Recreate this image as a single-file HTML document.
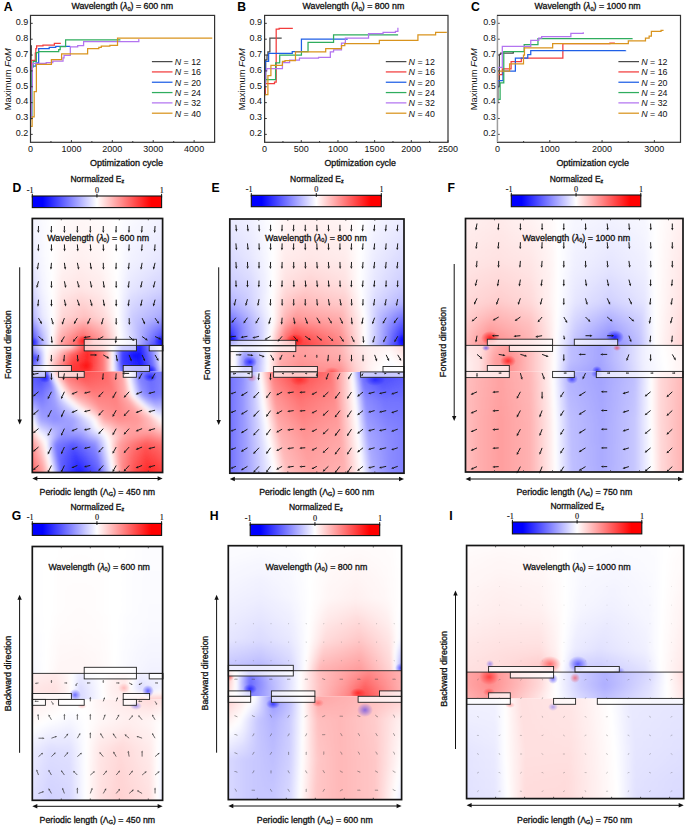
<!DOCTYPE html>
<html><head><meta charset="utf-8"><title>Figure</title>
<style>html,body{margin:0;padding:0;background:#fff;width:685px;height:825px;overflow:hidden}svg{display:block;font-family:"Liberation Sans",sans-serif}</style>
</head><body>
<svg width="685" height="825" viewBox="0 0 685 825">
<defs>
<filter id="fb" x="-5%" y="-5%" width="110%" height="110%"><feGaussianBlur stdDeviation="1.6 2.2"/></filter>
<radialGradient id="hotR"><stop offset="0" stop-color="#f00" stop-opacity="1"/><stop offset="0.45" stop-color="#f00" stop-opacity="0.55"/><stop offset="1" stop-color="#f00" stop-opacity="0"/></radialGradient>
<radialGradient id="hotB"><stop offset="0" stop-color="#00f" stop-opacity="1"/><stop offset="0.45" stop-color="#00f" stop-opacity="0.55"/><stop offset="1" stop-color="#00f" stop-opacity="0"/></radialGradient>
<linearGradient id="cbar" x1="0" x2="1" y1="0" y2="0"><stop offset="0" stop-color="#0000ff"/><stop offset="0.08" stop-color="#0000ff"/><stop offset="0.5" stop-color="#ffffff"/><stop offset="0.92" stop-color="#ff0000"/><stop offset="1" stop-color="#ff0000"/></linearGradient>
<clipPath id="c1"><rect x="32.3" y="218.5" width="130.3" height="126.9"/></clipPath>
<linearGradient id="g2" gradientUnits="userSpaceOnUse" x1="32.3" x2="162.6"><stop offset="0" stop-color="#f5f5ff"/><stop offset=".074" stop-color="#fafaff"/><stop offset=".151" stop-color="#ffffff"/><stop offset=".228" stop-color="#fffafa"/><stop offset=".366" stop-color="#fff7f7"/><stop offset=".52" stop-color="#fffafa"/><stop offset=".65" stop-color="#ffffff"/><stop offset=".75" stop-color="#fafaff"/><stop offset="1" stop-color="#f2f2ff"/></linearGradient>
<linearGradient id="g3" gradientUnits="userSpaceOnUse" x1="32.3" x2="162.6"><stop offset="0" stop-color="#f4f4ff"/><stop offset=".074" stop-color="#fafaff"/><stop offset=".151" stop-color="#ffffff"/><stop offset=".228" stop-color="#fffafa"/><stop offset=".366" stop-color="#fff7f7"/><stop offset=".52" stop-color="#fffafa"/><stop offset=".65" stop-color="#ffffff"/><stop offset=".75" stop-color="#fafaff"/><stop offset="1" stop-color="#f2f2ff"/></linearGradient>
<linearGradient id="g4" gradientUnits="userSpaceOnUse" x1="32.3" x2="162.6"><stop offset="0" stop-color="#f4f4ff"/><stop offset=".074" stop-color="#fafaff"/><stop offset=".151" stop-color="#ffffff"/><stop offset=".228" stop-color="#fff9f9"/><stop offset=".366" stop-color="#fff6f6"/><stop offset=".52" stop-color="#fff9f9"/><stop offset=".65" stop-color="#ffffff"/><stop offset=".75" stop-color="#f9f9ff"/><stop offset="1" stop-color="#f1f1ff"/></linearGradient>
<linearGradient id="g5" gradientUnits="userSpaceOnUse" x1="32.3" x2="162.6"><stop offset="0" stop-color="#f3f3ff"/><stop offset=".074" stop-color="#f9f9ff"/><stop offset=".151" stop-color="#ffffff"/><stop offset=".228" stop-color="#fff9f9"/><stop offset=".366" stop-color="#fff6f6"/><stop offset=".52" stop-color="#fff9f9"/><stop offset=".65" stop-color="#ffffff"/><stop offset=".75" stop-color="#f8f8ff"/><stop offset="1" stop-color="#f0f0ff"/></linearGradient>
<linearGradient id="g6" gradientUnits="userSpaceOnUse" x1="32.3" x2="162.6"><stop offset="0" stop-color="#f2f2ff"/><stop offset=".074" stop-color="#f9f9ff"/><stop offset=".151" stop-color="#ffffff"/><stop offset=".228" stop-color="#fff8f8"/><stop offset=".366" stop-color="#fff5f5"/><stop offset=".52" stop-color="#fff8f8"/><stop offset=".65" stop-color="#ffffff"/><stop offset=".75" stop-color="#f8f8ff"/><stop offset="1" stop-color="#efefff"/></linearGradient>
<linearGradient id="g7" gradientUnits="userSpaceOnUse" x1="32.3" x2="162.6"><stop offset="0" stop-color="#f1f1ff"/><stop offset=".074" stop-color="#f9f9ff"/><stop offset=".151" stop-color="#ffffff"/><stop offset=".228" stop-color="#fff8f8"/><stop offset=".366" stop-color="#fff4f4"/><stop offset=".52" stop-color="#fff8f8"/><stop offset=".65" stop-color="#ffffff"/><stop offset=".75" stop-color="#f7f7ff"/><stop offset="1" stop-color="#ededff"/></linearGradient>
<linearGradient id="g8" gradientUnits="userSpaceOnUse" x1="32.3" x2="162.6"><stop offset="0" stop-color="#f0f0ff"/><stop offset=".074" stop-color="#f9f9ff"/><stop offset=".151" stop-color="#ffffff"/><stop offset=".228" stop-color="#fff8f8"/><stop offset=".366" stop-color="#fff4f4"/><stop offset=".52" stop-color="#fff8f8"/><stop offset=".65" stop-color="#ffffff"/><stop offset=".75" stop-color="#f6f6ff"/><stop offset="1" stop-color="#ececff"/></linearGradient>
<linearGradient id="g9" gradientUnits="userSpaceOnUse" x1="32.3" x2="162.6"><stop offset="0" stop-color="#efefff"/><stop offset=".074" stop-color="#f9f9ff"/><stop offset=".151" stop-color="#ffffff"/><stop offset=".228" stop-color="#fff7f7"/><stop offset=".366" stop-color="#fff3f3"/><stop offset=".52" stop-color="#fff7f7"/><stop offset=".65" stop-color="#ffffff"/><stop offset=".75" stop-color="#f6f6ff"/><stop offset="1" stop-color="#ebebff"/></linearGradient>
<linearGradient id="g10" gradientUnits="userSpaceOnUse" x1="32.3" x2="162.6"><stop offset="0" stop-color="#eeeeff"/><stop offset=".074" stop-color="#f8f8ff"/><stop offset=".151" stop-color="#ffffff"/><stop offset=".228" stop-color="#fff7f7"/><stop offset=".366" stop-color="#fff3f3"/><stop offset=".52" stop-color="#fff7f7"/><stop offset=".65" stop-color="#ffffff"/><stop offset=".75" stop-color="#f5f5ff"/><stop offset="1" stop-color="#eaeaff"/></linearGradient>
<linearGradient id="g11" gradientUnits="userSpaceOnUse" x1="32.3" x2="162.6"><stop offset="0" stop-color="#eeeeff"/><stop offset=".074" stop-color="#f8f8ff"/><stop offset=".151" stop-color="#ffffff"/><stop offset=".228" stop-color="#fff6f6"/><stop offset=".366" stop-color="#fff2f2"/><stop offset=".52" stop-color="#fff6f6"/><stop offset=".65" stop-color="#ffffff"/><stop offset=".75" stop-color="#f4f4ff"/><stop offset="1" stop-color="#e9e9ff"/></linearGradient>
<linearGradient id="g12" gradientUnits="userSpaceOnUse" x1="32.3" x2="162.6"><stop offset="0" stop-color="#ededff"/><stop offset=".074" stop-color="#f8f8ff"/><stop offset=".151" stop-color="#ffffff"/><stop offset=".228" stop-color="#fff6f6"/><stop offset=".366" stop-color="#fff1f1"/><stop offset=".52" stop-color="#fff6f6"/><stop offset=".65" stop-color="#ffffff"/><stop offset=".75" stop-color="#f4f4ff"/><stop offset="1" stop-color="#e8e8ff"/></linearGradient>
<linearGradient id="g13" gradientUnits="userSpaceOnUse" x1="32.3" x2="162.6"><stop offset="0" stop-color="#ececff"/><stop offset=".074" stop-color="#f8f8ff"/><stop offset=".151" stop-color="#ffffff"/><stop offset=".228" stop-color="#fff5f5"/><stop offset=".366" stop-color="#fff1f1"/><stop offset=".52" stop-color="#fff5f5"/><stop offset=".65" stop-color="#ffffff"/><stop offset=".75" stop-color="#f3f3ff"/><stop offset="1" stop-color="#e7e7ff"/></linearGradient>
<linearGradient id="g14" gradientUnits="userSpaceOnUse" x1="32.3" x2="162.6"><stop offset="0" stop-color="#ebebff"/><stop offset=".074" stop-color="#f7f7ff"/><stop offset=".151" stop-color="#ffffff"/><stop offset=".228" stop-color="#fff5f5"/><stop offset=".366" stop-color="#fff0f0"/><stop offset=".52" stop-color="#fff5f5"/><stop offset=".65" stop-color="#ffffff"/><stop offset=".75" stop-color="#f3f3ff"/><stop offset="1" stop-color="#e6e6ff"/></linearGradient>
<linearGradient id="g15" gradientUnits="userSpaceOnUse" x1="32.3" x2="162.6"><stop offset="0" stop-color="#eaeaff"/><stop offset=".074" stop-color="#f7f7ff"/><stop offset=".151" stop-color="#ffffff"/><stop offset=".228" stop-color="#fff4f4"/><stop offset=".366" stop-color="#ffefef"/><stop offset=".52" stop-color="#fff4f4"/><stop offset=".65" stop-color="#ffffff"/><stop offset=".75" stop-color="#f2f2ff"/><stop offset="1" stop-color="#e4e4ff"/></linearGradient>
<linearGradient id="g16" gradientUnits="userSpaceOnUse" x1="32.3" x2="162.6"><stop offset="0" stop-color="#e7e7ff"/><stop offset=".074" stop-color="#f6f6ff"/><stop offset=".151" stop-color="#ffffff"/><stop offset=".228" stop-color="#fff3f3"/><stop offset=".366" stop-color="#ffeded"/><stop offset=".52" stop-color="#fff3f3"/><stop offset=".65" stop-color="#ffffff"/><stop offset=".75" stop-color="#f0f0ff"/><stop offset="1" stop-color="#e2e2ff"/></linearGradient>
<linearGradient id="g17" gradientUnits="userSpaceOnUse" x1="32.3" x2="162.6"><stop offset="0" stop-color="#e5e5ff"/><stop offset=".074" stop-color="#f6f6ff"/><stop offset=".151" stop-color="#ffffff"/><stop offset=".228" stop-color="#fff2f2"/><stop offset=".366" stop-color="#ffecec"/><stop offset=".52" stop-color="#fff2f2"/><stop offset=".65" stop-color="#ffffff"/><stop offset=".75" stop-color="#efefff"/><stop offset="1" stop-color="#e0e0ff"/></linearGradient>
<linearGradient id="g18" gradientUnits="userSpaceOnUse" x1="32.3" x2="162.6"><stop offset="0" stop-color="#e3e3ff"/><stop offset=".074" stop-color="#f5f5ff"/><stop offset=".151" stop-color="#ffffff"/><stop offset=".228" stop-color="#fff1f1"/><stop offset=".366" stop-color="#ffeaea"/><stop offset=".52" stop-color="#fff1f1"/><stop offset=".65" stop-color="#ffffff"/><stop offset=".75" stop-color="#ededff"/><stop offset="1" stop-color="#ddddff"/></linearGradient>
<linearGradient id="g19" gradientUnits="userSpaceOnUse" x1="32.3" x2="162.6"><stop offset="0" stop-color="#e1e1ff"/><stop offset=".074" stop-color="#f5f5ff"/><stop offset=".151" stop-color="#ffffff"/><stop offset=".228" stop-color="#ffefef"/><stop offset=".366" stop-color="#ffe9e9"/><stop offset=".52" stop-color="#ffefef"/><stop offset=".65" stop-color="#ffffff"/><stop offset=".75" stop-color="#ececff"/><stop offset="1" stop-color="#dbdbff"/></linearGradient>
<linearGradient id="g20" gradientUnits="userSpaceOnUse" x1="32.3" x2="162.6"><stop offset="0" stop-color="#dfdfff"/><stop offset=".074" stop-color="#f4f4ff"/><stop offset=".151" stop-color="#ffffff"/><stop offset=".228" stop-color="#ffeeee"/><stop offset=".366" stop-color="#ffe8e8"/><stop offset=".52" stop-color="#ffeeee"/><stop offset=".65" stop-color="#ffffff"/><stop offset=".75" stop-color="#eaeaff"/><stop offset="1" stop-color="#d8d8ff"/></linearGradient>
<linearGradient id="g21" gradientUnits="userSpaceOnUse" x1="32.3" x2="162.6"><stop offset="0" stop-color="#ddddff"/><stop offset=".074" stop-color="#f3f3ff"/><stop offset=".151" stop-color="#ffffff"/><stop offset=".228" stop-color="#ffeded"/><stop offset=".366" stop-color="#ffe6e6"/><stop offset=".52" stop-color="#ffeded"/><stop offset=".65" stop-color="#ffffff"/><stop offset=".75" stop-color="#e9e9ff"/><stop offset="1" stop-color="#d6d6ff"/></linearGradient>
<linearGradient id="g22" gradientUnits="userSpaceOnUse" x1="32.3" x2="162.6"><stop offset="0" stop-color="#dbdbff"/><stop offset=".074" stop-color="#f3f3ff"/><stop offset=".151" stop-color="#ffffff"/><stop offset=".228" stop-color="#ffecec"/><stop offset=".366" stop-color="#ffe5e5"/><stop offset=".52" stop-color="#ffecec"/><stop offset=".65" stop-color="#ffffff"/><stop offset=".75" stop-color="#e7e7ff"/><stop offset="1" stop-color="#d4d4ff"/></linearGradient>
<linearGradient id="g23" gradientUnits="userSpaceOnUse" x1="32.3" x2="162.6"><stop offset="0" stop-color="#d9d9ff"/><stop offset=".074" stop-color="#f2f2ff"/><stop offset=".151" stop-color="#ffffff"/><stop offset=".228" stop-color="#ffebeb"/><stop offset=".366" stop-color="#ffe3e3"/><stop offset=".52" stop-color="#ffebeb"/><stop offset=".65" stop-color="#ffffff"/><stop offset=".75" stop-color="#e6e6ff"/><stop offset="1" stop-color="#d1d1ff"/></linearGradient>
<linearGradient id="g24" gradientUnits="userSpaceOnUse" x1="32.3" x2="162.6"><stop offset="0" stop-color="#d4d4ff"/><stop offset=".074" stop-color="#f1f1ff"/><stop offset=".152" stop-color="#ffffff"/><stop offset=".228" stop-color="#ffe8e8"/><stop offset=".371" stop-color="#ffdfdf"/><stop offset=".524" stop-color="#ffe9e9"/><stop offset=".651" stop-color="#ffffff"/><stop offset=".752" stop-color="#e3e3ff"/><stop offset="1" stop-color="#ccccff"/></linearGradient>
<linearGradient id="g25" gradientUnits="userSpaceOnUse" x1="32.3" x2="162.6"><stop offset="0" stop-color="#d0d0ff"/><stop offset=".074" stop-color="#efefff"/><stop offset=".153" stop-color="#ffffff"/><stop offset=".228" stop-color="#ffe6e6"/><stop offset=".375" stop-color="#ffdada"/><stop offset=".529" stop-color="#ffe7e7"/><stop offset=".652" stop-color="#ffffff"/><stop offset=".754" stop-color="#dfdfff"/><stop offset="1" stop-color="#c7c7ff"/></linearGradient>
<linearGradient id="g26" gradientUnits="userSpaceOnUse" x1="32.3" x2="162.6"><stop offset="0" stop-color="#cbcbff"/><stop offset=".074" stop-color="#eeeeff"/><stop offset=".154" stop-color="#ffffff"/><stop offset=".228" stop-color="#ffe3e3"/><stop offset=".38" stop-color="#ffd6d6"/><stop offset=".534" stop-color="#ffe5e5"/><stop offset=".653" stop-color="#ffffff"/><stop offset=".755" stop-color="#dcdcff"/><stop offset="1" stop-color="#c1c1ff"/></linearGradient>
<linearGradient id="g27" gradientUnits="userSpaceOnUse" x1="32.3" x2="162.6"><stop offset="0" stop-color="#c6c6ff"/><stop offset=".074" stop-color="#ececff"/><stop offset=".155" stop-color="#ffffff"/><stop offset=".228" stop-color="#ffe1e1"/><stop offset=".385" stop-color="#ffd1d1"/><stop offset=".538" stop-color="#ffe3e3"/><stop offset=".654" stop-color="#ffffff"/><stop offset=".757" stop-color="#d9d9ff"/><stop offset="1" stop-color="#bcbcff"/></linearGradient>
<linearGradient id="g28" gradientUnits="userSpaceOnUse" x1="32.3" x2="162.6"><stop offset="0" stop-color="#c1c1ff"/><stop offset=".074" stop-color="#eaeaff"/><stop offset=".156" stop-color="#ffffff"/><stop offset=".228" stop-color="#ffdede"/><stop offset=".39" stop-color="#ffcdcd"/><stop offset=".543" stop-color="#ffe1e1"/><stop offset=".655" stop-color="#ffffff"/><stop offset=".759" stop-color="#d6d6ff"/><stop offset="1" stop-color="#b6b6ff"/></linearGradient>
<linearGradient id="g29" gradientUnits="userSpaceOnUse" x1="32.3" x2="162.6"><stop offset="0" stop-color="#bcbcff"/><stop offset=".074" stop-color="#e9e9ff"/><stop offset=".157" stop-color="#ffffff"/><stop offset=".228" stop-color="#ffdbdb"/><stop offset=".395" stop-color="#ffc8c8"/><stop offset=".548" stop-color="#ffdfdf"/><stop offset=".656" stop-color="#ffffff"/><stop offset=".761" stop-color="#d3d3ff"/><stop offset="1" stop-color="#b1b1ff"/></linearGradient>
<linearGradient id="g30" gradientUnits="userSpaceOnUse" x1="32.3" x2="162.6"><stop offset="0" stop-color="#b8b8ff"/><stop offset=".074" stop-color="#e7e7ff"/><stop offset=".158" stop-color="#ffffff"/><stop offset=".228" stop-color="#ffd9d9"/><stop offset=".399" stop-color="#ffc4c4"/><stop offset=".553" stop-color="#ffdddd"/><stop offset=".657" stop-color="#ffffff"/><stop offset=".763" stop-color="#cfcfff"/><stop offset="1" stop-color="#acacff"/></linearGradient>
<linearGradient id="g31" gradientUnits="userSpaceOnUse" x1="32.3" x2="162.6"><stop offset="0" stop-color="#b3b3ff"/><stop offset=".074" stop-color="#e6e6ff"/><stop offset=".159" stop-color="#ffffff"/><stop offset=".228" stop-color="#ffd6d6"/><stop offset=".404" stop-color="#ffc0c0"/><stop offset=".558" stop-color="#ffdbdb"/><stop offset=".658" stop-color="#ffffff"/><stop offset=".765" stop-color="#ccccff"/><stop offset="1" stop-color="#a6a6ff"/></linearGradient>
<linearGradient id="g32" gradientUnits="userSpaceOnUse" x1="32.3" x2="162.6"><stop offset="0" stop-color="#a2a2ff"/><stop offset=".074" stop-color="#ddddff"/><stop offset=".158" stop-color="#ffffff"/><stop offset=".225" stop-color="#ffd0d0"/><stop offset=".401" stop-color="#ffb1b1"/><stop offset=".552" stop-color="#ffd1d1"/><stop offset=".66" stop-color="#ffffff"/><stop offset=".773" stop-color="#cacaff"/><stop offset="1" stop-color="#9595ff"/></linearGradient>
<linearGradient id="g33" gradientUnits="userSpaceOnUse" x1="32.3" x2="162.6"><stop offset="0" stop-color="#9090ff"/><stop offset=".074" stop-color="#d4d4ff"/><stop offset=".156" stop-color="#ffffff"/><stop offset=".223" stop-color="#ffcaca"/><stop offset=".397" stop-color="#ffa1a1"/><stop offset=".545" stop-color="#ffc5c5"/><stop offset=".663" stop-color="#ffffff"/><stop offset=".781" stop-color="#c8c8ff"/><stop offset="1" stop-color="#8383ff"/></linearGradient>
<linearGradient id="g34" gradientUnits="userSpaceOnUse" x1="32.3" x2="162.6"><stop offset="0" stop-color="#7e7eff"/><stop offset=".074" stop-color="#cbcbff"/><stop offset=".155" stop-color="#ffffff"/><stop offset=".22" stop-color="#ffc4c4"/><stop offset=".393" stop-color="#ff9292"/><stop offset=".538" stop-color="#ffb9b9"/><stop offset=".666" stop-color="#ffffff"/><stop offset=".789" stop-color="#c5c5ff"/><stop offset="1" stop-color="#7171ff"/></linearGradient>
<linearGradient id="g35" gradientUnits="userSpaceOnUse" x1="32.3" x2="162.6"><stop offset="0" stop-color="#6c6cff"/><stop offset=".074" stop-color="#c2c2ff"/><stop offset=".154" stop-color="#ffffff"/><stop offset=".217" stop-color="#ffbebe"/><stop offset=".389" stop-color="#ff8282"/><stop offset=".532" stop-color="#ffaeae"/><stop offset=".668" stop-color="#ffffff"/><stop offset=".797" stop-color="#c3c3ff"/><stop offset="1" stop-color="#6060ff"/></linearGradient>
<linearGradient id="g36" gradientUnits="userSpaceOnUse" x1="32.3" x2="162.6"><stop offset="0" stop-color="#5b5bff"/><stop offset=".074" stop-color="#babaff"/><stop offset=".152" stop-color="#ffffff"/><stop offset=".215" stop-color="#ffb7b7"/><stop offset=".385" stop-color="#ff7272"/><stop offset=".525" stop-color="#ffa2a2"/><stop offset=".671" stop-color="#ffffff"/><stop offset=".805" stop-color="#c1c1ff"/><stop offset="1" stop-color="#4e4eff"/></linearGradient>
<linearGradient id="g37" gradientUnits="userSpaceOnUse" x1="32.3" x2="162.6"><stop offset="0" stop-color="#4a4aff"/><stop offset=".074" stop-color="#b1b1ff"/><stop offset=".151" stop-color="#ffffff"/><stop offset=".213" stop-color="#ffb1b1"/><stop offset=".381" stop-color="#ff6464"/><stop offset=".52" stop-color="#ff9898"/><stop offset=".673" stop-color="#ffffff"/><stop offset=".811" stop-color="#bebeff"/><stop offset="1" stop-color="#3c3cff"/></linearGradient>
<linearGradient id="g38" gradientUnits="userSpaceOnUse" x1="32.3" x2="162.6"><stop offset="0" stop-color="#3f3fff"/><stop offset=".074" stop-color="#acacff"/><stop offset=".151" stop-color="#ffffff"/><stop offset=".213" stop-color="#ffacac"/><stop offset=".381" stop-color="#ff5858"/><stop offset=".52" stop-color="#ff9292"/><stop offset=".673" stop-color="#ffffff"/><stop offset=".811" stop-color="#b8b8ff"/><stop offset="1" stop-color="#2b2bff"/></linearGradient>
<linearGradient id="g39" gradientUnits="userSpaceOnUse" x1="32.3" x2="162.6"><stop offset="0" stop-color="#3434ff"/><stop offset=".074" stop-color="#a6a6ff"/><stop offset=".151" stop-color="#ffffff"/><stop offset=".213" stop-color="#ffa6a6"/><stop offset=".381" stop-color="#ff4d4d"/><stop offset=".52" stop-color="#ff8d8d"/><stop offset=".673" stop-color="#ffffff"/><stop offset=".811" stop-color="#b3b3ff"/><stop offset="1" stop-color="#1b1bff"/></linearGradient>
<linearGradient id="g40" gradientUnits="userSpaceOnUse" x1="32.3" x2="162.6"><stop offset="0" stop-color="#3333ff"/><stop offset=".074" stop-color="#a6a6ff"/><stop offset=".151" stop-color="#ffffff"/><stop offset=".213" stop-color="#ffa6a6"/><stop offset=".381" stop-color="#ff4d4d"/><stop offset=".52" stop-color="#ff8c8c"/><stop offset=".673" stop-color="#ffffff"/><stop offset=".811" stop-color="#b2b2ff"/><stop offset="1" stop-color="#1919ff"/></linearGradient>
<clipPath id="c41"><rect x="32.3" y="345.4" width="130.3" height="26"/></clipPath>
<linearGradient id="g42" gradientUnits="userSpaceOnUse" x1="32.3" x2="162.6"><stop offset="0" stop-color="#b2b2ff"/><stop offset=".059" stop-color="#e6e6ff"/><stop offset=".105" stop-color="#ffffff"/><stop offset=".167" stop-color="#fff7f7"/><stop offset=".289" stop-color="#ffebeb"/><stop offset=".412" stop-color="#ff4040"/><stop offset=".535" stop-color="#ff8c8c"/><stop offset=".619" stop-color="#ffffff"/><stop offset=".688" stop-color="#6666ff"/><stop offset=".827" stop-color="#2626ff"/><stop offset=".926" stop-color="#a6a6ff"/><stop offset=".986" stop-color="#ffffff"/><stop offset="1" stop-color="#ffe6e6"/></linearGradient>
<linearGradient id="g43" gradientUnits="userSpaceOnUse" x1="32.3" x2="162.6"><stop offset="0" stop-color="#ababff"/><stop offset=".059" stop-color="#e1e1ff"/><stop offset=".105" stop-color="#ffffff"/><stop offset=".168" stop-color="#fff5f5"/><stop offset=".291" stop-color="#ffdede"/><stop offset=".414" stop-color="#ff3d3d"/><stop offset=".536" stop-color="#ff8b8b"/><stop offset=".619" stop-color="#ffffff"/><stop offset=".688" stop-color="#6262ff"/><stop offset=".827" stop-color="#2525ff"/><stop offset=".926" stop-color="#a3a3ff"/><stop offset=".987" stop-color="#ffffff"/><stop offset="1" stop-color="#ffe7e7"/></linearGradient>
<linearGradient id="g44" gradientUnits="userSpaceOnUse" x1="32.3" x2="162.6"><stop offset="0" stop-color="#8585ff"/><stop offset=".059" stop-color="#c7c7ff"/><stop offset=".105" stop-color="#ffffff"/><stop offset=".176" stop-color="#ffe5e5"/><stop offset=".298" stop-color="#ff9c9c"/><stop offset=".421" stop-color="#ff3131"/><stop offset=".544" stop-color="#ff8585"/><stop offset=".619" stop-color="#ffffff"/><stop offset=".688" stop-color="#4f4fff"/><stop offset=".827" stop-color="#1f1fff"/><stop offset=".926" stop-color="#9797ff"/><stop offset=".992" stop-color="#ffffff"/><stop offset="1" stop-color="#ffeded"/></linearGradient>
<linearGradient id="g45" gradientUnits="userSpaceOnUse" x1="32.3" x2="162.6"><stop offset="0" stop-color="#6464ff"/><stop offset=".059" stop-color="#b2b2ff"/><stop offset=".105" stop-color="#ffffff"/><stop offset=".182" stop-color="#ffd6d6"/><stop offset=".305" stop-color="#ff6464"/><stop offset=".427" stop-color="#ff2626"/><stop offset=".55" stop-color="#ff8080"/><stop offset=".619" stop-color="#ffffff"/><stop offset=".688" stop-color="#4040ff"/><stop offset=".827" stop-color="#1919ff"/><stop offset=".926" stop-color="#8b8bff"/><stop offset=".996" stop-color="#ffffff"/><stop offset="1" stop-color="#fff3f3"/></linearGradient>
<linearGradient id="g46" gradientUnits="userSpaceOnUse" x1="32.3" x2="162.6"><stop offset="0" stop-color="#5c5cff"/><stop offset=".059" stop-color="#aeaeff"/><stop offset=".105" stop-color="#ffffff"/><stop offset=".182" stop-color="#ffcaca"/><stop offset=".305" stop-color="#ff5858"/><stop offset=".427" stop-color="#ff2626"/><stop offset=".55" stop-color="#ff8080"/><stop offset=".619" stop-color="#ffffff"/><stop offset=".688" stop-color="#4040ff"/><stop offset=".827" stop-color="#1919ff"/><stop offset=".926" stop-color="#8383ff"/><stop offset=".998" stop-color="#ffffff"/><stop offset="1" stop-color="#fff7f7"/></linearGradient>
<linearGradient id="g47" gradientUnits="userSpaceOnUse" x1="32.3" x2="162.6"><stop offset="0" stop-color="#5454ff"/><stop offset=".059" stop-color="#aaaaff"/><stop offset=".105" stop-color="#ffffff"/><stop offset=".182" stop-color="#ffbebe"/><stop offset=".305" stop-color="#ff4b4b"/><stop offset=".427" stop-color="#ff2626"/><stop offset=".55" stop-color="#ff8080"/><stop offset=".619" stop-color="#ffffff"/><stop offset=".688" stop-color="#4040ff"/><stop offset=".827" stop-color="#1919ff"/><stop offset=".926" stop-color="#7b7bff"/><stop offset="1" stop-color="#ffffff"/><stop offset="1" stop-color="#fffbfb"/></linearGradient>
<linearGradient id="g48" gradientUnits="userSpaceOnUse" x1="32.3" x2="162.6"><stop offset="0" stop-color="#4e4eff"/><stop offset=".059" stop-color="#a6a6ff"/><stop offset=".105" stop-color="#ffffff"/><stop offset=".182" stop-color="#ffb2b2"/><stop offset=".305" stop-color="#ff3f3f"/><stop offset=".427" stop-color="#ff2727"/><stop offset=".55" stop-color="#ff8080"/><stop offset=".619" stop-color="#ffffff"/><stop offset=".688" stop-color="#4141ff"/><stop offset=".827" stop-color="#1a1aff"/><stop offset=".926" stop-color="#7272ff"/><stop offset="1" stop-color="#fefeff"/></linearGradient>
<linearGradient id="g49" gradientUnits="userSpaceOnUse" x1="32.3" x2="162.6"><stop offset="0" stop-color="#6e6eff"/><stop offset=".059" stop-color="#acacff"/><stop offset=".105" stop-color="#ffffff"/><stop offset=".182" stop-color="#ffa5a5"/><stop offset=".305" stop-color="#ff3939"/><stop offset=".427" stop-color="#ff2d2d"/><stop offset=".55" stop-color="#ff8080"/><stop offset=".619" stop-color="#ffffff"/><stop offset=".688" stop-color="#5454ff"/><stop offset=".827" stop-color="#2020ff"/><stop offset=".926" stop-color="#5f5fff"/><stop offset="1" stop-color="#f2f2ff"/></linearGradient>
<linearGradient id="g50" gradientUnits="userSpaceOnUse" x1="32.3" x2="162.6"><stop offset="0" stop-color="#8c8cff"/><stop offset=".059" stop-color="#b2b2ff"/><stop offset=".105" stop-color="#ffffff"/><stop offset=".182" stop-color="#ff9999"/><stop offset=".305" stop-color="#ff3333"/><stop offset=".427" stop-color="#ff3333"/><stop offset=".55" stop-color="#ff8080"/><stop offset=".619" stop-color="#ffffff"/><stop offset=".688" stop-color="#6666ff"/><stop offset=".827" stop-color="#2626ff"/><stop offset=".926" stop-color="#4d4dff"/><stop offset="1" stop-color="#e6e6ff"/></linearGradient>
<clipPath id="c51"><rect x="32.3" y="371.4" width="130.3" height="101.1"/></clipPath>
<linearGradient id="g52" gradientUnits="userSpaceOnUse" x1="32.3" x2="162.6"><stop offset="0" stop-color="#5959ff"/><stop offset=".059" stop-color="#4040ff"/><stop offset=".105" stop-color="#4d4dff"/><stop offset=".151" stop-color="#ffffff"/><stop offset=".228" stop-color="#ff8080"/><stop offset=".366" stop-color="#ff4d4d"/><stop offset=".558" stop-color="#ff6666"/><stop offset=".688" stop-color="#ffa6a6"/><stop offset=".734" stop-color="#ffffff"/><stop offset=".811" stop-color="#8080ff"/><stop offset=".903" stop-color="#6666ff"/><stop offset="1" stop-color="#8080ff"/></linearGradient>
<linearGradient id="g53" gradientUnits="userSpaceOnUse" x1="32.3" x2="162.6"><stop offset="0" stop-color="#5d5dff"/><stop offset=".061" stop-color="#4747ff"/><stop offset=".115" stop-color="#5959ff"/><stop offset=".164" stop-color="#ffffff"/><stop offset=".242" stop-color="#ff8585"/><stop offset=".383" stop-color="#ff5454"/><stop offset=".569" stop-color="#ff6a6a"/><stop offset=".693" stop-color="#ffa8a8"/><stop offset=".739" stop-color="#ffffff"/><stop offset=".816" stop-color="#8383ff"/><stop offset=".905" stop-color="#6868ff"/><stop offset="1" stop-color="#8080ff"/></linearGradient>
<linearGradient id="g54" gradientUnits="userSpaceOnUse" x1="32.3" x2="162.6"><stop offset="0" stop-color="#6161ff"/><stop offset=".064" stop-color="#4f4fff"/><stop offset=".126" stop-color="#6767ff"/><stop offset=".178" stop-color="#ffffff"/><stop offset=".258" stop-color="#ff8b8b"/><stop offset=".401" stop-color="#ff5c5c"/><stop offset=".581" stop-color="#ff6e6e"/><stop offset=".698" stop-color="#ffaaaa"/><stop offset=".745" stop-color="#ffffff"/><stop offset=".82" stop-color="#8787ff"/><stop offset=".908" stop-color="#6a6aff"/><stop offset="1" stop-color="#8080ff"/></linearGradient>
<linearGradient id="g55" gradientUnits="userSpaceOnUse" x1="32.3" x2="162.6"><stop offset="0" stop-color="#6565ff"/><stop offset=".066" stop-color="#5757ff"/><stop offset=".137" stop-color="#7676ff"/><stop offset=".192" stop-color="#ffffff"/><stop offset=".274" stop-color="#ff9191"/><stop offset=".419" stop-color="#ff6464"/><stop offset=".593" stop-color="#ff7272"/><stop offset=".703" stop-color="#ffacac"/><stop offset=".75" stop-color="#ffffff"/><stop offset=".825" stop-color="#8b8bff"/><stop offset=".91" stop-color="#6c6cff"/><stop offset="1" stop-color="#8080ff"/></linearGradient>
<linearGradient id="g56" gradientUnits="userSpaceOnUse" x1="32.3" x2="162.6"><stop offset="0" stop-color="#6969ff"/><stop offset=".069" stop-color="#5f5fff"/><stop offset=".148" stop-color="#8484ff"/><stop offset=".206" stop-color="#ffffff"/><stop offset=".29" stop-color="#ff9797"/><stop offset=".438" stop-color="#ff6c6c"/><stop offset=".606" stop-color="#ff7676"/><stop offset=".707" stop-color="#ffaeae"/><stop offset=".756" stop-color="#ffffff"/><stop offset=".83" stop-color="#8f8fff"/><stop offset=".913" stop-color="#6e6eff"/><stop offset="1" stop-color="#8080ff"/></linearGradient>
<linearGradient id="g57" gradientUnits="userSpaceOnUse" x1="32.3" x2="162.6"><stop offset="0" stop-color="#6d6dff"/><stop offset=".071" stop-color="#6868ff"/><stop offset=".159" stop-color="#9292ff"/><stop offset=".22" stop-color="#ffffff"/><stop offset=".306" stop-color="#ff9d9d"/><stop offset=".456" stop-color="#ff7474"/><stop offset=".618" stop-color="#ff7a7a"/><stop offset=".712" stop-color="#ffb0b0"/><stop offset=".761" stop-color="#ffffff"/><stop offset=".835" stop-color="#9393ff"/><stop offset=".915" stop-color="#7070ff"/><stop offset="1" stop-color="#8080ff"/></linearGradient>
<linearGradient id="g58" gradientUnits="userSpaceOnUse" x1="32.3" x2="162.6"><stop offset="0" stop-color="#7171ff"/><stop offset=".074" stop-color="#7070ff"/><stop offset=".17" stop-color="#a0a0ff"/><stop offset=".234" stop-color="#ffffff"/><stop offset=".322" stop-color="#ffa3a3"/><stop offset=".474" stop-color="#ff7c7c"/><stop offset=".63" stop-color="#ff7e7e"/><stop offset=".717" stop-color="#ffb2b2"/><stop offset=".767" stop-color="#ffffff"/><stop offset=".84" stop-color="#9797ff"/><stop offset=".918" stop-color="#7272ff"/><stop offset="1" stop-color="#8080ff"/></linearGradient>
<linearGradient id="g59" gradientUnits="userSpaceOnUse" x1="32.3" x2="162.6"><stop offset="0" stop-color="#7f7fff"/><stop offset=".073" stop-color="#7777ff"/><stop offset=".174" stop-color="#a4a4ff"/><stop offset=".247" stop-color="#f7f7ff"/><stop offset=".255" stop-color="#ffffff"/><stop offset=".341" stop-color="#ffadad"/><stop offset=".488" stop-color="#ff8383"/><stop offset=".638" stop-color="#ff8181"/><stop offset=".728" stop-color="#ffb0b0"/><stop offset=".782" stop-color="#fffafa"/><stop offset=".786" stop-color="#ffffff"/><stop offset=".852" stop-color="#a4a4ff"/><stop offset=".925" stop-color="#7f7fff"/><stop offset="1" stop-color="#8a8aff"/></linearGradient>
<linearGradient id="g60" gradientUnits="userSpaceOnUse" x1="32.3" x2="162.6"><stop offset="0" stop-color="#9292ff"/><stop offset=".071" stop-color="#7e7eff"/><stop offset=".174" stop-color="#a0a0ff"/><stop offset=".259" stop-color="#ebebff"/><stop offset=".283" stop-color="#ffffff"/><stop offset=".362" stop-color="#ffbaba"/><stop offset=".499" stop-color="#ff8888"/><stop offset=".643" stop-color="#ff8282"/><stop offset=".743" stop-color="#ffadad"/><stop offset=".803" stop-color="#fff1f1"/><stop offset=".814" stop-color="#ffffff"/><stop offset=".87" stop-color="#b6b6ff"/><stop offset=".934" stop-color="#9494ff"/><stop offset="1" stop-color="#9c9cff"/></linearGradient>
<linearGradient id="g61" gradientUnits="userSpaceOnUse" x1="32.3" x2="162.6"><stop offset="0" stop-color="#a6a6ff"/><stop offset=".069" stop-color="#8585ff"/><stop offset=".174" stop-color="#9c9cff"/><stop offset=".272" stop-color="#dedeff"/><stop offset=".313" stop-color="#ffffff"/><stop offset=".384" stop-color="#ffc6c6"/><stop offset=".509" stop-color="#ff8d8d"/><stop offset=".649" stop-color="#ff8484"/><stop offset=".758" stop-color="#ffa9a9"/><stop offset=".824" stop-color="#ffe8e8"/><stop offset=".842" stop-color="#ffffff"/><stop offset=".887" stop-color="#c8c8ff"/><stop offset=".944" stop-color="#a8a8ff"/><stop offset="1" stop-color="#aeaeff"/></linearGradient>
<linearGradient id="g62" gradientUnits="userSpaceOnUse" x1="32.3" x2="162.6"><stop offset="0" stop-color="#babaff"/><stop offset=".067" stop-color="#8d8dff"/><stop offset=".174" stop-color="#9999ff"/><stop offset=".284" stop-color="#d2d2ff"/><stop offset=".345" stop-color="#ffffff"/><stop offset=".405" stop-color="#ffd3d3"/><stop offset=".52" stop-color="#ff9393"/><stop offset=".654" stop-color="#ff8686"/><stop offset=".773" stop-color="#ffa6a6"/><stop offset=".845" stop-color="#ffdfdf"/><stop offset=".872" stop-color="#ffffff"/><stop offset=".904" stop-color="#dadaff"/><stop offset=".954" stop-color="#bcbcff"/><stop offset="1" stop-color="#c0c0ff"/></linearGradient>
<linearGradient id="g63" gradientUnits="userSpaceOnUse" x1="32.3" x2="162.6"><stop offset="0" stop-color="#cdcdff"/><stop offset=".065" stop-color="#9494ff"/><stop offset=".174" stop-color="#9595ff"/><stop offset=".296" stop-color="#c5c5ff"/><stop offset=".381" stop-color="#ffffff"/><stop offset=".427" stop-color="#ffdfdf"/><stop offset=".531" stop-color="#ff9898"/><stop offset=".659" stop-color="#ff8888"/><stop offset=".789" stop-color="#ffa2a2"/><stop offset=".866" stop-color="#ffd6d6"/><stop offset=".903" stop-color="#ffffff"/><stop offset=".921" stop-color="#ebebff"/><stop offset=".963" stop-color="#d1d1ff"/><stop offset="1" stop-color="#d2d2ff"/></linearGradient>
<linearGradient id="g64" gradientUnits="userSpaceOnUse" x1="32.3" x2="162.6"><stop offset="0" stop-color="#e1e1ff"/><stop offset=".062" stop-color="#9b9bff"/><stop offset=".174" stop-color="#9292ff"/><stop offset=".309" stop-color="#b9b9ff"/><stop offset=".418" stop-color="#ffffff"/><stop offset=".448" stop-color="#ffecec"/><stop offset=".542" stop-color="#ff9e9e"/><stop offset=".665" stop-color="#ff8a8a"/><stop offset=".804" stop-color="#ff9e9e"/><stop offset=".887" stop-color="#ffcdcd"/><stop offset=".937" stop-color="#ffffff"/><stop offset=".938" stop-color="#fdfdff"/><stop offset=".973" stop-color="#e5e5ff"/><stop offset="1" stop-color="#e4e4ff"/></linearGradient>
<linearGradient id="g65" gradientUnits="userSpaceOnUse" x1="32.3" x2="162.6"><stop offset="0" stop-color="#f5f5ff"/><stop offset=".06" stop-color="#a2a2ff"/><stop offset=".174" stop-color="#8e8eff"/><stop offset=".321" stop-color="#acacff"/><stop offset=".459" stop-color="#ffffff"/><stop offset=".47" stop-color="#fff8f8"/><stop offset=".552" stop-color="#ffa3a3"/><stop offset=".67" stop-color="#ff8b8b"/><stop offset=".819" stop-color="#ff9b9b"/><stop offset=".908" stop-color="#ffc4c4"/><stop offset=".956" stop-color="#ffefef"/><stop offset=".976" stop-color="#ffffff"/><stop offset=".983" stop-color="#f9f9ff"/><stop offset="1" stop-color="#f6f6ff"/></linearGradient>
<linearGradient id="g66" gradientUnits="userSpaceOnUse" x1="32.3" x2="162.6"><stop offset="0" stop-color="#fff8f8"/><stop offset=".003" stop-color="#ffffff"/><stop offset=".059" stop-color="#afafff"/><stop offset=".169" stop-color="#9494ff"/><stop offset=".317" stop-color="#a3a3ff"/><stop offset=".469" stop-color="#f4f4ff"/><stop offset=".48" stop-color="#ffffff"/><stop offset=".553" stop-color="#ffb4b4"/><stop offset=".667" stop-color="#ff9494"/><stop offset=".815" stop-color="#ff9a9a"/><stop offset=".907" stop-color="#ffbbbb"/><stop offset=".958" stop-color="#ffdcdc"/><stop offset=".985" stop-color="#fff0f0"/><stop offset="1" stop-color="#fff5f5"/></linearGradient>
<linearGradient id="g67" gradientUnits="userSpaceOnUse" x1="32.3" x2="162.6"><stop offset="0" stop-color="#ffe9e9"/><stop offset=".014" stop-color="#ffffff"/><stop offset=".059" stop-color="#c4c4ff"/><stop offset=".159" stop-color="#a5a5ff"/><stop offset=".295" stop-color="#9e9eff"/><stop offset=".443" stop-color="#dbdbff"/><stop offset=".486" stop-color="#ffffff"/><stop offset=".541" stop-color="#ffd2d2"/><stop offset=".655" stop-color="#ffa5a5"/><stop offset=".79" stop-color="#ff9c9c"/><stop offset=".882" stop-color="#ffb2b2"/><stop offset=".943" stop-color="#ffc7c7"/><stop offset=".978" stop-color="#ffdada"/><stop offset="1" stop-color="#ffe1e1"/></linearGradient>
<linearGradient id="g68" gradientUnits="userSpaceOnUse" x1="32.3" x2="162.6"><stop offset="0" stop-color="#ffdada"/><stop offset=".028" stop-color="#ffffff"/><stop offset=".059" stop-color="#d8d8ff"/><stop offset=".149" stop-color="#b6b6ff"/><stop offset=".272" stop-color="#9898ff"/><stop offset=".418" stop-color="#c3c3ff"/><stop offset=".507" stop-color="#ffffff"/><stop offset=".53" stop-color="#ffefef"/><stop offset=".642" stop-color="#ffb6b6"/><stop offset=".766" stop-color="#ff9e9e"/><stop offset=".858" stop-color="#ffa8a8"/><stop offset=".929" stop-color="#ffb3b3"/><stop offset=".971" stop-color="#ffc5c5"/><stop offset="1" stop-color="#ffcccc"/></linearGradient>
<linearGradient id="g69" gradientUnits="userSpaceOnUse" x1="32.3" x2="162.6"><stop offset="0" stop-color="#ffcbcb"/><stop offset=".043" stop-color="#ffffff"/><stop offset=".059" stop-color="#ededff"/><stop offset=".138" stop-color="#c6c6ff"/><stop offset=".25" stop-color="#9292ff"/><stop offset=".392" stop-color="#ababff"/><stop offset=".519" stop-color="#f1f1ff"/><stop offset=".541" stop-color="#ffffff"/><stop offset=".63" stop-color="#ffc6c6"/><stop offset=".741" stop-color="#ff9f9f"/><stop offset=".833" stop-color="#ff9f9f"/><stop offset=".914" stop-color="#ff9e9e"/><stop offset=".964" stop-color="#ffafaf"/><stop offset="1" stop-color="#ffb8b8"/></linearGradient>
<linearGradient id="g70" gradientUnits="userSpaceOnUse" x1="32.3" x2="162.6"><stop offset="0" stop-color="#ffbcbc"/><stop offset=".059" stop-color="#fffdfd"/><stop offset=".063" stop-color="#ffffff"/><stop offset=".128" stop-color="#d7d7ff"/><stop offset=".228" stop-color="#8d8dff"/><stop offset=".366" stop-color="#9393ff"/><stop offset=".508" stop-color="#d3d3ff"/><stop offset=".565" stop-color="#ffffff"/><stop offset=".617" stop-color="#ffd7d7"/><stop offset=".716" stop-color="#ffa1a1"/><stop offset=".809" stop-color="#ff9696"/><stop offset=".9" stop-color="#ff8a8a"/><stop offset=".958" stop-color="#ff9999"/><stop offset="1" stop-color="#ffa4a4"/></linearGradient>
<linearGradient id="g71" gradientUnits="userSpaceOnUse" x1="32.3" x2="162.6"><stop offset="0" stop-color="#ffaeae"/><stop offset=".059" stop-color="#ffe8e8"/><stop offset=".088" stop-color="#ffffff"/><stop offset=".118" stop-color="#e8e8ff"/><stop offset=".205" stop-color="#8787ff"/><stop offset=".34" stop-color="#7b7bff"/><stop offset=".497" stop-color="#b5b5ff"/><stop offset=".579" stop-color="#ffffff"/><stop offset=".604" stop-color="#ffe8e8"/><stop offset=".692" stop-color="#ffa3a3"/><stop offset=".784" stop-color="#ff8c8c"/><stop offset=".885" stop-color="#ff7676"/><stop offset=".951" stop-color="#ff8484"/><stop offset="1" stop-color="#ff8f8f"/></linearGradient>
<linearGradient id="g72" gradientUnits="userSpaceOnUse" x1="32.3" x2="162.6"><stop offset="0" stop-color="#ff9f9f"/><stop offset=".059" stop-color="#ffd4d4"/><stop offset=".101" stop-color="#ffffff"/><stop offset=".108" stop-color="#f9f9ff"/><stop offset=".183" stop-color="#8282ff"/><stop offset=".315" stop-color="#6363ff"/><stop offset=".486" stop-color="#9898ff"/><stop offset=".586" stop-color="#ffffff"/><stop offset=".592" stop-color="#fff9f9"/><stop offset=".667" stop-color="#ffa5a5"/><stop offset=".759" stop-color="#ff8383"/><stop offset=".871" stop-color="#ff6161"/><stop offset=".944" stop-color="#ff6e6e"/><stop offset="1" stop-color="#ff7b7b"/></linearGradient>
<linearGradient id="g73" gradientUnits="userSpaceOnUse" x1="32.3" x2="162.6"><stop offset="0" stop-color="#ff9595"/><stop offset=".061" stop-color="#ffc9c9"/><stop offset=".107" stop-color="#ffffff"/><stop offset=".178" stop-color="#7d7dff"/><stop offset=".309" stop-color="#5454ff"/><stop offset=".484" stop-color="#8989ff"/><stop offset=".589" stop-color="#ffffff"/><stop offset=".66" stop-color="#ffa4a4"/><stop offset=".753" stop-color="#ff7c7c"/><stop offset=".867" stop-color="#ff5555"/><stop offset=".943" stop-color="#ff6262"/><stop offset="1" stop-color="#ff6f6f"/></linearGradient>
<linearGradient id="g74" gradientUnits="userSpaceOnUse" x1="32.3" x2="162.6"><stop offset="0" stop-color="#ff8f8f"/><stop offset=".065" stop-color="#ffc4c4"/><stop offset=".113" stop-color="#ffffff"/><stop offset=".185" stop-color="#7878ff"/><stop offset=".317" stop-color="#4c4cff"/><stop offset=".489" stop-color="#8585ff"/><stop offset=".593" stop-color="#ffffff"/><stop offset=".664" stop-color="#ffa1a1"/><stop offset=".758" stop-color="#ff7575"/><stop offset=".87" stop-color="#ff4f4f"/><stop offset=".945" stop-color="#ff5c5c"/><stop offset="1" stop-color="#ff6868"/></linearGradient>
<linearGradient id="g75" gradientUnits="userSpaceOnUse" x1="32.3" x2="162.6"><stop offset="0" stop-color="#ff8888"/><stop offset=".069" stop-color="#ffc0c0"/><stop offset=".118" stop-color="#ffffff"/><stop offset=".192" stop-color="#7373ff"/><stop offset=".325" stop-color="#4444ff"/><stop offset=".494" stop-color="#8080ff"/><stop offset=".597" stop-color="#ffffff"/><stop offset=".668" stop-color="#ff9d9d"/><stop offset=".762" stop-color="#ff6f6f"/><stop offset=".872" stop-color="#ff4949"/><stop offset=".947" stop-color="#ff5555"/><stop offset="1" stop-color="#ff6262"/></linearGradient>
<linearGradient id="g76" gradientUnits="userSpaceOnUse" x1="32.3" x2="162.6"><stop offset="0" stop-color="#ff8282"/><stop offset=".073" stop-color="#ffbbbb"/><stop offset=".124" stop-color="#ffffff"/><stop offset=".198" stop-color="#6e6eff"/><stop offset=".332" stop-color="#3c3cff"/><stop offset=".499" stop-color="#7b7bff"/><stop offset=".601" stop-color="#ffffff"/><stop offset=".672" stop-color="#ff9a9a"/><stop offset=".767" stop-color="#ff6868"/><stop offset=".875" stop-color="#ff4242"/><stop offset=".949" stop-color="#ff4f4f"/><stop offset="1" stop-color="#ff5c5c"/></linearGradient>
<linearGradient id="g77" gradientUnits="userSpaceOnUse" x1="32.3" x2="162.6"><stop offset="0" stop-color="#ff7c7c"/><stop offset=".077" stop-color="#ffb6b6"/><stop offset=".13" stop-color="#ffffff"/><stop offset=".205" stop-color="#6969ff"/><stop offset=".34" stop-color="#3434ff"/><stop offset=".503" stop-color="#7676ff"/><stop offset=".605" stop-color="#ffffff"/><stop offset=".675" stop-color="#ff9797"/><stop offset=".772" stop-color="#ff6262"/><stop offset=".878" stop-color="#ff3c3c"/><stop offset=".951" stop-color="#ff4949"/><stop offset="1" stop-color="#ff5555"/></linearGradient>
<linearGradient id="g78" gradientUnits="userSpaceOnUse" x1="32.3" x2="162.6"><stop offset="0" stop-color="#ff7575"/><stop offset=".081" stop-color="#ffb1b1"/><stop offset=".135" stop-color="#ffffff"/><stop offset=".212" stop-color="#6565ff"/><stop offset=".348" stop-color="#2d2dff"/><stop offset=".508" stop-color="#7171ff"/><stop offset=".609" stop-color="#ffffff"/><stop offset=".679" stop-color="#ff9494"/><stop offset=".777" stop-color="#ff5c5c"/><stop offset=".881" stop-color="#ff3535"/><stop offset=".952" stop-color="#ff4242"/><stop offset="1" stop-color="#ff4f4f"/></linearGradient>
<linearGradient id="g79" gradientUnits="userSpaceOnUse" x1="32.3" x2="162.6"><stop offset="0" stop-color="#ff6f6f"/><stop offset=".084" stop-color="#ffacac"/><stop offset=".141" stop-color="#ffffff"/><stop offset=".219" stop-color="#6060ff"/><stop offset=".355" stop-color="#2525ff"/><stop offset=".513" stop-color="#6d6dff"/><stop offset=".612" stop-color="#ffffff"/><stop offset=".683" stop-color="#ff9191"/><stop offset=".782" stop-color="#ff5555"/><stop offset=".884" stop-color="#ff2f2f"/><stop offset=".954" stop-color="#ff3c3c"/><stop offset="1" stop-color="#ff4949"/></linearGradient>
<linearGradient id="g80" gradientUnits="userSpaceOnUse" x1="32.3" x2="162.6"><stop offset="0" stop-color="#ff6868"/><stop offset=".088" stop-color="#ffa8a8"/><stop offset=".147" stop-color="#ffffff"/><stop offset=".225" stop-color="#5b5bff"/><stop offset=".363" stop-color="#1d1dff"/><stop offset=".518" stop-color="#6868ff"/><stop offset=".616" stop-color="#ffffff"/><stop offset=".687" stop-color="#ff8d8d"/><stop offset=".786" stop-color="#ff4f4f"/><stop offset=".887" stop-color="#ff2929"/><stop offset=".956" stop-color="#ff3535"/><stop offset="1" stop-color="#ff4242"/></linearGradient>
<linearGradient id="g81" gradientUnits="userSpaceOnUse" x1="32.3" x2="162.6"><stop offset="0" stop-color="#ff6666"/><stop offset=".09" stop-color="#ffa6a6"/><stop offset=".149" stop-color="#ffffff"/><stop offset=".228" stop-color="#5959ff"/><stop offset=".366" stop-color="#1919ff"/><stop offset=".52" stop-color="#6666ff"/><stop offset=".618" stop-color="#ffffff"/><stop offset=".688" stop-color="#ff8c8c"/><stop offset=".788" stop-color="#ff4d4d"/><stop offset=".888" stop-color="#ff2626"/><stop offset=".957" stop-color="#ff3333"/><stop offset="1" stop-color="#ff4040"/></linearGradient>
<clipPath id="c82"><rect x="229.8" y="219" width="174.2" height="126.7"/></clipPath>
<linearGradient id="g83" gradientUnits="userSpaceOnUse" x1="229.8" x2="404"><stop offset="0" stop-color="#ebebff"/><stop offset=".116" stop-color="#f0f0ff"/><stop offset=".202" stop-color="#fafaff"/><stop offset=".248" stop-color="#ffffff"/><stop offset=".317" stop-color="#fff5f5"/><stop offset=".46" stop-color="#fff0f0"/><stop offset=".661" stop-color="#fff5f5"/><stop offset=".747" stop-color="#ffffff"/><stop offset=".834" stop-color="#f5f5ff"/><stop offset="1" stop-color="#ebebff"/></linearGradient>
<linearGradient id="g84" gradientUnits="userSpaceOnUse" x1="229.8" x2="404"><stop offset="0" stop-color="#eaeaff"/><stop offset=".116" stop-color="#efefff"/><stop offset=".202" stop-color="#fafaff"/><stop offset=".248" stop-color="#ffffff"/><stop offset=".317" stop-color="#fff4f4"/><stop offset=".46" stop-color="#ffefef"/><stop offset=".661" stop-color="#fff4f4"/><stop offset=".747" stop-color="#ffffff"/><stop offset=".834" stop-color="#f4f4ff"/><stop offset="1" stop-color="#eaeaff"/></linearGradient>
<linearGradient id="g85" gradientUnits="userSpaceOnUse" x1="229.8" x2="404"><stop offset="0" stop-color="#e9e9ff"/><stop offset=".116" stop-color="#efefff"/><stop offset=".202" stop-color="#f9f9ff"/><stop offset=".248" stop-color="#ffffff"/><stop offset=".317" stop-color="#fff4f4"/><stop offset=".46" stop-color="#ffefef"/><stop offset=".661" stop-color="#fff4f4"/><stop offset=".747" stop-color="#ffffff"/><stop offset=".834" stop-color="#f4f4ff"/><stop offset="1" stop-color="#e9e9ff"/></linearGradient>
<linearGradient id="g86" gradientUnits="userSpaceOnUse" x1="229.8" x2="404"><stop offset="0" stop-color="#e7e7ff"/><stop offset=".116" stop-color="#eeeeff"/><stop offset=".202" stop-color="#f9f9ff"/><stop offset=".248" stop-color="#ffffff"/><stop offset=".317" stop-color="#fff3f3"/><stop offset=".46" stop-color="#ffeeee"/><stop offset=".661" stop-color="#fff3f3"/><stop offset=".747" stop-color="#ffffff"/><stop offset=".834" stop-color="#f3f3ff"/><stop offset="1" stop-color="#e7e7ff"/></linearGradient>
<linearGradient id="g87" gradientUnits="userSpaceOnUse" x1="229.8" x2="404"><stop offset="0" stop-color="#e5e5ff"/><stop offset=".116" stop-color="#ededff"/><stop offset=".202" stop-color="#f8f8ff"/><stop offset=".248" stop-color="#ffffff"/><stop offset=".317" stop-color="#fff2f2"/><stop offset=".46" stop-color="#ffeded"/><stop offset=".661" stop-color="#fff2f2"/><stop offset=".747" stop-color="#ffffff"/><stop offset=".834" stop-color="#f2f2ff"/><stop offset="1" stop-color="#e5e5ff"/></linearGradient>
<linearGradient id="g88" gradientUnits="userSpaceOnUse" x1="229.8" x2="404"><stop offset="0" stop-color="#e4e4ff"/><stop offset=".116" stop-color="#ececff"/><stop offset=".202" stop-color="#f8f8ff"/><stop offset=".248" stop-color="#ffffff"/><stop offset=".317" stop-color="#fff1f1"/><stop offset=".46" stop-color="#ffecec"/><stop offset=".661" stop-color="#fff1f1"/><stop offset=".747" stop-color="#ffffff"/><stop offset=".834" stop-color="#f1f1ff"/><stop offset="1" stop-color="#e4e4ff"/></linearGradient>
<linearGradient id="g89" gradientUnits="userSpaceOnUse" x1="229.8" x2="404"><stop offset="0" stop-color="#e2e2ff"/><stop offset=".116" stop-color="#ebebff"/><stop offset=".202" stop-color="#f8f8ff"/><stop offset=".248" stop-color="#ffffff"/><stop offset=".317" stop-color="#fff0f0"/><stop offset=".46" stop-color="#ffebeb"/><stop offset=".661" stop-color="#fff0f0"/><stop offset=".747" stop-color="#ffffff"/><stop offset=".834" stop-color="#f0f0ff"/><stop offset="1" stop-color="#e2e2ff"/></linearGradient>
<linearGradient id="g90" gradientUnits="userSpaceOnUse" x1="229.8" x2="404"><stop offset="0" stop-color="#e1e1ff"/><stop offset=".116" stop-color="#eaeaff"/><stop offset=".202" stop-color="#f7f7ff"/><stop offset=".248" stop-color="#ffffff"/><stop offset=".317" stop-color="#ffefef"/><stop offset=".46" stop-color="#ffeaea"/><stop offset=".661" stop-color="#ffefef"/><stop offset=".747" stop-color="#ffffff"/><stop offset=".834" stop-color="#efefff"/><stop offset="1" stop-color="#e1e1ff"/></linearGradient>
<linearGradient id="g91" gradientUnits="userSpaceOnUse" x1="229.8" x2="404"><stop offset="0" stop-color="#dfdfff"/><stop offset=".116" stop-color="#e9e9ff"/><stop offset=".202" stop-color="#f7f7ff"/><stop offset=".248" stop-color="#ffffff"/><stop offset=".317" stop-color="#ffeeee"/><stop offset=".46" stop-color="#ffe9e9"/><stop offset=".661" stop-color="#ffeeee"/><stop offset=".747" stop-color="#ffffff"/><stop offset=".834" stop-color="#eeeeff"/><stop offset="1" stop-color="#dfdfff"/></linearGradient>
<linearGradient id="g92" gradientUnits="userSpaceOnUse" x1="229.8" x2="404"><stop offset="0" stop-color="#dedeff"/><stop offset=".116" stop-color="#e8e8ff"/><stop offset=".202" stop-color="#f6f6ff"/><stop offset=".248" stop-color="#ffffff"/><stop offset=".317" stop-color="#ffeeee"/><stop offset=".46" stop-color="#ffe8e8"/><stop offset=".661" stop-color="#ffeeee"/><stop offset=".747" stop-color="#ffffff"/><stop offset=".834" stop-color="#eeeeff"/><stop offset="1" stop-color="#dedeff"/></linearGradient>
<linearGradient id="g93" gradientUnits="userSpaceOnUse" x1="229.8" x2="404"><stop offset="0" stop-color="#dcdcff"/><stop offset=".116" stop-color="#e8e8ff"/><stop offset=".202" stop-color="#f6f6ff"/><stop offset=".248" stop-color="#ffffff"/><stop offset=".317" stop-color="#ffeded"/><stop offset=".46" stop-color="#ffe8e8"/><stop offset=".661" stop-color="#ffeded"/><stop offset=".747" stop-color="#ffffff"/><stop offset=".834" stop-color="#ededff"/><stop offset="1" stop-color="#dcdcff"/></linearGradient>
<linearGradient id="g94" gradientUnits="userSpaceOnUse" x1="229.8" x2="404"><stop offset="0" stop-color="#dbdbff"/><stop offset=".116" stop-color="#e7e7ff"/><stop offset=".202" stop-color="#f5f5ff"/><stop offset=".248" stop-color="#ffffff"/><stop offset=".317" stop-color="#ffecec"/><stop offset=".46" stop-color="#ffe7e7"/><stop offset=".661" stop-color="#ffecec"/><stop offset=".747" stop-color="#ffffff"/><stop offset=".834" stop-color="#ececff"/><stop offset="1" stop-color="#dbdbff"/></linearGradient>
<linearGradient id="g95" gradientUnits="userSpaceOnUse" x1="229.8" x2="404"><stop offset="0" stop-color="#d9d9ff"/><stop offset=".116" stop-color="#e6e6ff"/><stop offset=".202" stop-color="#f5f5ff"/><stop offset=".248" stop-color="#ffffff"/><stop offset=".317" stop-color="#ffebeb"/><stop offset=".46" stop-color="#ffe6e6"/><stop offset=".661" stop-color="#ffebeb"/><stop offset=".747" stop-color="#ffffff"/><stop offset=".834" stop-color="#ebebff"/><stop offset="1" stop-color="#d9d9ff"/></linearGradient>
<linearGradient id="g96" gradientUnits="userSpaceOnUse" x1="229.8" x2="404"><stop offset="0" stop-color="#d8d8ff"/><stop offset=".116" stop-color="#e4e4ff"/><stop offset=".202" stop-color="#f4f4ff"/><stop offset=".248" stop-color="#ffffff"/><stop offset=".317" stop-color="#ffeaea"/><stop offset=".46" stop-color="#ffe4e4"/><stop offset=".661" stop-color="#ffeaea"/><stop offset=".747" stop-color="#ffffff"/><stop offset=".834" stop-color="#eaeaff"/><stop offset="1" stop-color="#d8d8ff"/></linearGradient>
<linearGradient id="g97" gradientUnits="userSpaceOnUse" x1="229.8" x2="404"><stop offset="0" stop-color="#d6d6ff"/><stop offset=".116" stop-color="#e2e2ff"/><stop offset=".202" stop-color="#f4f4ff"/><stop offset=".248" stop-color="#ffffff"/><stop offset=".317" stop-color="#ffe8e8"/><stop offset=".46" stop-color="#ffe1e1"/><stop offset=".661" stop-color="#ffe8e8"/><stop offset=".747" stop-color="#ffffff"/><stop offset=".834" stop-color="#e9e9ff"/><stop offset="1" stop-color="#d6d6ff"/></linearGradient>
<linearGradient id="g98" gradientUnits="userSpaceOnUse" x1="229.8" x2="404"><stop offset="0" stop-color="#d4d4ff"/><stop offset=".116" stop-color="#e1e1ff"/><stop offset=".202" stop-color="#f3f3ff"/><stop offset=".248" stop-color="#ffffff"/><stop offset=".317" stop-color="#ffe7e7"/><stop offset=".46" stop-color="#ffdede"/><stop offset=".661" stop-color="#ffe7e7"/><stop offset=".747" stop-color="#ffffff"/><stop offset=".834" stop-color="#e9e9ff"/><stop offset="1" stop-color="#d4d4ff"/></linearGradient>
<linearGradient id="g99" gradientUnits="userSpaceOnUse" x1="229.8" x2="404"><stop offset="0" stop-color="#d2d2ff"/><stop offset=".116" stop-color="#dfdfff"/><stop offset=".202" stop-color="#f2f2ff"/><stop offset=".248" stop-color="#ffffff"/><stop offset=".317" stop-color="#ffe5e5"/><stop offset=".46" stop-color="#ffdbdb"/><stop offset=".661" stop-color="#ffe5e5"/><stop offset=".747" stop-color="#ffffff"/><stop offset=".834" stop-color="#e8e8ff"/><stop offset="1" stop-color="#d2d2ff"/></linearGradient>
<linearGradient id="g100" gradientUnits="userSpaceOnUse" x1="229.8" x2="404"><stop offset="0" stop-color="#d0d0ff"/><stop offset=".116" stop-color="#ddddff"/><stop offset=".202" stop-color="#f1f1ff"/><stop offset=".248" stop-color="#ffffff"/><stop offset=".317" stop-color="#ffe4e4"/><stop offset=".46" stop-color="#ffd8d8"/><stop offset=".661" stop-color="#ffe4e4"/><stop offset=".747" stop-color="#ffffff"/><stop offset=".834" stop-color="#e7e7ff"/><stop offset="1" stop-color="#d0d0ff"/></linearGradient>
<linearGradient id="g101" gradientUnits="userSpaceOnUse" x1="229.8" x2="404"><stop offset="0" stop-color="#ceceff"/><stop offset=".116" stop-color="#dbdbff"/><stop offset=".202" stop-color="#f1f1ff"/><stop offset=".248" stop-color="#ffffff"/><stop offset=".317" stop-color="#ffe2e2"/><stop offset=".46" stop-color="#ffd5d5"/><stop offset=".661" stop-color="#ffe2e2"/><stop offset=".747" stop-color="#ffffff"/><stop offset=".834" stop-color="#e6e6ff"/><stop offset="1" stop-color="#ceceff"/></linearGradient>
<linearGradient id="g102" gradientUnits="userSpaceOnUse" x1="229.8" x2="404"><stop offset="0" stop-color="#ccccff"/><stop offset=".116" stop-color="#d9d9ff"/><stop offset=".202" stop-color="#f0f0ff"/><stop offset=".248" stop-color="#ffffff"/><stop offset=".317" stop-color="#ffe1e1"/><stop offset=".46" stop-color="#ffd2d2"/><stop offset=".661" stop-color="#ffe1e1"/><stop offset=".747" stop-color="#ffffff"/><stop offset=".834" stop-color="#e6e6ff"/><stop offset="1" stop-color="#ccccff"/></linearGradient>
<linearGradient id="g103" gradientUnits="userSpaceOnUse" x1="229.8" x2="404"><stop offset="0" stop-color="#c8c8ff"/><stop offset=".112" stop-color="#d6d6ff"/><stop offset=".198" stop-color="#eeeeff"/><stop offset=".247" stop-color="#ffffff"/><stop offset=".317" stop-color="#ffdddd"/><stop offset=".452" stop-color="#ffcdcd"/><stop offset=".661" stop-color="#ffdddd"/><stop offset=".749" stop-color="#ffffff"/><stop offset=".834" stop-color="#e4e4ff"/><stop offset="1" stop-color="#c8c8ff"/></linearGradient>
<linearGradient id="g104" gradientUnits="userSpaceOnUse" x1="229.8" x2="404"><stop offset="0" stop-color="#c4c4ff"/><stop offset=".107" stop-color="#d3d3ff"/><stop offset=".193" stop-color="#ececff"/><stop offset=".246" stop-color="#ffffff"/><stop offset=".317" stop-color="#ffdada"/><stop offset=".442" stop-color="#ffc9c9"/><stop offset=".661" stop-color="#ffdada"/><stop offset=".751" stop-color="#ffffff"/><stop offset=".834" stop-color="#e1e1ff"/><stop offset="1" stop-color="#c4c4ff"/></linearGradient>
<linearGradient id="g105" gradientUnits="userSpaceOnUse" x1="229.8" x2="404"><stop offset="0" stop-color="#bfbfff"/><stop offset=".101" stop-color="#d0d0ff"/><stop offset=".187" stop-color="#eaeaff"/><stop offset=".245" stop-color="#ffffff"/><stop offset=".317" stop-color="#ffd6d6"/><stop offset=".431" stop-color="#ffc4c4"/><stop offset=".661" stop-color="#ffd6d6"/><stop offset=".753" stop-color="#ffffff"/><stop offset=".834" stop-color="#dfdfff"/><stop offset="1" stop-color="#bfbfff"/></linearGradient>
<linearGradient id="g106" gradientUnits="userSpaceOnUse" x1="229.8" x2="404"><stop offset="0" stop-color="#babaff"/><stop offset=".096" stop-color="#ccccff"/><stop offset=".182" stop-color="#e9e9ff"/><stop offset=".244" stop-color="#ffffff"/><stop offset=".317" stop-color="#ffd2d2"/><stop offset=".42" stop-color="#ffbfbf"/><stop offset=".661" stop-color="#ffd2d2"/><stop offset=".755" stop-color="#ffffff"/><stop offset=".834" stop-color="#ddddff"/><stop offset="1" stop-color="#babaff"/></linearGradient>
<linearGradient id="g107" gradientUnits="userSpaceOnUse" x1="229.8" x2="404"><stop offset="0" stop-color="#b6b6ff"/><stop offset=".091" stop-color="#c9c9ff"/><stop offset=".177" stop-color="#e7e7ff"/><stop offset=".243" stop-color="#ffffff"/><stop offset=".317" stop-color="#ffcece"/><stop offset=".41" stop-color="#ffbbbb"/><stop offset=".661" stop-color="#ffcece"/><stop offset=".758" stop-color="#ffffff"/><stop offset=".834" stop-color="#dadaff"/><stop offset="1" stop-color="#b6b6ff"/></linearGradient>
<linearGradient id="g108" gradientUnits="userSpaceOnUse" x1="229.8" x2="404"><stop offset="0" stop-color="#aeaeff"/><stop offset=".089" stop-color="#c5c5ff"/><stop offset=".175" stop-color="#e6e6ff"/><stop offset=".243" stop-color="#ffffff"/><stop offset=".317" stop-color="#ffcaca"/><stop offset=".401" stop-color="#ffb5b5"/><stop offset=".659" stop-color="#ffcaca"/><stop offset=".76" stop-color="#ffffff"/><stop offset=".836" stop-color="#d6d6ff"/><stop offset="1" stop-color="#adadff"/></linearGradient>
<linearGradient id="g109" gradientUnits="userSpaceOnUse" x1="229.8" x2="404"><stop offset="0" stop-color="#a1a1ff"/><stop offset=".095" stop-color="#c1c1ff"/><stop offset=".181" stop-color="#e6e6ff"/><stop offset=".244" stop-color="#ffffff"/><stop offset=".317" stop-color="#ffc5c5"/><stop offset=".395" stop-color="#ffaeae"/><stop offset=".653" stop-color="#ffc3c3"/><stop offset=".764" stop-color="#ffffff"/><stop offset=".842" stop-color="#cfcfff"/><stop offset="1" stop-color="#9d9dff"/></linearGradient>
<linearGradient id="g110" gradientUnits="userSpaceOnUse" x1="229.8" x2="404"><stop offset="0" stop-color="#9494ff"/><stop offset=".101" stop-color="#bdbdff"/><stop offset=".187" stop-color="#e6e6ff"/><stop offset=".245" stop-color="#ffffff"/><stop offset=".317" stop-color="#ffc0c0"/><stop offset=".389" stop-color="#ffa6a6"/><stop offset=".647" stop-color="#ffbcbc"/><stop offset=".767" stop-color="#ffffff"/><stop offset=".847" stop-color="#c9c9ff"/><stop offset="1" stop-color="#8d8dff"/></linearGradient>
<linearGradient id="g111" gradientUnits="userSpaceOnUse" x1="229.8" x2="404"><stop offset="0" stop-color="#8686ff"/><stop offset=".107" stop-color="#b9b9ff"/><stop offset=".193" stop-color="#e6e6ff"/><stop offset=".246" stop-color="#ffffff"/><stop offset=".317" stop-color="#ffbaba"/><stop offset=".383" stop-color="#ff9f9f"/><stop offset=".641" stop-color="#ffb5b5"/><stop offset=".771" stop-color="#ffffff"/><stop offset=".853" stop-color="#c2c2ff"/><stop offset="1" stop-color="#7e7eff"/></linearGradient>
<linearGradient id="g112" gradientUnits="userSpaceOnUse" x1="229.8" x2="404"><stop offset="0" stop-color="#7979ff"/><stop offset=".113" stop-color="#b5b5ff"/><stop offset=".199" stop-color="#e6e6ff"/><stop offset=".247" stop-color="#ffffff"/><stop offset=".317" stop-color="#ffb5b5"/><stop offset=".377" stop-color="#ff9898"/><stop offset=".636" stop-color="#ffaeae"/><stop offset=".774" stop-color="#ffffff"/><stop offset=".859" stop-color="#bbbbff"/><stop offset="1" stop-color="#6e6eff"/></linearGradient>
<linearGradient id="g113" gradientUnits="userSpaceOnUse" x1="229.8" x2="404"><stop offset="0" stop-color="#6a6aff"/><stop offset=".11" stop-color="#aeaeff"/><stop offset=".199" stop-color="#e3e3ff"/><stop offset=".246" stop-color="#ffffff"/><stop offset=".317" stop-color="#ffacac"/><stop offset=".374" stop-color="#ff8c8c"/><stop offset=".633" stop-color="#ffa8a8"/><stop offset=".776" stop-color="#ffffff"/><stop offset=".865" stop-color="#b5b5ff"/><stop offset="1" stop-color="#5f5fff"/></linearGradient>
<linearGradient id="g114" gradientUnits="userSpaceOnUse" x1="229.8" x2="404"><stop offset="0" stop-color="#5959ff"/><stop offset=".099" stop-color="#a4a4ff"/><stop offset=".194" stop-color="#dedeff"/><stop offset=".243" stop-color="#ffffff"/><stop offset=".317" stop-color="#ffa0a0"/><stop offset=".374" stop-color="#ff7b7b"/><stop offset=".633" stop-color="#ffa2a2"/><stop offset=".776" stop-color="#ffffff"/><stop offset=".871" stop-color="#afafff"/><stop offset="1" stop-color="#5050ff"/></linearGradient>
<linearGradient id="g115" gradientUnits="userSpaceOnUse" x1="229.8" x2="404"><stop offset="0" stop-color="#4747ff"/><stop offset=".088" stop-color="#9a9aff"/><stop offset=".188" stop-color="#d9d9ff"/><stop offset=".24" stop-color="#ffffff"/><stop offset=".317" stop-color="#ff9494"/><stop offset=".374" stop-color="#ff6b6b"/><stop offset=".633" stop-color="#ff9c9c"/><stop offset=".776" stop-color="#ffffff"/><stop offset=".876" stop-color="#a9a9ff"/><stop offset="1" stop-color="#4141ff"/></linearGradient>
<linearGradient id="g116" gradientUnits="userSpaceOnUse" x1="229.8" x2="404"><stop offset="0" stop-color="#3636ff"/><stop offset=".077" stop-color="#9090ff"/><stop offset=".183" stop-color="#d4d4ff"/><stop offset=".236" stop-color="#ffffff"/><stop offset=".317" stop-color="#ff8787"/><stop offset=".374" stop-color="#ff5b5b"/><stop offset=".633" stop-color="#ff9696"/><stop offset=".776" stop-color="#ffffff"/><stop offset=".882" stop-color="#a3a3ff"/><stop offset="1" stop-color="#3232ff"/></linearGradient>
<linearGradient id="g117" gradientUnits="userSpaceOnUse" x1="229.8" x2="404"><stop offset="0" stop-color="#2525ff"/><stop offset=".066" stop-color="#8686ff"/><stop offset=".177" stop-color="#cfcfff"/><stop offset=".233" stop-color="#ffffff"/><stop offset=".317" stop-color="#ff7b7b"/><stop offset=".374" stop-color="#ff4a4a"/><stop offset=".633" stop-color="#ff9090"/><stop offset=".776" stop-color="#ffffff"/><stop offset=".887" stop-color="#9d9dff"/><stop offset="1" stop-color="#2323ff"/></linearGradient>
<linearGradient id="g118" gradientUnits="userSpaceOnUse" x1="229.8" x2="404"><stop offset="0" stop-color="#1818ff"/><stop offset=".059" stop-color="#7e7eff"/><stop offset=".173" stop-color="#ccccff"/><stop offset=".231" stop-color="#ffffff"/><stop offset=".317" stop-color="#ff7171"/><stop offset=".374" stop-color="#ff3e3e"/><stop offset=".633" stop-color="#ff8a8a"/><stop offset=".776" stop-color="#ffffff"/><stop offset=".891" stop-color="#9797ff"/><stop offset="1" stop-color="#1818ff"/></linearGradient>
<linearGradient id="g119" gradientUnits="userSpaceOnUse" x1="229.8" x2="404"><stop offset="0" stop-color="#1212ff"/><stop offset=".059" stop-color="#7878ff"/><stop offset=".173" stop-color="#ccccff"/><stop offset=".231" stop-color="#ffffff"/><stop offset=".317" stop-color="#ff6b6b"/><stop offset=".374" stop-color="#ff3838"/><stop offset=".633" stop-color="#ff8585"/><stop offset=".776" stop-color="#ffffff"/><stop offset=".891" stop-color="#9191ff"/><stop offset="1" stop-color="#1212ff"/></linearGradient>
<linearGradient id="g120" gradientUnits="userSpaceOnUse" x1="229.8" x2="404"><stop offset="0" stop-color="#0d0dff"/><stop offset=".059" stop-color="#7373ff"/><stop offset=".173" stop-color="#ccccff"/><stop offset=".231" stop-color="#ffffff"/><stop offset=".317" stop-color="#ff6666"/><stop offset=".374" stop-color="#ff3333"/><stop offset=".633" stop-color="#ff8080"/><stop offset=".776" stop-color="#ffffff"/><stop offset=".891" stop-color="#8c8cff"/><stop offset="1" stop-color="#0d0dff"/></linearGradient>
<clipPath id="c121"><rect x="229.8" y="345.7" width="174.2" height="26.2"/></clipPath>
<linearGradient id="g122" gradientUnits="userSpaceOnUse" x1="229.8" x2="404"><stop offset="0" stop-color="#ffe0e0"/><stop offset=".03" stop-color="#ffffff"/><stop offset=".087" stop-color="#d9d9ff"/><stop offset=".15" stop-color="#e6e6ff"/><stop offset=".219" stop-color="#ffffff"/><stop offset=".288" stop-color="#ffb2b2"/><stop offset=".403" stop-color="#ff9e9e"/><stop offset=".633" stop-color="#ffb2b2"/><stop offset=".719" stop-color="#ffe0e0"/><stop offset=".805" stop-color="#fff0f0"/><stop offset=".92" stop-color="#fff2f2"/><stop offset="1" stop-color="#ffd9d9"/></linearGradient>
<linearGradient id="g123" gradientUnits="userSpaceOnUse" x1="229.8" x2="404"><stop offset="0" stop-color="#ffe2e2"/><stop offset=".03" stop-color="#ffffff"/><stop offset=".087" stop-color="#d2d2ff"/><stop offset=".15" stop-color="#e0e0ff"/><stop offset=".219" stop-color="#ffffff"/><stop offset=".288" stop-color="#ffb2b2"/><stop offset=".403" stop-color="#ff9e9e"/><stop offset=".633" stop-color="#ffb2b2"/><stop offset=".719" stop-color="#ffe0e0"/><stop offset=".805" stop-color="#fff0f0"/><stop offset=".92" stop-color="#fff3f3"/><stop offset="1" stop-color="#ffdada"/></linearGradient>
<linearGradient id="g124" gradientUnits="userSpaceOnUse" x1="229.8" x2="404"><stop offset="0" stop-color="#ffe7e7"/><stop offset=".03" stop-color="#ffffff"/><stop offset=".087" stop-color="#b8b8ff"/><stop offset=".15" stop-color="#ceceff"/><stop offset=".219" stop-color="#ffffff"/><stop offset=".288" stop-color="#ffb1b1"/><stop offset=".403" stop-color="#ff9c9c"/><stop offset=".633" stop-color="#ffb0b0"/><stop offset=".719" stop-color="#ffdede"/><stop offset=".805" stop-color="#fff0f0"/><stop offset=".92" stop-color="#fff7f7"/><stop offset="1" stop-color="#ffdfdf"/></linearGradient>
<linearGradient id="g125" gradientUnits="userSpaceOnUse" x1="229.8" x2="404"><stop offset="0" stop-color="#ffecec"/><stop offset=".03" stop-color="#ffffff"/><stop offset=".087" stop-color="#9e9eff"/><stop offset=".15" stop-color="#bbbbff"/><stop offset=".219" stop-color="#ffffff"/><stop offset=".288" stop-color="#ffafaf"/><stop offset=".403" stop-color="#ff9b9b"/><stop offset=".633" stop-color="#ffadad"/><stop offset=".719" stop-color="#ffdbdb"/><stop offset=".805" stop-color="#fff0f0"/><stop offset=".92" stop-color="#fffbfb"/><stop offset="1" stop-color="#ffe5e5"/></linearGradient>
<linearGradient id="g126" gradientUnits="userSpaceOnUse" x1="229.8" x2="404"><stop offset="0" stop-color="#fff1f1"/><stop offset=".03" stop-color="#ffffff"/><stop offset=".087" stop-color="#8484ff"/><stop offset=".15" stop-color="#a9a9ff"/><stop offset=".219" stop-color="#ffffff"/><stop offset=".288" stop-color="#ffaeae"/><stop offset=".403" stop-color="#ff9999"/><stop offset=".633" stop-color="#ffabab"/><stop offset=".719" stop-color="#ffd9d9"/><stop offset=".805" stop-color="#fff0f0"/><stop offset=".92" stop-color="#fffefe"/><stop offset="1" stop-color="#ffeaea"/></linearGradient>
<linearGradient id="g127" gradientUnits="userSpaceOnUse" x1="229.8" x2="404"><stop offset="0" stop-color="#fff3f3"/><stop offset=".03" stop-color="#ffffff"/><stop offset=".087" stop-color="#8080ff"/><stop offset=".15" stop-color="#a8a8ff"/><stop offset=".219" stop-color="#ffffff"/><stop offset=".288" stop-color="#ffacac"/><stop offset=".403" stop-color="#ff9696"/><stop offset=".633" stop-color="#ffa4a4"/><stop offset=".719" stop-color="#ffd6d6"/><stop offset=".805" stop-color="#fff0f0"/><stop offset=".902" stop-color="#ffffff"/><stop offset=".92" stop-color="#fcfcff"/><stop offset=".932" stop-color="#ffffff"/><stop offset="1" stop-color="#ffefef"/></linearGradient>
<linearGradient id="g128" gradientUnits="userSpaceOnUse" x1="229.8" x2="404"><stop offset="0" stop-color="#fff5f5"/><stop offset=".03" stop-color="#ffffff"/><stop offset=".087" stop-color="#8080ff"/><stop offset=".15" stop-color="#acacff"/><stop offset=".219" stop-color="#ffffff"/><stop offset=".288" stop-color="#ffaaaa"/><stop offset=".403" stop-color="#ff9393"/><stop offset=".633" stop-color="#ff9d9d"/><stop offset=".719" stop-color="#ffd3d3"/><stop offset=".805" stop-color="#fff1f1"/><stop offset=".886" stop-color="#ffffff"/><stop offset=".92" stop-color="#f9f9ff"/><stop offset=".95" stop-color="#ffffff"/><stop offset="1" stop-color="#fff4f4"/></linearGradient>
<linearGradient id="g129" gradientUnits="userSpaceOnUse" x1="229.8" x2="404"><stop offset="0" stop-color="#fff6f6"/><stop offset=".03" stop-color="#ffffff"/><stop offset=".087" stop-color="#8080ff"/><stop offset=".15" stop-color="#afafff"/><stop offset=".219" stop-color="#ffffff"/><stop offset=".288" stop-color="#ffa8a8"/><stop offset=".403" stop-color="#ff9090"/><stop offset=".633" stop-color="#ff9595"/><stop offset=".719" stop-color="#ffd0d0"/><stop offset=".805" stop-color="#fff2f2"/><stop offset=".873" stop-color="#ffffff"/><stop offset=".92" stop-color="#f6f6ff"/><stop offset=".972" stop-color="#ffffff"/><stop offset="1" stop-color="#fff9f9"/></linearGradient>
<linearGradient id="g130" gradientUnits="userSpaceOnUse" x1="229.8" x2="404"><stop offset="0" stop-color="#fff7f7"/><stop offset=".03" stop-color="#ffffff"/><stop offset=".087" stop-color="#8080ff"/><stop offset=".15" stop-color="#b2b2ff"/><stop offset=".219" stop-color="#ffffff"/><stop offset=".288" stop-color="#ffa6a6"/><stop offset=".403" stop-color="#ff8d8d"/><stop offset=".633" stop-color="#ff8d8d"/><stop offset=".719" stop-color="#ffcdcd"/><stop offset=".805" stop-color="#fff2f2"/><stop offset=".864" stop-color="#ffffff"/><stop offset=".92" stop-color="#f3f3ff"/><stop offset="1" stop-color="#ffffff"/><stop offset="1" stop-color="#fffefe"/></linearGradient>
<linearGradient id="g131" gradientUnits="userSpaceOnUse" x1="229.8" x2="404"><stop offset="0" stop-color="#fff7f7"/><stop offset=".03" stop-color="#ffffff"/><stop offset=".087" stop-color="#8080ff"/><stop offset=".15" stop-color="#b2b2ff"/><stop offset=".219" stop-color="#ffffff"/><stop offset=".288" stop-color="#ffa6a6"/><stop offset=".403" stop-color="#ff8c8c"/><stop offset=".633" stop-color="#ff8c8c"/><stop offset=".719" stop-color="#ffcccc"/><stop offset=".805" stop-color="#fff2f2"/><stop offset=".862" stop-color="#ffffff"/><stop offset=".92" stop-color="#f2f2ff"/><stop offset="1" stop-color="#ffffff"/></linearGradient>
<clipPath id="c132"><rect x="229.8" y="371.9" width="174.2" height="101.3"/></clipPath>
<linearGradient id="g133" gradientUnits="userSpaceOnUse" x1="229.8" x2="404"><stop offset="0" stop-color="#7373ff"/><stop offset=".07" stop-color="#8c8cff"/><stop offset=".133" stop-color="#bfbfff"/><stop offset=".173" stop-color="#ffffff"/><stop offset=".242" stop-color="#ff8080"/><stop offset=".374" stop-color="#ff4040"/><stop offset=".575" stop-color="#ff7373"/><stop offset=".667" stop-color="#ffcccc"/><stop offset=".701" stop-color="#ffffff"/><stop offset=".759" stop-color="#6666ff"/><stop offset=".862" stop-color="#4040ff"/><stop offset="1" stop-color="#5959ff"/></linearGradient>
<linearGradient id="g134" gradientUnits="userSpaceOnUse" x1="229.8" x2="404"><stop offset="0" stop-color="#7373ff"/><stop offset=".07" stop-color="#8d8dff"/><stop offset=".134" stop-color="#c0c0ff"/><stop offset=".174" stop-color="#ffffff"/><stop offset=".243" stop-color="#ff8181"/><stop offset=".375" stop-color="#ff4242"/><stop offset=".576" stop-color="#ff7474"/><stop offset=".668" stop-color="#ffcdcd"/><stop offset=".702" stop-color="#ffffff"/><stop offset=".76" stop-color="#6868ff"/><stop offset=".863" stop-color="#4242ff"/><stop offset="1" stop-color="#5a5aff"/></linearGradient>
<linearGradient id="g135" gradientUnits="userSpaceOnUse" x1="229.8" x2="404"><stop offset="0" stop-color="#7373ff"/><stop offset=".07" stop-color="#8e8eff"/><stop offset=".135" stop-color="#c1c1ff"/><stop offset=".176" stop-color="#ffffff"/><stop offset=".245" stop-color="#ff8484"/><stop offset=".379" stop-color="#ff4848"/><stop offset=".58" stop-color="#ff7777"/><stop offset=".669" stop-color="#ffcece"/><stop offset=".704" stop-color="#ffffff"/><stop offset=".762" stop-color="#6c6cff"/><stop offset=".867" stop-color="#4848ff"/><stop offset="1" stop-color="#5d5dff"/></linearGradient>
<linearGradient id="g136" gradientUnits="userSpaceOnUse" x1="229.8" x2="404"><stop offset="0" stop-color="#7373ff"/><stop offset=".07" stop-color="#8e8eff"/><stop offset=".137" stop-color="#c3c3ff"/><stop offset=".178" stop-color="#ffffff"/><stop offset=".247" stop-color="#ff8787"/><stop offset=".383" stop-color="#ff4f4f"/><stop offset=".584" stop-color="#ff7a7a"/><stop offset=".67" stop-color="#ffd0d0"/><stop offset=".707" stop-color="#ffffff"/><stop offset=".764" stop-color="#7171ff"/><stop offset=".871" stop-color="#4f4fff"/><stop offset="1" stop-color="#6161ff"/></linearGradient>
<linearGradient id="g137" gradientUnits="userSpaceOnUse" x1="229.8" x2="404"><stop offset="0" stop-color="#7373ff"/><stop offset=".07" stop-color="#8f8fff"/><stop offset=".138" stop-color="#c5c5ff"/><stop offset=".181" stop-color="#ffffff"/><stop offset=".249" stop-color="#ff8a8a"/><stop offset=".386" stop-color="#ff5555"/><stop offset=".587" stop-color="#ff7d7d"/><stop offset=".672" stop-color="#ffd1d1"/><stop offset=".709" stop-color="#ffffff"/><stop offset=".766" stop-color="#7676ff"/><stop offset=".874" stop-color="#5555ff"/><stop offset="1" stop-color="#6464ff"/></linearGradient>
<linearGradient id="g138" gradientUnits="userSpaceOnUse" x1="229.8" x2="404"><stop offset="0" stop-color="#7373ff"/><stop offset=".07" stop-color="#9090ff"/><stop offset=".139" stop-color="#c6c6ff"/><stop offset=".183" stop-color="#ffffff"/><stop offset=".252" stop-color="#ff8d8d"/><stop offset=".39" stop-color="#ff5b5b"/><stop offset=".591" stop-color="#ff8181"/><stop offset=".673" stop-color="#ffd3d3"/><stop offset=".711" stop-color="#ffffff"/><stop offset=".768" stop-color="#7b7bff"/><stop offset=".878" stop-color="#5b5bff"/><stop offset="1" stop-color="#6767ff"/></linearGradient>
<linearGradient id="g139" gradientUnits="userSpaceOnUse" x1="229.8" x2="404"><stop offset="0" stop-color="#7373ff"/><stop offset=".07" stop-color="#9191ff"/><stop offset=".141" stop-color="#c8c8ff"/><stop offset=".185" stop-color="#ffffff"/><stop offset=".254" stop-color="#ff9090"/><stop offset=".393" stop-color="#ff6262"/><stop offset=".594" stop-color="#ff8484"/><stop offset=".675" stop-color="#ffd4d4"/><stop offset=".713" stop-color="#ffffff"/><stop offset=".77" stop-color="#7f7fff"/><stop offset=".881" stop-color="#6262ff"/><stop offset="1" stop-color="#6a6aff"/></linearGradient>
<linearGradient id="g140" gradientUnits="userSpaceOnUse" x1="229.8" x2="404"><stop offset="0" stop-color="#7373ff"/><stop offset=".07" stop-color="#9292ff"/><stop offset=".142" stop-color="#c9c9ff"/><stop offset=".187" stop-color="#ffffff"/><stop offset=".256" stop-color="#ff9494"/><stop offset=".397" stop-color="#ff6868"/><stop offset=".598" stop-color="#ff8787"/><stop offset=".676" stop-color="#ffd6d6"/><stop offset=".715" stop-color="#ffffff"/><stop offset=".773" stop-color="#8484ff"/><stop offset=".885" stop-color="#6868ff"/><stop offset="1" stop-color="#6d6dff"/></linearGradient>
<linearGradient id="g141" gradientUnits="userSpaceOnUse" x1="229.8" x2="404"><stop offset="0" stop-color="#7373ff"/><stop offset=".07" stop-color="#9393ff"/><stop offset=".144" stop-color="#cbcbff"/><stop offset=".189" stop-color="#ffffff"/><stop offset=".258" stop-color="#ff9797"/><stop offset=".401" stop-color="#ff6e6e"/><stop offset=".601" stop-color="#ff8a8a"/><stop offset=".678" stop-color="#ffd8d8"/><stop offset=".717" stop-color="#ffffff"/><stop offset=".775" stop-color="#8989ff"/><stop offset=".889" stop-color="#6e6eff"/><stop offset="1" stop-color="#7171ff"/></linearGradient>
<linearGradient id="g142" gradientUnits="userSpaceOnUse" x1="229.8" x2="404"><stop offset="0" stop-color="#7373ff"/><stop offset=".071" stop-color="#9494ff"/><stop offset=".146" stop-color="#ccccff"/><stop offset=".192" stop-color="#ffffff"/><stop offset=".26" stop-color="#ff9a9a"/><stop offset=".404" stop-color="#ff7474"/><stop offset=".605" stop-color="#ff8d8d"/><stop offset=".679" stop-color="#ffd9d9"/><stop offset=".719" stop-color="#ffffff"/><stop offset=".777" stop-color="#8d8dff"/><stop offset=".891" stop-color="#7474ff"/><stop offset="1" stop-color="#7373ff"/></linearGradient>
<linearGradient id="g143" gradientUnits="userSpaceOnUse" x1="229.8" x2="404"><stop offset="0" stop-color="#7373ff"/><stop offset=".072" stop-color="#9595ff"/><stop offset=".148" stop-color="#ceceff"/><stop offset=".194" stop-color="#ffffff"/><stop offset=".263" stop-color="#ff9c9c"/><stop offset=".407" stop-color="#ff7777"/><stop offset=".608" stop-color="#ff9090"/><stop offset=".682" stop-color="#ffdada"/><stop offset=".721" stop-color="#ffffff"/><stop offset=".778" stop-color="#9090ff"/><stop offset=".893" stop-color="#7676ff"/><stop offset="1" stop-color="#7474ff"/></linearGradient>
<linearGradient id="g144" gradientUnits="userSpaceOnUse" x1="229.8" x2="404"><stop offset="0" stop-color="#7373ff"/><stop offset=".074" stop-color="#9696ff"/><stop offset=".151" stop-color="#cfcfff"/><stop offset=".197" stop-color="#ffffff"/><stop offset=".266" stop-color="#ff9f9f"/><stop offset=".41" stop-color="#ff7a7a"/><stop offset=".611" stop-color="#ff9292"/><stop offset=".684" stop-color="#ffdbdb"/><stop offset=".723" stop-color="#ffffff"/><stop offset=".78" stop-color="#9292ff"/><stop offset=".895" stop-color="#7979ff"/><stop offset="1" stop-color="#7676ff"/></linearGradient>
<linearGradient id="g145" gradientUnits="userSpaceOnUse" x1="229.8" x2="404"><stop offset="0" stop-color="#7373ff"/><stop offset=".076" stop-color="#9797ff"/><stop offset=".154" stop-color="#d0d0ff"/><stop offset=".2" stop-color="#ffffff"/><stop offset=".269" stop-color="#ffa1a1"/><stop offset=".413" stop-color="#ff7e7e"/><stop offset=".613" stop-color="#ff9595"/><stop offset=".686" stop-color="#ffdbdb"/><stop offset=".724" stop-color="#ffffff"/><stop offset=".782" stop-color="#9595ff"/><stop offset=".897" stop-color="#7b7bff"/><stop offset="1" stop-color="#7777ff"/></linearGradient>
<linearGradient id="g146" gradientUnits="userSpaceOnUse" x1="229.8" x2="404"><stop offset="0" stop-color="#7373ff"/><stop offset=".077" stop-color="#9898ff"/><stop offset=".157" stop-color="#d2d2ff"/><stop offset=".203" stop-color="#ffffff"/><stop offset=".272" stop-color="#ffa4a4"/><stop offset=".415" stop-color="#ff8181"/><stop offset=".616" stop-color="#ff9797"/><stop offset=".688" stop-color="#ffdcdc"/><stop offset=".726" stop-color="#ffffff"/><stop offset=".784" stop-color="#9797ff"/><stop offset=".898" stop-color="#7e7eff"/><stop offset="1" stop-color="#7878ff"/></linearGradient>
<linearGradient id="g147" gradientUnits="userSpaceOnUse" x1="229.8" x2="404"><stop offset="0" stop-color="#7373ff"/><stop offset=".079" stop-color="#9999ff"/><stop offset=".16" stop-color="#d3d3ff"/><stop offset=".206" stop-color="#ffffff"/><stop offset=".275" stop-color="#ffa7a7"/><stop offset=".418" stop-color="#ff8484"/><stop offset=".619" stop-color="#ff9a9a"/><stop offset=".691" stop-color="#ffdddd"/><stop offset=".728" stop-color="#ffffff"/><stop offset=".785" stop-color="#9a9aff"/><stop offset=".9" stop-color="#8080ff"/><stop offset="1" stop-color="#7a7aff"/></linearGradient>
<linearGradient id="g148" gradientUnits="userSpaceOnUse" x1="229.8" x2="404"><stop offset="0" stop-color="#7373ff"/><stop offset=".081" stop-color="#9a9aff"/><stop offset=".163" stop-color="#d4d4ff"/><stop offset=".209" stop-color="#ffffff"/><stop offset=".278" stop-color="#ffa9a9"/><stop offset=".421" stop-color="#ff8888"/><stop offset=".622" stop-color="#ff9c9c"/><stop offset=".693" stop-color="#ffdede"/><stop offset=".73" stop-color="#ffffff"/><stop offset=".787" stop-color="#9c9cff"/><stop offset=".902" stop-color="#8383ff"/><stop offset="1" stop-color="#7b7bff"/></linearGradient>
<linearGradient id="g149" gradientUnits="userSpaceOnUse" x1="229.8" x2="404"><stop offset="0" stop-color="#7373ff"/><stop offset=".083" stop-color="#9b9bff"/><stop offset=".166" stop-color="#d5d5ff"/><stop offset=".212" stop-color="#ffffff"/><stop offset=".281" stop-color="#ffacac"/><stop offset=".424" stop-color="#ff8b8b"/><stop offset=".625" stop-color="#ff9f9f"/><stop offset=".695" stop-color="#ffdede"/><stop offset=".731" stop-color="#ffffff"/><stop offset=".789" stop-color="#9f9fff"/><stop offset=".904" stop-color="#8585ff"/><stop offset="1" stop-color="#7c7cff"/></linearGradient>
<linearGradient id="g150" gradientUnits="userSpaceOnUse" x1="229.8" x2="404"><stop offset="0" stop-color="#7373ff"/><stop offset=".084" stop-color="#9c9cff"/><stop offset=".169" stop-color="#d7d7ff"/><stop offset=".214" stop-color="#ffffff"/><stop offset=".283" stop-color="#ffaeae"/><stop offset=".427" stop-color="#ff8e8e"/><stop offset=".628" stop-color="#ffa1a1"/><stop offset=".698" stop-color="#ffdfdf"/><stop offset=".733" stop-color="#ffffff"/><stop offset=".79" stop-color="#a1a1ff"/><stop offset=".905" stop-color="#8888ff"/><stop offset="1" stop-color="#7d7dff"/></linearGradient>
<linearGradient id="g151" gradientUnits="userSpaceOnUse" x1="229.8" x2="404"><stop offset="0" stop-color="#7373ff"/><stop offset=".086" stop-color="#9d9dff"/><stop offset=".171" stop-color="#d8d8ff"/><stop offset=".217" stop-color="#ffffff"/><stop offset=".286" stop-color="#ffb1b1"/><stop offset=".43" stop-color="#ff9292"/><stop offset=".631" stop-color="#ffa4a4"/><stop offset=".7" stop-color="#ffe0e0"/><stop offset=".735" stop-color="#ffffff"/><stop offset=".792" stop-color="#a4a4ff"/><stop offset=".907" stop-color="#8b8bff"/><stop offset="1" stop-color="#7f7fff"/></linearGradient>
<linearGradient id="g152" gradientUnits="userSpaceOnUse" x1="229.8" x2="404"><stop offset="0" stop-color="#7373ff"/><stop offset=".088" stop-color="#9e9eff"/><stop offset=".174" stop-color="#d9d9ff"/><stop offset=".221" stop-color="#ffffff"/><stop offset=".289" stop-color="#ffb3b3"/><stop offset=".433" stop-color="#ff9494"/><stop offset=".633" stop-color="#ffa6a6"/><stop offset=".702" stop-color="#ffe1e1"/><stop offset=".737" stop-color="#ffffff"/><stop offset=".794" stop-color="#a6a6ff"/><stop offset=".908" stop-color="#8c8cff"/><stop offset="1" stop-color="#8080ff"/></linearGradient>
<linearGradient id="g153" gradientUnits="userSpaceOnUse" x1="229.8" x2="404"><stop offset="0" stop-color="#7373ff"/><stop offset=".091" stop-color="#a0a0ff"/><stop offset=".178" stop-color="#dadaff"/><stop offset=".224" stop-color="#ffffff"/><stop offset=".293" stop-color="#ffb4b4"/><stop offset=".435" stop-color="#ff9696"/><stop offset=".636" stop-color="#ffa7a7"/><stop offset=".704" stop-color="#ffe1e1"/><stop offset=".739" stop-color="#ffffff"/><stop offset=".796" stop-color="#a7a7ff"/><stop offset=".91" stop-color="#8c8cff"/><stop offset="1" stop-color="#8080ff"/></linearGradient>
<linearGradient id="g154" gradientUnits="userSpaceOnUse" x1="229.8" x2="404"><stop offset="0" stop-color="#7373ff"/><stop offset=".093" stop-color="#a1a1ff"/><stop offset=".181" stop-color="#dadaff"/><stop offset=".228" stop-color="#ffffff"/><stop offset=".297" stop-color="#ffb5b5"/><stop offset=".438" stop-color="#ff9898"/><stop offset=".639" stop-color="#ffa8a8"/><stop offset=".706" stop-color="#ffe1e1"/><stop offset=".741" stop-color="#ffffff"/><stop offset=".798" stop-color="#a8a8ff"/><stop offset=".911" stop-color="#8c8cff"/><stop offset="1" stop-color="#8080ff"/></linearGradient>
<linearGradient id="g155" gradientUnits="userSpaceOnUse" x1="229.8" x2="404"><stop offset="0" stop-color="#7373ff"/><stop offset=".096" stop-color="#a2a2ff"/><stop offset=".184" stop-color="#dbdbff"/><stop offset=".232" stop-color="#ffffff"/><stop offset=".3" stop-color="#ffb6b6"/><stop offset=".44" stop-color="#ff9999"/><stop offset=".641" stop-color="#ffaaaa"/><stop offset=".709" stop-color="#ffe2e2"/><stop offset=".743" stop-color="#ffffff"/><stop offset=".8" stop-color="#aaaaff"/><stop offset=".912" stop-color="#8c8cff"/><stop offset="1" stop-color="#8080ff"/></linearGradient>
<linearGradient id="g156" gradientUnits="userSpaceOnUse" x1="229.8" x2="404"><stop offset="0" stop-color="#7373ff"/><stop offset=".099" stop-color="#a3a3ff"/><stop offset=".187" stop-color="#dcdcff"/><stop offset=".235" stop-color="#ffffff"/><stop offset=".304" stop-color="#ffb8b8"/><stop offset=".443" stop-color="#ff9b9b"/><stop offset=".644" stop-color="#ffabab"/><stop offset=".711" stop-color="#ffe2e2"/><stop offset=".745" stop-color="#ffffff"/><stop offset=".802" stop-color="#ababff"/><stop offset=".913" stop-color="#8c8cff"/><stop offset="1" stop-color="#8080ff"/></linearGradient>
<linearGradient id="g157" gradientUnits="userSpaceOnUse" x1="229.8" x2="404"><stop offset="0" stop-color="#7373ff"/><stop offset=".101" stop-color="#a4a4ff"/><stop offset=".19" stop-color="#ddddff"/><stop offset=".239" stop-color="#ffffff"/><stop offset=".308" stop-color="#ffb9b9"/><stop offset=".446" stop-color="#ff9d9d"/><stop offset=".647" stop-color="#ffacac"/><stop offset=".713" stop-color="#ffe3e3"/><stop offset=".747" stop-color="#ffffff"/><stop offset=".805" stop-color="#acacff"/><stop offset=".914" stop-color="#8c8cff"/><stop offset="1" stop-color="#8080ff"/></linearGradient>
<linearGradient id="g158" gradientUnits="userSpaceOnUse" x1="229.8" x2="404"><stop offset="0" stop-color="#7373ff"/><stop offset=".104" stop-color="#a6a6ff"/><stop offset=".193" stop-color="#ddddff"/><stop offset=".243" stop-color="#ffffff"/><stop offset=".312" stop-color="#ffbaba"/><stop offset=".448" stop-color="#ff9e9e"/><stop offset=".649" stop-color="#ffadad"/><stop offset=".715" stop-color="#ffe3e3"/><stop offset=".749" stop-color="#ffffff"/><stop offset=".807" stop-color="#adadff"/><stop offset=".915" stop-color="#8c8cff"/><stop offset="1" stop-color="#8080ff"/></linearGradient>
<linearGradient id="g159" gradientUnits="userSpaceOnUse" x1="229.8" x2="404"><stop offset="0" stop-color="#7373ff"/><stop offset=".107" stop-color="#a7a7ff"/><stop offset=".197" stop-color="#dedeff"/><stop offset=".246" stop-color="#ffffff"/><stop offset=".315" stop-color="#ffbbbb"/><stop offset=".451" stop-color="#ffa0a0"/><stop offset=".652" stop-color="#ffaeae"/><stop offset=".717" stop-color="#ffe4e4"/><stop offset=".751" stop-color="#ffffff"/><stop offset=".809" stop-color="#aeaeff"/><stop offset=".916" stop-color="#8c8cff"/><stop offset="1" stop-color="#8080ff"/></linearGradient>
<linearGradient id="g160" gradientUnits="userSpaceOnUse" x1="229.8" x2="404"><stop offset="0" stop-color="#7373ff"/><stop offset=".109" stop-color="#a8a8ff"/><stop offset=".2" stop-color="#dfdfff"/><stop offset=".25" stop-color="#ffffff"/><stop offset=".319" stop-color="#ffbcbc"/><stop offset=".454" stop-color="#ffa2a2"/><stop offset=".655" stop-color="#ffb0b0"/><stop offset=".719" stop-color="#ffe4e4"/><stop offset=".754" stop-color="#ffffff"/><stop offset=".811" stop-color="#b0b0ff"/><stop offset=".917" stop-color="#8c8cff"/><stop offset="1" stop-color="#8080ff"/></linearGradient>
<linearGradient id="g161" gradientUnits="userSpaceOnUse" x1="229.8" x2="404"><stop offset="0" stop-color="#7373ff"/><stop offset=".112" stop-color="#a9a9ff"/><stop offset=".203" stop-color="#dfdfff"/><stop offset=".254" stop-color="#ffffff"/><stop offset=".323" stop-color="#ffbdbd"/><stop offset=".456" stop-color="#ffa3a3"/><stop offset=".657" stop-color="#ffb1b1"/><stop offset=".721" stop-color="#ffe5e5"/><stop offset=".756" stop-color="#ffffff"/><stop offset=".813" stop-color="#b1b1ff"/><stop offset=".918" stop-color="#8c8cff"/><stop offset="1" stop-color="#8080ff"/></linearGradient>
<linearGradient id="g162" gradientUnits="userSpaceOnUse" x1="229.8" x2="404"><stop offset="0" stop-color="#7373ff"/><stop offset=".115" stop-color="#aaaaff"/><stop offset=".206" stop-color="#e0e0ff"/><stop offset=".258" stop-color="#ffffff"/><stop offset=".326" stop-color="#ffbfbf"/><stop offset=".459" stop-color="#ffa5a5"/><stop offset=".66" stop-color="#ffb2b2"/><stop offset=".723" stop-color="#ffe5e5"/><stop offset=".758" stop-color="#ffffff"/><stop offset=".815" stop-color="#b2b2ff"/><stop offset=".919" stop-color="#8c8cff"/><stop offset="1" stop-color="#8080ff"/></linearGradient>
<linearGradient id="g163" gradientUnits="userSpaceOnUse" x1="229.8" x2="404"><stop offset="0" stop-color="#7373ff"/><stop offset=".116" stop-color="#ababff"/><stop offset=".208" stop-color="#e0e0ff"/><stop offset=".259" stop-color="#ffffff"/><stop offset=".328" stop-color="#ffbfbf"/><stop offset=".46" stop-color="#ffa6a6"/><stop offset=".661" stop-color="#ffb2b2"/><stop offset=".724" stop-color="#ffe6e6"/><stop offset=".759" stop-color="#ffffff"/><stop offset=".816" stop-color="#b2b2ff"/><stop offset=".92" stop-color="#8c8cff"/><stop offset="1" stop-color="#8080ff"/></linearGradient>
<clipPath id="c164"><rect x="465.5" y="218.5" width="217.5" height="126.9"/></clipPath>
<linearGradient id="g165" gradientUnits="userSpaceOnUse" x1="465.5" x2="683"><stop offset="0" stop-color="#fff0f0"/><stop offset=".159" stop-color="#ffebeb"/><stop offset=".297" stop-color="#fff2f2"/><stop offset=".398" stop-color="#fffafa"/><stop offset=".425" stop-color="#ffffff"/><stop offset=".503" stop-color="#f7f7ff"/><stop offset=".664" stop-color="#f2f2ff"/><stop offset=".825" stop-color="#f7f7ff"/><stop offset=".871" stop-color="#ffffff"/><stop offset="1" stop-color="#fff0f0"/></linearGradient>
<linearGradient id="g166" gradientUnits="userSpaceOnUse" x1="465.5" x2="683"><stop offset="0" stop-color="#ffefef"/><stop offset=".159" stop-color="#ffeaea"/><stop offset=".297" stop-color="#fff2f2"/><stop offset=".398" stop-color="#fffafa"/><stop offset=".425" stop-color="#ffffff"/><stop offset=".503" stop-color="#f7f7ff"/><stop offset=".664" stop-color="#f2f2ff"/><stop offset=".825" stop-color="#f7f7ff"/><stop offset=".871" stop-color="#ffffff"/><stop offset="1" stop-color="#ffefef"/></linearGradient>
<linearGradient id="g167" gradientUnits="userSpaceOnUse" x1="465.5" x2="683"><stop offset="0" stop-color="#ffefef"/><stop offset=".159" stop-color="#ffe9e9"/><stop offset=".297" stop-color="#fff1f1"/><stop offset=".398" stop-color="#fff9f9"/><stop offset=".425" stop-color="#ffffff"/><stop offset=".503" stop-color="#f6f6ff"/><stop offset=".664" stop-color="#f1f1ff"/><stop offset=".825" stop-color="#f6f6ff"/><stop offset=".871" stop-color="#ffffff"/><stop offset="1" stop-color="#ffefef"/></linearGradient>
<linearGradient id="g168" gradientUnits="userSpaceOnUse" x1="465.5" x2="683"><stop offset="0" stop-color="#ffeeee"/><stop offset=".159" stop-color="#ffe9e9"/><stop offset=".297" stop-color="#fff0f0"/><stop offset=".398" stop-color="#fff9f9"/><stop offset=".425" stop-color="#ffffff"/><stop offset=".503" stop-color="#f6f6ff"/><stop offset=".664" stop-color="#f0f0ff"/><stop offset=".825" stop-color="#f6f6ff"/><stop offset=".871" stop-color="#ffffff"/><stop offset="1" stop-color="#ffeeee"/></linearGradient>
<linearGradient id="g169" gradientUnits="userSpaceOnUse" x1="465.5" x2="683"><stop offset="0" stop-color="#ffeded"/><stop offset=".159" stop-color="#ffe8e8"/><stop offset=".297" stop-color="#ffefef"/><stop offset=".398" stop-color="#fff9f9"/><stop offset=".425" stop-color="#ffffff"/><stop offset=".503" stop-color="#f5f5ff"/><stop offset=".664" stop-color="#efefff"/><stop offset=".825" stop-color="#f5f5ff"/><stop offset=".871" stop-color="#ffffff"/><stop offset="1" stop-color="#ffeded"/></linearGradient>
<linearGradient id="g170" gradientUnits="userSpaceOnUse" x1="465.5" x2="683"><stop offset="0" stop-color="#ffecec"/><stop offset=".159" stop-color="#ffe7e7"/><stop offset=".297" stop-color="#ffeeee"/><stop offset=".398" stop-color="#fff8f8"/><stop offset=".425" stop-color="#ffffff"/><stop offset=".503" stop-color="#f5f5ff"/><stop offset=".664" stop-color="#eeeeff"/><stop offset=".825" stop-color="#f5f5ff"/><stop offset=".871" stop-color="#ffffff"/><stop offset="1" stop-color="#ffecec"/></linearGradient>
<linearGradient id="g171" gradientUnits="userSpaceOnUse" x1="465.5" x2="683"><stop offset="0" stop-color="#ffecec"/><stop offset=".159" stop-color="#ffe6e6"/><stop offset=".297" stop-color="#ffeded"/><stop offset=".398" stop-color="#fff8f8"/><stop offset=".425" stop-color="#ffffff"/><stop offset=".503" stop-color="#f4f4ff"/><stop offset=".664" stop-color="#ededff"/><stop offset=".825" stop-color="#f4f4ff"/><stop offset=".871" stop-color="#ffffff"/><stop offset="1" stop-color="#ffecec"/></linearGradient>
<linearGradient id="g172" gradientUnits="userSpaceOnUse" x1="465.5" x2="683"><stop offset="0" stop-color="#ffebeb"/><stop offset=".159" stop-color="#ffe6e6"/><stop offset=".297" stop-color="#ffecec"/><stop offset=".398" stop-color="#fff7f7"/><stop offset=".425" stop-color="#ffffff"/><stop offset=".503" stop-color="#f4f4ff"/><stop offset=".664" stop-color="#ececff"/><stop offset=".825" stop-color="#f4f4ff"/><stop offset=".871" stop-color="#ffffff"/><stop offset="1" stop-color="#ffebeb"/></linearGradient>
<linearGradient id="g173" gradientUnits="userSpaceOnUse" x1="465.5" x2="683"><stop offset="0" stop-color="#ffeaea"/><stop offset=".159" stop-color="#ffe5e5"/><stop offset=".297" stop-color="#ffebeb"/><stop offset=".398" stop-color="#fff7f7"/><stop offset=".425" stop-color="#ffffff"/><stop offset=".503" stop-color="#f3f3ff"/><stop offset=".664" stop-color="#ebebff"/><stop offset=".825" stop-color="#f3f3ff"/><stop offset=".871" stop-color="#ffffff"/><stop offset="1" stop-color="#ffeaea"/></linearGradient>
<linearGradient id="g174" gradientUnits="userSpaceOnUse" x1="465.5" x2="683"><stop offset="0" stop-color="#ffe9e9"/><stop offset=".159" stop-color="#ffe4e4"/><stop offset=".297" stop-color="#ffeaea"/><stop offset=".398" stop-color="#fff7f7"/><stop offset=".425" stop-color="#ffffff"/><stop offset=".503" stop-color="#f3f3ff"/><stop offset=".664" stop-color="#eaeaff"/><stop offset=".825" stop-color="#f3f3ff"/><stop offset=".871" stop-color="#ffffff"/><stop offset="1" stop-color="#ffe9e9"/></linearGradient>
<linearGradient id="g175" gradientUnits="userSpaceOnUse" x1="465.5" x2="683"><stop offset="0" stop-color="#ffe8e8"/><stop offset=".159" stop-color="#ffe3e3"/><stop offset=".297" stop-color="#ffe9e9"/><stop offset=".398" stop-color="#fff6f6"/><stop offset=".425" stop-color="#ffffff"/><stop offset=".503" stop-color="#f2f2ff"/><stop offset=".664" stop-color="#e9e9ff"/><stop offset=".825" stop-color="#f2f2ff"/><stop offset=".871" stop-color="#ffffff"/><stop offset="1" stop-color="#ffe8e8"/></linearGradient>
<linearGradient id="g176" gradientUnits="userSpaceOnUse" x1="465.5" x2="683"><stop offset="0" stop-color="#ffe8e8"/><stop offset=".159" stop-color="#ffe3e3"/><stop offset=".297" stop-color="#ffe8e8"/><stop offset=".398" stop-color="#fff6f6"/><stop offset=".425" stop-color="#ffffff"/><stop offset=".503" stop-color="#f1f1ff"/><stop offset=".664" stop-color="#e8e8ff"/><stop offset=".825" stop-color="#f1f1ff"/><stop offset=".871" stop-color="#ffffff"/><stop offset="1" stop-color="#ffe8e8"/></linearGradient>
<linearGradient id="g177" gradientUnits="userSpaceOnUse" x1="465.5" x2="683"><stop offset="0" stop-color="#ffe7e7"/><stop offset=".159" stop-color="#ffe2e2"/><stop offset=".297" stop-color="#ffe7e7"/><stop offset=".398" stop-color="#fff6f6"/><stop offset=".425" stop-color="#ffffff"/><stop offset=".503" stop-color="#f1f1ff"/><stop offset=".664" stop-color="#e7e7ff"/><stop offset=".825" stop-color="#f1f1ff"/><stop offset=".871" stop-color="#ffffff"/><stop offset="1" stop-color="#ffe7e7"/></linearGradient>
<linearGradient id="g178" gradientUnits="userSpaceOnUse" x1="465.5" x2="683"><stop offset="0" stop-color="#ffe6e6"/><stop offset=".159" stop-color="#ffe1e1"/><stop offset=".297" stop-color="#ffe6e6"/><stop offset=".398" stop-color="#fff5f5"/><stop offset=".425" stop-color="#ffffff"/><stop offset=".503" stop-color="#f0f0ff"/><stop offset=".664" stop-color="#e6e6ff"/><stop offset=".825" stop-color="#f0f0ff"/><stop offset=".871" stop-color="#ffffff"/><stop offset="1" stop-color="#ffe6e6"/></linearGradient>
<linearGradient id="g179" gradientUnits="userSpaceOnUse" x1="465.5" x2="683"><stop offset="0" stop-color="#ffe5e5"/><stop offset=".159" stop-color="#ffe0e0"/><stop offset=".297" stop-color="#ffe5e5"/><stop offset=".398" stop-color="#fff5f5"/><stop offset=".425" stop-color="#ffffff"/><stop offset=".503" stop-color="#f0f0ff"/><stop offset=".664" stop-color="#e5e5ff"/><stop offset=".825" stop-color="#f0f0ff"/><stop offset=".871" stop-color="#ffffff"/><stop offset="1" stop-color="#ffe5e5"/></linearGradient>
<linearGradient id="g180" gradientUnits="userSpaceOnUse" x1="465.5" x2="683"><stop offset="0" stop-color="#ffe4e4"/><stop offset=".159" stop-color="#ffdede"/><stop offset=".297" stop-color="#ffe4e4"/><stop offset=".397" stop-color="#fff5f5"/><stop offset=".425" stop-color="#ffffff"/><stop offset=".503" stop-color="#efefff"/><stop offset=".664" stop-color="#e3e3ff"/><stop offset=".825" stop-color="#efefff"/><stop offset=".871" stop-color="#ffffff"/><stop offset="1" stop-color="#ffe5e5"/></linearGradient>
<linearGradient id="g181" gradientUnits="userSpaceOnUse" x1="465.5" x2="683"><stop offset="0" stop-color="#ffe3e3"/><stop offset=".159" stop-color="#ffdcdc"/><stop offset=".297" stop-color="#ffe3e3"/><stop offset=".396" stop-color="#fff4f4"/><stop offset=".425" stop-color="#ffffff"/><stop offset=".503" stop-color="#eeeeff"/><stop offset=".664" stop-color="#e2e2ff"/><stop offset=".825" stop-color="#eeeeff"/><stop offset=".871" stop-color="#ffffff"/><stop offset="1" stop-color="#ffe5e5"/></linearGradient>
<linearGradient id="g182" gradientUnits="userSpaceOnUse" x1="465.5" x2="683"><stop offset="0" stop-color="#ffe2e2"/><stop offset=".159" stop-color="#ffdada"/><stop offset=".297" stop-color="#ffe2e2"/><stop offset=".395" stop-color="#fff4f4"/><stop offset=".425" stop-color="#ffffff"/><stop offset=".503" stop-color="#ededff"/><stop offset=".664" stop-color="#e0e0ff"/><stop offset=".825" stop-color="#ededff"/><stop offset=".871" stop-color="#ffffff"/><stop offset="1" stop-color="#ffe4e4"/></linearGradient>
<linearGradient id="g183" gradientUnits="userSpaceOnUse" x1="465.5" x2="683"><stop offset="0" stop-color="#ffe1e1"/><stop offset=".159" stop-color="#ffd9d9"/><stop offset=".297" stop-color="#ffe1e1"/><stop offset=".394" stop-color="#fff4f4"/><stop offset=".425" stop-color="#ffffff"/><stop offset=".503" stop-color="#ececff"/><stop offset=".664" stop-color="#dedeff"/><stop offset=".825" stop-color="#ececff"/><stop offset=".871" stop-color="#ffffff"/><stop offset="1" stop-color="#ffe4e4"/></linearGradient>
<linearGradient id="g184" gradientUnits="userSpaceOnUse" x1="465.5" x2="683"><stop offset="0" stop-color="#ffdfdf"/><stop offset=".159" stop-color="#ffd7d7"/><stop offset=".297" stop-color="#ffdfdf"/><stop offset=".393" stop-color="#fff4f4"/><stop offset=".425" stop-color="#ffffff"/><stop offset=".503" stop-color="#ebebff"/><stop offset=".664" stop-color="#dcdcff"/><stop offset=".825" stop-color="#ebebff"/><stop offset=".871" stop-color="#ffffff"/><stop offset="1" stop-color="#ffe3e3"/></linearGradient>
<linearGradient id="g185" gradientUnits="userSpaceOnUse" x1="465.5" x2="683"><stop offset="0" stop-color="#ffdede"/><stop offset=".159" stop-color="#ffd5d5"/><stop offset=".297" stop-color="#ffdede"/><stop offset=".392" stop-color="#fff3f3"/><stop offset=".425" stop-color="#ffffff"/><stop offset=".503" stop-color="#eaeaff"/><stop offset=".664" stop-color="#dadaff"/><stop offset=".825" stop-color="#eaeaff"/><stop offset=".871" stop-color="#ffffff"/><stop offset="1" stop-color="#ffe3e3"/></linearGradient>
<linearGradient id="g186" gradientUnits="userSpaceOnUse" x1="465.5" x2="683"><stop offset="0" stop-color="#ffdddd"/><stop offset=".159" stop-color="#ffd3d3"/><stop offset=".297" stop-color="#ffdddd"/><stop offset=".392" stop-color="#fff3f3"/><stop offset=".425" stop-color="#ffffff"/><stop offset=".503" stop-color="#e9e9ff"/><stop offset=".664" stop-color="#d8d8ff"/><stop offset=".825" stop-color="#e9e9ff"/><stop offset=".871" stop-color="#ffffff"/><stop offset="1" stop-color="#ffe2e2"/></linearGradient>
<linearGradient id="g187" gradientUnits="userSpaceOnUse" x1="465.5" x2="683"><stop offset="0" stop-color="#ffdcdc"/><stop offset=".159" stop-color="#ffd1d1"/><stop offset=".297" stop-color="#ffdcdc"/><stop offset=".391" stop-color="#fff3f3"/><stop offset=".425" stop-color="#ffffff"/><stop offset=".503" stop-color="#e8e8ff"/><stop offset=".664" stop-color="#d6d6ff"/><stop offset=".825" stop-color="#e8e8ff"/><stop offset=".871" stop-color="#ffffff"/><stop offset="1" stop-color="#ffe2e2"/></linearGradient>
<linearGradient id="g188" gradientUnits="userSpaceOnUse" x1="465.5" x2="683"><stop offset="0" stop-color="#ffdbdb"/><stop offset=".159" stop-color="#ffcfcf"/><stop offset=".297" stop-color="#ffdbdb"/><stop offset=".39" stop-color="#fff3f3"/><stop offset=".425" stop-color="#ffffff"/><stop offset=".503" stop-color="#e7e7ff"/><stop offset=".664" stop-color="#d4d4ff"/><stop offset=".825" stop-color="#e7e7ff"/><stop offset=".871" stop-color="#ffffff"/><stop offset="1" stop-color="#ffe1e1"/></linearGradient>
<linearGradient id="g189" gradientUnits="userSpaceOnUse" x1="465.5" x2="683"><stop offset="0" stop-color="#ffd9d9"/><stop offset=".159" stop-color="#ffcdcd"/><stop offset=".297" stop-color="#ffd9d9"/><stop offset=".389" stop-color="#fff2f2"/><stop offset=".425" stop-color="#ffffff"/><stop offset=".503" stop-color="#e6e6ff"/><stop offset=".664" stop-color="#d2d2ff"/><stop offset=".825" stop-color="#e6e6ff"/><stop offset=".871" stop-color="#ffffff"/><stop offset="1" stop-color="#ffe1e1"/></linearGradient>
<linearGradient id="g190" gradientUnits="userSpaceOnUse" x1="465.5" x2="683"><stop offset="0" stop-color="#ffd8d8"/><stop offset=".155" stop-color="#ffc9c9"/><stop offset=".297" stop-color="#ffd7d7"/><stop offset=".389" stop-color="#fff2f2"/><stop offset=".425" stop-color="#ffffff"/><stop offset=".503" stop-color="#e4e4ff"/><stop offset=".664" stop-color="#ceceff"/><stop offset=".824" stop-color="#e4e4ff"/><stop offset=".871" stop-color="#ffffff"/><stop offset="1" stop-color="#ffe0e0"/></linearGradient>
<linearGradient id="g191" gradientUnits="userSpaceOnUse" x1="465.5" x2="683"><stop offset="0" stop-color="#ffd6d6"/><stop offset=".148" stop-color="#ffc3c3"/><stop offset=".297" stop-color="#ffd3d3"/><stop offset=".389" stop-color="#fff1f1"/><stop offset=".424" stop-color="#ffffff"/><stop offset=".503" stop-color="#e1e1ff"/><stop offset=".664" stop-color="#c7c7ff"/><stop offset=".82" stop-color="#e0e0ff"/><stop offset=".871" stop-color="#ffffff"/><stop offset="1" stop-color="#ffdfdf"/></linearGradient>
<linearGradient id="g192" gradientUnits="userSpaceOnUse" x1="465.5" x2="683"><stop offset="0" stop-color="#ffd4d4"/><stop offset=".141" stop-color="#ffbdbd"/><stop offset=".297" stop-color="#ffcfcf"/><stop offset=".389" stop-color="#ffefef"/><stop offset=".424" stop-color="#ffffff"/><stop offset=".503" stop-color="#dedeff"/><stop offset=".664" stop-color="#c1c1ff"/><stop offset=".817" stop-color="#dcdcff"/><stop offset=".871" stop-color="#ffffff"/><stop offset="1" stop-color="#ffdddd"/></linearGradient>
<linearGradient id="g193" gradientUnits="userSpaceOnUse" x1="465.5" x2="683"><stop offset="0" stop-color="#ffd2d2"/><stop offset=".134" stop-color="#ffb8b8"/><stop offset=".297" stop-color="#ffcbcb"/><stop offset=".389" stop-color="#ffeeee"/><stop offset=".423" stop-color="#ffffff"/><stop offset=".503" stop-color="#dbdbff"/><stop offset=".664" stop-color="#babaff"/><stop offset=".813" stop-color="#d8d8ff"/><stop offset=".871" stop-color="#ffffff"/><stop offset="1" stop-color="#ffdcdc"/></linearGradient>
<linearGradient id="g194" gradientUnits="userSpaceOnUse" x1="465.5" x2="683"><stop offset="0" stop-color="#ffd0d0"/><stop offset=".127" stop-color="#ffb2b2"/><stop offset=".297" stop-color="#ffc7c7"/><stop offset=".389" stop-color="#ffeded"/><stop offset=".422" stop-color="#ffffff"/><stop offset=".503" stop-color="#d8d8ff"/><stop offset=".664" stop-color="#b3b3ff"/><stop offset=".81" stop-color="#d4d4ff"/><stop offset=".871" stop-color="#ffffff"/><stop offset="1" stop-color="#ffdbdb"/></linearGradient>
<linearGradient id="g195" gradientUnits="userSpaceOnUse" x1="465.5" x2="683"><stop offset="0" stop-color="#ffcece"/><stop offset=".12" stop-color="#ffacac"/><stop offset=".297" stop-color="#ffc3c3"/><stop offset=".389" stop-color="#ffecec"/><stop offset=".421" stop-color="#ffffff"/><stop offset=".503" stop-color="#d4d4ff"/><stop offset=".664" stop-color="#adadff"/><stop offset=".806" stop-color="#d0d0ff"/><stop offset=".871" stop-color="#ffffff"/><stop offset="1" stop-color="#ffdada"/></linearGradient>
<linearGradient id="g196" gradientUnits="userSpaceOnUse" x1="465.5" x2="683"><stop offset="0" stop-color="#ffcccc"/><stop offset=".113" stop-color="#ffa6a6"/><stop offset=".297" stop-color="#ffc0c0"/><stop offset=".389" stop-color="#ffebeb"/><stop offset=".421" stop-color="#ffffff"/><stop offset=".503" stop-color="#d1d1ff"/><stop offset=".664" stop-color="#a6a6ff"/><stop offset=".803" stop-color="#ccccff"/><stop offset=".871" stop-color="#ffffff"/><stop offset="1" stop-color="#ffd9d9"/></linearGradient>
<linearGradient id="g197" gradientUnits="userSpaceOnUse" x1="465.5" x2="683"><stop offset="0" stop-color="#ffcaca"/><stop offset=".113" stop-color="#ffa0a0"/><stop offset=".297" stop-color="#ffbdbd"/><stop offset=".389" stop-color="#ffeaea"/><stop offset=".42" stop-color="#ffffff"/><stop offset=".503" stop-color="#ceceff"/><stop offset=".664" stop-color="#a0a0ff"/><stop offset=".802" stop-color="#cacaff"/><stop offset=".871" stop-color="#ffffff"/><stop offset="1" stop-color="#ffd8d8"/></linearGradient>
<linearGradient id="g198" gradientUnits="userSpaceOnUse" x1="465.5" x2="683"><stop offset="0" stop-color="#ffc8c8"/><stop offset=".113" stop-color="#ff9999"/><stop offset=".297" stop-color="#ffbbbb"/><stop offset=".389" stop-color="#ffe9e9"/><stop offset=".419" stop-color="#ffffff"/><stop offset=".503" stop-color="#cbcbff"/><stop offset=".664" stop-color="#9999ff"/><stop offset=".802" stop-color="#c8c8ff"/><stop offset=".871" stop-color="#ffffff"/><stop offset="1" stop-color="#ffd6d6"/></linearGradient>
<linearGradient id="g199" gradientUnits="userSpaceOnUse" x1="465.5" x2="683"><stop offset="0" stop-color="#ffc6c6"/><stop offset=".113" stop-color="#ff9393"/><stop offset=".297" stop-color="#ffb9b9"/><stop offset=".389" stop-color="#ffe8e8"/><stop offset=".418" stop-color="#ffffff"/><stop offset=".503" stop-color="#c8c8ff"/><stop offset=".664" stop-color="#9393ff"/><stop offset=".802" stop-color="#c6c6ff"/><stop offset=".871" stop-color="#ffffff"/><stop offset="1" stop-color="#ffd5d5"/></linearGradient>
<linearGradient id="g200" gradientUnits="userSpaceOnUse" x1="465.5" x2="683"><stop offset="0" stop-color="#ffc4c4"/><stop offset=".113" stop-color="#ff8d8d"/><stop offset=".297" stop-color="#ffb7b7"/><stop offset=".389" stop-color="#ffe7e7"/><stop offset=".418" stop-color="#ffffff"/><stop offset=".503" stop-color="#c5c5ff"/><stop offset=".664" stop-color="#8d8dff"/><stop offset=".802" stop-color="#c4c4ff"/><stop offset=".871" stop-color="#ffffff"/><stop offset="1" stop-color="#ffd4d4"/></linearGradient>
<linearGradient id="g201" gradientUnits="userSpaceOnUse" x1="465.5" x2="683"><stop offset="0" stop-color="#ffc2c2"/><stop offset=".113" stop-color="#ff8686"/><stop offset=".297" stop-color="#ffb5b5"/><stop offset=".389" stop-color="#ffe6e6"/><stop offset=".417" stop-color="#ffffff"/><stop offset=".503" stop-color="#c2c2ff"/><stop offset=".664" stop-color="#8686ff"/><stop offset=".802" stop-color="#c2c2ff"/><stop offset=".871" stop-color="#ffffff"/><stop offset="1" stop-color="#ffd2d2"/></linearGradient>
<linearGradient id="g202" gradientUnits="userSpaceOnUse" x1="465.5" x2="683"><stop offset="0" stop-color="#ffbfbf"/><stop offset=".113" stop-color="#ff8080"/><stop offset=".297" stop-color="#ffb3b3"/><stop offset=".389" stop-color="#ffe6e6"/><stop offset=".416" stop-color="#ffffff"/><stop offset=".503" stop-color="#bfbfff"/><stop offset=".664" stop-color="#8080ff"/><stop offset=".802" stop-color="#bfbfff"/><stop offset=".871" stop-color="#ffffff"/><stop offset="1" stop-color="#ffd1d1"/></linearGradient>
<linearGradient id="g203" gradientUnits="userSpaceOnUse" x1="465.5" x2="683"><stop offset="0" stop-color="#ffbfbf"/><stop offset=".113" stop-color="#ff8080"/><stop offset=".297" stop-color="#ffb2b2"/><stop offset=".389" stop-color="#ffe6e6"/><stop offset=".416" stop-color="#ffffff"/><stop offset=".503" stop-color="#bfbfff"/><stop offset=".664" stop-color="#8080ff"/><stop offset=".802" stop-color="#bfbfff"/><stop offset=".871" stop-color="#ffffff"/><stop offset="1" stop-color="#ffd1d1"/></linearGradient>
<clipPath id="c204"><rect x="465.5" y="345.4" width="217.5" height="26"/></clipPath>
<linearGradient id="g205" gradientUnits="userSpaceOnUse" x1="465.5" x2="683"><stop offset="0" stop-color="#ffe6e6"/><stop offset=".067" stop-color="#ffe0e0"/><stop offset=".136" stop-color="#ffb2b2"/><stop offset=".205" stop-color="#ff9e9e"/><stop offset=".297" stop-color="#ffbfbf"/><stop offset=".379" stop-color="#ffebeb"/><stop offset=".411" stop-color="#ffffff"/><stop offset=".48" stop-color="#bfbfff"/><stop offset=".618" stop-color="#a6a6ff"/><stop offset=".733" stop-color="#ccccff"/><stop offset=".825" stop-color="#f2f2ff"/><stop offset=".907" stop-color="#ffffff"/><stop offset="1" stop-color="#fff0f0"/></linearGradient>
<linearGradient id="g206" gradientUnits="userSpaceOnUse" x1="465.5" x2="683"><stop offset="0" stop-color="#ffe6e6"/><stop offset=".067" stop-color="#ffe0e0"/><stop offset=".136" stop-color="#ffb2b2"/><stop offset=".205" stop-color="#ff9d9d"/><stop offset=".297" stop-color="#ffbfbf"/><stop offset=".379" stop-color="#ffebeb"/><stop offset=".411" stop-color="#ffffff"/><stop offset=".48" stop-color="#bfbfff"/><stop offset=".618" stop-color="#a6a6ff"/><stop offset=".733" stop-color="#ccccff"/><stop offset=".825" stop-color="#f2f2ff"/><stop offset=".907" stop-color="#ffffff"/><stop offset="1" stop-color="#fff0f0"/></linearGradient>
<linearGradient id="g207" gradientUnits="userSpaceOnUse" x1="465.5" x2="683"><stop offset="0" stop-color="#ffe9e9"/><stop offset=".067" stop-color="#ffe0e0"/><stop offset=".136" stop-color="#ffacac"/><stop offset=".205" stop-color="#ff9999"/><stop offset=".297" stop-color="#ffbfbf"/><stop offset=".379" stop-color="#ffebeb"/><stop offset=".411" stop-color="#ffffff"/><stop offset=".48" stop-color="#bfbfff"/><stop offset=".618" stop-color="#a6a6ff"/><stop offset=".733" stop-color="#ccccff"/><stop offset=".825" stop-color="#f2f2ff"/><stop offset=".909" stop-color="#ffffff"/><stop offset="1" stop-color="#fff0f0"/></linearGradient>
<linearGradient id="g208" gradientUnits="userSpaceOnUse" x1="465.5" x2="683"><stop offset="0" stop-color="#ffebeb"/><stop offset=".067" stop-color="#ffe0e0"/><stop offset=".136" stop-color="#ffa7a7"/><stop offset=".205" stop-color="#ff9494"/><stop offset=".297" stop-color="#ffbfbf"/><stop offset=".379" stop-color="#ffebeb"/><stop offset=".411" stop-color="#ffffff"/><stop offset=".48" stop-color="#bfbfff"/><stop offset=".618" stop-color="#a6a6ff"/><stop offset=".733" stop-color="#ccccff"/><stop offset=".825" stop-color="#f2f2ff"/><stop offset=".911" stop-color="#ffffff"/><stop offset="1" stop-color="#fff1f1"/></linearGradient>
<linearGradient id="g209" gradientUnits="userSpaceOnUse" x1="465.5" x2="683"><stop offset="0" stop-color="#ffeeee"/><stop offset=".067" stop-color="#ffe0e0"/><stop offset=".136" stop-color="#ffa2a2"/><stop offset=".205" stop-color="#ff9090"/><stop offset=".297" stop-color="#ffbfbf"/><stop offset=".379" stop-color="#ffebeb"/><stop offset=".411" stop-color="#ffffff"/><stop offset=".48" stop-color="#bfbfff"/><stop offset=".618" stop-color="#a6a6ff"/><stop offset=".733" stop-color="#ccccff"/><stop offset=".825" stop-color="#f2f2ff"/><stop offset=".913" stop-color="#ffffff"/><stop offset="1" stop-color="#fff2f2"/></linearGradient>
<linearGradient id="g210" gradientUnits="userSpaceOnUse" x1="465.5" x2="683"><stop offset="0" stop-color="#fff0f0"/><stop offset=".067" stop-color="#ffe0e0"/><stop offset=".136" stop-color="#ff9f9f"/><stop offset=".205" stop-color="#ff8d8d"/><stop offset=".297" stop-color="#ffbfbf"/><stop offset=".379" stop-color="#ffebeb"/><stop offset=".411" stop-color="#ffffff"/><stop offset=".48" stop-color="#bfbfff"/><stop offset=".618" stop-color="#a5a5ff"/><stop offset=".733" stop-color="#ccccff"/><stop offset=".825" stop-color="#f2f2ff"/><stop offset=".915" stop-color="#ffffff"/><stop offset="1" stop-color="#fff2f2"/></linearGradient>
<linearGradient id="g211" gradientUnits="userSpaceOnUse" x1="465.5" x2="683"><stop offset="0" stop-color="#fff0f0"/><stop offset=".067" stop-color="#ffe0e0"/><stop offset=".136" stop-color="#ffa1a1"/><stop offset=".205" stop-color="#ff8f8f"/><stop offset=".297" stop-color="#ffbfbf"/><stop offset=".379" stop-color="#ffebeb"/><stop offset=".411" stop-color="#ffffff"/><stop offset=".48" stop-color="#bbbbff"/><stop offset=".618" stop-color="#a3a3ff"/><stop offset=".733" stop-color="#cacaff"/><stop offset=".825" stop-color="#f1f1ff"/><stop offset=".918" stop-color="#ffffff"/><stop offset="1" stop-color="#fff2f2"/></linearGradient>
<linearGradient id="g212" gradientUnits="userSpaceOnUse" x1="465.5" x2="683"><stop offset="0" stop-color="#fff0f0"/><stop offset=".067" stop-color="#ffe0e0"/><stop offset=".136" stop-color="#ffa3a3"/><stop offset=".205" stop-color="#ff9191"/><stop offset=".297" stop-color="#ffbfbf"/><stop offset=".379" stop-color="#ffebeb"/><stop offset=".411" stop-color="#ffffff"/><stop offset=".48" stop-color="#b7b7ff"/><stop offset=".618" stop-color="#a1a1ff"/><stop offset=".733" stop-color="#c9c9ff"/><stop offset=".825" stop-color="#f1f1ff"/><stop offset=".92" stop-color="#ffffff"/><stop offset="1" stop-color="#fff2f2"/></linearGradient>
<linearGradient id="g213" gradientUnits="userSpaceOnUse" x1="465.5" x2="683"><stop offset="0" stop-color="#fff0f0"/><stop offset=".067" stop-color="#ffe0e0"/><stop offset=".136" stop-color="#ffa5a5"/><stop offset=".205" stop-color="#ff9393"/><stop offset=".297" stop-color="#ffbfbf"/><stop offset=".379" stop-color="#ffebeb"/><stop offset=".411" stop-color="#ffffff"/><stop offset=".48" stop-color="#b3b3ff"/><stop offset=".618" stop-color="#9f9fff"/><stop offset=".733" stop-color="#c7c7ff"/><stop offset=".825" stop-color="#f0f0ff"/><stop offset=".923" stop-color="#ffffff"/><stop offset="1" stop-color="#fff2f2"/></linearGradient>
<linearGradient id="g214" gradientUnits="userSpaceOnUse" x1="465.5" x2="683"><stop offset="0" stop-color="#fff0f0"/><stop offset=".067" stop-color="#ffe0e0"/><stop offset=".136" stop-color="#ffa6a6"/><stop offset=".205" stop-color="#ff9494"/><stop offset=".297" stop-color="#ffbfbf"/><stop offset=".379" stop-color="#ffebeb"/><stop offset=".411" stop-color="#ffffff"/><stop offset=".48" stop-color="#b2b2ff"/><stop offset=".618" stop-color="#9e9eff"/><stop offset=".733" stop-color="#c7c7ff"/><stop offset=".825" stop-color="#f0f0ff"/><stop offset=".923" stop-color="#ffffff"/><stop offset="1" stop-color="#fff2f2"/></linearGradient>
<clipPath id="c215"><rect x="465.5" y="371.4" width="217.5" height="100.6"/></clipPath>
<linearGradient id="g216" gradientUnits="userSpaceOnUse" x1="465.5" x2="683"><stop offset="0" stop-color="#ffbfbf"/><stop offset=".067" stop-color="#ffb2b2"/><stop offset=".159" stop-color="#ffa3a3"/><stop offset=".297" stop-color="#ffb8b8"/><stop offset=".379" stop-color="#ffebeb"/><stop offset=".402" stop-color="#ffffff"/><stop offset=".471" stop-color="#b2b2ff"/><stop offset=".618" stop-color="#a3a3ff"/><stop offset=".779" stop-color="#bfbfff"/><stop offset=".853" stop-color="#ffffff"/><stop offset=".894" stop-color="#ffd9d9"/><stop offset="1" stop-color="#ffb8b8"/></linearGradient>
<linearGradient id="g217" gradientUnits="userSpaceOnUse" x1="465.5" x2="683"><stop offset="0" stop-color="#ffbfbf"/><stop offset=".067" stop-color="#ffb2b2"/><stop offset=".159" stop-color="#ffa3a3"/><stop offset=".297" stop-color="#ffb8b8"/><stop offset=".379" stop-color="#ffebeb"/><stop offset=".402" stop-color="#ffffff"/><stop offset=".471" stop-color="#b3b3ff"/><stop offset=".619" stop-color="#a3a3ff"/><stop offset=".779" stop-color="#bfbfff"/><stop offset=".853" stop-color="#ffffff"/><stop offset=".894" stop-color="#ffd9d9"/><stop offset="1" stop-color="#ffb8b8"/></linearGradient>
<linearGradient id="g218" gradientUnits="userSpaceOnUse" x1="465.5" x2="683"><stop offset="0" stop-color="#ffbfbf"/><stop offset=".067" stop-color="#ffb2b2"/><stop offset=".159" stop-color="#ffa3a3"/><stop offset=".297" stop-color="#ffb7b7"/><stop offset=".38" stop-color="#ffebeb"/><stop offset=".403" stop-color="#ffffff"/><stop offset=".472" stop-color="#b4b4ff"/><stop offset=".619" stop-color="#a4a4ff"/><stop offset=".779" stop-color="#c0c0ff"/><stop offset=".853" stop-color="#ffffff"/><stop offset=".894" stop-color="#ffd9d9"/><stop offset="1" stop-color="#ffb7b7"/></linearGradient>
<linearGradient id="g219" gradientUnits="userSpaceOnUse" x1="465.5" x2="683"><stop offset="0" stop-color="#ffbfbf"/><stop offset=".067" stop-color="#ffb2b2"/><stop offset=".159" stop-color="#ffa2a2"/><stop offset=".297" stop-color="#ffb7b7"/><stop offset=".381" stop-color="#ffebeb"/><stop offset=".404" stop-color="#ffffff"/><stop offset=".473" stop-color="#b5b5ff"/><stop offset=".62" stop-color="#a4a4ff"/><stop offset=".779" stop-color="#c0c0ff"/><stop offset=".853" stop-color="#ffffff"/><stop offset=".894" stop-color="#ffd9d9"/><stop offset="1" stop-color="#ffb7b7"/></linearGradient>
<linearGradient id="g220" gradientUnits="userSpaceOnUse" x1="465.5" x2="683"><stop offset="0" stop-color="#ffbfbf"/><stop offset=".067" stop-color="#ffb1b1"/><stop offset=".159" stop-color="#ffa2a2"/><stop offset=".297" stop-color="#ffb6b6"/><stop offset=".381" stop-color="#ffebeb"/><stop offset=".404" stop-color="#ffffff"/><stop offset=".473" stop-color="#b5b5ff"/><stop offset=".621" stop-color="#a4a4ff"/><stop offset=".779" stop-color="#c1c1ff"/><stop offset=".853" stop-color="#ffffff"/><stop offset=".894" stop-color="#ffd9d9"/><stop offset="1" stop-color="#ffb6b6"/></linearGradient>
<linearGradient id="g221" gradientUnits="userSpaceOnUse" x1="465.5" x2="683"><stop offset="0" stop-color="#ffbfbf"/><stop offset=".067" stop-color="#ffb1b1"/><stop offset=".159" stop-color="#ffa2a2"/><stop offset=".297" stop-color="#ffb6b6"/><stop offset=".382" stop-color="#ffebeb"/><stop offset=".405" stop-color="#ffffff"/><stop offset=".474" stop-color="#b6b6ff"/><stop offset=".621" stop-color="#a5a5ff"/><stop offset=".779" stop-color="#c2c2ff"/><stop offset=".853" stop-color="#ffffff"/><stop offset=".894" stop-color="#ffd9d9"/><stop offset="1" stop-color="#ffb6b6"/></linearGradient>
<linearGradient id="g222" gradientUnits="userSpaceOnUse" x1="465.5" x2="683"><stop offset="0" stop-color="#ffbfbf"/><stop offset=".067" stop-color="#ffb1b1"/><stop offset=".159" stop-color="#ffa1a1"/><stop offset=".297" stop-color="#ffb6b6"/><stop offset=".383" stop-color="#ffebeb"/><stop offset=".406" stop-color="#ffffff"/><stop offset=".475" stop-color="#b7b7ff"/><stop offset=".622" stop-color="#a5a5ff"/><stop offset=".779" stop-color="#c2c2ff"/><stop offset=".853" stop-color="#ffffff"/><stop offset=".894" stop-color="#ffd9d9"/><stop offset="1" stop-color="#ffb6b6"/></linearGradient>
<linearGradient id="g223" gradientUnits="userSpaceOnUse" x1="465.5" x2="683"><stop offset="0" stop-color="#ffbfbf"/><stop offset=".067" stop-color="#ffb0b0"/><stop offset=".159" stop-color="#ffa1a1"/><stop offset=".297" stop-color="#ffb5b5"/><stop offset=".383" stop-color="#ffebeb"/><stop offset=".406" stop-color="#ffffff"/><stop offset=".475" stop-color="#b8b8ff"/><stop offset=".623" stop-color="#a6a6ff"/><stop offset=".779" stop-color="#c3c3ff"/><stop offset=".853" stop-color="#ffffff"/><stop offset=".894" stop-color="#ffd9d9"/><stop offset="1" stop-color="#ffb5b5"/></linearGradient>
<linearGradient id="g224" gradientUnits="userSpaceOnUse" x1="465.5" x2="683"><stop offset="0" stop-color="#ffbfbf"/><stop offset=".067" stop-color="#ffb0b0"/><stop offset=".159" stop-color="#ffa1a1"/><stop offset=".297" stop-color="#ffb5b5"/><stop offset=".384" stop-color="#ffebeb"/><stop offset=".407" stop-color="#ffffff"/><stop offset=".476" stop-color="#b9b9ff"/><stop offset=".623" stop-color="#a6a6ff"/><stop offset=".779" stop-color="#c3c3ff"/><stop offset=".853" stop-color="#ffffff"/><stop offset=".894" stop-color="#ffd9d9"/><stop offset="1" stop-color="#ffb5b5"/></linearGradient>
<linearGradient id="g225" gradientUnits="userSpaceOnUse" x1="465.5" x2="683"><stop offset="0" stop-color="#ffbfbf"/><stop offset=".067" stop-color="#ffafaf"/><stop offset=".159" stop-color="#ffa0a0"/><stop offset=".297" stop-color="#ffb5b5"/><stop offset=".385" stop-color="#ffebeb"/><stop offset=".408" stop-color="#ffffff"/><stop offset=".477" stop-color="#babaff"/><stop offset=".624" stop-color="#a6a6ff"/><stop offset=".779" stop-color="#c4c4ff"/><stop offset=".853" stop-color="#ffffff"/><stop offset=".894" stop-color="#ffd9d9"/><stop offset="1" stop-color="#ffb5b5"/></linearGradient>
<linearGradient id="g226" gradientUnits="userSpaceOnUse" x1="465.5" x2="683"><stop offset="0" stop-color="#ffbfbf"/><stop offset=".067" stop-color="#ffafaf"/><stop offset=".159" stop-color="#ffa0a0"/><stop offset=".297" stop-color="#ffb4b4"/><stop offset=".385" stop-color="#ffebeb"/><stop offset=".408" stop-color="#ffffff"/><stop offset=".477" stop-color="#bbbbff"/><stop offset=".625" stop-color="#a7a7ff"/><stop offset=".779" stop-color="#c4c4ff"/><stop offset=".853" stop-color="#ffffff"/><stop offset=".894" stop-color="#ffd9d9"/><stop offset="1" stop-color="#ffb4b4"/></linearGradient>
<linearGradient id="g227" gradientUnits="userSpaceOnUse" x1="465.5" x2="683"><stop offset="0" stop-color="#ffbfbf"/><stop offset=".067" stop-color="#ffafaf"/><stop offset=".159" stop-color="#ff9f9f"/><stop offset=".297" stop-color="#ffb4b4"/><stop offset=".386" stop-color="#ffebeb"/><stop offset=".409" stop-color="#ffffff"/><stop offset=".478" stop-color="#bcbcff"/><stop offset=".625" stop-color="#a7a7ff"/><stop offset=".779" stop-color="#c5c5ff"/><stop offset=".853" stop-color="#ffffff"/><stop offset=".894" stop-color="#ffd9d9"/><stop offset="1" stop-color="#ffb4b4"/></linearGradient>
<linearGradient id="g228" gradientUnits="userSpaceOnUse" x1="465.5" x2="683"><stop offset="0" stop-color="#ffbfbf"/><stop offset=".067" stop-color="#ffaeae"/><stop offset=".159" stop-color="#ff9f9f"/><stop offset=".297" stop-color="#ffb3b3"/><stop offset=".387" stop-color="#ffebeb"/><stop offset=".41" stop-color="#ffffff"/><stop offset=".479" stop-color="#bdbdff"/><stop offset=".626" stop-color="#a7a7ff"/><stop offset=".779" stop-color="#c5c5ff"/><stop offset=".853" stop-color="#ffffff"/><stop offset=".894" stop-color="#ffd9d9"/><stop offset="1" stop-color="#ffb3b3"/></linearGradient>
<linearGradient id="g229" gradientUnits="userSpaceOnUse" x1="465.5" x2="683"><stop offset="0" stop-color="#ffbfbf"/><stop offset=".067" stop-color="#ffaeae"/><stop offset=".159" stop-color="#ff9f9f"/><stop offset=".297" stop-color="#ffb3b3"/><stop offset=".387" stop-color="#ffebeb"/><stop offset=".41" stop-color="#ffffff"/><stop offset=".479" stop-color="#bebeff"/><stop offset=".627" stop-color="#a8a8ff"/><stop offset=".779" stop-color="#c6c6ff"/><stop offset=".853" stop-color="#ffffff"/><stop offset=".894" stop-color="#ffd9d9"/><stop offset="1" stop-color="#ffb3b3"/></linearGradient>
<linearGradient id="g230" gradientUnits="userSpaceOnUse" x1="465.5" x2="683"><stop offset="0" stop-color="#ffbfbf"/><stop offset=".067" stop-color="#ffaeae"/><stop offset=".159" stop-color="#ff9e9e"/><stop offset=".297" stop-color="#ffb3b3"/><stop offset=".388" stop-color="#ffebeb"/><stop offset=".411" stop-color="#ffffff"/><stop offset=".48" stop-color="#bfbfff"/><stop offset=".627" stop-color="#a8a8ff"/><stop offset=".779" stop-color="#c7c7ff"/><stop offset=".853" stop-color="#ffffff"/><stop offset=".894" stop-color="#ffd9d9"/><stop offset="1" stop-color="#ffb3b3"/></linearGradient>
<linearGradient id="g231" gradientUnits="userSpaceOnUse" x1="465.5" x2="683"><stop offset="0" stop-color="#ffbfbf"/><stop offset=".067" stop-color="#ffadad"/><stop offset=".159" stop-color="#ff9e9e"/><stop offset=".297" stop-color="#ffb2b2"/><stop offset=".389" stop-color="#ffebeb"/><stop offset=".412" stop-color="#ffffff"/><stop offset=".481" stop-color="#bfbfff"/><stop offset=".628" stop-color="#a8a8ff"/><stop offset=".779" stop-color="#c7c7ff"/><stop offset=".853" stop-color="#ffffff"/><stop offset=".894" stop-color="#ffd9d9"/><stop offset="1" stop-color="#ffb2b2"/></linearGradient>
<linearGradient id="g232" gradientUnits="userSpaceOnUse" x1="465.5" x2="683"><stop offset="0" stop-color="#ffbfbf"/><stop offset=".067" stop-color="#ffadad"/><stop offset=".159" stop-color="#ff9e9e"/><stop offset=".297" stop-color="#ffb2b2"/><stop offset=".389" stop-color="#ffebeb"/><stop offset=".412" stop-color="#ffffff"/><stop offset=".481" stop-color="#bfbfff"/><stop offset=".628" stop-color="#a9a9ff"/><stop offset=".779" stop-color="#c7c7ff"/><stop offset=".853" stop-color="#ffffff"/><stop offset=".895" stop-color="#ffd9d9"/><stop offset="1" stop-color="#ffb2b2"/></linearGradient>
<linearGradient id="g233" gradientUnits="userSpaceOnUse" x1="465.5" x2="683"><stop offset="0" stop-color="#ffbfbf"/><stop offset=".067" stop-color="#ffadad"/><stop offset=".159" stop-color="#ff9e9e"/><stop offset=".297" stop-color="#ffb2b2"/><stop offset=".389" stop-color="#ffebeb"/><stop offset=".412" stop-color="#ffffff"/><stop offset=".482" stop-color="#bfbfff"/><stop offset=".628" stop-color="#a9a9ff"/><stop offset=".779" stop-color="#c7c7ff"/><stop offset=".854" stop-color="#ffffff"/><stop offset=".895" stop-color="#ffd9d9"/><stop offset="1" stop-color="#ffb2b2"/></linearGradient>
<linearGradient id="g234" gradientUnits="userSpaceOnUse" x1="465.5" x2="683"><stop offset="0" stop-color="#ffbfbf"/><stop offset=".067" stop-color="#ffadad"/><stop offset=".159" stop-color="#ff9e9e"/><stop offset=".297" stop-color="#ffb2b2"/><stop offset=".389" stop-color="#ffebeb"/><stop offset=".413" stop-color="#ffffff"/><stop offset=".483" stop-color="#bfbfff"/><stop offset=".628" stop-color="#a9a9ff"/><stop offset=".779" stop-color="#c7c7ff"/><stop offset=".854" stop-color="#ffffff"/><stop offset=".895" stop-color="#ffd9d9"/><stop offset="1" stop-color="#ffb2b2"/></linearGradient>
<linearGradient id="g235" gradientUnits="userSpaceOnUse" x1="465.5" x2="683"><stop offset="0" stop-color="#ffbfbf"/><stop offset=".067" stop-color="#ffadad"/><stop offset=".159" stop-color="#ff9e9e"/><stop offset=".297" stop-color="#ffb2b2"/><stop offset=".389" stop-color="#ffebeb"/><stop offset=".413" stop-color="#ffffff"/><stop offset=".483" stop-color="#bfbfff"/><stop offset=".628" stop-color="#a9a9ff"/><stop offset=".779" stop-color="#c7c7ff"/><stop offset=".854" stop-color="#ffffff"/><stop offset=".896" stop-color="#ffd9d9"/><stop offset="1" stop-color="#ffb2b2"/></linearGradient>
<linearGradient id="g236" gradientUnits="userSpaceOnUse" x1="465.5" x2="683"><stop offset="0" stop-color="#ffbfbf"/><stop offset=".067" stop-color="#ffadad"/><stop offset=".159" stop-color="#ff9e9e"/><stop offset=".297" stop-color="#ffb2b2"/><stop offset=".389" stop-color="#ffebeb"/><stop offset=".413" stop-color="#ffffff"/><stop offset=".484" stop-color="#bfbfff"/><stop offset=".628" stop-color="#a9a9ff"/><stop offset=".779" stop-color="#c7c7ff"/><stop offset=".855" stop-color="#ffffff"/><stop offset=".896" stop-color="#ffd9d9"/><stop offset="1" stop-color="#ffb2b2"/></linearGradient>
<linearGradient id="g237" gradientUnits="userSpaceOnUse" x1="465.5" x2="683"><stop offset="0" stop-color="#ffbfbf"/><stop offset=".067" stop-color="#ffadad"/><stop offset=".159" stop-color="#ff9e9e"/><stop offset=".297" stop-color="#ffb2b2"/><stop offset=".389" stop-color="#ffebeb"/><stop offset=".414" stop-color="#ffffff"/><stop offset=".485" stop-color="#bfbfff"/><stop offset=".628" stop-color="#aaaaff"/><stop offset=".779" stop-color="#c7c7ff"/><stop offset=".855" stop-color="#ffffff"/><stop offset=".897" stop-color="#ffd9d9"/><stop offset="1" stop-color="#ffb2b2"/></linearGradient>
<linearGradient id="g238" gradientUnits="userSpaceOnUse" x1="465.5" x2="683"><stop offset="0" stop-color="#ffbfbf"/><stop offset=".067" stop-color="#ffadad"/><stop offset=".159" stop-color="#ff9e9e"/><stop offset=".297" stop-color="#ffb2b2"/><stop offset=".389" stop-color="#ffebeb"/><stop offset=".414" stop-color="#ffffff"/><stop offset=".486" stop-color="#bfbfff"/><stop offset=".628" stop-color="#aaaaff"/><stop offset=".779" stop-color="#c7c7ff"/><stop offset=".855" stop-color="#ffffff"/><stop offset=".897" stop-color="#ffd9d9"/><stop offset="1" stop-color="#ffb2b2"/></linearGradient>
<linearGradient id="g239" gradientUnits="userSpaceOnUse" x1="465.5" x2="683"><stop offset="0" stop-color="#ffbfbf"/><stop offset=".067" stop-color="#ffadad"/><stop offset=".159" stop-color="#ff9e9e"/><stop offset=".297" stop-color="#ffb2b2"/><stop offset=".389" stop-color="#ffebeb"/><stop offset=".414" stop-color="#ffffff"/><stop offset=".486" stop-color="#bfbfff"/><stop offset=".628" stop-color="#aaaaff"/><stop offset=".779" stop-color="#c7c7ff"/><stop offset=".856" stop-color="#ffffff"/><stop offset=".897" stop-color="#ffd9d9"/><stop offset="1" stop-color="#ffb2b2"/></linearGradient>
<linearGradient id="g240" gradientUnits="userSpaceOnUse" x1="465.5" x2="683"><stop offset="0" stop-color="#ffbfbf"/><stop offset=".067" stop-color="#ffadad"/><stop offset=".159" stop-color="#ff9e9e"/><stop offset=".297" stop-color="#ffb2b2"/><stop offset=".389" stop-color="#ffebeb"/><stop offset=".415" stop-color="#ffffff"/><stop offset=".487" stop-color="#bfbfff"/><stop offset=".628" stop-color="#aaaaff"/><stop offset=".779" stop-color="#c7c7ff"/><stop offset=".856" stop-color="#ffffff"/><stop offset=".897" stop-color="#ffd9d9"/><stop offset="1" stop-color="#ffb2b2"/></linearGradient>
<linearGradient id="g241" gradientUnits="userSpaceOnUse" x1="465.5" x2="683"><stop offset="0" stop-color="#ffbfbf"/><stop offset=".067" stop-color="#ffadad"/><stop offset=".159" stop-color="#ff9e9e"/><stop offset=".297" stop-color="#ffb2b2"/><stop offset=".389" stop-color="#ffebeb"/><stop offset=".415" stop-color="#ffffff"/><stop offset=".488" stop-color="#bfbfff"/><stop offset=".628" stop-color="#aaaaff"/><stop offset=".779" stop-color="#c7c7ff"/><stop offset=".856" stop-color="#ffffff"/><stop offset=".898" stop-color="#ffd9d9"/><stop offset="1" stop-color="#ffb2b2"/></linearGradient>
<linearGradient id="g242" gradientUnits="userSpaceOnUse" x1="465.5" x2="683"><stop offset="0" stop-color="#ffbfbf"/><stop offset=".067" stop-color="#ffadad"/><stop offset=".159" stop-color="#ff9e9e"/><stop offset=".297" stop-color="#ffb2b2"/><stop offset=".389" stop-color="#ffebeb"/><stop offset=".415" stop-color="#ffffff"/><stop offset=".488" stop-color="#bfbfff"/><stop offset=".628" stop-color="#aaaaff"/><stop offset=".779" stop-color="#c7c7ff"/><stop offset=".857" stop-color="#ffffff"/><stop offset=".898" stop-color="#ffd9d9"/><stop offset="1" stop-color="#ffb2b2"/></linearGradient>
<linearGradient id="g243" gradientUnits="userSpaceOnUse" x1="465.5" x2="683"><stop offset="0" stop-color="#ffbfbf"/><stop offset=".067" stop-color="#ffadad"/><stop offset=".159" stop-color="#ff9e9e"/><stop offset=".297" stop-color="#ffb2b2"/><stop offset=".389" stop-color="#ffebeb"/><stop offset=".416" stop-color="#ffffff"/><stop offset=".489" stop-color="#bfbfff"/><stop offset=".628" stop-color="#ababff"/><stop offset=".779" stop-color="#c7c7ff"/><stop offset=".857" stop-color="#ffffff"/><stop offset=".898" stop-color="#ffd9d9"/><stop offset="1" stop-color="#ffb2b2"/></linearGradient>
<linearGradient id="g244" gradientUnits="userSpaceOnUse" x1="465.5" x2="683"><stop offset="0" stop-color="#ffbfbf"/><stop offset=".067" stop-color="#ffadad"/><stop offset=".159" stop-color="#ff9e9e"/><stop offset=".297" stop-color="#ffb2b2"/><stop offset=".389" stop-color="#ffebeb"/><stop offset=".416" stop-color="#ffffff"/><stop offset=".489" stop-color="#bfbfff"/><stop offset=".628" stop-color="#ababff"/><stop offset=".779" stop-color="#c7c7ff"/><stop offset=".857" stop-color="#ffffff"/><stop offset=".899" stop-color="#ffd9d9"/><stop offset="1" stop-color="#ffb2b2"/></linearGradient>
<linearGradient id="g245" gradientUnits="userSpaceOnUse" x1="465.5" x2="683"><stop offset="0" stop-color="#ffbfbf"/><stop offset=".067" stop-color="#ffadad"/><stop offset=".159" stop-color="#ff9e9e"/><stop offset=".297" stop-color="#ffb2b2"/><stop offset=".389" stop-color="#ffebeb"/><stop offset=".416" stop-color="#ffffff"/><stop offset=".49" stop-color="#bfbfff"/><stop offset=".628" stop-color="#ababff"/><stop offset=".779" stop-color="#c7c7ff"/><stop offset=".857" stop-color="#ffffff"/><stop offset=".899" stop-color="#ffd9d9"/><stop offset="1" stop-color="#ffb2b2"/></linearGradient>
<clipPath id="c246"><rect x="32.3" y="546.5" width="130.3" height="126.9"/></clipPath>
<linearGradient id="g247" gradientUnits="userSpaceOnUse" x1="32.3" x2="162.6"><stop offset="0" stop-color="#fefeff"/><stop offset=".136" stop-color="#ffffff"/><stop offset=".213" stop-color="#fffefe"/><stop offset=".366" stop-color="#fffefe"/><stop offset=".52" stop-color="#fffefe"/><stop offset=".635" stop-color="#ffffff"/><stop offset=".75" stop-color="#fefeff"/><stop offset=".903" stop-color="#fcfcff"/><stop offset="1" stop-color="#fcfcff"/></linearGradient>
<linearGradient id="g248" gradientUnits="userSpaceOnUse" x1="32.3" x2="162.6"><stop offset="0" stop-color="#fefeff"/><stop offset=".135" stop-color="#ffffff"/><stop offset=".213" stop-color="#fffefe"/><stop offset=".366" stop-color="#fffefe"/><stop offset=".52" stop-color="#fffefe"/><stop offset=".635" stop-color="#ffffff"/><stop offset=".75" stop-color="#fefeff"/><stop offset=".903" stop-color="#fcfcff"/><stop offset="1" stop-color="#fcfcff"/></linearGradient>
<linearGradient id="g249" gradientUnits="userSpaceOnUse" x1="32.3" x2="162.6"><stop offset="0" stop-color="#fefeff"/><stop offset=".133" stop-color="#ffffff"/><stop offset=".213" stop-color="#fffefe"/><stop offset=".366" stop-color="#fffdfd"/><stop offset=".52" stop-color="#fffefe"/><stop offset=".635" stop-color="#ffffff"/><stop offset=".75" stop-color="#fefeff"/><stop offset=".903" stop-color="#fcfcff"/><stop offset="1" stop-color="#fcfcff"/></linearGradient>
<linearGradient id="g250" gradientUnits="userSpaceOnUse" x1="32.3" x2="162.6"><stop offset="0" stop-color="#fdfdff"/><stop offset=".132" stop-color="#ffffff"/><stop offset=".213" stop-color="#fffdfd"/><stop offset=".366" stop-color="#fffdfd"/><stop offset=".52" stop-color="#fffdfd"/><stop offset=".635" stop-color="#ffffff"/><stop offset=".75" stop-color="#fdfdff"/><stop offset=".903" stop-color="#fcfcff"/><stop offset="1" stop-color="#fcfcff"/></linearGradient>
<linearGradient id="g251" gradientUnits="userSpaceOnUse" x1="32.3" x2="162.6"><stop offset="0" stop-color="#fdfdff"/><stop offset=".131" stop-color="#ffffff"/><stop offset=".213" stop-color="#fffdfd"/><stop offset=".366" stop-color="#fffdfd"/><stop offset=".52" stop-color="#fffdfd"/><stop offset=".635" stop-color="#ffffff"/><stop offset=".75" stop-color="#fdfdff"/><stop offset=".903" stop-color="#fcfcff"/><stop offset="1" stop-color="#fcfcff"/></linearGradient>
<linearGradient id="g252" gradientUnits="userSpaceOnUse" x1="32.3" x2="162.6"><stop offset="0" stop-color="#fdfdff"/><stop offset=".13" stop-color="#ffffff"/><stop offset=".213" stop-color="#fffdfd"/><stop offset=".366" stop-color="#fffdfd"/><stop offset=".52" stop-color="#fffdfd"/><stop offset=".635" stop-color="#ffffff"/><stop offset=".75" stop-color="#fdfdff"/><stop offset=".903" stop-color="#fbfbff"/><stop offset="1" stop-color="#fbfbff"/></linearGradient>
<linearGradient id="g253" gradientUnits="userSpaceOnUse" x1="32.3" x2="162.6"><stop offset="0" stop-color="#fdfdff"/><stop offset=".128" stop-color="#ffffff"/><stop offset=".213" stop-color="#fffdfd"/><stop offset=".366" stop-color="#fffdfd"/><stop offset=".52" stop-color="#fffdfd"/><stop offset=".635" stop-color="#ffffff"/><stop offset=".75" stop-color="#fdfdff"/><stop offset=".903" stop-color="#fbfbff"/><stop offset="1" stop-color="#fbfbff"/></linearGradient>
<linearGradient id="g254" gradientUnits="userSpaceOnUse" x1="32.3" x2="162.6"><stop offset="0" stop-color="#fdfdff"/><stop offset=".127" stop-color="#ffffff"/><stop offset=".213" stop-color="#fffdfd"/><stop offset=".366" stop-color="#fffcfc"/><stop offset=".52" stop-color="#fffdfd"/><stop offset=".635" stop-color="#ffffff"/><stop offset=".75" stop-color="#fdfdff"/><stop offset=".903" stop-color="#fbfbff"/><stop offset="1" stop-color="#fbfbff"/></linearGradient>
<linearGradient id="g255" gradientUnits="userSpaceOnUse" x1="32.3" x2="162.6"><stop offset="0" stop-color="#fdfdff"/><stop offset=".126" stop-color="#ffffff"/><stop offset=".213" stop-color="#fffdfd"/><stop offset=".366" stop-color="#fffcfc"/><stop offset=".52" stop-color="#fffdfd"/><stop offset=".635" stop-color="#ffffff"/><stop offset=".75" stop-color="#fdfdff"/><stop offset=".903" stop-color="#fbfbff"/><stop offset="1" stop-color="#fbfbff"/></linearGradient>
<linearGradient id="g256" gradientUnits="userSpaceOnUse" x1="32.3" x2="162.6"><stop offset="0" stop-color="#fdfdff"/><stop offset=".125" stop-color="#ffffff"/><stop offset=".213" stop-color="#fffdfd"/><stop offset=".366" stop-color="#fffcfc"/><stop offset=".52" stop-color="#fffdfd"/><stop offset=".635" stop-color="#ffffff"/><stop offset=".75" stop-color="#fdfdff"/><stop offset=".903" stop-color="#fbfbff"/><stop offset="1" stop-color="#fbfbff"/></linearGradient>
<linearGradient id="g257" gradientUnits="userSpaceOnUse" x1="32.3" x2="162.6"><stop offset="0" stop-color="#fdfdff"/><stop offset=".123" stop-color="#ffffff"/><stop offset=".213" stop-color="#fffdfd"/><stop offset=".366" stop-color="#fffcfc"/><stop offset=".52" stop-color="#fffdfd"/><stop offset=".635" stop-color="#ffffff"/><stop offset=".75" stop-color="#fdfdff"/><stop offset=".903" stop-color="#fafaff"/><stop offset="1" stop-color="#fafaff"/></linearGradient>
<linearGradient id="g258" gradientUnits="userSpaceOnUse" x1="32.3" x2="162.6"><stop offset="0" stop-color="#fdfdff"/><stop offset=".122" stop-color="#ffffff"/><stop offset=".213" stop-color="#fffdfd"/><stop offset=".366" stop-color="#fffbfb"/><stop offset=".52" stop-color="#fffdfd"/><stop offset=".635" stop-color="#ffffff"/><stop offset=".75" stop-color="#fdfdff"/><stop offset=".903" stop-color="#fafaff"/><stop offset="1" stop-color="#fafaff"/></linearGradient>
<linearGradient id="g259" gradientUnits="userSpaceOnUse" x1="32.3" x2="162.6"><stop offset="0" stop-color="#fcfcff"/><stop offset=".121" stop-color="#ffffff"/><stop offset=".213" stop-color="#fffcfc"/><stop offset=".366" stop-color="#fffbfb"/><stop offset=".52" stop-color="#fffcfc"/><stop offset=".635" stop-color="#ffffff"/><stop offset=".75" stop-color="#fcfcff"/><stop offset=".903" stop-color="#fafaff"/><stop offset="1" stop-color="#fafaff"/></linearGradient>
<linearGradient id="g260" gradientUnits="userSpaceOnUse" x1="32.3" x2="162.6"><stop offset="0" stop-color="#fcfcff"/><stop offset=".119" stop-color="#ffffff"/><stop offset=".213" stop-color="#fffcfc"/><stop offset=".366" stop-color="#fffbfb"/><stop offset=".52" stop-color="#fffcfc"/><stop offset=".635" stop-color="#ffffff"/><stop offset=".75" stop-color="#fcfcff"/><stop offset=".903" stop-color="#f9f9ff"/><stop offset="1" stop-color="#f9f9ff"/></linearGradient>
<linearGradient id="g261" gradientUnits="userSpaceOnUse" x1="32.3" x2="162.6"><stop offset="0" stop-color="#fcfcff"/><stop offset=".116" stop-color="#ffffff"/><stop offset=".213" stop-color="#fffbfb"/><stop offset=".366" stop-color="#fffafa"/><stop offset=".52" stop-color="#fffcfc"/><stop offset=".635" stop-color="#ffffff"/><stop offset=".75" stop-color="#fcfcff"/><stop offset=".903" stop-color="#f9f9ff"/><stop offset="1" stop-color="#f9f9ff"/></linearGradient>
<linearGradient id="g262" gradientUnits="userSpaceOnUse" x1="32.3" x2="162.6"><stop offset="0" stop-color="#fbfbff"/><stop offset=".114" stop-color="#ffffff"/><stop offset=".213" stop-color="#fffafa"/><stop offset=".366" stop-color="#fff9f9"/><stop offset=".52" stop-color="#fffbfb"/><stop offset=".635" stop-color="#ffffff"/><stop offset=".75" stop-color="#fbfbff"/><stop offset=".903" stop-color="#f8f8ff"/><stop offset="1" stop-color="#f8f8ff"/></linearGradient>
<linearGradient id="g263" gradientUnits="userSpaceOnUse" x1="32.3" x2="162.6"><stop offset="0" stop-color="#fafaff"/><stop offset=".111" stop-color="#ffffff"/><stop offset=".213" stop-color="#fff9f9"/><stop offset=".366" stop-color="#fff9f9"/><stop offset=".52" stop-color="#fffafa"/><stop offset=".635" stop-color="#ffffff"/><stop offset=".75" stop-color="#fafaff"/><stop offset=".903" stop-color="#f7f7ff"/><stop offset="1" stop-color="#f7f7ff"/></linearGradient>
<linearGradient id="g264" gradientUnits="userSpaceOnUse" x1="32.3" x2="162.6"><stop offset="0" stop-color="#fafaff"/><stop offset=".109" stop-color="#ffffff"/><stop offset=".213" stop-color="#fff8f8"/><stop offset=".366" stop-color="#fff8f8"/><stop offset=".52" stop-color="#fffafa"/><stop offset=".635" stop-color="#ffffff"/><stop offset=".75" stop-color="#fafaff"/><stop offset=".903" stop-color="#f6f6ff"/><stop offset="1" stop-color="#f6f6ff"/></linearGradient>
<linearGradient id="g265" gradientUnits="userSpaceOnUse" x1="32.3" x2="162.6"><stop offset="0" stop-color="#f9f9ff"/><stop offset=".106" stop-color="#ffffff"/><stop offset=".213" stop-color="#fff8f8"/><stop offset=".366" stop-color="#fff7f7"/><stop offset=".52" stop-color="#fff9f9"/><stop offset=".635" stop-color="#ffffff"/><stop offset=".75" stop-color="#f9f9ff"/><stop offset=".903" stop-color="#f5f5ff"/><stop offset="1" stop-color="#f5f5ff"/></linearGradient>
<linearGradient id="g266" gradientUnits="userSpaceOnUse" x1="32.3" x2="162.6"><stop offset="0" stop-color="#f9f9ff"/><stop offset=".103" stop-color="#ffffff"/><stop offset=".213" stop-color="#fff7f7"/><stop offset=".366" stop-color="#fff6f6"/><stop offset=".52" stop-color="#fff9f9"/><stop offset=".635" stop-color="#ffffff"/><stop offset=".75" stop-color="#f9f9ff"/><stop offset=".903" stop-color="#f4f4ff"/><stop offset="1" stop-color="#f4f4ff"/></linearGradient>
<linearGradient id="g267" gradientUnits="userSpaceOnUse" x1="32.3" x2="162.6"><stop offset="0" stop-color="#f8f8ff"/><stop offset=".101" stop-color="#ffffff"/><stop offset=".213" stop-color="#fff6f6"/><stop offset=".366" stop-color="#fff6f6"/><stop offset=".52" stop-color="#fff8f8"/><stop offset=".635" stop-color="#ffffff"/><stop offset=".75" stop-color="#f8f8ff"/><stop offset=".903" stop-color="#f3f3ff"/><stop offset="1" stop-color="#f3f3ff"/></linearGradient>
<linearGradient id="g268" gradientUnits="userSpaceOnUse" x1="32.3" x2="162.6"><stop offset="0" stop-color="#f7f7ff"/><stop offset=".098" stop-color="#ffffff"/><stop offset=".213" stop-color="#fff5f5"/><stop offset=".366" stop-color="#fff5f5"/><stop offset=".52" stop-color="#fff7f7"/><stop offset=".635" stop-color="#ffffff"/><stop offset=".75" stop-color="#f7f7ff"/><stop offset=".903" stop-color="#f2f2ff"/><stop offset="1" stop-color="#f2f2ff"/></linearGradient>
<linearGradient id="g269" gradientUnits="userSpaceOnUse" x1="32.3" x2="162.6"><stop offset="0" stop-color="#f7f7ff"/><stop offset=".097" stop-color="#ffffff"/><stop offset=".213" stop-color="#fff5f5"/><stop offset=".366" stop-color="#fff5f5"/><stop offset=".52" stop-color="#fff7f7"/><stop offset=".635" stop-color="#ffffff"/><stop offset=".75" stop-color="#f7f7ff"/><stop offset=".903" stop-color="#f2f2ff"/><stop offset="1" stop-color="#f2f2ff"/></linearGradient>
<clipPath id="c270"><rect x="32.3" y="673.4" width="130.3" height="26"/></clipPath>
<linearGradient id="g271" gradientUnits="userSpaceOnUse" x1="32.3" x2="162.6"><stop offset="0" stop-color="#fff0f0"/><stop offset=".174" stop-color="#ffebeb"/><stop offset=".259" stop-color="#fff5f5"/><stop offset=".305" stop-color="#ffffff"/><stop offset=".366" stop-color="#ebebff"/><stop offset=".481" stop-color="#f7f7ff"/><stop offset=".531" stop-color="#ffffff"/><stop offset=".596" stop-color="#fff5f5"/><stop offset=".711" stop-color="#ffebeb"/><stop offset=".777" stop-color="#ffffff"/><stop offset=".827" stop-color="#f0f0ff"/><stop offset="1" stop-color="#f7f7ff"/></linearGradient>
<linearGradient id="g272" gradientUnits="userSpaceOnUse" x1="32.3" x2="162.6"><stop offset="0" stop-color="#ffefef"/><stop offset=".174" stop-color="#ffeaea"/><stop offset=".259" stop-color="#fff5f5"/><stop offset=".305" stop-color="#ffffff"/><stop offset=".366" stop-color="#eaeaff"/><stop offset=".481" stop-color="#f7f7ff"/><stop offset=".531" stop-color="#ffffff"/><stop offset=".596" stop-color="#fff5f5"/><stop offset=".711" stop-color="#ffeaea"/><stop offset=".776" stop-color="#ffffff"/><stop offset=".827" stop-color="#efefff"/><stop offset="1" stop-color="#f7f7ff"/></linearGradient>
<linearGradient id="g273" gradientUnits="userSpaceOnUse" x1="32.3" x2="162.6"><stop offset="0" stop-color="#ffeded"/><stop offset=".174" stop-color="#ffe8e8"/><stop offset=".259" stop-color="#fff3f3"/><stop offset=".305" stop-color="#ffffff"/><stop offset=".366" stop-color="#e6e6ff"/><stop offset=".481" stop-color="#f6f6ff"/><stop offset=".533" stop-color="#ffffff"/><stop offset=".596" stop-color="#fff4f4"/><stop offset=".711" stop-color="#ffe9e9"/><stop offset=".77" stop-color="#ffffff"/><stop offset=".827" stop-color="#eaeaff"/><stop offset="1" stop-color="#f6f6ff"/></linearGradient>
<linearGradient id="g274" gradientUnits="userSpaceOnUse" x1="32.3" x2="162.6"><stop offset="0" stop-color="#ffebeb"/><stop offset=".174" stop-color="#ffe6e6"/><stop offset=".259" stop-color="#fff2f2"/><stop offset=".305" stop-color="#ffffff"/><stop offset=".366" stop-color="#e2e2ff"/><stop offset=".481" stop-color="#f5f5ff"/><stop offset=".535" stop-color="#ffffff"/><stop offset=".596" stop-color="#fff4f4"/><stop offset=".711" stop-color="#ffe8e8"/><stop offset=".765" stop-color="#ffffff"/><stop offset=".827" stop-color="#e5e5ff"/><stop offset="1" stop-color="#f5f5ff"/></linearGradient>
<linearGradient id="g275" gradientUnits="userSpaceOnUse" x1="32.3" x2="162.6"><stop offset="0" stop-color="#ffe9e9"/><stop offset=".174" stop-color="#ffe3e3"/><stop offset=".259" stop-color="#fff1f1"/><stop offset=".305" stop-color="#ffffff"/><stop offset=".366" stop-color="#dedeff"/><stop offset=".481" stop-color="#f4f4ff"/><stop offset=".537" stop-color="#ffffff"/><stop offset=".596" stop-color="#fff3f3"/><stop offset=".711" stop-color="#ffe7e7"/><stop offset=".761" stop-color="#ffffff"/><stop offset=".827" stop-color="#e0e0ff"/><stop offset="1" stop-color="#f4f4ff"/></linearGradient>
<linearGradient id="g276" gradientUnits="userSpaceOnUse" x1="32.3" x2="162.6"><stop offset="0" stop-color="#ffe6e6"/><stop offset=".174" stop-color="#ffe1e1"/><stop offset=".259" stop-color="#fff0f0"/><stop offset=".305" stop-color="#ffffff"/><stop offset=".366" stop-color="#dadaff"/><stop offset=".481" stop-color="#f3f3ff"/><stop offset=".538" stop-color="#ffffff"/><stop offset=".596" stop-color="#fff2f2"/><stop offset=".711" stop-color="#ffe6e6"/><stop offset=".758" stop-color="#ffffff"/><stop offset=".827" stop-color="#dbdbff"/><stop offset="1" stop-color="#f3f3ff"/></linearGradient>
<linearGradient id="g277" gradientUnits="userSpaceOnUse" x1="32.3" x2="162.6"><stop offset="0" stop-color="#ffe7e7"/><stop offset=".174" stop-color="#ffe2e2"/><stop offset=".259" stop-color="#fff0f0"/><stop offset=".305" stop-color="#ffffff"/><stop offset=".366" stop-color="#d9d9ff"/><stop offset=".481" stop-color="#f2f2ff"/><stop offset=".54" stop-color="#ffffff"/><stop offset=".596" stop-color="#fff3f3"/><stop offset=".711" stop-color="#ffe8e8"/><stop offset=".778" stop-color="#ffffff"/><stop offset=".827" stop-color="#eeeeff"/><stop offset=".981" stop-color="#ffffff"/><stop offset="1" stop-color="#fffdfd"/></linearGradient>
<linearGradient id="g278" gradientUnits="userSpaceOnUse" x1="32.3" x2="162.6"><stop offset="0" stop-color="#ffe9e9"/><stop offset=".174" stop-color="#ffe4e4"/><stop offset=".259" stop-color="#fff0f0"/><stop offset=".305" stop-color="#ffffff"/><stop offset=".366" stop-color="#d9d9ff"/><stop offset=".481" stop-color="#f2f2ff"/><stop offset=".543" stop-color="#ffffff"/><stop offset=".596" stop-color="#fff4f4"/><stop offset=".711" stop-color="#ffecec"/><stop offset=".827" stop-color="#ffeded"/><stop offset="1" stop-color="#ffe4e4"/></linearGradient>
<linearGradient id="g279" gradientUnits="userSpaceOnUse" x1="32.3" x2="162.6"><stop offset="0" stop-color="#ffebeb"/><stop offset=".174" stop-color="#ffe6e6"/><stop offset=".259" stop-color="#fff0f0"/><stop offset=".305" stop-color="#ffffff"/><stop offset=".366" stop-color="#d9d9ff"/><stop offset=".481" stop-color="#f2f2ff"/><stop offset=".545" stop-color="#ffffff"/><stop offset=".596" stop-color="#fff5f5"/><stop offset=".711" stop-color="#fff0f0"/><stop offset=".827" stop-color="#ffcccc"/><stop offset="1" stop-color="#ffcccc"/></linearGradient>
<clipPath id="c280"><rect x="32.3" y="699.4" width="130.3" height="100.9"/></clipPath>
<linearGradient id="g281" gradientUnits="userSpaceOnUse" x1="32.3" x2="162.6"><stop offset="0" stop-color="#ffebeb"/><stop offset=".136" stop-color="#fff2f2"/><stop offset=".289" stop-color="#fffafa"/><stop offset=".412" stop-color="#ffffff"/><stop offset=".52" stop-color="#fff2f2"/><stop offset=".75" stop-color="#ffe6e6"/><stop offset=".903" stop-color="#ffd9d9"/><stop offset="1" stop-color="#ffe6e6"/></linearGradient>
<linearGradient id="g282" gradientUnits="userSpaceOnUse" x1="32.3" x2="162.6"><stop offset="0" stop-color="#ffecec"/><stop offset=".136" stop-color="#fff4f4"/><stop offset=".289" stop-color="#fffcfc"/><stop offset=".412" stop-color="#ffffff"/><stop offset=".52" stop-color="#fff3f3"/><stop offset=".75" stop-color="#ffe7e7"/><stop offset=".903" stop-color="#ffdddd"/><stop offset="1" stop-color="#ffe9e9"/></linearGradient>
<linearGradient id="g283" gradientUnits="userSpaceOnUse" x1="32.3" x2="162.6"><stop offset="0" stop-color="#fff0f0"/><stop offset=".136" stop-color="#fff7f7"/><stop offset=".289" stop-color="#ffffff"/><stop offset=".412" stop-color="#ffffff"/><stop offset=".52" stop-color="#fff4f4"/><stop offset=".75" stop-color="#ffeaea"/><stop offset=".903" stop-color="#ffe4e4"/><stop offset="1" stop-color="#fff0f0"/></linearGradient>
<linearGradient id="g284" gradientUnits="userSpaceOnUse" x1="32.3" x2="162.6"><stop offset="0" stop-color="#fff3f3"/><stop offset=".136" stop-color="#fffafa"/><stop offset=".227" stop-color="#ffffff"/><stop offset=".289" stop-color="#fcfcff"/><stop offset=".412" stop-color="#ffffff"/><stop offset=".52" stop-color="#fff6f6"/><stop offset=".75" stop-color="#ffecec"/><stop offset=".903" stop-color="#ffebeb"/><stop offset="1" stop-color="#fff6f6"/></linearGradient>
<linearGradient id="g285" gradientUnits="userSpaceOnUse" x1="32.3" x2="162.6"><stop offset="0" stop-color="#fff6f6"/><stop offset=".136" stop-color="#fffefe"/><stop offset=".163" stop-color="#ffffff"/><stop offset=".289" stop-color="#f9f9ff"/><stop offset=".412" stop-color="#ffffff"/><stop offset=".52" stop-color="#fff7f7"/><stop offset=".75" stop-color="#ffefef"/><stop offset=".903" stop-color="#fff2f2"/><stop offset="1" stop-color="#fffcfc"/></linearGradient>
<linearGradient id="g286" gradientUnits="userSpaceOnUse" x1="32.3" x2="162.6"><stop offset="0" stop-color="#fffafa"/><stop offset=".081" stop-color="#ffffff"/><stop offset=".136" stop-color="#fcfcff"/><stop offset=".289" stop-color="#f5f5ff"/><stop offset=".412" stop-color="#ffffff"/><stop offset=".52" stop-color="#fff6f6"/><stop offset=".742" stop-color="#ffeded"/><stop offset=".903" stop-color="#fff4f4"/><stop offset=".995" stop-color="#ffffff"/><stop offset="1" stop-color="#fefeff"/></linearGradient>
<linearGradient id="g287" gradientUnits="userSpaceOnUse" x1="32.3" x2="162.6"><stop offset="0" stop-color="#ffffff"/><stop offset=".002" stop-color="#ffffff"/><stop offset=".136" stop-color="#f6f6ff"/><stop offset=".289" stop-color="#f1f1ff"/><stop offset=".412" stop-color="#ffffff"/><stop offset=".52" stop-color="#fff3f3"/><stop offset=".73" stop-color="#ffeaea"/><stop offset=".903" stop-color="#fff2f2"/><stop offset=".986" stop-color="#ffffff"/><stop offset="1" stop-color="#fcfcff"/></linearGradient>
<linearGradient id="g288" gradientUnits="userSpaceOnUse" x1="32.3" x2="162.6"><stop offset="0" stop-color="#fbfbff"/><stop offset=".136" stop-color="#f1f1ff"/><stop offset=".289" stop-color="#ededff"/><stop offset=".412" stop-color="#ffffff"/><stop offset=".52" stop-color="#fff0f0"/><stop offset=".717" stop-color="#ffe6e6"/><stop offset=".903" stop-color="#fff0f0"/><stop offset=".98" stop-color="#ffffff"/><stop offset="1" stop-color="#fbfbff"/></linearGradient>
<linearGradient id="g289" gradientUnits="userSpaceOnUse" x1="32.3" x2="162.6"><stop offset="0" stop-color="#f6f6ff"/><stop offset=".136" stop-color="#ebebff"/><stop offset=".289" stop-color="#eaeaff"/><stop offset=".412" stop-color="#ffffff"/><stop offset=".52" stop-color="#ffeded"/><stop offset=".704" stop-color="#ffe2e2"/><stop offset=".903" stop-color="#ffefef"/><stop offset=".976" stop-color="#ffffff"/><stop offset="1" stop-color="#f9f9ff"/></linearGradient>
<linearGradient id="g290" gradientUnits="userSpaceOnUse" x1="32.3" x2="162.6"><stop offset="0" stop-color="#f1f1ff"/><stop offset=".136" stop-color="#e6e6ff"/><stop offset=".289" stop-color="#e6e6ff"/><stop offset=".412" stop-color="#ffffff"/><stop offset=".52" stop-color="#ffeaea"/><stop offset=".691" stop-color="#ffdede"/><stop offset=".903" stop-color="#ffeded"/><stop offset=".973" stop-color="#ffffff"/><stop offset="1" stop-color="#f7f7ff"/></linearGradient>
<linearGradient id="g291" gradientUnits="userSpaceOnUse" x1="32.3" x2="162.6"><stop offset="0" stop-color="#ededff"/><stop offset=".136" stop-color="#e0e0ff"/><stop offset=".289" stop-color="#e2e2ff"/><stop offset=".412" stop-color="#ffffff"/><stop offset=".52" stop-color="#ffe7e7"/><stop offset=".678" stop-color="#ffdada"/><stop offset=".903" stop-color="#ffebeb"/><stop offset=".971" stop-color="#ffffff"/><stop offset="1" stop-color="#f6f6ff"/></linearGradient>
<linearGradient id="g292" gradientUnits="userSpaceOnUse" x1="32.3" x2="162.6"><stop offset="0" stop-color="#eaeaff"/><stop offset=".136" stop-color="#ddddff"/><stop offset=".289" stop-color="#e0e0ff"/><stop offset=".412" stop-color="#ffffff"/><stop offset=".52" stop-color="#ffe5e5"/><stop offset=".673" stop-color="#ffd8d8"/><stop offset=".903" stop-color="#ffeaea"/><stop offset=".969" stop-color="#ffffff"/><stop offset="1" stop-color="#f4f4ff"/></linearGradient>
<linearGradient id="g293" gradientUnits="userSpaceOnUse" x1="32.3" x2="162.6"><stop offset="0" stop-color="#e9e9ff"/><stop offset=".136" stop-color="#dcdcff"/><stop offset=".289" stop-color="#dfdfff"/><stop offset=".412" stop-color="#ffffff"/><stop offset=".52" stop-color="#ffe5e5"/><stop offset=".673" stop-color="#ffd8d8"/><stop offset=".903" stop-color="#ffe9e9"/><stop offset=".968" stop-color="#ffffff"/><stop offset="1" stop-color="#f3f3ff"/></linearGradient>
<linearGradient id="g294" gradientUnits="userSpaceOnUse" x1="32.3" x2="162.6"><stop offset="0" stop-color="#e8e8ff"/><stop offset=".136" stop-color="#dbdbff"/><stop offset=".289" stop-color="#dedeff"/><stop offset=".412" stop-color="#ffffff"/><stop offset=".52" stop-color="#ffe4e4"/><stop offset=".673" stop-color="#ffd7d7"/><stop offset=".903" stop-color="#ffe8e8"/><stop offset=".967" stop-color="#ffffff"/><stop offset="1" stop-color="#f2f2ff"/></linearGradient>
<linearGradient id="g295" gradientUnits="userSpaceOnUse" x1="32.3" x2="162.6"><stop offset="0" stop-color="#e7e7ff"/><stop offset=".136" stop-color="#d9d9ff"/><stop offset=".289" stop-color="#ddddff"/><stop offset=".412" stop-color="#ffffff"/><stop offset=".52" stop-color="#ffe4e4"/><stop offset=".673" stop-color="#ffd6d6"/><stop offset=".903" stop-color="#ffe7e7"/><stop offset=".967" stop-color="#ffffff"/><stop offset="1" stop-color="#f1f1ff"/></linearGradient>
<linearGradient id="g296" gradientUnits="userSpaceOnUse" x1="32.3" x2="162.6"><stop offset="0" stop-color="#e6e6ff"/><stop offset=".136" stop-color="#d8d8ff"/><stop offset=".289" stop-color="#dcdcff"/><stop offset=".412" stop-color="#ffffff"/><stop offset=".52" stop-color="#ffe3e3"/><stop offset=".673" stop-color="#ffd5d5"/><stop offset=".903" stop-color="#ffe6e6"/><stop offset=".966" stop-color="#ffffff"/><stop offset="1" stop-color="#f0f0ff"/></linearGradient>
<linearGradient id="g297" gradientUnits="userSpaceOnUse" x1="32.3" x2="162.6"><stop offset="0" stop-color="#e5e5ff"/><stop offset=".136" stop-color="#d7d7ff"/><stop offset=".289" stop-color="#dbdbff"/><stop offset=".412" stop-color="#ffffff"/><stop offset=".52" stop-color="#ffe3e3"/><stop offset=".673" stop-color="#ffd4d4"/><stop offset=".903" stop-color="#ffe5e5"/><stop offset=".965" stop-color="#ffffff"/><stop offset="1" stop-color="#efefff"/></linearGradient>
<linearGradient id="g298" gradientUnits="userSpaceOnUse" x1="32.3" x2="162.6"><stop offset="0" stop-color="#e4e4ff"/><stop offset=".136" stop-color="#d5d5ff"/><stop offset=".289" stop-color="#dadaff"/><stop offset=".412" stop-color="#ffffff"/><stop offset=".52" stop-color="#ffe2e2"/><stop offset=".673" stop-color="#ffd4d4"/><stop offset=".903" stop-color="#ffe4e4"/><stop offset=".965" stop-color="#ffffff"/><stop offset="1" stop-color="#eeeeff"/></linearGradient>
<linearGradient id="g299" gradientUnits="userSpaceOnUse" x1="32.3" x2="162.6"><stop offset="0" stop-color="#e3e3ff"/><stop offset=".136" stop-color="#d4d4ff"/><stop offset=".289" stop-color="#d9d9ff"/><stop offset=".412" stop-color="#ffffff"/><stop offset=".52" stop-color="#ffe2e2"/><stop offset=".673" stop-color="#ffd3d3"/><stop offset=".903" stop-color="#ffe3e3"/><stop offset=".964" stop-color="#ffffff"/><stop offset="1" stop-color="#ededff"/></linearGradient>
<linearGradient id="g300" gradientUnits="userSpaceOnUse" x1="32.3" x2="162.6"><stop offset="0" stop-color="#e2e2ff"/><stop offset=".136" stop-color="#d3d3ff"/><stop offset=".289" stop-color="#d8d8ff"/><stop offset=".412" stop-color="#ffffff"/><stop offset=".52" stop-color="#ffe1e1"/><stop offset=".673" stop-color="#ffd2d2"/><stop offset=".903" stop-color="#ffe2e2"/><stop offset=".964" stop-color="#ffffff"/><stop offset="1" stop-color="#ececff"/></linearGradient>
<linearGradient id="g301" gradientUnits="userSpaceOnUse" x1="32.3" x2="162.6"><stop offset="0" stop-color="#e1e1ff"/><stop offset=".136" stop-color="#d2d2ff"/><stop offset=".289" stop-color="#d7d7ff"/><stop offset=".412" stop-color="#ffffff"/><stop offset=".52" stop-color="#ffe1e1"/><stop offset=".673" stop-color="#ffd1d1"/><stop offset=".903" stop-color="#ffe1e1"/><stop offset=".963" stop-color="#ffffff"/><stop offset="1" stop-color="#ebebff"/></linearGradient>
<linearGradient id="g302" gradientUnits="userSpaceOnUse" x1="32.3" x2="162.6"><stop offset="0" stop-color="#e0e0ff"/><stop offset=".136" stop-color="#d1d1ff"/><stop offset=".289" stop-color="#d6d6ff"/><stop offset=".412" stop-color="#ffffff"/><stop offset=".52" stop-color="#ffe0e0"/><stop offset=".673" stop-color="#ffd1d1"/><stop offset=".903" stop-color="#ffe0e0"/><stop offset=".963" stop-color="#ffffff"/><stop offset="1" stop-color="#ebebff"/></linearGradient>
<clipPath id="c303"><rect x="228.3" y="545.7" width="173.3" height="125"/></clipPath>
<linearGradient id="g304" gradientUnits="userSpaceOnUse" x1="228.3" x2="401.6"><stop offset="0" stop-color="#fcfcff"/><stop offset=".183" stop-color="#fbfbff"/><stop offset=".356" stop-color="#fcfcff"/><stop offset=".471" stop-color="#ffffff"/><stop offset=".587" stop-color="#fffcfc"/><stop offset=".76" stop-color="#fffbfb"/><stop offset=".933" stop-color="#fffcfc"/><stop offset="1" stop-color="#ffffff"/></linearGradient>
<linearGradient id="g305" gradientUnits="userSpaceOnUse" x1="228.3" x2="401.6"><stop offset="0" stop-color="#fcfcff"/><stop offset=".183" stop-color="#fafaff"/><stop offset=".356" stop-color="#fcfcff"/><stop offset=".471" stop-color="#ffffff"/><stop offset=".587" stop-color="#fffcfc"/><stop offset=".758" stop-color="#fffafa"/><stop offset=".931" stop-color="#fffcfc"/><stop offset="1" stop-color="#ffffff"/></linearGradient>
<linearGradient id="g306" gradientUnits="userSpaceOnUse" x1="228.3" x2="401.6"><stop offset="0" stop-color="#fbfbff"/><stop offset=".183" stop-color="#f9f9ff"/><stop offset=".356" stop-color="#fbfbff"/><stop offset=".471" stop-color="#ffffff"/><stop offset=".587" stop-color="#fffbfb"/><stop offset=".755" stop-color="#fff9f9"/><stop offset=".928" stop-color="#fffcfc"/><stop offset="1" stop-color="#ffffff"/></linearGradient>
<linearGradient id="g307" gradientUnits="userSpaceOnUse" x1="228.3" x2="401.6"><stop offset="0" stop-color="#fafaff"/><stop offset=".183" stop-color="#f8f8ff"/><stop offset=".356" stop-color="#fafaff"/><stop offset=".471" stop-color="#ffffff"/><stop offset=".587" stop-color="#fffafa"/><stop offset=".753" stop-color="#fff8f8"/><stop offset=".926" stop-color="#fffbfb"/><stop offset="1" stop-color="#ffffff"/></linearGradient>
<linearGradient id="g308" gradientUnits="userSpaceOnUse" x1="228.3" x2="401.6"><stop offset="0" stop-color="#f9f9ff"/><stop offset=".183" stop-color="#f6f6ff"/><stop offset=".356" stop-color="#fafaff"/><stop offset=".471" stop-color="#ffffff"/><stop offset=".587" stop-color="#fffafa"/><stop offset=".75" stop-color="#fff7f7"/><stop offset=".923" stop-color="#fffbfb"/><stop offset="1" stop-color="#ffffff"/></linearGradient>
<linearGradient id="g309" gradientUnits="userSpaceOnUse" x1="228.3" x2="401.6"><stop offset="0" stop-color="#f8f8ff"/><stop offset=".183" stop-color="#f5f5ff"/><stop offset=".356" stop-color="#f9f9ff"/><stop offset=".471" stop-color="#ffffff"/><stop offset=".587" stop-color="#fff9f9"/><stop offset=".747" stop-color="#fff6f6"/><stop offset=".92" stop-color="#fffafa"/><stop offset="1" stop-color="#ffffff"/></linearGradient>
<linearGradient id="g310" gradientUnits="userSpaceOnUse" x1="228.3" x2="401.6"><stop offset="0" stop-color="#f7f7ff"/><stop offset=".183" stop-color="#f4f4ff"/><stop offset=".356" stop-color="#f8f8ff"/><stop offset=".471" stop-color="#ffffff"/><stop offset=".587" stop-color="#fff8f8"/><stop offset=".745" stop-color="#fff5f5"/><stop offset=".918" stop-color="#fffafa"/><stop offset="1" stop-color="#ffffff"/></linearGradient>
<linearGradient id="g311" gradientUnits="userSpaceOnUse" x1="228.3" x2="401.6"><stop offset="0" stop-color="#f6f6ff"/><stop offset=".183" stop-color="#f2f2ff"/><stop offset=".356" stop-color="#f8f8ff"/><stop offset=".471" stop-color="#ffffff"/><stop offset=".587" stop-color="#fff8f8"/><stop offset=".742" stop-color="#fff4f4"/><stop offset=".915" stop-color="#fff9f9"/><stop offset="1" stop-color="#ffffff"/></linearGradient>
<linearGradient id="g312" gradientUnits="userSpaceOnUse" x1="228.3" x2="401.6"><stop offset="0" stop-color="#f5f5ff"/><stop offset=".183" stop-color="#f1f1ff"/><stop offset=".356" stop-color="#f7f7ff"/><stop offset=".471" stop-color="#ffffff"/><stop offset=".587" stop-color="#fff7f7"/><stop offset=".739" stop-color="#fff3f3"/><stop offset=".913" stop-color="#fff9f9"/><stop offset="1" stop-color="#ffffff"/></linearGradient>
<linearGradient id="g313" gradientUnits="userSpaceOnUse" x1="228.3" x2="401.6"><stop offset="0" stop-color="#f4f4ff"/><stop offset=".183" stop-color="#f0f0ff"/><stop offset=".356" stop-color="#f6f6ff"/><stop offset=".471" stop-color="#ffffff"/><stop offset=".587" stop-color="#fff6f6"/><stop offset=".737" stop-color="#fff2f2"/><stop offset=".91" stop-color="#fff8f8"/><stop offset="1" stop-color="#ffffff"/></linearGradient>
<linearGradient id="g314" gradientUnits="userSpaceOnUse" x1="228.3" x2="401.6"><stop offset="0" stop-color="#f3f3ff"/><stop offset=".183" stop-color="#efefff"/><stop offset=".356" stop-color="#f6f6ff"/><stop offset=".471" stop-color="#ffffff"/><stop offset=".587" stop-color="#fff6f6"/><stop offset=".734" stop-color="#fff1f1"/><stop offset=".907" stop-color="#fff8f8"/><stop offset="1" stop-color="#ffffff"/></linearGradient>
<linearGradient id="g315" gradientUnits="userSpaceOnUse" x1="228.3" x2="401.6"><stop offset="0" stop-color="#f2f2ff"/><stop offset=".183" stop-color="#ededff"/><stop offset=".356" stop-color="#f5f5ff"/><stop offset=".471" stop-color="#ffffff"/><stop offset=".587" stop-color="#fff5f5"/><stop offset=".732" stop-color="#fff0f0"/><stop offset=".905" stop-color="#fff7f7"/><stop offset="1" stop-color="#ffffff"/></linearGradient>
<linearGradient id="g316" gradientUnits="userSpaceOnUse" x1="228.3" x2="401.6"><stop offset="0" stop-color="#f1f1ff"/><stop offset=".183" stop-color="#ebebff"/><stop offset=".356" stop-color="#f3f3ff"/><stop offset=".47" stop-color="#ffffff"/><stop offset=".584" stop-color="#fff2f2"/><stop offset=".734" stop-color="#ffebeb"/><stop offset=".907" stop-color="#fff5f5"/><stop offset=".991" stop-color="#ffffff"/><stop offset="1" stop-color="#fefeff"/></linearGradient>
<linearGradient id="g317" gradientUnits="userSpaceOnUse" x1="228.3" x2="401.6"><stop offset="0" stop-color="#efefff"/><stop offset=".183" stop-color="#e9e9ff"/><stop offset=".356" stop-color="#f2f2ff"/><stop offset=".469" stop-color="#ffffff"/><stop offset=".58" stop-color="#ffefef"/><stop offset=".738" stop-color="#ffe6e6"/><stop offset=".911" stop-color="#fff3f3"/><stop offset=".984" stop-color="#ffffff"/><stop offset="1" stop-color="#fcfcff"/></linearGradient>
<linearGradient id="g318" gradientUnits="userSpaceOnUse" x1="228.3" x2="401.6"><stop offset="0" stop-color="#eeeeff"/><stop offset=".183" stop-color="#e7e7ff"/><stop offset=".356" stop-color="#f0f0ff"/><stop offset=".467" stop-color="#ffffff"/><stop offset=".577" stop-color="#ffecec"/><stop offset=".741" stop-color="#ffe1e1"/><stop offset=".914" stop-color="#fff1f1"/><stop offset=".981" stop-color="#ffffff"/><stop offset="1" stop-color="#fafaff"/></linearGradient>
<linearGradient id="g319" gradientUnits="userSpaceOnUse" x1="228.3" x2="401.6"><stop offset="0" stop-color="#ececff"/><stop offset=".183" stop-color="#e5e5ff"/><stop offset=".356" stop-color="#efefff"/><stop offset=".466" stop-color="#ffffff"/><stop offset=".573" stop-color="#ffe9e9"/><stop offset=".745" stop-color="#ffdcdc"/><stop offset=".918" stop-color="#ffefef"/><stop offset=".979" stop-color="#ffffff"/><stop offset="1" stop-color="#f9f9ff"/></linearGradient>
<linearGradient id="g320" gradientUnits="userSpaceOnUse" x1="228.3" x2="401.6"><stop offset="0" stop-color="#ebebff"/><stop offset=".183" stop-color="#e2e2ff"/><stop offset=".356" stop-color="#ededff"/><stop offset=".464" stop-color="#ffffff"/><stop offset=".569" stop-color="#ffe5e5"/><stop offset=".749" stop-color="#ffd7d7"/><stop offset=".922" stop-color="#ffeded"/><stop offset=".979" stop-color="#ffffff"/><stop offset="1" stop-color="#f7f7ff"/></linearGradient>
<linearGradient id="g321" gradientUnits="userSpaceOnUse" x1="228.3" x2="401.6"><stop offset="0" stop-color="#e9e9ff"/><stop offset=".183" stop-color="#e0e0ff"/><stop offset=".356" stop-color="#ebebff"/><stop offset=".463" stop-color="#ffffff"/><stop offset=".566" stop-color="#ffe2e2"/><stop offset=".752" stop-color="#ffd2d2"/><stop offset=".925" stop-color="#ffeaea"/><stop offset=".978" stop-color="#ffffff"/><stop offset="1" stop-color="#f6f6ff"/></linearGradient>
<linearGradient id="g322" gradientUnits="userSpaceOnUse" x1="228.3" x2="401.6"><stop offset="0" stop-color="#e7e7ff"/><stop offset=".183" stop-color="#dedeff"/><stop offset=".356" stop-color="#eaeaff"/><stop offset=".462" stop-color="#ffffff"/><stop offset=".562" stop-color="#ffdfdf"/><stop offset=".756" stop-color="#ffcdcd"/><stop offset=".929" stop-color="#ffe8e8"/><stop offset=".979" stop-color="#ffffff"/><stop offset="1" stop-color="#f4f4ff"/></linearGradient>
<linearGradient id="g323" gradientUnits="userSpaceOnUse" x1="228.3" x2="401.6"><stop offset="0" stop-color="#e6e6ff"/><stop offset=".183" stop-color="#dcdcff"/><stop offset=".356" stop-color="#e8e8ff"/><stop offset=".46" stop-color="#ffffff"/><stop offset=".559" stop-color="#ffdcdc"/><stop offset=".759" stop-color="#ffc8c8"/><stop offset=".932" stop-color="#ffe6e6"/><stop offset=".979" stop-color="#ffffff"/><stop offset="1" stop-color="#f3f3ff"/></linearGradient>
<linearGradient id="g324" gradientUnits="userSpaceOnUse" x1="228.3" x2="401.6"><stop offset="0" stop-color="#e0e0ff"/><stop offset=".183" stop-color="#d6d6ff"/><stop offset=".356" stop-color="#e5e5ff"/><stop offset=".458" stop-color="#ffffff"/><stop offset=".554" stop-color="#ffd6d6"/><stop offset=".76" stop-color="#ffc1c1"/><stop offset=".935" stop-color="#ffe4e4"/><stop offset=".97" stop-color="#ffffff"/><stop offset="1" stop-color="#e6e6ff"/></linearGradient>
<linearGradient id="g325" gradientUnits="userSpaceOnUse" x1="228.3" x2="401.6"><stop offset="0" stop-color="#dadaff"/><stop offset=".183" stop-color="#cfcfff"/><stop offset=".356" stop-color="#e1e1ff"/><stop offset=".455" stop-color="#ffffff"/><stop offset=".549" stop-color="#ffcfcf"/><stop offset=".76" stop-color="#ffb9b9"/><stop offset=".936" stop-color="#ffe2e2"/><stop offset=".965" stop-color="#ffffff"/><stop offset="1" stop-color="#d8d8ff"/></linearGradient>
<linearGradient id="g326" gradientUnits="userSpaceOnUse" x1="228.3" x2="401.6"><stop offset="0" stop-color="#d4d4ff"/><stop offset=".183" stop-color="#c9c9ff"/><stop offset=".356" stop-color="#dedeff"/><stop offset=".452" stop-color="#ffffff"/><stop offset=".545" stop-color="#ffc9c9"/><stop offset=".76" stop-color="#ffb2b2"/><stop offset=".938" stop-color="#ffe0e0"/><stop offset=".962" stop-color="#ffffff"/><stop offset="1" stop-color="#c9c9ff"/></linearGradient>
<linearGradient id="g327" gradientUnits="userSpaceOnUse" x1="228.3" x2="401.6"><stop offset="0" stop-color="#ceceff"/><stop offset=".183" stop-color="#c2c2ff"/><stop offset=".356" stop-color="#dadaff"/><stop offset=".449" stop-color="#ffffff"/><stop offset=".54" stop-color="#ffc2c2"/><stop offset=".76" stop-color="#ffaaaa"/><stop offset=".94" stop-color="#ffdede"/><stop offset=".961" stop-color="#ffffff"/><stop offset="1" stop-color="#bbbbff"/></linearGradient>
<linearGradient id="g328" gradientUnits="userSpaceOnUse" x1="228.3" x2="401.6"><stop offset="0" stop-color="#c8c8ff"/><stop offset=".183" stop-color="#bbbbff"/><stop offset=".356" stop-color="#d6d6ff"/><stop offset=".446" stop-color="#ffffff"/><stop offset=".535" stop-color="#ffbbbb"/><stop offset=".76" stop-color="#ffa3a3"/><stop offset=".942" stop-color="#ffdcdc"/><stop offset=".96" stop-color="#ffffff"/><stop offset="1" stop-color="#adadff"/></linearGradient>
<linearGradient id="g329" gradientUnits="userSpaceOnUse" x1="228.3" x2="401.6"><stop offset="0" stop-color="#c1c1ff"/><stop offset=".183" stop-color="#b5b5ff"/><stop offset=".356" stop-color="#d2d2ff"/><stop offset=".444" stop-color="#ffffff"/><stop offset=".531" stop-color="#ffb5b5"/><stop offset=".76" stop-color="#ff9c9c"/><stop offset=".944" stop-color="#ffd9d9"/><stop offset=".96" stop-color="#ffffff"/><stop offset="1" stop-color="#9e9eff"/></linearGradient>
<linearGradient id="g330" gradientUnits="userSpaceOnUse" x1="228.3" x2="401.6"><stop offset="0" stop-color="#bfbfff"/><stop offset=".183" stop-color="#b2b2ff"/><stop offset=".356" stop-color="#d1d1ff"/><stop offset=".443" stop-color="#ffffff"/><stop offset=".529" stop-color="#ffb2b2"/><stop offset=".76" stop-color="#ff9999"/><stop offset=".945" stop-color="#ffd9d9"/><stop offset=".96" stop-color="#ffffff"/><stop offset="1" stop-color="#9999ff"/></linearGradient>
<clipPath id="c331"><rect x="228.3" y="670.7" width="173.3" height="25.6"/></clipPath>
<linearGradient id="g332" gradientUnits="userSpaceOnUse" x1="228.3" x2="401.6"><stop offset="0" stop-color="#ffb2b2"/><stop offset=".044" stop-color="#ffffff"/><stop offset=".125" stop-color="#8080ff"/><stop offset=".241" stop-color="#bfbfff"/><stop offset=".356" stop-color="#e6e6ff"/><stop offset=".414" stop-color="#ffffff"/><stop offset=".529" stop-color="#ffbfbf"/><stop offset=".673" stop-color="#ffa6a6"/><stop offset=".818" stop-color="#ff8c8c"/><stop offset="1" stop-color="#ffb2b2"/></linearGradient>
<linearGradient id="g333" gradientUnits="userSpaceOnUse" x1="228.3" x2="401.6"><stop offset="0" stop-color="#ffb4b4"/><stop offset=".044" stop-color="#ffffff"/><stop offset=".125" stop-color="#7e7eff"/><stop offset=".241" stop-color="#bebeff"/><stop offset=".356" stop-color="#e5e5ff"/><stop offset=".414" stop-color="#ffffff"/><stop offset=".529" stop-color="#ffbfbf"/><stop offset=".673" stop-color="#ffa5a5"/><stop offset=".816" stop-color="#ff8989"/><stop offset="1" stop-color="#ffb2b2"/></linearGradient>
<linearGradient id="g334" gradientUnits="userSpaceOnUse" x1="228.3" x2="401.6"><stop offset="0" stop-color="#ffbbbb"/><stop offset=".044" stop-color="#ffffff"/><stop offset=".125" stop-color="#7777ff"/><stop offset=".241" stop-color="#bbbbff"/><stop offset=".356" stop-color="#e4e4ff"/><stop offset=".414" stop-color="#ffffff"/><stop offset=".529" stop-color="#ffbfbf"/><stop offset=".673" stop-color="#ffa1a1"/><stop offset=".808" stop-color="#ff7f7f"/><stop offset="1" stop-color="#ffb2b2"/></linearGradient>
<linearGradient id="g335" gradientUnits="userSpaceOnUse" x1="228.3" x2="401.6"><stop offset="0" stop-color="#ffc2c2"/><stop offset=".044" stop-color="#ffffff"/><stop offset=".125" stop-color="#7070ff"/><stop offset=".241" stop-color="#b7b7ff"/><stop offset=".356" stop-color="#e2e2ff"/><stop offset=".414" stop-color="#ffffff"/><stop offset=".529" stop-color="#ffbfbf"/><stop offset=".673" stop-color="#ff9e9e"/><stop offset=".8" stop-color="#ff7575"/><stop offset="1" stop-color="#ffb2b2"/></linearGradient>
<linearGradient id="g336" gradientUnits="userSpaceOnUse" x1="228.3" x2="401.6"><stop offset="0" stop-color="#ffc9c9"/><stop offset=".044" stop-color="#ffffff"/><stop offset=".125" stop-color="#6969ff"/><stop offset=".241" stop-color="#b4b4ff"/><stop offset=".356" stop-color="#e1e1ff"/><stop offset=".414" stop-color="#ffffff"/><stop offset=".529" stop-color="#ffbfbf"/><stop offset=".673" stop-color="#ff9b9b"/><stop offset=".792" stop-color="#ff6b6b"/><stop offset="1" stop-color="#ffb2b2"/></linearGradient>
<linearGradient id="g337" gradientUnits="userSpaceOnUse" x1="228.3" x2="401.6"><stop offset="0" stop-color="#ffd0d0"/><stop offset=".044" stop-color="#ffffff"/><stop offset=".125" stop-color="#6a6aff"/><stop offset=".241" stop-color="#b2b2ff"/><stop offset=".356" stop-color="#e1e1ff"/><stop offset=".414" stop-color="#ffffff"/><stop offset=".529" stop-color="#ffbfbf"/><stop offset=".673" stop-color="#ff9797"/><stop offset=".789" stop-color="#ff6262"/><stop offset="1" stop-color="#ffb2b2"/></linearGradient>
<linearGradient id="g338" gradientUnits="userSpaceOnUse" x1="228.3" x2="401.6"><stop offset="0" stop-color="#ffd8d8"/><stop offset=".044" stop-color="#ffffff"/><stop offset=".125" stop-color="#7272ff"/><stop offset=".241" stop-color="#b2b2ff"/><stop offset=".356" stop-color="#e3e3ff"/><stop offset=".414" stop-color="#ffffff"/><stop offset=".529" stop-color="#ffbfbf"/><stop offset=".673" stop-color="#ff9393"/><stop offset=".789" stop-color="#ff5a5a"/><stop offset="1" stop-color="#ffb2b2"/></linearGradient>
<linearGradient id="g339" gradientUnits="userSpaceOnUse" x1="228.3" x2="401.6"><stop offset="0" stop-color="#ffdfdf"/><stop offset=".044" stop-color="#ffffff"/><stop offset=".125" stop-color="#7979ff"/><stop offset=".241" stop-color="#b2b2ff"/><stop offset=".356" stop-color="#e4e4ff"/><stop offset=".414" stop-color="#ffffff"/><stop offset=".529" stop-color="#ffbfbf"/><stop offset=".673" stop-color="#ff8f8f"/><stop offset=".789" stop-color="#ff5353"/><stop offset="1" stop-color="#ffb2b2"/></linearGradient>
<linearGradient id="g340" gradientUnits="userSpaceOnUse" x1="228.3" x2="401.6"><stop offset="0" stop-color="#ffe6e6"/><stop offset=".044" stop-color="#ffffff"/><stop offset=".125" stop-color="#8080ff"/><stop offset=".241" stop-color="#b2b2ff"/><stop offset=".356" stop-color="#e6e6ff"/><stop offset=".414" stop-color="#ffffff"/><stop offset=".529" stop-color="#ffbfbf"/><stop offset=".673" stop-color="#ff8c8c"/><stop offset=".789" stop-color="#ff4d4d"/><stop offset="1" stop-color="#ffb2b2"/></linearGradient>
<clipPath id="c341"><rect x="228.3" y="696.3" width="173.3" height="103.3"/></clipPath>
<linearGradient id="g342" gradientUnits="userSpaceOnUse" x1="228.3" x2="401.6"><stop offset="0" stop-color="#ffcccc"/><stop offset=".096" stop-color="#ffebeb"/><stop offset=".154" stop-color="#ffffff"/><stop offset=".258" stop-color="#8c8cff"/><stop offset=".356" stop-color="#bfbfff"/><stop offset=".431" stop-color="#ffffff"/><stop offset=".518" stop-color="#ffa6a6"/><stop offset=".702" stop-color="#ffb2b2"/><stop offset=".847" stop-color="#ffbfbf"/><stop offset="1" stop-color="#ffcccc"/></linearGradient>
<linearGradient id="g343" gradientUnits="userSpaceOnUse" x1="228.3" x2="401.6"><stop offset="0" stop-color="#ffd0d0"/><stop offset=".093" stop-color="#ffeded"/><stop offset=".139" stop-color="#ffffff"/><stop offset=".156" stop-color="#f8f8ff"/><stop offset=".258" stop-color="#9191ff"/><stop offset=".356" stop-color="#c1c1ff"/><stop offset=".431" stop-color="#ffffff"/><stop offset=".518" stop-color="#ffa9a9"/><stop offset=".695" stop-color="#ffb3b3"/><stop offset=".847" stop-color="#ffc1c1"/><stop offset="1" stop-color="#ffd1d1"/></linearGradient>
<linearGradient id="g344" gradientUnits="userSpaceOnUse" x1="228.3" x2="401.6"><stop offset="0" stop-color="#ffd8d8"/><stop offset=".087" stop-color="#fff2f2"/><stop offset=".117" stop-color="#ffffff"/><stop offset=".16" stop-color="#ececff"/><stop offset=".258" stop-color="#9999ff"/><stop offset=".356" stop-color="#c4c4ff"/><stop offset=".431" stop-color="#ffffff"/><stop offset=".518" stop-color="#ffaeae"/><stop offset=".683" stop-color="#ffb4b4"/><stop offset=".847" stop-color="#ffc4c4"/><stop offset="1" stop-color="#ffd9d9"/></linearGradient>
<linearGradient id="g345" gradientUnits="userSpaceOnUse" x1="228.3" x2="401.6"><stop offset="0" stop-color="#ffe0e0"/><stop offset=".08" stop-color="#fff6f6"/><stop offset=".099" stop-color="#ffffff"/><stop offset=".164" stop-color="#e0e0ff"/><stop offset=".258" stop-color="#a2a2ff"/><stop offset=".356" stop-color="#c6c6ff"/><stop offset=".431" stop-color="#ffffff"/><stop offset=".518" stop-color="#ffb4b4"/><stop offset=".67" stop-color="#ffb5b5"/><stop offset=".847" stop-color="#ffc6c6"/><stop offset="1" stop-color="#ffe1e1"/></linearGradient>
<linearGradient id="g346" gradientUnits="userSpaceOnUse" x1="228.3" x2="401.6"><stop offset="0" stop-color="#ffe8e8"/><stop offset=".074" stop-color="#fffafa"/><stop offset=".083" stop-color="#ffffff"/><stop offset=".167" stop-color="#d4d4ff"/><stop offset=".258" stop-color="#aaaaff"/><stop offset=".356" stop-color="#c9c9ff"/><stop offset=".431" stop-color="#ffffff"/><stop offset=".518" stop-color="#ffb9b9"/><stop offset=".658" stop-color="#ffb6b6"/><stop offset=".847" stop-color="#ffc9c9"/><stop offset="1" stop-color="#ffeaea"/></linearGradient>
<linearGradient id="g347" gradientUnits="userSpaceOnUse" x1="228.3" x2="401.6"><stop offset="0" stop-color="#ffefef"/><stop offset=".068" stop-color="#ffffff"/><stop offset=".068" stop-color="#ffffff"/><stop offset=".171" stop-color="#c7c7ff"/><stop offset=".258" stop-color="#b2b2ff"/><stop offset=".356" stop-color="#ccccff"/><stop offset=".431" stop-color="#ffffff"/><stop offset=".518" stop-color="#ffbfbf"/><stop offset=".645" stop-color="#ffb8b8"/><stop offset=".847" stop-color="#ffcccc"/><stop offset="1" stop-color="#fff2f2"/></linearGradient>
<linearGradient id="g348" gradientUnits="userSpaceOnUse" x1="228.3" x2="401.6"><stop offset="0" stop-color="#fff6f6"/><stop offset=".041" stop-color="#ffffff"/><stop offset=".071" stop-color="#f9f9ff"/><stop offset=".171" stop-color="#c7c7ff"/><stop offset=".258" stop-color="#b4b4ff"/><stop offset=".356" stop-color="#cdcdff"/><stop offset=".43" stop-color="#ffffff"/><stop offset=".518" stop-color="#ffc0c0"/><stop offset=".645" stop-color="#ffb8b8"/><stop offset=".847" stop-color="#ffcbcb"/><stop offset="1" stop-color="#fff4f4"/></linearGradient>
<linearGradient id="g349" gradientUnits="userSpaceOnUse" x1="228.3" x2="401.6"><stop offset="0" stop-color="#fffdfd"/><stop offset=".01" stop-color="#ffffff"/><stop offset=".075" stop-color="#f3f3ff"/><stop offset=".171" stop-color="#c7c7ff"/><stop offset=".258" stop-color="#b6b6ff"/><stop offset=".356" stop-color="#cdcdff"/><stop offset=".43" stop-color="#ffffff"/><stop offset=".518" stop-color="#ffc1c1"/><stop offset=".645" stop-color="#ffb8b8"/><stop offset=".847" stop-color="#ffcbcb"/><stop offset="1" stop-color="#fff5f5"/></linearGradient>
<linearGradient id="g350" gradientUnits="userSpaceOnUse" x1="228.3" x2="401.6"><stop offset="0" stop-color="#fafaff"/><stop offset=".078" stop-color="#ececff"/><stop offset=".171" stop-color="#c7c7ff"/><stop offset=".258" stop-color="#b7b7ff"/><stop offset=".356" stop-color="#ceceff"/><stop offset=".429" stop-color="#ffffff"/><stop offset=".518" stop-color="#ffc2c2"/><stop offset=".645" stop-color="#ffb8b8"/><stop offset=".847" stop-color="#ffcaca"/><stop offset="1" stop-color="#fff7f7"/></linearGradient>
<linearGradient id="g351" gradientUnits="userSpaceOnUse" x1="228.3" x2="401.6"><stop offset="0" stop-color="#f4f4ff"/><stop offset=".082" stop-color="#e6e6ff"/><stop offset=".171" stop-color="#c7c7ff"/><stop offset=".258" stop-color="#b9b9ff"/><stop offset=".356" stop-color="#cfcfff"/><stop offset=".428" stop-color="#ffffff"/><stop offset=".518" stop-color="#ffc3c3"/><stop offset=".645" stop-color="#ffb8b8"/><stop offset=".847" stop-color="#ffc9c9"/><stop offset="1" stop-color="#fff9f9"/></linearGradient>
<linearGradient id="g352" gradientUnits="userSpaceOnUse" x1="228.3" x2="401.6"><stop offset="0" stop-color="#ededff"/><stop offset=".085" stop-color="#dfdfff"/><stop offset=".171" stop-color="#c7c7ff"/><stop offset=".258" stop-color="#babaff"/><stop offset=".356" stop-color="#cfcfff"/><stop offset=".427" stop-color="#ffffff"/><stop offset=".518" stop-color="#ffc4c4"/><stop offset=".645" stop-color="#ffb8b8"/><stop offset=".847" stop-color="#ffc9c9"/><stop offset="1" stop-color="#fffafa"/></linearGradient>
<linearGradient id="g353" gradientUnits="userSpaceOnUse" x1="228.3" x2="401.6"><stop offset="0" stop-color="#e6e6ff"/><stop offset=".089" stop-color="#d9d9ff"/><stop offset=".171" stop-color="#c7c7ff"/><stop offset=".258" stop-color="#bcbcff"/><stop offset=".356" stop-color="#d0d0ff"/><stop offset=".427" stop-color="#ffffff"/><stop offset=".518" stop-color="#ffc5c5"/><stop offset=".645" stop-color="#ffb8b8"/><stop offset=".847" stop-color="#ffc8c8"/><stop offset="1" stop-color="#fffcfc"/></linearGradient>
<linearGradient id="g354" gradientUnits="userSpaceOnUse" x1="228.3" x2="401.6"><stop offset="0" stop-color="#e0e0ff"/><stop offset=".093" stop-color="#d3d3ff"/><stop offset=".171" stop-color="#c7c7ff"/><stop offset=".258" stop-color="#bebeff"/><stop offset=".356" stop-color="#d0d0ff"/><stop offset=".426" stop-color="#ffffff"/><stop offset=".518" stop-color="#ffc6c6"/><stop offset=".645" stop-color="#ffb8b8"/><stop offset=".847" stop-color="#ffc8c8"/><stop offset="1" stop-color="#fffdfd"/></linearGradient>
<linearGradient id="g355" gradientUnits="userSpaceOnUse" x1="228.3" x2="401.6"><stop offset="0" stop-color="#d9d9ff"/><stop offset=".096" stop-color="#ccccff"/><stop offset=".171" stop-color="#c7c7ff"/><stop offset=".258" stop-color="#bfbfff"/><stop offset=".356" stop-color="#d1d1ff"/><stop offset=".425" stop-color="#ffffff"/><stop offset=".518" stop-color="#ffc7c7"/><stop offset=".645" stop-color="#ffb8b8"/><stop offset=".847" stop-color="#ffc7c7"/><stop offset="1" stop-color="#ffffff"/></linearGradient>
<linearGradient id="g356" gradientUnits="userSpaceOnUse" x1="228.3" x2="401.6"><stop offset="0" stop-color="#d9d9ff"/><stop offset=".096" stop-color="#ccccff"/><stop offset=".171" stop-color="#c7c7ff"/><stop offset=".258" stop-color="#c0c0ff"/><stop offset=".356" stop-color="#d2d2ff"/><stop offset=".424" stop-color="#ffffff"/><stop offset=".516" stop-color="#ffc7c7"/><stop offset=".645" stop-color="#ffb8b8"/><stop offset=".847" stop-color="#ffc7c7"/><stop offset=".996" stop-color="#ffffff"/><stop offset="1" stop-color="#fdfdff"/></linearGradient>
<linearGradient id="g357" gradientUnits="userSpaceOnUse" x1="228.3" x2="401.6"><stop offset="0" stop-color="#d9d9ff"/><stop offset=".096" stop-color="#ccccff"/><stop offset=".171" stop-color="#c7c7ff"/><stop offset=".258" stop-color="#c1c1ff"/><stop offset=".356" stop-color="#d3d3ff"/><stop offset=".422" stop-color="#ffffff"/><stop offset=".515" stop-color="#ffc7c7"/><stop offset=".645" stop-color="#ffb8b8"/><stop offset=".847" stop-color="#ffc7c7"/><stop offset=".99" stop-color="#ffffff"/><stop offset="1" stop-color="#fafaff"/></linearGradient>
<linearGradient id="g358" gradientUnits="userSpaceOnUse" x1="228.3" x2="401.6"><stop offset="0" stop-color="#d9d9ff"/><stop offset=".096" stop-color="#ccccff"/><stop offset=".171" stop-color="#c7c7ff"/><stop offset=".258" stop-color="#c2c2ff"/><stop offset=".356" stop-color="#d4d4ff"/><stop offset=".421" stop-color="#ffffff"/><stop offset=".513" stop-color="#ffc7c7"/><stop offset=".645" stop-color="#ffb8b8"/><stop offset=".847" stop-color="#ffc7c7"/><stop offset=".984" stop-color="#ffffff"/><stop offset="1" stop-color="#f7f7ff"/></linearGradient>
<linearGradient id="g359" gradientUnits="userSpaceOnUse" x1="228.3" x2="401.6"><stop offset="0" stop-color="#d9d9ff"/><stop offset=".096" stop-color="#ccccff"/><stop offset=".171" stop-color="#c7c7ff"/><stop offset=".258" stop-color="#c3c3ff"/><stop offset=".356" stop-color="#d5d5ff"/><stop offset=".42" stop-color="#ffffff"/><stop offset=".512" stop-color="#ffc7c7"/><stop offset=".645" stop-color="#ffb8b8"/><stop offset=".847" stop-color="#ffc7c7"/><stop offset=".979" stop-color="#ffffff"/><stop offset="1" stop-color="#f5f5ff"/></linearGradient>
<linearGradient id="g360" gradientUnits="userSpaceOnUse" x1="228.3" x2="401.6"><stop offset="0" stop-color="#d9d9ff"/><stop offset=".096" stop-color="#ccccff"/><stop offset=".171" stop-color="#c7c7ff"/><stop offset=".258" stop-color="#c4c4ff"/><stop offset=".356" stop-color="#d6d6ff"/><stop offset=".418" stop-color="#ffffff"/><stop offset=".51" stop-color="#ffc7c7"/><stop offset=".645" stop-color="#ffb8b8"/><stop offset=".847" stop-color="#ffc7c7"/><stop offset=".974" stop-color="#ffffff"/><stop offset="1" stop-color="#f2f2ff"/></linearGradient>
<linearGradient id="g361" gradientUnits="userSpaceOnUse" x1="228.3" x2="401.6"><stop offset="0" stop-color="#d9d9ff"/><stop offset=".096" stop-color="#ccccff"/><stop offset=".171" stop-color="#c7c7ff"/><stop offset=".258" stop-color="#c5c5ff"/><stop offset=".356" stop-color="#d7d7ff"/><stop offset=".417" stop-color="#ffffff"/><stop offset=".509" stop-color="#ffc7c7"/><stop offset=".645" stop-color="#ffb8b8"/><stop offset=".847" stop-color="#ffc7c7"/><stop offset=".969" stop-color="#ffffff"/><stop offset="1" stop-color="#f0f0ff"/></linearGradient>
<linearGradient id="g362" gradientUnits="userSpaceOnUse" x1="228.3" x2="401.6"><stop offset="0" stop-color="#d9d9ff"/><stop offset=".096" stop-color="#ccccff"/><stop offset=".171" stop-color="#c7c7ff"/><stop offset=".258" stop-color="#c6c6ff"/><stop offset=".356" stop-color="#d8d8ff"/><stop offset=".415" stop-color="#ffffff"/><stop offset=".508" stop-color="#ffc7c7"/><stop offset=".645" stop-color="#ffb8b8"/><stop offset=".847" stop-color="#ffc7c7"/><stop offset=".965" stop-color="#ffffff"/><stop offset="1" stop-color="#ededff"/></linearGradient>
<linearGradient id="g363" gradientUnits="userSpaceOnUse" x1="228.3" x2="401.6"><stop offset="0" stop-color="#d9d9ff"/><stop offset=".096" stop-color="#ccccff"/><stop offset=".171" stop-color="#c7c7ff"/><stop offset=".258" stop-color="#c7c7ff"/><stop offset=".356" stop-color="#d9d9ff"/><stop offset=".414" stop-color="#ffffff"/><stop offset=".506" stop-color="#ffc7c7"/><stop offset=".645" stop-color="#ffb8b8"/><stop offset=".847" stop-color="#ffc7c7"/><stop offset=".961" stop-color="#ffffff"/><stop offset="1" stop-color="#ebebff"/></linearGradient>
<clipPath id="c364"><rect x="466.6" y="545.5" width="217.1" height="126.6"/></clipPath>
<linearGradient id="g365" gradientUnits="userSpaceOnUse" x1="466.6" x2="683.7"><stop offset="0" stop-color="#fffbfb"/><stop offset=".154" stop-color="#fffafa"/><stop offset=".338" stop-color="#fffbfb"/><stop offset=".421" stop-color="#fffefe"/><stop offset=".453" stop-color="#ffffff"/><stop offset=".522" stop-color="#fcfcff"/><stop offset=".707" stop-color="#fbfbff"/><stop offset=".868" stop-color="#fcfcff"/><stop offset=".914" stop-color="#ffffff"/><stop offset="1" stop-color="#fffcfc"/></linearGradient>
<linearGradient id="g366" gradientUnits="userSpaceOnUse" x1="466.6" x2="683.7"><stop offset="0" stop-color="#fffbfb"/><stop offset=".154" stop-color="#fff9f9"/><stop offset=".338" stop-color="#fffafa"/><stop offset=".421" stop-color="#fffdfd"/><stop offset=".453" stop-color="#ffffff"/><stop offset=".522" stop-color="#fcfcff"/><stop offset=".704" stop-color="#fafaff"/><stop offset=".866" stop-color="#fcfcff"/><stop offset=".913" stop-color="#ffffff"/><stop offset="1" stop-color="#fffcfc"/></linearGradient>
<linearGradient id="g367" gradientUnits="userSpaceOnUse" x1="466.6" x2="683.7"><stop offset="0" stop-color="#fffafa"/><stop offset=".154" stop-color="#fff8f8"/><stop offset=".338" stop-color="#fffafa"/><stop offset=".421" stop-color="#fffdfd"/><stop offset=".453" stop-color="#ffffff"/><stop offset=".522" stop-color="#fbfbff"/><stop offset=".7" stop-color="#fafaff"/><stop offset=".865" stop-color="#fcfcff"/><stop offset=".912" stop-color="#ffffff"/><stop offset="1" stop-color="#fffbfb"/></linearGradient>
<linearGradient id="g368" gradientUnits="userSpaceOnUse" x1="466.6" x2="683.7"><stop offset="0" stop-color="#fff9f9"/><stop offset=".154" stop-color="#fff7f7"/><stop offset=".338" stop-color="#fff9f9"/><stop offset=".421" stop-color="#fffdfd"/><stop offset=".453" stop-color="#ffffff"/><stop offset=".522" stop-color="#fbfbff"/><stop offset=".697" stop-color="#f9f9ff"/><stop offset=".863" stop-color="#fbfbff"/><stop offset=".911" stop-color="#ffffff"/><stop offset="1" stop-color="#fffafa"/></linearGradient>
<linearGradient id="g369" gradientUnits="userSpaceOnUse" x1="466.6" x2="683.7"><stop offset="0" stop-color="#fff9f9"/><stop offset=".154" stop-color="#fff6f6"/><stop offset=".338" stop-color="#fff8f8"/><stop offset=".421" stop-color="#fffdfd"/><stop offset=".453" stop-color="#ffffff"/><stop offset=".522" stop-color="#fafaff"/><stop offset=".693" stop-color="#f8f8ff"/><stop offset=".861" stop-color="#fbfbff"/><stop offset=".91" stop-color="#ffffff"/><stop offset="1" stop-color="#fff9f9"/></linearGradient>
<linearGradient id="g370" gradientUnits="userSpaceOnUse" x1="466.6" x2="683.7"><stop offset="0" stop-color="#fff8f8"/><stop offset=".154" stop-color="#fff5f5"/><stop offset=".338" stop-color="#fff7f7"/><stop offset=".421" stop-color="#fffcfc"/><stop offset=".453" stop-color="#ffffff"/><stop offset=".522" stop-color="#fafaff"/><stop offset=".69" stop-color="#f7f7ff"/><stop offset=".859" stop-color="#fbfbff"/><stop offset=".909" stop-color="#ffffff"/><stop offset="1" stop-color="#fff9f9"/></linearGradient>
<linearGradient id="g371" gradientUnits="userSpaceOnUse" x1="466.6" x2="683.7"><stop offset="0" stop-color="#fff7f7"/><stop offset=".154" stop-color="#fff4f4"/><stop offset=".338" stop-color="#fff6f6"/><stop offset=".421" stop-color="#fffcfc"/><stop offset=".453" stop-color="#ffffff"/><stop offset=".522" stop-color="#f9f9ff"/><stop offset=".686" stop-color="#f6f6ff"/><stop offset=".858" stop-color="#fafaff"/><stop offset=".908" stop-color="#ffffff"/><stop offset="1" stop-color="#fff8f8"/></linearGradient>
<linearGradient id="g372" gradientUnits="userSpaceOnUse" x1="466.6" x2="683.7"><stop offset="0" stop-color="#fff7f7"/><stop offset=".154" stop-color="#fff3f3"/><stop offset=".338" stop-color="#fff5f5"/><stop offset=".421" stop-color="#fffcfc"/><stop offset=".453" stop-color="#ffffff"/><stop offset=".522" stop-color="#f8f8ff"/><stop offset=".682" stop-color="#f5f5ff"/><stop offset=".856" stop-color="#fafaff"/><stop offset=".907" stop-color="#ffffff"/><stop offset="1" stop-color="#fff7f7"/></linearGradient>
<linearGradient id="g373" gradientUnits="userSpaceOnUse" x1="466.6" x2="683.7"><stop offset="0" stop-color="#fff6f6"/><stop offset=".154" stop-color="#fff2f2"/><stop offset=".338" stop-color="#fff4f4"/><stop offset=".421" stop-color="#fffbfb"/><stop offset=".453" stop-color="#ffffff"/><stop offset=".522" stop-color="#f8f8ff"/><stop offset=".679" stop-color="#f4f4ff"/><stop offset=".854" stop-color="#f9f9ff"/><stop offset=".906" stop-color="#ffffff"/><stop offset="1" stop-color="#fff6f6"/></linearGradient>
<linearGradient id="g374" gradientUnits="userSpaceOnUse" x1="466.6" x2="683.7"><stop offset="0" stop-color="#fff5f5"/><stop offset=".154" stop-color="#fff1f1"/><stop offset=".338" stop-color="#fff3f3"/><stop offset=".421" stop-color="#fffbfb"/><stop offset=".453" stop-color="#ffffff"/><stop offset=".522" stop-color="#f7f7ff"/><stop offset=".675" stop-color="#f3f3ff"/><stop offset=".852" stop-color="#f9f9ff"/><stop offset=".905" stop-color="#ffffff"/><stop offset="1" stop-color="#fff6f6"/></linearGradient>
<linearGradient id="g375" gradientUnits="userSpaceOnUse" x1="466.6" x2="683.7"><stop offset="0" stop-color="#fff4f4"/><stop offset=".154" stop-color="#fff0f0"/><stop offset=".338" stop-color="#fff3f3"/><stop offset=".421" stop-color="#fffbfb"/><stop offset=".453" stop-color="#ffffff"/><stop offset=".522" stop-color="#f7f7ff"/><stop offset=".672" stop-color="#f3f3ff"/><stop offset=".85" stop-color="#f9f9ff"/><stop offset=".903" stop-color="#ffffff"/><stop offset="1" stop-color="#fff5f5"/></linearGradient>
<linearGradient id="g376" gradientUnits="userSpaceOnUse" x1="466.6" x2="683.7"><stop offset="0" stop-color="#fff4f4"/><stop offset=".154" stop-color="#ffefef"/><stop offset=".338" stop-color="#fff2f2"/><stop offset=".421" stop-color="#fffbfb"/><stop offset=".453" stop-color="#ffffff"/><stop offset=".522" stop-color="#f6f6ff"/><stop offset=".668" stop-color="#f2f2ff"/><stop offset=".849" stop-color="#f8f8ff"/><stop offset=".902" stop-color="#ffffff"/><stop offset="1" stop-color="#fff4f4"/></linearGradient>
<linearGradient id="g377" gradientUnits="userSpaceOnUse" x1="466.6" x2="683.7"><stop offset="0" stop-color="#fff3f3"/><stop offset=".154" stop-color="#ffeeee"/><stop offset=".338" stop-color="#fff1f1"/><stop offset=".421" stop-color="#fffafa"/><stop offset=".453" stop-color="#ffffff"/><stop offset=".522" stop-color="#f6f6ff"/><stop offset=".665" stop-color="#f1f1ff"/><stop offset=".847" stop-color="#f8f8ff"/><stop offset=".901" stop-color="#ffffff"/><stop offset="1" stop-color="#fff3f3"/></linearGradient>
<linearGradient id="g378" gradientUnits="userSpaceOnUse" x1="466.6" x2="683.7"><stop offset="0" stop-color="#fff2f2"/><stop offset=".154" stop-color="#ffeded"/><stop offset=".338" stop-color="#fff0f0"/><stop offset=".421" stop-color="#fffafa"/><stop offset=".453" stop-color="#ffffff"/><stop offset=".522" stop-color="#f5f5ff"/><stop offset=".661" stop-color="#f0f0ff"/><stop offset=".845" stop-color="#f7f7ff"/><stop offset=".9" stop-color="#ffffff"/><stop offset="1" stop-color="#fff2f2"/></linearGradient>
<linearGradient id="g379" gradientUnits="userSpaceOnUse" x1="466.6" x2="683.7"><stop offset="0" stop-color="#fff1f1"/><stop offset=".154" stop-color="#ffecec"/><stop offset=".338" stop-color="#ffeeee"/><stop offset=".42" stop-color="#fff9f9"/><stop offset=".452" stop-color="#ffffff"/><stop offset=".52" stop-color="#f4f4ff"/><stop offset=".656" stop-color="#eeeeff"/><stop offset=".842" stop-color="#f7f7ff"/><stop offset=".899" stop-color="#ffffff"/><stop offset="1" stop-color="#fff1f1"/></linearGradient>
<linearGradient id="g380" gradientUnits="userSpaceOnUse" x1="466.6" x2="683.7"><stop offset="0" stop-color="#ffefef"/><stop offset=".154" stop-color="#ffeaea"/><stop offset=".338" stop-color="#ffecec"/><stop offset=".419" stop-color="#fff8f8"/><stop offset=".451" stop-color="#ffffff"/><stop offset=".517" stop-color="#f3f3ff"/><stop offset=".65" stop-color="#ececff"/><stop offset=".84" stop-color="#f6f6ff"/><stop offset=".898" stop-color="#ffffff"/><stop offset="1" stop-color="#fff1f1"/></linearGradient>
<linearGradient id="g381" gradientUnits="userSpaceOnUse" x1="466.6" x2="683.7"><stop offset="0" stop-color="#ffeeee"/><stop offset=".154" stop-color="#ffe9e9"/><stop offset=".338" stop-color="#ffe9e9"/><stop offset=".418" stop-color="#fff7f7"/><stop offset=".45" stop-color="#ffffff"/><stop offset=".514" stop-color="#f1f1ff"/><stop offset=".644" stop-color="#eaeaff"/><stop offset=".837" stop-color="#f5f5ff"/><stop offset=".897" stop-color="#ffffff"/><stop offset="1" stop-color="#fff0f0"/></linearGradient>
<linearGradient id="g382" gradientUnits="userSpaceOnUse" x1="466.6" x2="683.7"><stop offset="0" stop-color="#ffecec"/><stop offset=".154" stop-color="#ffe7e7"/><stop offset=".338" stop-color="#ffe7e7"/><stop offset=".417" stop-color="#fff6f6"/><stop offset=".449" stop-color="#ffffff"/><stop offset=".511" stop-color="#f0f0ff"/><stop offset=".639" stop-color="#e8e8ff"/><stop offset=".834" stop-color="#f4f4ff"/><stop offset=".896" stop-color="#ffffff"/><stop offset="1" stop-color="#ffefef"/></linearGradient>
<linearGradient id="g383" gradientUnits="userSpaceOnUse" x1="466.6" x2="683.7"><stop offset="0" stop-color="#ffebeb"/><stop offset=".154" stop-color="#ffe6e6"/><stop offset=".338" stop-color="#ffe5e5"/><stop offset=".415" stop-color="#fff5f5"/><stop offset=".448" stop-color="#ffffff"/><stop offset=".509" stop-color="#efefff"/><stop offset=".633" stop-color="#e7e7ff"/><stop offset=".831" stop-color="#f3f3ff"/><stop offset=".895" stop-color="#ffffff"/><stop offset="1" stop-color="#ffeeee"/></linearGradient>
<linearGradient id="g384" gradientUnits="userSpaceOnUse" x1="466.6" x2="683.7"><stop offset="0" stop-color="#ffe9e9"/><stop offset=".154" stop-color="#ffe4e4"/><stop offset=".338" stop-color="#ffe3e3"/><stop offset=".414" stop-color="#fff4f4"/><stop offset=".447" stop-color="#ffffff"/><stop offset=".506" stop-color="#ededff"/><stop offset=".627" stop-color="#e5e5ff"/><stop offset=".828" stop-color="#f2f2ff"/><stop offset=".893" stop-color="#ffffff"/><stop offset="1" stop-color="#ffeded"/></linearGradient>
<linearGradient id="g385" gradientUnits="userSpaceOnUse" x1="466.6" x2="683.7"><stop offset="0" stop-color="#ffe7e7"/><stop offset=".154" stop-color="#ffe2e2"/><stop offset=".338" stop-color="#ffe1e1"/><stop offset=".413" stop-color="#fff3f3"/><stop offset=".445" stop-color="#ffffff"/><stop offset=".503" stop-color="#ececff"/><stop offset=".621" stop-color="#e3e3ff"/><stop offset=".825" stop-color="#f1f1ff"/><stop offset=".892" stop-color="#ffffff"/><stop offset="1" stop-color="#ffecec"/></linearGradient>
<linearGradient id="g386" gradientUnits="userSpaceOnUse" x1="466.6" x2="683.7"><stop offset="0" stop-color="#ffe6e6"/><stop offset=".154" stop-color="#ffe1e1"/><stop offset=".338" stop-color="#ffdede"/><stop offset=".412" stop-color="#fff2f2"/><stop offset=".444" stop-color="#ffffff"/><stop offset=".5" stop-color="#ebebff"/><stop offset=".616" stop-color="#e1e1ff"/><stop offset=".822" stop-color="#f0f0ff"/><stop offset=".891" stop-color="#ffffff"/><stop offset="1" stop-color="#ffebeb"/></linearGradient>
<linearGradient id="g387" gradientUnits="userSpaceOnUse" x1="466.6" x2="683.7"><stop offset="0" stop-color="#ffe5e5"/><stop offset=".154" stop-color="#ffdfdf"/><stop offset=".338" stop-color="#ffdada"/><stop offset=".412" stop-color="#ffefef"/><stop offset=".443" stop-color="#ffffff"/><stop offset=".499" stop-color="#e4e4ff"/><stop offset=".614" stop-color="#dcdcff"/><stop offset=".822" stop-color="#ededff"/><stop offset=".891" stop-color="#ffffff"/><stop offset="1" stop-color="#ffeaea"/></linearGradient>
<linearGradient id="g388" gradientUnits="userSpaceOnUse" x1="466.6" x2="683.7"><stop offset="0" stop-color="#ffe3e3"/><stop offset=".154" stop-color="#ffdede"/><stop offset=".338" stop-color="#ffd4d4"/><stop offset=".412" stop-color="#ffebeb"/><stop offset=".442" stop-color="#ffffff"/><stop offset=".499" stop-color="#dcdcff"/><stop offset=".614" stop-color="#d6d6ff"/><stop offset=".822" stop-color="#e9e9ff"/><stop offset=".891" stop-color="#ffffff"/><stop offset="1" stop-color="#ffe9e9"/></linearGradient>
<linearGradient id="g389" gradientUnits="userSpaceOnUse" x1="466.6" x2="683.7"><stop offset="0" stop-color="#ffe2e2"/><stop offset=".154" stop-color="#ffdddd"/><stop offset=".338" stop-color="#ffcfcf"/><stop offset=".412" stop-color="#ffe7e7"/><stop offset=".441" stop-color="#ffffff"/><stop offset=".499" stop-color="#d4d4ff"/><stop offset=".614" stop-color="#d0d0ff"/><stop offset=".822" stop-color="#e6e6ff"/><stop offset=".891" stop-color="#ffffff"/><stop offset="1" stop-color="#ffe7e7"/></linearGradient>
<linearGradient id="g390" gradientUnits="userSpaceOnUse" x1="466.6" x2="683.7"><stop offset="0" stop-color="#ffe1e1"/><stop offset=".154" stop-color="#ffdcdc"/><stop offset=".338" stop-color="#ffcaca"/><stop offset=".412" stop-color="#ffe3e3"/><stop offset=".44" stop-color="#ffffff"/><stop offset=".499" stop-color="#ccccff"/><stop offset=".614" stop-color="#cacaff"/><stop offset=".822" stop-color="#e2e2ff"/><stop offset=".891" stop-color="#ffffff"/><stop offset="1" stop-color="#ffe6e6"/></linearGradient>
<linearGradient id="g391" gradientUnits="userSpaceOnUse" x1="466.6" x2="683.7"><stop offset="0" stop-color="#ffe0e0"/><stop offset=".154" stop-color="#ffdbdb"/><stop offset=".338" stop-color="#ffc7c7"/><stop offset=".412" stop-color="#ffe0e0"/><stop offset=".439" stop-color="#ffffff"/><stop offset=".499" stop-color="#c7c7ff"/><stop offset=".614" stop-color="#c7c7ff"/><stop offset=".822" stop-color="#e0e0ff"/><stop offset=".891" stop-color="#ffffff"/><stop offset="1" stop-color="#ffe6e6"/></linearGradient>
<clipPath id="c392"><rect x="466.6" y="672.1" width="217.1" height="26.3"/></clipPath>
<linearGradient id="g393" gradientUnits="userSpaceOnUse" x1="466.6" x2="683.7"><stop offset="0" stop-color="#ffa6a6"/><stop offset=".108" stop-color="#ff8c8c"/><stop offset=".223" stop-color="#ffb2b2"/><stop offset=".338" stop-color="#ffd9d9"/><stop offset=".384" stop-color="#fff2f2"/><stop offset=".412" stop-color="#ffffff"/><stop offset=".522" stop-color="#ccccff"/><stop offset=".637" stop-color="#b2b2ff"/><stop offset=".845" stop-color="#d9d9ff"/><stop offset=".923" stop-color="#ffffff"/><stop offset="1" stop-color="#ffd9d9"/></linearGradient>
<linearGradient id="g394" gradientUnits="userSpaceOnUse" x1="466.6" x2="683.7"><stop offset="0" stop-color="#ffa6a6"/><stop offset=".108" stop-color="#ff8c8c"/><stop offset=".223" stop-color="#ffb2b2"/><stop offset=".338" stop-color="#ffd9d9"/><stop offset=".384" stop-color="#fff2f2"/><stop offset=".412" stop-color="#ffffff"/><stop offset=".522" stop-color="#ccccff"/><stop offset=".637" stop-color="#b1b1ff"/><stop offset=".845" stop-color="#dbdbff"/><stop offset=".923" stop-color="#ffffff"/><stop offset="1" stop-color="#ffdbdb"/></linearGradient>
<linearGradient id="g395" gradientUnits="userSpaceOnUse" x1="466.6" x2="683.7"><stop offset="0" stop-color="#ffa6a6"/><stop offset=".108" stop-color="#ff8c8c"/><stop offset=".223" stop-color="#ffb2b2"/><stop offset=".338" stop-color="#ffd9d9"/><stop offset=".384" stop-color="#fff2f2"/><stop offset=".412" stop-color="#ffffff"/><stop offset=".522" stop-color="#ccccff"/><stop offset=".637" stop-color="#b0b0ff"/><stop offset=".845" stop-color="#ddddff"/><stop offset=".923" stop-color="#ffffff"/><stop offset="1" stop-color="#ffdddd"/></linearGradient>
<linearGradient id="g396" gradientUnits="userSpaceOnUse" x1="466.6" x2="683.7"><stop offset="0" stop-color="#ffa6a6"/><stop offset=".108" stop-color="#ff8c8c"/><stop offset=".223" stop-color="#ffb2b2"/><stop offset=".338" stop-color="#ffd9d9"/><stop offset=".384" stop-color="#fff2f2"/><stop offset=".412" stop-color="#ffffff"/><stop offset=".522" stop-color="#ccccff"/><stop offset=".637" stop-color="#aeaeff"/><stop offset=".845" stop-color="#dfdfff"/><stop offset=".923" stop-color="#ffffff"/><stop offset="1" stop-color="#ffdfdf"/></linearGradient>
<linearGradient id="g397" gradientUnits="userSpaceOnUse" x1="466.6" x2="683.7"><stop offset="0" stop-color="#ffa7a7"/><stop offset=".108" stop-color="#ff8e8e"/><stop offset=".223" stop-color="#ffb4b4"/><stop offset=".338" stop-color="#ffdada"/><stop offset=".384" stop-color="#fff3f3"/><stop offset=".412" stop-color="#ffffff"/><stop offset=".522" stop-color="#cdcdff"/><stop offset=".637" stop-color="#afafff"/><stop offset=".845" stop-color="#e1e1ff"/><stop offset=".923" stop-color="#ffffff"/><stop offset="1" stop-color="#ffe1e1"/></linearGradient>
<linearGradient id="g398" gradientUnits="userSpaceOnUse" x1="466.6" x2="683.7"><stop offset="0" stop-color="#ffabab"/><stop offset=".108" stop-color="#ff9191"/><stop offset=".223" stop-color="#ffb8b8"/><stop offset=".338" stop-color="#ffdede"/><stop offset=".384" stop-color="#fff4f4"/><stop offset=".412" stop-color="#ffffff"/><stop offset=".522" stop-color="#d1d1ff"/><stop offset=".637" stop-color="#b5b5ff"/><stop offset=".845" stop-color="#e2e2ff"/><stop offset=".923" stop-color="#ffffff"/><stop offset="1" stop-color="#ffe2e2"/></linearGradient>
<linearGradient id="g399" gradientUnits="userSpaceOnUse" x1="466.6" x2="683.7"><stop offset="0" stop-color="#ffafaf"/><stop offset=".108" stop-color="#ff9595"/><stop offset=".223" stop-color="#ffbbbb"/><stop offset=".338" stop-color="#ffe2e2"/><stop offset=".384" stop-color="#fff6f6"/><stop offset=".412" stop-color="#ffffff"/><stop offset=".522" stop-color="#d5d5ff"/><stop offset=".637" stop-color="#babaff"/><stop offset=".845" stop-color="#e4e4ff"/><stop offset=".923" stop-color="#ffffff"/><stop offset="1" stop-color="#ffe4e4"/></linearGradient>
<linearGradient id="g400" gradientUnits="userSpaceOnUse" x1="466.6" x2="683.7"><stop offset="0" stop-color="#ffb2b2"/><stop offset=".108" stop-color="#ff9999"/><stop offset=".223" stop-color="#ffbfbf"/><stop offset=".338" stop-color="#ffe5e5"/><stop offset=".384" stop-color="#fff7f7"/><stop offset=".412" stop-color="#ffffff"/><stop offset=".522" stop-color="#d9d9ff"/><stop offset=".637" stop-color="#bfbfff"/><stop offset=".845" stop-color="#e5e5ff"/><stop offset=".923" stop-color="#ffffff"/><stop offset="1" stop-color="#ffe5e5"/></linearGradient>
<linearGradient id="g401" gradientUnits="userSpaceOnUse" x1="466.6" x2="683.7"><stop offset="0" stop-color="#ffb2b2"/><stop offset=".108" stop-color="#ff9999"/><stop offset=".223" stop-color="#ffbfbf"/><stop offset=".338" stop-color="#ffe6e6"/><stop offset=".384" stop-color="#fff7f7"/><stop offset=".412" stop-color="#ffffff"/><stop offset=".522" stop-color="#d9d9ff"/><stop offset=".637" stop-color="#bfbfff"/><stop offset=".845" stop-color="#e6e6ff"/><stop offset=".923" stop-color="#ffffff"/><stop offset="1" stop-color="#ffe6e6"/></linearGradient>
<clipPath id="c402"><rect x="466.6" y="698.4" width="217.1" height="100.2"/></clipPath>
<linearGradient id="g403" gradientUnits="userSpaceOnUse" x1="466.6" x2="683.7"><stop offset="0" stop-color="#f2f2ff"/><stop offset=".131" stop-color="#f2f2ff"/><stop offset=".177" stop-color="#ffffff"/><stop offset=".246" stop-color="#ffe0e0"/><stop offset=".476" stop-color="#ffe6e6"/><stop offset=".661" stop-color="#ffffff"/><stop offset=".753" stop-color="#ebebff"/><stop offset="1" stop-color="#e6e6ff"/></linearGradient>
<linearGradient id="g404" gradientUnits="userSpaceOnUse" x1="466.6" x2="683.7"><stop offset="0" stop-color="#f2f2ff"/><stop offset=".131" stop-color="#f2f2ff"/><stop offset=".177" stop-color="#ffffff"/><stop offset=".247" stop-color="#ffe0e0"/><stop offset=".476" stop-color="#ffe5e5"/><stop offset=".662" stop-color="#ffffff"/><stop offset=".754" stop-color="#eaeaff"/><stop offset="1" stop-color="#e5e5ff"/></linearGradient>
<linearGradient id="g405" gradientUnits="userSpaceOnUse" x1="466.6" x2="683.7"><stop offset="0" stop-color="#f0f0ff"/><stop offset=".131" stop-color="#f1f1ff"/><stop offset=".177" stop-color="#ffffff"/><stop offset=".25" stop-color="#ffe0e0"/><stop offset=".476" stop-color="#ffe5e5"/><stop offset=".664" stop-color="#ffffff"/><stop offset=".756" stop-color="#eaeaff"/><stop offset="1" stop-color="#e5e5ff"/></linearGradient>
<linearGradient id="g406" gradientUnits="userSpaceOnUse" x1="466.6" x2="683.7"><stop offset="0" stop-color="#efefff"/><stop offset=".131" stop-color="#f0f0ff"/><stop offset=".177" stop-color="#ffffff"/><stop offset=".252" stop-color="#ffe0e0"/><stop offset=".476" stop-color="#ffe4e4"/><stop offset=".666" stop-color="#ffffff"/><stop offset=".758" stop-color="#e9e9ff"/><stop offset="1" stop-color="#e4e4ff"/></linearGradient>
<linearGradient id="g407" gradientUnits="userSpaceOnUse" x1="466.6" x2="683.7"><stop offset="0" stop-color="#eeeeff"/><stop offset=".131" stop-color="#f0f0ff"/><stop offset=".177" stop-color="#ffffff"/><stop offset=".254" stop-color="#ffe0e0"/><stop offset=".476" stop-color="#ffe4e4"/><stop offset=".669" stop-color="#ffffff"/><stop offset=".761" stop-color="#e9e9ff"/><stop offset="1" stop-color="#e4e4ff"/></linearGradient>
<linearGradient id="g408" gradientUnits="userSpaceOnUse" x1="466.6" x2="683.7"><stop offset="0" stop-color="#ededff"/><stop offset=".131" stop-color="#efefff"/><stop offset=".177" stop-color="#ffffff"/><stop offset=".256" stop-color="#ffe0e0"/><stop offset=".476" stop-color="#ffe3e3"/><stop offset=".671" stop-color="#ffffff"/><stop offset=".763" stop-color="#e8e8ff"/><stop offset="1" stop-color="#e3e3ff"/></linearGradient>
<linearGradient id="g409" gradientUnits="userSpaceOnUse" x1="466.6" x2="683.7"><stop offset="0" stop-color="#ebebff"/><stop offset=".131" stop-color="#eeeeff"/><stop offset=".177" stop-color="#ffffff"/><stop offset=".259" stop-color="#ffe0e0"/><stop offset=".476" stop-color="#ffe3e3"/><stop offset=".673" stop-color="#ffffff"/><stop offset=".765" stop-color="#e8e8ff"/><stop offset="1" stop-color="#e3e3ff"/></linearGradient>
<linearGradient id="g410" gradientUnits="userSpaceOnUse" x1="466.6" x2="683.7"><stop offset="0" stop-color="#eaeaff"/><stop offset=".131" stop-color="#ededff"/><stop offset=".177" stop-color="#ffffff"/><stop offset=".261" stop-color="#ffe0e0"/><stop offset=".476" stop-color="#ffe2e2"/><stop offset=".675" stop-color="#ffffff"/><stop offset=".768" stop-color="#e7e7ff"/><stop offset="1" stop-color="#e2e2ff"/></linearGradient>
<linearGradient id="g411" gradientUnits="userSpaceOnUse" x1="466.6" x2="683.7"><stop offset="0" stop-color="#e9e9ff"/><stop offset=".131" stop-color="#ededff"/><stop offset=".177" stop-color="#ffffff"/><stop offset=".263" stop-color="#ffe0e0"/><stop offset=".476" stop-color="#ffe2e2"/><stop offset=".678" stop-color="#ffffff"/><stop offset=".77" stop-color="#e7e7ff"/><stop offset="1" stop-color="#e2e2ff"/></linearGradient>
<linearGradient id="g412" gradientUnits="userSpaceOnUse" x1="466.6" x2="683.7"><stop offset="0" stop-color="#e8e8ff"/><stop offset=".131" stop-color="#ececff"/><stop offset=".177" stop-color="#ffffff"/><stop offset=".265" stop-color="#ffe0e0"/><stop offset=".476" stop-color="#ffe1e1"/><stop offset=".68" stop-color="#ffffff"/><stop offset=".772" stop-color="#e6e6ff"/><stop offset="1" stop-color="#e1e1ff"/></linearGradient>
<linearGradient id="g413" gradientUnits="userSpaceOnUse" x1="466.6" x2="683.7"><stop offset="0" stop-color="#e6e6ff"/><stop offset=".131" stop-color="#ebebff"/><stop offset=".177" stop-color="#ffffff"/><stop offset=".268" stop-color="#ffe0e0"/><stop offset=".476" stop-color="#ffe1e1"/><stop offset=".682" stop-color="#ffffff"/><stop offset=".774" stop-color="#e6e6ff"/><stop offset="1" stop-color="#e1e1ff"/></linearGradient>
<linearGradient id="g414" gradientUnits="userSpaceOnUse" x1="466.6" x2="683.7"><stop offset="0" stop-color="#e5e5ff"/><stop offset=".131" stop-color="#eaeaff"/><stop offset=".177" stop-color="#ffffff"/><stop offset=".269" stop-color="#ffe0e0"/><stop offset=".475" stop-color="#ffe0e0"/><stop offset=".684" stop-color="#ffffff"/><stop offset=".776" stop-color="#e5e5ff"/><stop offset="1" stop-color="#e0e0ff"/></linearGradient>
<linearGradient id="g415" gradientUnits="userSpaceOnUse" x1="466.6" x2="683.7"><stop offset="0" stop-color="#e5e5ff"/><stop offset=".131" stop-color="#eaeaff"/><stop offset=".179" stop-color="#ffffff"/><stop offset=".269" stop-color="#ffe0e0"/><stop offset=".473" stop-color="#ffdfdf"/><stop offset=".686" stop-color="#ffffff"/><stop offset=".776" stop-color="#e5e5ff"/><stop offset="1" stop-color="#dfdfff"/></linearGradient>
<linearGradient id="g416" gradientUnits="userSpaceOnUse" x1="466.6" x2="683.7"><stop offset="0" stop-color="#e4e4ff"/><stop offset=".131" stop-color="#e9e9ff"/><stop offset=".18" stop-color="#ffffff"/><stop offset=".269" stop-color="#ffdfdf"/><stop offset=".471" stop-color="#ffdfdf"/><stop offset=".687" stop-color="#ffffff"/><stop offset=".776" stop-color="#e4e4ff"/><stop offset="1" stop-color="#dfdfff"/></linearGradient>
<linearGradient id="g417" gradientUnits="userSpaceOnUse" x1="466.6" x2="683.7"><stop offset="0" stop-color="#e4e4ff"/><stop offset=".131" stop-color="#e9e9ff"/><stop offset=".182" stop-color="#ffffff"/><stop offset=".269" stop-color="#ffdfdf"/><stop offset=".468" stop-color="#ffdede"/><stop offset=".688" stop-color="#ffffff"/><stop offset=".776" stop-color="#e4e4ff"/><stop offset="1" stop-color="#dedeff"/></linearGradient>
<linearGradient id="g418" gradientUnits="userSpaceOnUse" x1="466.6" x2="683.7"><stop offset="0" stop-color="#e3e3ff"/><stop offset=".131" stop-color="#e8e8ff"/><stop offset=".183" stop-color="#ffffff"/><stop offset=".269" stop-color="#ffdede"/><stop offset=".466" stop-color="#ffdddd"/><stop offset=".69" stop-color="#ffffff"/><stop offset=".776" stop-color="#e3e3ff"/><stop offset="1" stop-color="#ddddff"/></linearGradient>
<linearGradient id="g419" gradientUnits="userSpaceOnUse" x1="466.6" x2="683.7"><stop offset="0" stop-color="#e3e3ff"/><stop offset=".131" stop-color="#e8e8ff"/><stop offset=".184" stop-color="#ffffff"/><stop offset=".269" stop-color="#ffdede"/><stop offset=".464" stop-color="#ffdcdc"/><stop offset=".691" stop-color="#ffffff"/><stop offset=".776" stop-color="#e3e3ff"/><stop offset="1" stop-color="#dcdcff"/></linearGradient>
<linearGradient id="g420" gradientUnits="userSpaceOnUse" x1="466.6" x2="683.7"><stop offset="0" stop-color="#e2e2ff"/><stop offset=".131" stop-color="#e7e7ff"/><stop offset=".186" stop-color="#ffffff"/><stop offset=".269" stop-color="#ffdddd"/><stop offset=".461" stop-color="#ffdbdb"/><stop offset=".693" stop-color="#ffffff"/><stop offset=".776" stop-color="#e2e2ff"/><stop offset="1" stop-color="#dbdbff"/></linearGradient>
<linearGradient id="g421" gradientUnits="userSpaceOnUse" x1="466.6" x2="683.7"><stop offset="0" stop-color="#e2e2ff"/><stop offset=".131" stop-color="#e7e7ff"/><stop offset=".187" stop-color="#ffffff"/><stop offset=".269" stop-color="#ffdddd"/><stop offset=".459" stop-color="#ffdbdb"/><stop offset=".694" stop-color="#ffffff"/><stop offset=".776" stop-color="#e2e2ff"/><stop offset="1" stop-color="#dbdbff"/></linearGradient>
<linearGradient id="g422" gradientUnits="userSpaceOnUse" x1="466.6" x2="683.7"><stop offset="0" stop-color="#e1e1ff"/><stop offset=".131" stop-color="#e6e6ff"/><stop offset=".189" stop-color="#ffffff"/><stop offset=".269" stop-color="#ffdcdc"/><stop offset=".457" stop-color="#ffdada"/><stop offset=".695" stop-color="#ffffff"/><stop offset=".776" stop-color="#e1e1ff"/><stop offset="1" stop-color="#dadaff"/></linearGradient>
<linearGradient id="g423" gradientUnits="userSpaceOnUse" x1="466.6" x2="683.7"><stop offset="0" stop-color="#e1e1ff"/><stop offset=".131" stop-color="#e6e6ff"/><stop offset=".19" stop-color="#ffffff"/><stop offset=".269" stop-color="#ffdcdc"/><stop offset=".454" stop-color="#ffd9d9"/><stop offset=".697" stop-color="#ffffff"/><stop offset=".776" stop-color="#e1e1ff"/><stop offset="1" stop-color="#d9d9ff"/></linearGradient>
<linearGradient id="g424" gradientUnits="userSpaceOnUse" x1="466.6" x2="683.7"><stop offset="0" stop-color="#e0e0ff"/><stop offset=".131" stop-color="#e6e6ff"/><stop offset=".191" stop-color="#ffffff"/><stop offset=".269" stop-color="#ffdbdb"/><stop offset=".453" stop-color="#ffd9d9"/><stop offset=".697" stop-color="#ffffff"/><stop offset=".776" stop-color="#e0e0ff"/><stop offset="1" stop-color="#d9d9ff"/></linearGradient>
</defs>
<g clip-path="url(#c1)"><g filter="url(#fb)"><rect x="28.3" y="214.5" width="138.3" height="4.1" fill="url(#g2)"/><rect x="28.3" y="218" width="138.3" height="4.1" fill="url(#g3)"/><rect x="28.3" y="221.5" width="138.3" height="4.1" fill="url(#g4)"/><rect x="28.3" y="225" width="138.3" height="4.1" fill="url(#g5)"/><rect x="28.3" y="228.5" width="138.3" height="4.1" fill="url(#g6)"/><rect x="28.3" y="232" width="138.3" height="4.1" fill="url(#g7)"/><rect x="28.3" y="235.5" width="138.3" height="4.1" fill="url(#g8)"/><rect x="28.3" y="239" width="138.3" height="4.1" fill="url(#g9)"/><rect x="28.3" y="242.5" width="138.3" height="4.1" fill="url(#g10)"/><rect x="28.3" y="246" width="138.3" height="4.1" fill="url(#g11)"/><rect x="28.3" y="249.5" width="138.3" height="4.1" fill="url(#g12)"/><rect x="28.3" y="253" width="138.3" height="4.1" fill="url(#g13)"/><rect x="28.3" y="256.5" width="138.3" height="4.1" fill="url(#g14)"/><rect x="28.3" y="260" width="138.3" height="4.1" fill="url(#g15)"/><rect x="28.3" y="263.5" width="138.3" height="4.1" fill="url(#g16)"/><rect x="28.3" y="267" width="138.3" height="4.1" fill="url(#g17)"/><rect x="28.3" y="270.5" width="138.3" height="4.1" fill="url(#g18)"/><rect x="28.3" y="274" width="138.3" height="4.1" fill="url(#g19)"/><rect x="28.3" y="277.5" width="138.3" height="4.1" fill="url(#g20)"/><rect x="28.3" y="281" width="138.3" height="4.1" fill="url(#g21)"/><rect x="28.3" y="284.5" width="138.3" height="4.1" fill="url(#g22)"/><rect x="28.3" y="288" width="138.3" height="4.1" fill="url(#g23)"/><rect x="28.3" y="291.5" width="138.3" height="4.1" fill="url(#g24)"/><rect x="28.3" y="295" width="138.3" height="4.1" fill="url(#g25)"/><rect x="28.3" y="298.5" width="138.3" height="4.1" fill="url(#g26)"/><rect x="28.3" y="302" width="138.3" height="4.1" fill="url(#g27)"/><rect x="28.3" y="305.5" width="138.3" height="4.1" fill="url(#g28)"/><rect x="28.3" y="309" width="138.3" height="4.1" fill="url(#g29)"/><rect x="28.3" y="312.5" width="138.3" height="4.1" fill="url(#g30)"/><rect x="28.3" y="316" width="138.3" height="4.1" fill="url(#g31)"/><rect x="28.3" y="319.5" width="138.3" height="4.1" fill="url(#g32)"/><rect x="28.3" y="323" width="138.3" height="4.1" fill="url(#g33)"/><rect x="28.3" y="326.5" width="138.3" height="4.1" fill="url(#g34)"/><rect x="28.3" y="330" width="138.3" height="4.1" fill="url(#g35)"/><rect x="28.3" y="333.5" width="138.3" height="4.1" fill="url(#g36)"/><rect x="28.3" y="337" width="138.3" height="4.1" fill="url(#g37)"/><rect x="28.3" y="340.5" width="138.3" height="4.1" fill="url(#g38)"/><rect x="28.3" y="344" width="138.3" height="4.1" fill="url(#g39)"/><rect x="28.3" y="347.5" width="138.3" height="4.1" fill="url(#g40)"/></g><ellipse cx="85" cy="341" rx="9" ry="6" fill="url(#hotR)" opacity="0.8"/><ellipse cx="162" cy="341" rx="8" ry="6" fill="url(#hotB)" opacity="0.7"/><ellipse cx="33" cy="342" rx="6" ry="5" fill="url(#hotB)" opacity="0.5"/></g>
<g clip-path="url(#c41)"><g filter="url(#fb)"><rect x="28.3" y="341.4" width="138.3" height="4.1" fill="url(#g42)"/><rect x="28.3" y="344.9" width="138.3" height="4.1" fill="url(#g43)"/><rect x="28.3" y="348.4" width="138.3" height="4.1" fill="url(#g44)"/><rect x="28.3" y="351.9" width="138.3" height="4.1" fill="url(#g45)"/><rect x="28.3" y="355.4" width="138.3" height="4.1" fill="url(#g46)"/><rect x="28.3" y="358.9" width="138.3" height="4.1" fill="url(#g47)"/><rect x="28.3" y="362.4" width="138.3" height="4.1" fill="url(#g48)"/><rect x="28.3" y="365.9" width="138.3" height="4.1" fill="url(#g49)"/><rect x="28.3" y="369.4" width="138.3" height="4.1" fill="url(#g50)"/><rect x="28.3" y="372.9" width="138.3" height="4.1" fill="url(#g50)"/></g><ellipse cx="86" cy="366" rx="8" ry="6" fill="url(#hotR)" opacity="0.5"/><ellipse cx="135" cy="356" rx="9" ry="6" fill="url(#hotB)" opacity="0.5"/><ellipse cx="150" cy="370" rx="7" ry="5" fill="url(#hotB)" opacity="0.6"/><ellipse cx="36" cy="358" rx="5" ry="5" fill="url(#hotB)" opacity="0.4"/></g>
<g clip-path="url(#c51)"><g filter="url(#fb)"><rect x="28.3" y="367.4" width="138.3" height="4.1" fill="url(#g52)"/><rect x="28.3" y="370.9" width="138.3" height="4.1" fill="url(#g52)"/><rect x="28.3" y="374.4" width="138.3" height="4.1" fill="url(#g53)"/><rect x="28.3" y="377.9" width="138.3" height="4.1" fill="url(#g54)"/><rect x="28.3" y="381.4" width="138.3" height="4.1" fill="url(#g55)"/><rect x="28.3" y="384.9" width="138.3" height="4.1" fill="url(#g56)"/><rect x="28.3" y="388.4" width="138.3" height="4.1" fill="url(#g57)"/><rect x="28.3" y="391.9" width="138.3" height="4.1" fill="url(#g58)"/><rect x="28.3" y="395.4" width="138.3" height="4.1" fill="url(#g59)"/><rect x="28.3" y="398.9" width="138.3" height="4.1" fill="url(#g60)"/><rect x="28.3" y="402.4" width="138.3" height="4.1" fill="url(#g61)"/><rect x="28.3" y="405.9" width="138.3" height="4.1" fill="url(#g62)"/><rect x="28.3" y="409.4" width="138.3" height="4.1" fill="url(#g63)"/><rect x="28.3" y="412.9" width="138.3" height="4.1" fill="url(#g64)"/><rect x="28.3" y="416.4" width="138.3" height="4.1" fill="url(#g65)"/><rect x="28.3" y="419.9" width="138.3" height="4.1" fill="url(#g66)"/><rect x="28.3" y="423.4" width="138.3" height="4.1" fill="url(#g67)"/><rect x="28.3" y="426.9" width="138.3" height="4.1" fill="url(#g68)"/><rect x="28.3" y="430.4" width="138.3" height="4.1" fill="url(#g69)"/><rect x="28.3" y="433.9" width="138.3" height="4.1" fill="url(#g70)"/><rect x="28.3" y="437.4" width="138.3" height="4.1" fill="url(#g71)"/><rect x="28.3" y="440.9" width="138.3" height="4.1" fill="url(#g72)"/><rect x="28.3" y="444.4" width="138.3" height="4.1" fill="url(#g73)"/><rect x="28.3" y="447.9" width="138.3" height="4.1" fill="url(#g74)"/><rect x="28.3" y="451.4" width="138.3" height="4.1" fill="url(#g75)"/><rect x="28.3" y="454.9" width="138.3" height="4.1" fill="url(#g76)"/><rect x="28.3" y="458.4" width="138.3" height="4.1" fill="url(#g77)"/><rect x="28.3" y="461.9" width="138.3" height="4.1" fill="url(#g78)"/><rect x="28.3" y="465.4" width="138.3" height="4.1" fill="url(#g79)"/><rect x="28.3" y="468.9" width="138.3" height="4.1" fill="url(#g80)"/><rect x="28.3" y="472.4" width="138.3" height="4.1" fill="url(#g81)"/><rect x="28.3" y="475.9" width="138.3" height="4.1" fill="url(#g81)"/></g><ellipse cx="45" cy="378" rx="6" ry="5" fill="url(#hotB)" opacity="0.6"/><ellipse cx="150" cy="377" rx="7" ry="5" fill="url(#hotB)" opacity="0.6"/></g>
<rect x="84.2" y="339.3" width="52.2" height="11.6" fill="#fff" fill-opacity="0.7" stroke="#222" stroke-width="0.9"/><rect x="149.2" y="345.4" width="13.8" height="5.5" fill="#fff" fill-opacity="0.7" stroke="#222" stroke-width="0.9"/><rect x="32.3" y="365.5" width="39.1" height="5.9" fill="#fff" fill-opacity="0.7" stroke="#222" stroke-width="0.9"/><rect x="32.3" y="371.4" width="13.1" height="5.9" fill="#fff" fill-opacity="0.7" stroke="#222" stroke-width="0.9"/><rect x="58.6" y="371.4" width="25.6" height="5.9" fill="#fff" fill-opacity="0.7" stroke="#222" stroke-width="0.9"/><rect x="123.2" y="365.5" width="26.4" height="5.9" fill="#fff" fill-opacity="0.7" stroke="#222" stroke-width="0.9"/><rect x="123.2" y="371.4" width="13.2" height="5.9" fill="#fff" fill-opacity="0.7" stroke="#222" stroke-width="0.9"/><line x1="32.3" y1="345.4" x2="162.6" y2="345.4" stroke="#222" stroke-width="0.9"/>
<g><path d="M38.5 226L38.35 230.4M51.45 226L51.3 230.4M64.4 226L64.4 230.4M77.35 226L77.35 230.4M90.3 226L90.3 230.4M103.25 226L103.25 230.4M116.2 226L116.05 230.4M129.15 226L129 230.4M142.1 226L141.79 230.39M155.05 226L154.74 230.39M38.5 244.42L38.35 248.82M51.45 244.42L51.45 248.82M64.4 244.42L64.55 248.82M77.35 244.42L77.66 248.81M90.3 244.42L90.61 248.81M103.25 244.42L103.4 248.82M116.2 244.42L116.2 248.82M129.15 244.42L129 248.82M142.1 244.42L141.79 248.81M155.05 244.42L154.74 248.81M38.5 262.84L37.74 267.17M51.45 262.84L51.07 267.22M64.4 262.84L65.01 267.2M77.35 262.84L78.26 267.14M90.3 262.84L90.91 267.2M103.25 262.84L103.4 267.24M116.2 262.84L116.05 267.24M129.15 262.84L128.69 267.22M142.1 262.84L141.34 267.17M155.05 262.84L153.99 267.11M38.5 281.26L37.36 285.51M51.45 281.26L51.45 285.66M64.4 281.26L65.31 285.56M77.35 281.26L78.49 285.51M90.3 281.26L91.21 285.56M103.25 281.26L103.86 285.62M116.2 281.26L116.2 285.66M129.15 281.26L128.54 285.62M142.1 281.26L141.19 285.56M155.05 281.26L153.91 285.51M38.5 299.68L38.12 304.06M51.45 299.68L51.45 304.08M64.4 299.68L65.31 303.98M77.35 299.68L78.71 303.86M90.3 299.68L91.44 303.93M103.25 299.68L104.01 304.01M116.2 299.68L116.2 304.08M129.15 299.68L128.54 304.04M142.1 299.68L141.19 303.98M155.05 299.68L153.91 303.93M38.5 318.1L40.7 321.91M51.45 318.1L52.59 322.35M64.4 318.1L62.9 322.23M77.35 318.1L75.15 321.91M90.3 318.1L88.44 322.09M103.25 318.1L102.11 322.35M116.2 318.1L116.2 322.5M129.15 318.1L129.3 322.5M142.1 318.1L143.96 322.09M155.05 318.1L157.57 321.7M38.5 336.52L41.87 339.35M51.45 336.52L51.83 340.9M64.4 336.52L62.2 340.33M77.35 336.52L74.52 339.89M90.3 336.52L85.97 337.28M103.25 336.52L99.44 338.72M116.2 336.52L115.82 340.9M129.15 336.52L132.52 339.35M142.1 336.52L145.7 339.04M155.05 336.52L159.04 338.38M38.5 354.94L37.74 359.27M51.45 354.94L51.3 359.34M64.4 354.94L64.02 359.32M77.35 354.94L77.73 359.32M90.3 354.94L94.7 354.94M103.25 354.94L107.06 357.14M116.2 354.94L116.96 359.27M129.15 354.94L130.65 359.07M142.1 354.94L143.96 358.93M155.05 354.94L157.25 358.75M38.5 373.36L34.17 374.12M51.45 373.36L51.45 377.76M64.4 373.36L63.64 377.69M77.35 373.36L77.35 377.76M103.25 373.36L102.87 377.74M116.2 373.36L115.82 377.74M129.15 373.36L124.75 373.36M142.1 373.36L139.9 377.17M155.05 373.36L152.85 377.17M38.5 391.78L34.9 394.8M51.45 391.78L48.86 396.86M64.4 391.78L62.12 396.67M77.35 391.78L73.76 393.3M90.3 391.78L86.4 392.68M103.25 391.78L99.97 395.42M116.2 391.78L113.73 396.24M129.15 391.78L125.4 395.94M142.1 391.78L138.02 393.43M155.05 391.78L150.7 392.94M38.5 410.2L34.9 413.22M51.45 410.2L48.86 415.28M64.4 410.2L62.12 415.09M77.35 410.2L73.76 411.72M90.3 410.2L86.4 411.1M103.25 410.2L99.97 413.84M116.2 410.2L113.73 414.66M129.15 410.2L125.4 414.36M142.1 410.2L138.02 411.85M155.05 410.2L150.7 411.36M38.5 428.62L34.9 431.64M51.45 428.62L48.86 433.7M64.4 428.62L62.12 433.51M77.35 428.62L73.76 430.14M90.3 428.62L86.4 429.52M103.25 428.62L99.97 432.26M116.2 428.62L113.73 433.08M129.15 428.62L125.4 432.78M142.1 428.62L138.02 430.27M155.05 428.62L150.7 429.78M38.5 447.04L34.9 450.06M51.45 447.04L48.86 452.12M64.4 447.04L62.12 451.93M77.35 447.04L73.76 448.56M90.3 447.04L86.4 447.94M103.25 447.04L99.97 450.68M116.2 447.04L113.73 451.5M129.15 447.04L125.4 451.2M142.1 447.04L138.02 448.69M155.05 447.04L150.7 448.2M38.5 465.46L34.9 468.48M51.45 465.46L48.86 470.54M64.4 465.46L62.12 470.35M77.35 465.46L73.76 466.98M90.3 465.46L86.4 466.36M103.25 465.46L99.97 469.1M116.2 465.46L113.73 469.92M129.15 465.46L125.4 469.62M142.1 465.46L138.02 467.11M155.05 465.46L150.7 466.62" stroke="#1a1a1a" stroke-width="1" fill="none"/><path d="M38.26 233L37.15 230.36L39.55 230.44ZM51.21 233L50.1 230.36L52.5 230.44ZM64.4 233L63.2 230.4L65.6 230.4ZM77.35 233L76.15 230.4L78.55 230.4ZM90.3 233L89.1 230.4L91.5 230.4ZM103.25 233L102.05 230.4L104.45 230.4ZM115.96 233L114.85 230.36L117.25 230.44ZM128.91 233L127.8 230.36L130.2 230.44ZM141.61 232.98L140.6 230.31L142.99 230.47ZM154.56 232.98L153.55 230.31L155.94 230.47ZM38.26 251.42L37.15 248.78L39.55 248.86ZM51.45 251.42L50.25 248.82L52.65 248.82ZM64.64 251.42L63.35 248.86L65.75 248.78ZM77.84 251.4L76.46 248.89L78.85 248.73ZM90.79 251.4L89.41 248.89L91.8 248.73ZM103.49 251.42L102.2 248.86L104.6 248.78ZM116.2 251.42L115 248.82L117.4 248.82ZM128.91 251.42L127.8 248.78L130.2 248.86ZM141.61 251.4L140.6 248.73L142.99 248.89ZM154.56 251.4L153.55 248.73L155.94 248.89ZM37.28 269.73L36.55 266.96L38.92 267.38ZM50.84 269.81L49.87 267.12L52.26 267.33ZM65.37 269.77L63.82 267.36L66.2 267.03ZM78.81 269.69L77.09 267.39L79.44 266.89ZM91.27 269.77L89.72 267.36L92.1 267.03ZM103.49 269.84L102.2 267.28L104.6 267.2ZM115.96 269.84L114.85 267.2L117.25 267.28ZM128.42 269.8L127.5 267.09L129.88 267.34ZM140.88 269.73L140.15 266.96L142.52 267.38ZM153.36 269.63L152.82 266.82L155.15 267.4ZM36.69 288.02L36.2 285.2L38.52 285.82ZM51.45 288.26L50.25 285.66L52.65 285.66ZM65.86 288.11L64.14 285.81L66.49 285.31ZM79.16 288.02L77.33 285.82L79.65 285.2ZM91.76 288.11L90.04 285.81L92.39 285.31ZM104.22 288.19L102.67 285.78L105.05 285.45ZM116.2 288.26L115 285.66L117.4 285.66ZM128.18 288.19L127.35 285.45L129.73 285.78ZM140.64 288.11L140.01 285.31L142.36 285.81ZM153.24 288.02L152.75 285.2L155.07 285.82ZM37.89 306.65L36.92 303.96L39.31 304.17ZM51.45 306.68L50.25 304.08L52.65 304.08ZM65.86 306.53L64.14 304.23L66.49 303.73ZM79.51 306.34L77.57 304.24L79.85 303.49ZM92.11 306.44L90.28 304.24L92.6 303.62ZM104.47 306.57L102.83 304.22L105.2 303.8ZM116.2 306.68L115 304.08L117.4 304.08ZM128.18 306.61L127.35 303.87L129.73 304.2ZM140.64 306.53L140.01 303.73L142.36 304.23ZM153.24 306.44L152.75 303.62L155.07 304.24ZM42 324.16L39.66 322.51L41.74 321.31ZM53.26 324.86L51.43 322.66L53.75 322.04ZM62.01 324.68L61.77 321.82L64.02 322.65ZM73.85 324.16L74.11 321.31L76.19 322.51ZM87.34 324.44L87.35 321.58L89.53 322.59ZM101.44 324.86L100.95 322.04L103.27 322.66ZM116.2 325.1L115 322.5L117.4 322.5ZM129.39 325.1L128.1 322.54L130.5 322.46ZM145.06 324.44L142.87 322.59L145.05 321.58ZM159.07 323.83L156.59 322.39L158.56 321.02ZM43.86 341.02L41.1 340.27L42.64 338.43ZM52.06 343.49L50.64 341.01L53.03 340.8ZM60.9 342.58L61.16 339.73L63.24 340.93ZM72.85 341.88L73.6 339.12L75.44 340.66ZM83.41 337.74L85.76 336.1L86.18 338.47ZM97.19 340.02L98.84 337.68L100.04 339.76ZM115.59 343.49L114.62 340.8L117.01 341.01ZM134.51 341.02L131.75 340.27L133.29 338.43ZM147.83 340.54L145.02 340.03L146.39 338.06ZM161.39 339.48L158.53 339.47L159.54 337.29ZM37.28 361.83L36.55 359.06L38.92 359.48ZM51.21 361.94L50.1 359.3L52.5 359.38ZM63.79 361.91L62.82 359.22L65.21 359.43ZM77.96 361.91L76.54 359.43L78.93 359.22ZM97.3 354.94L94.7 356.14L94.7 353.74ZM109.31 358.44L106.46 358.18L107.66 356.1ZM117.42 361.83L115.78 359.48L118.15 359.06ZM131.54 361.52L129.53 359.49L131.78 358.66ZM145.06 361.28L142.87 359.43L145.05 358.42ZM158.55 361L156.21 359.35L158.29 358.15ZM31.61 374.58L33.96 372.94L34.38 375.31ZM51.45 380.36L50.25 377.76L52.65 377.76ZM63.18 380.25L62.45 377.48L64.82 377.9ZM77.35 380.36L76.15 377.76L78.55 377.76ZM102.64 380.33L101.67 377.64L104.06 377.85ZM115.59 380.33L114.62 377.64L117.01 377.85ZM122.15 373.36L124.75 372.16L124.75 374.56ZM138.6 379.42L138.86 376.57L140.94 377.77ZM151.55 379.42L151.81 376.57L153.89 377.77ZM32.91 396.47L34.13 393.88L35.67 395.72ZM47.68 399.18L47.79 396.31L49.93 397.4ZM61.02 399.03L61.03 396.17L63.21 397.18ZM71.37 394.32L73.29 392.2L74.23 394.41ZM83.87 393.26L86.13 391.51L86.67 393.85ZM98.23 397.35L99.08 394.62L100.86 396.22ZM112.47 398.51L112.68 395.66L114.78 396.82ZM123.66 397.87L124.51 395.14L126.29 396.74ZM135.61 394.4L137.57 392.32L138.47 394.54ZM148.19 393.62L150.39 391.79L151.01 394.1ZM32.91 414.89L34.13 412.3L35.67 414.14ZM47.68 417.6L47.79 414.73L49.93 415.82ZM61.02 417.45L61.03 414.59L63.21 415.6ZM71.37 412.74L73.29 410.62L74.23 412.83ZM83.87 411.68L86.13 409.93L86.67 412.27ZM98.23 415.77L99.08 413.04L100.86 414.64ZM112.47 416.93L112.68 414.08L114.78 415.24ZM123.66 416.29L124.51 413.56L126.29 415.16ZM135.61 412.82L137.57 410.74L138.47 412.96ZM148.19 412.04L150.39 410.21L151.01 412.52ZM32.91 433.31L34.13 430.72L35.67 432.56ZM47.68 436.02L47.79 433.15L49.93 434.24ZM61.02 435.87L61.03 433.01L63.21 434.02ZM71.37 431.16L73.29 429.04L74.23 431.25ZM83.87 430.1L86.13 428.35L86.67 430.69ZM98.23 434.19L99.08 431.46L100.86 433.06ZM112.47 435.35L112.68 432.5L114.78 433.66ZM123.66 434.71L124.51 431.98L126.29 433.58ZM135.61 431.24L137.57 429.16L138.47 431.38ZM148.19 430.46L150.39 428.63L151.01 430.94ZM32.91 451.73L34.13 449.14L35.67 450.98ZM47.68 454.44L47.79 451.57L49.93 452.66ZM61.02 454.29L61.03 451.43L63.21 452.44ZM71.37 449.58L73.29 447.46L74.23 449.67ZM83.87 448.52L86.13 446.77L86.67 449.11ZM98.23 452.61L99.08 449.88L100.86 451.48ZM112.47 453.77L112.68 450.92L114.78 452.08ZM123.66 453.13L124.51 450.4L126.29 452ZM135.61 449.66L137.57 447.58L138.47 449.8ZM148.19 448.88L150.39 447.05L151.01 449.36ZM32.91 470.15L34.13 467.56L35.67 469.4ZM47.68 472.86L47.79 469.99L49.93 471.08ZM61.02 472.71L61.03 469.85L63.21 470.86ZM71.37 468L73.29 465.88L74.23 468.09ZM83.87 466.94L86.13 465.19L86.67 467.53ZM98.23 471.03L99.08 468.3L100.86 469.9ZM112.47 472.19L112.68 469.34L114.78 470.5ZM123.66 471.55L124.51 468.82L126.29 470.42ZM135.61 468.08L137.57 466L138.47 468.22ZM148.19 467.3L150.39 465.47L151.01 467.78Z" fill="#1a1a1a"/></g>
<rect x="32.3" y="218.5" width="130.3" height="254" fill="none" stroke="#151515" stroke-width="1.7"/><line x1="61.3" y1="218.5" x2="61.3" y2="220.3" stroke="#333" stroke-width="0.8"/><line x1="61.3" y1="472.5" x2="61.3" y2="470.7" stroke="#333" stroke-width="0.8"/><line x1="90.3" y1="218.5" x2="90.3" y2="220.3" stroke="#333" stroke-width="0.8"/><line x1="90.3" y1="472.5" x2="90.3" y2="470.7" stroke="#333" stroke-width="0.8"/><line x1="119.3" y1="218.5" x2="119.3" y2="220.3" stroke="#333" stroke-width="0.8"/><line x1="119.3" y1="472.5" x2="119.3" y2="470.7" stroke="#333" stroke-width="0.8"/><line x1="148.3" y1="218.5" x2="148.3" y2="220.3" stroke="#333" stroke-width="0.8"/><line x1="148.3" y1="472.5" x2="148.3" y2="470.7" stroke="#333" stroke-width="0.8"/>
<g clip-path="url(#c82)"><g filter="url(#fb)"><rect x="225.8" y="215" width="182.2" height="4.1" fill="url(#g83)"/><rect x="225.8" y="218.5" width="182.2" height="4.1" fill="url(#g84)"/><rect x="225.8" y="222" width="182.2" height="4.1" fill="url(#g85)"/><rect x="225.8" y="225.5" width="182.2" height="4.1" fill="url(#g86)"/><rect x="225.8" y="229" width="182.2" height="4.1" fill="url(#g87)"/><rect x="225.8" y="232.5" width="182.2" height="4.1" fill="url(#g88)"/><rect x="225.8" y="236" width="182.2" height="4.1" fill="url(#g89)"/><rect x="225.8" y="239.5" width="182.2" height="4.1" fill="url(#g90)"/><rect x="225.8" y="243" width="182.2" height="4.1" fill="url(#g91)"/><rect x="225.8" y="246.5" width="182.2" height="4.1" fill="url(#g92)"/><rect x="225.8" y="250" width="182.2" height="4.1" fill="url(#g93)"/><rect x="225.8" y="253.5" width="182.2" height="4.1" fill="url(#g94)"/><rect x="225.8" y="257" width="182.2" height="4.1" fill="url(#g95)"/><rect x="225.8" y="260.5" width="182.2" height="4.1" fill="url(#g96)"/><rect x="225.8" y="264" width="182.2" height="4.1" fill="url(#g97)"/><rect x="225.8" y="267.5" width="182.2" height="4.1" fill="url(#g98)"/><rect x="225.8" y="271" width="182.2" height="4.1" fill="url(#g99)"/><rect x="225.8" y="274.5" width="182.2" height="4.1" fill="url(#g100)"/><rect x="225.8" y="278" width="182.2" height="4.1" fill="url(#g101)"/><rect x="225.8" y="281.5" width="182.2" height="4.1" fill="url(#g102)"/><rect x="225.8" y="285" width="182.2" height="4.1" fill="url(#g103)"/><rect x="225.8" y="288.5" width="182.2" height="4.1" fill="url(#g104)"/><rect x="225.8" y="292" width="182.2" height="4.1" fill="url(#g105)"/><rect x="225.8" y="295.5" width="182.2" height="4.1" fill="url(#g106)"/><rect x="225.8" y="299" width="182.2" height="4.1" fill="url(#g107)"/><rect x="225.8" y="302.5" width="182.2" height="4.1" fill="url(#g108)"/><rect x="225.8" y="306" width="182.2" height="4.1" fill="url(#g109)"/><rect x="225.8" y="309.5" width="182.2" height="4.1" fill="url(#g110)"/><rect x="225.8" y="313" width="182.2" height="4.1" fill="url(#g111)"/><rect x="225.8" y="316.5" width="182.2" height="4.1" fill="url(#g112)"/><rect x="225.8" y="320" width="182.2" height="4.1" fill="url(#g113)"/><rect x="225.8" y="323.5" width="182.2" height="4.1" fill="url(#g114)"/><rect x="225.8" y="327" width="182.2" height="4.1" fill="url(#g115)"/><rect x="225.8" y="330.5" width="182.2" height="4.1" fill="url(#g116)"/><rect x="225.8" y="334" width="182.2" height="4.1" fill="url(#g117)"/><rect x="225.8" y="337.5" width="182.2" height="4.1" fill="url(#g118)"/><rect x="225.8" y="341" width="182.2" height="4.1" fill="url(#g119)"/><rect x="225.8" y="344.5" width="182.2" height="4.1" fill="url(#g120)"/><rect x="225.8" y="348" width="182.2" height="4.1" fill="url(#g120)"/></g><ellipse cx="231" cy="340" rx="8" ry="6" fill="url(#hotB)" opacity="0.8"/><ellipse cx="295" cy="340" rx="9" ry="6" fill="url(#hotR)" opacity="0.7"/><ellipse cx="403" cy="340" rx="7" ry="6" fill="url(#hotB)" opacity="0.8"/></g>
<g clip-path="url(#c121)"><g filter="url(#fb)"><rect x="225.8" y="341.7" width="182.2" height="4.1" fill="url(#g122)"/><rect x="225.8" y="345.2" width="182.2" height="4.1" fill="url(#g123)"/><rect x="225.8" y="348.7" width="182.2" height="4.1" fill="url(#g124)"/><rect x="225.8" y="352.2" width="182.2" height="4.1" fill="url(#g125)"/><rect x="225.8" y="355.7" width="182.2" height="4.1" fill="url(#g126)"/><rect x="225.8" y="359.2" width="182.2" height="4.1" fill="url(#g127)"/><rect x="225.8" y="362.7" width="182.2" height="4.1" fill="url(#g128)"/><rect x="225.8" y="366.2" width="182.2" height="4.1" fill="url(#g129)"/><rect x="225.8" y="369.7" width="182.2" height="4.1" fill="url(#g130)"/><rect x="225.8" y="373.2" width="182.2" height="4.1" fill="url(#g131)"/></g><ellipse cx="250" cy="362" rx="7" ry="6" fill="url(#hotB)" opacity="0.7"/><ellipse cx="332" cy="372" rx="8" ry="5" fill="url(#hotR)" opacity="0.4"/></g>
<g clip-path="url(#c132)"><g filter="url(#fb)"><rect x="225.8" y="367.9" width="182.2" height="4.1" fill="url(#g133)"/><rect x="225.8" y="371.4" width="182.2" height="4.1" fill="url(#g134)"/><rect x="225.8" y="374.9" width="182.2" height="4.1" fill="url(#g135)"/><rect x="225.8" y="378.4" width="182.2" height="4.1" fill="url(#g136)"/><rect x="225.8" y="381.9" width="182.2" height="4.1" fill="url(#g137)"/><rect x="225.8" y="385.4" width="182.2" height="4.1" fill="url(#g138)"/><rect x="225.8" y="388.9" width="182.2" height="4.1" fill="url(#g139)"/><rect x="225.8" y="392.4" width="182.2" height="4.1" fill="url(#g140)"/><rect x="225.8" y="395.9" width="182.2" height="4.1" fill="url(#g141)"/><rect x="225.8" y="399.4" width="182.2" height="4.1" fill="url(#g142)"/><rect x="225.8" y="402.9" width="182.2" height="4.1" fill="url(#g143)"/><rect x="225.8" y="406.4" width="182.2" height="4.1" fill="url(#g144)"/><rect x="225.8" y="409.9" width="182.2" height="4.1" fill="url(#g145)"/><rect x="225.8" y="413.4" width="182.2" height="4.1" fill="url(#g146)"/><rect x="225.8" y="416.9" width="182.2" height="4.1" fill="url(#g147)"/><rect x="225.8" y="420.4" width="182.2" height="4.1" fill="url(#g148)"/><rect x="225.8" y="423.9" width="182.2" height="4.1" fill="url(#g149)"/><rect x="225.8" y="427.4" width="182.2" height="4.1" fill="url(#g150)"/><rect x="225.8" y="430.9" width="182.2" height="4.1" fill="url(#g151)"/><rect x="225.8" y="434.4" width="182.2" height="4.1" fill="url(#g152)"/><rect x="225.8" y="437.9" width="182.2" height="4.1" fill="url(#g153)"/><rect x="225.8" y="441.4" width="182.2" height="4.1" fill="url(#g154)"/><rect x="225.8" y="444.9" width="182.2" height="4.1" fill="url(#g155)"/><rect x="225.8" y="448.4" width="182.2" height="4.1" fill="url(#g156)"/><rect x="225.8" y="451.9" width="182.2" height="4.1" fill="url(#g157)"/><rect x="225.8" y="455.4" width="182.2" height="4.1" fill="url(#g158)"/><rect x="225.8" y="458.9" width="182.2" height="4.1" fill="url(#g159)"/><rect x="225.8" y="462.4" width="182.2" height="4.1" fill="url(#g160)"/><rect x="225.8" y="465.9" width="182.2" height="4.1" fill="url(#g161)"/><rect x="225.8" y="469.4" width="182.2" height="4.1" fill="url(#g162)"/><rect x="225.8" y="472.9" width="182.2" height="4.1" fill="url(#g163)"/><rect x="225.8" y="476.4" width="182.2" height="4.1" fill="url(#g163)"/></g><ellipse cx="252" cy="378" rx="5" ry="4" fill="url(#hotR)" opacity="0.3"/><ellipse cx="300" cy="380" rx="10" ry="6" fill="url(#hotR)" opacity="0.4"/><ellipse cx="375" cy="380" rx="10" ry="6" fill="url(#hotB)" opacity="0.5"/></g>
<rect x="229.8" y="340.3" width="66" height="5.4" fill="#fff" fill-opacity="0.7" stroke="#222" stroke-width="0.9"/><rect x="229.8" y="345.7" width="66" height="5.9" fill="#fff" fill-opacity="0.7" stroke="#222" stroke-width="0.9"/><rect x="229.8" y="366.5" width="22.2" height="5.4" fill="#fff" fill-opacity="0.7" stroke="#222" stroke-width="0.9"/><rect x="229.8" y="371.9" width="22.2" height="5.4" fill="#fff" fill-opacity="0.7" stroke="#222" stroke-width="0.9"/><rect x="273.6" y="366.5" width="43.8" height="5.4" fill="#fff" fill-opacity="0.7" stroke="#222" stroke-width="0.9"/><rect x="273.6" y="371.9" width="43.8" height="5.4" fill="#fff" fill-opacity="0.7" stroke="#222" stroke-width="0.9"/><rect x="360.6" y="371.9" width="43.4" height="5.4" fill="#fff" fill-opacity="0.7" stroke="#222" stroke-width="0.9"/><rect x="383" y="366.5" width="21" height="5.4" fill="#fff" fill-opacity="0.7" stroke="#222" stroke-width="0.9"/><line x1="229.8" y1="345.7" x2="404" y2="345.7" stroke="#222" stroke-width="0.9"/>
<g><path d="M235.9 224.8L236.28 229.18M247.46 224.8L247.84 229.18M259.02 224.8L259.17 229.2M270.58 224.8L270.58 229.2M282.14 224.8L281.99 229.2M293.7 224.8L293.55 229.2M305.26 224.8L305.26 229.2M316.82 224.8L316.97 229.2M328.38 224.8L328.53 229.2M339.94 224.8L339.94 229.2M351.5 224.8L351.35 229.2M363.06 224.8L362.68 229.18M374.62 224.8L374.24 229.18M386.18 224.8L385.8 229.18M397.74 224.8L397.36 229.18M235.9 243.38L236.28 247.76M247.46 243.38L247.84 247.76M259.02 243.38L259.17 247.78M270.58 243.38L270.58 247.78M282.14 243.38L281.99 247.78M293.7 243.38L293.55 247.78M305.26 243.38L305.26 247.78M316.82 243.38L316.97 247.78M328.38 243.38L328.53 247.78M339.94 243.38L339.94 247.78M351.5 243.38L351.35 247.78M363.06 243.38L362.68 247.76M374.62 243.38L374.24 247.76M386.18 243.38L385.8 247.76M397.74 243.38L397.36 247.76M235.9 261.96L236.21 266.35M247.46 261.96L247.61 266.36M259.02 261.96L259.02 266.36M270.58 261.96L270.43 266.36M282.14 261.96L281.99 266.36M293.7 261.96L293.7 266.36M305.26 261.96L305.41 266.36M316.82 261.96L317.13 266.35M328.38 261.96L328.69 266.35M339.94 261.96L340.09 266.36M351.5 261.96L351.35 266.36M363.06 261.96L362.68 266.34M374.62 261.96L374.16 266.34M386.18 261.96L385.72 266.34M397.74 261.96L397.28 266.34M235.9 280.54L236.05 284.94M247.46 280.54L247.46 284.94M259.02 280.54L258.87 284.94M270.58 280.54L270.43 284.94M282.14 280.54L281.99 284.94M293.7 280.54L293.85 284.94M305.26 280.54L305.64 284.92M316.82 280.54L317.2 284.92M328.38 280.54L328.76 284.92M339.94 280.54L340.09 284.94M351.5 280.54L351.35 284.94M363.06 280.54L362.68 284.92M374.62 280.54L374.24 284.92M386.18 280.54L386.03 284.94M397.74 280.54L397.59 284.94M235.9 299.12L234.76 303.37M247.46 299.12L246.32 303.37M259.02 299.12L258.26 303.45M270.58 299.12L270.43 303.52M282.14 299.12L282.14 303.52M293.7 299.12L293.7 303.52M305.26 299.12L305.26 303.52M316.82 299.12L317.2 303.5M328.38 299.12L329.14 303.45M339.94 299.12L340.7 303.45M351.5 299.12L351.65 303.52M363.06 299.12L362.91 303.52M374.62 299.12L374.01 303.48M386.18 299.12L385.42 303.45M397.74 299.12L396.83 303.42M235.9 317.7L233.07 321.07M247.46 317.7L244.94 321.3M259.02 317.7L256.82 321.51M270.58 317.7L269.44 321.95M282.14 317.7L281.76 322.08M293.7 317.7L294.46 322.03M305.26 317.7L306.76 321.83M316.82 317.7L319.02 321.51M328.38 317.7L330.58 321.51M339.94 317.7L341.8 321.69M351.5 317.7L351.88 322.08M363.06 317.7L362.3 322.03M374.62 317.7L373.12 321.83M386.18 317.7L383.98 321.51M397.74 317.7L395.22 321.3M235.9 336.28L231.52 336.66M247.46 336.28L243.13 337.04M259.02 336.28L254.77 337.42M270.58 336.28L266.77 338.48M282.14 336.28L279.31 339.65M293.7 336.28L296.53 339.65M305.26 336.28L308.86 338.8M316.82 336.28L320.19 339.11M328.38 336.28L331.49 339.39M339.94 336.28L342.46 339.88M351.5 336.28L353.36 340.27M363.06 336.28L363.44 340.66M374.62 336.28L373.48 340.53M386.18 336.28L384.32 340.27M397.74 336.28L395.54 340.09M235.9 354.86L239.5 354.86M247.46 354.86L251.05 355.17M259.02 354.86L262.4 356.09M270.58 354.86L272.78 358.67M282.14 354.86L280.62 358.12M293.7 354.86L293.7 356.36M305.26 354.86L305.13 356.35M316.82 354.86L316.82 356.66M328.38 354.86L328 359.24M339.94 354.86L339.56 359.24M351.5 354.86L351.5 359.26M363.06 354.86L363.06 359.26M374.62 354.86L376.12 358.99M386.18 354.86L388.04 358.85M397.74 354.86L399.94 358.67M235.9 373.44L234.13 373.75M247.46 373.44L248.96 373.44M259.02 373.44L258.64 377.82M270.58 373.44L270.43 377.84M282.14 373.44L283.34 373.44M293.7 373.44L292.5 373.44M305.26 373.44L306.46 373.44M316.82 373.44L316.82 375.24M328.38 373.44L326.88 377.57M339.94 373.44L338.08 377.43M351.5 373.44L349.3 377.25M363.06 373.44L362.16 375M374.62 373.44L375.82 373.44M386.18 373.44L384.98 373.44M397.74 373.44L398.94 373.44M235.9 392.02L232.71 393.25M247.46 392.02L243.09 394.65M259.02 392.02L254.93 396.41M270.58 392.02L267.52 396.23M282.14 392.02L278.47 394.06M293.7 392.02L289.74 392.58M305.26 392.02L301.73 392.27M316.82 392.02L313.67 393.63M328.38 392.02L324.58 395.57M339.94 392.02L336.27 396.89M351.5 392.02L348.34 396.88M363.06 392.02L359.2 395.04M374.62 392.02L370.56 393.11M386.18 392.02L381.5 393.1M397.74 392.02L393.58 393.45M235.9 410.6L232.71 411.83M247.46 410.6L243.09 413.23M259.02 410.6L254.93 414.99M270.58 410.6L267.52 414.81M282.14 410.6L278.47 412.64M293.7 410.6L289.74 411.16M305.26 410.6L301.73 410.85M316.82 410.6L313.67 412.21M328.38 410.6L324.58 414.15M339.94 410.6L336.27 415.47M351.5 410.6L348.34 415.46M363.06 410.6L359.2 413.62M374.62 410.6L370.56 411.69M386.18 410.6L381.5 411.68M397.74 410.6L393.58 412.03M235.9 429.18L232.71 430.41M247.46 429.18L243.09 431.81M259.02 429.18L254.93 433.57M270.58 429.18L267.52 433.39M282.14 429.18L278.47 431.22M293.7 429.18L289.74 429.74M305.26 429.18L301.73 429.43M316.82 429.18L313.67 430.79M328.38 429.18L324.58 432.73M339.94 429.18L336.27 434.05M351.5 429.18L348.34 434.04M363.06 429.18L359.2 432.2M374.62 429.18L370.56 430.27M386.18 429.18L381.5 430.26M397.74 429.18L393.58 430.61M235.9 447.76L232.71 448.99M247.46 447.76L243.09 450.39M259.02 447.76L254.93 452.15M270.58 447.76L267.52 451.97M282.14 447.76L278.47 449.8M293.7 447.76L289.74 448.32M305.26 447.76L301.73 448.01M316.82 447.76L313.67 449.37M328.38 447.76L324.58 451.31M339.94 447.76L336.27 452.63M351.5 447.76L348.34 452.62M363.06 447.76L359.2 450.78M374.62 447.76L370.56 448.85M386.18 447.76L381.5 448.84M397.74 447.76L393.58 449.19M235.9 466.34L232.71 467.57M247.46 466.34L243.09 468.97M259.02 466.34L254.93 470.73M270.58 466.34L267.52 470.55M282.14 466.34L278.47 468.38M293.7 466.34L289.74 466.9M305.26 466.34L301.73 466.59M316.82 466.34L313.67 467.95M328.38 466.34L324.58 469.89M339.94 466.34L336.27 471.21M351.5 466.34L348.34 471.2M363.06 466.34L359.2 469.36M374.62 466.34L370.56 467.43M386.18 466.34L381.5 467.42M397.74 466.34L393.58 467.77" stroke="#1a1a1a" stroke-width="1" fill="none"/><path d="M236.51 231.77L235.09 229.29L237.48 229.08ZM248.07 231.77L246.65 229.29L249.04 229.08ZM259.26 231.8L257.97 229.24L260.37 229.16ZM270.58 231.8L269.38 229.2L271.78 229.2ZM281.9 231.8L280.79 229.16L283.19 229.24ZM293.46 231.8L292.35 229.16L294.75 229.24ZM305.26 231.8L304.06 229.2L306.46 229.2ZM317.06 231.8L315.77 229.24L318.17 229.16ZM328.62 231.8L327.33 229.24L329.73 229.16ZM339.94 231.8L338.74 229.2L341.14 229.2ZM351.26 231.8L350.15 229.16L352.55 229.24ZM362.45 231.77L361.48 229.08L363.87 229.29ZM374.01 231.77L373.04 229.08L375.43 229.29ZM385.57 231.77L384.6 229.08L386.99 229.29ZM397.13 231.77L396.16 229.08L398.55 229.29ZM236.51 250.35L235.09 247.87L237.48 247.66ZM248.07 250.35L246.65 247.87L249.04 247.66ZM259.26 250.38L257.97 247.82L260.37 247.74ZM270.58 250.38L269.38 247.78L271.78 247.78ZM281.9 250.38L280.79 247.74L283.19 247.82ZM293.46 250.38L292.35 247.74L294.75 247.82ZM305.26 250.38L304.06 247.78L306.46 247.78ZM317.06 250.38L315.77 247.82L318.17 247.74ZM328.62 250.38L327.33 247.82L329.73 247.74ZM339.94 250.38L338.74 247.78L341.14 247.78ZM351.26 250.38L350.15 247.74L352.55 247.82ZM362.45 250.35L361.48 247.66L363.87 247.87ZM374.01 250.35L373.04 247.66L375.43 247.87ZM385.57 250.35L384.6 247.66L386.99 247.87ZM397.13 250.35L396.16 247.66L398.55 247.87ZM236.39 268.94L235.01 266.43L237.4 266.27ZM247.7 268.96L246.41 266.4L248.81 266.32ZM259.02 268.96L257.82 266.36L260.22 266.36ZM270.34 268.96L269.23 266.32L271.63 266.4ZM281.9 268.96L280.79 266.32L283.19 266.4ZM293.7 268.96L292.5 266.36L294.9 266.36ZM305.5 268.96L304.21 266.4L306.61 266.32ZM317.31 268.94L315.93 266.43L318.32 266.27ZM328.87 268.94L327.49 266.43L329.88 266.27ZM340.18 268.96L338.89 266.4L341.29 266.32ZM351.26 268.96L350.15 266.32L352.55 266.4ZM362.45 268.93L361.48 266.24L363.87 266.45ZM373.89 268.92L372.97 266.21L375.35 266.46ZM385.45 268.92L384.53 266.21L386.91 266.46ZM397.01 268.92L396.09 266.21L398.47 266.46ZM236.14 287.54L234.85 284.98L237.25 284.9ZM247.46 287.54L246.26 284.94L248.66 284.94ZM258.78 287.54L257.67 284.9L260.07 284.98ZM270.34 287.54L269.23 284.9L271.63 284.98ZM281.9 287.54L280.79 284.9L283.19 284.98ZM293.94 287.54L292.65 284.98L295.05 284.9ZM305.87 287.51L304.45 285.03L306.84 284.82ZM317.43 287.51L316.01 285.03L318.4 284.82ZM328.99 287.51L327.57 285.03L329.96 284.82ZM340.18 287.54L338.89 284.98L341.29 284.9ZM351.26 287.54L350.15 284.9L352.55 284.98ZM362.45 287.51L361.48 284.82L363.87 285.03ZM374.01 287.51L373.04 284.82L375.43 285.03ZM385.94 287.54L384.83 284.9L387.23 284.98ZM397.5 287.54L396.39 284.9L398.79 284.98ZM234.09 305.88L233.6 303.06L235.92 303.68ZM245.65 305.88L245.16 303.06L247.48 303.68ZM257.8 306.01L257.07 303.24L259.44 303.66ZM270.34 306.12L269.23 303.48L271.63 303.56ZM282.14 306.12L280.94 303.52L283.34 303.52ZM293.7 306.12L292.5 303.52L294.9 303.52ZM305.26 306.12L304.06 303.52L306.46 303.52ZM317.43 306.09L316.01 303.61L318.4 303.4ZM329.6 306.01L327.96 303.66L330.33 303.24ZM341.16 306.01L339.52 303.66L341.89 303.24ZM351.74 306.12L350.45 303.56L352.85 303.48ZM362.82 306.12L361.71 303.48L364.11 303.56ZM373.65 306.05L372.82 303.31L375.2 303.64ZM384.96 306.01L384.23 303.24L386.6 303.66ZM396.28 305.97L395.65 303.17L398 303.67ZM231.4 323.06L232.15 320.3L233.99 321.84ZM243.44 323.43L243.95 320.62L245.92 321.99ZM255.52 323.76L255.78 320.91L257.86 322.11ZM268.77 324.46L268.28 321.64L270.6 322.26ZM281.53 324.67L280.56 321.98L282.95 322.19ZM294.92 324.59L293.28 322.24L295.65 321.82ZM307.65 324.28L305.64 322.25L307.89 321.42ZM320.32 323.76L317.98 322.11L320.06 320.91ZM331.88 323.76L329.54 322.11L331.62 320.91ZM342.9 324.04L340.71 322.19L342.89 321.18ZM352.11 324.67L350.69 322.19L353.08 321.98ZM361.84 324.59L361.11 321.82L363.48 322.24ZM372.23 324.28L371.99 321.42L374.24 322.25ZM382.68 323.76L382.94 320.91L385.02 322.11ZM393.72 323.43L394.23 320.62L396.2 321.99ZM228.93 336.89L231.41 335.47L231.62 337.86ZM240.57 337.5L242.92 335.86L243.34 338.23ZM252.26 338.09L254.46 336.26L255.08 338.58ZM264.52 339.78L266.17 337.44L267.37 339.52ZM277.64 341.64L278.39 338.88L280.23 340.42ZM298.2 341.64L295.61 340.42L297.45 338.88ZM310.99 340.3L308.18 339.79L309.55 337.82ZM322.18 340.78L319.42 340.03L320.96 338.19ZM333.33 341.23L330.64 340.24L332.34 338.54ZM343.96 342.01L341.48 340.57L343.45 339.2ZM354.46 342.62L352.27 340.77L354.45 339.76ZM363.67 343.25L362.25 340.77L364.64 340.56ZM372.81 343.04L372.32 340.22L374.64 340.84ZM383.22 342.62L383.23 339.76L385.41 340.77ZM394.24 342.34L394.5 339.49L396.58 340.69ZM241.9 354.86L239.5 356.06L239.5 353.66ZM253.44 355.38L250.94 356.37L251.15 353.98ZM264.66 356.91L261.99 357.22L262.81 354.96ZM274.08 360.92L271.74 359.27L273.82 358.07ZM279.6 360.3L279.53 357.62L281.71 358.63ZM293.7 357.36L292.5 356.36L294.9 356.36ZM305.04 357.35L303.93 356.25L306.32 356.46ZM316.82 357.86L315.62 356.66L318.02 356.66ZM327.77 361.83L326.8 359.14L329.19 359.35ZM339.33 361.83L338.36 359.14L340.75 359.35ZM351.5 361.86L350.3 359.26L352.7 359.26ZM363.06 361.86L361.86 359.26L364.26 359.26ZM377.01 361.44L375 359.41L377.25 358.58ZM389.14 361.2L386.95 359.35L389.13 358.34ZM401.24 360.92L398.9 359.27L400.98 358.07ZM232.95 373.96L233.92 372.57L234.34 374.93ZM249.96 373.44L248.96 374.64L248.96 372.24ZM258.41 380.41L257.44 377.72L259.83 377.93ZM270.34 380.44L269.23 377.8L271.63 377.88ZM284.14 373.44L283.34 374.64L283.34 372.24ZM291.7 373.44L292.5 372.24L292.5 374.64ZM307.26 373.44L306.46 374.64L306.46 372.24ZM316.82 376.44L315.62 375.24L318.02 375.24ZM325.99 380.02L325.75 377.16L328 377.99ZM336.98 379.78L336.99 376.92L339.17 377.93ZM348 379.5L348.26 376.65L350.34 377.85ZM361.56 376.04L361.12 374.4L363.2 375.6ZM376.62 373.44L375.82 374.64L375.82 372.24ZM384.18 373.44L384.98 372.24L384.98 374.64ZM399.74 373.44L398.94 374.64L398.94 372.24ZM230.58 394.06L232.28 392.13L233.14 394.37ZM240.86 395.99L242.47 393.62L243.71 395.68ZM253.15 398.31L254.05 395.59L255.81 397.23ZM266 398.33L266.55 395.52L268.49 396.93ZM276.19 395.32L277.88 393.01L279.05 395.11ZM287.16 392.94L289.57 391.39L289.91 393.77ZM299.37 392.43L301.64 391.07L301.81 393.46ZM311.56 394.7L313.12 392.56L314.21 394.7ZM322.68 397.34L323.76 394.69L325.4 396.44ZM334.7 398.97L335.31 396.17L337.23 397.61ZM346.93 399.06L347.33 396.23L349.35 397.54ZM357.15 396.64L358.46 394.09L359.94 395.98ZM368.05 393.78L370.25 391.95L370.87 394.27ZM378.97 393.68L381.23 391.93L381.77 394.27ZM391.12 394.3L393.19 392.32L393.97 394.59ZM230.58 412.64L232.28 410.71L233.14 412.95ZM240.86 414.57L242.47 412.2L243.71 414.26ZM253.15 416.89L254.05 414.17L255.81 415.81ZM266 416.91L266.55 414.1L268.49 415.51ZM276.19 413.9L277.88 411.59L279.05 413.69ZM287.16 411.52L289.57 409.97L289.91 412.35ZM299.37 411.01L301.64 409.65L301.81 412.04ZM311.56 413.28L313.12 411.14L314.21 413.28ZM322.68 415.92L323.76 413.27L325.4 415.02ZM334.7 417.55L335.31 414.75L337.23 416.19ZM346.93 417.64L347.33 414.81L349.35 416.12ZM357.15 415.22L358.46 412.67L359.94 414.56ZM368.05 412.36L370.25 410.53L370.87 412.85ZM378.97 412.26L381.23 410.51L381.77 412.85ZM391.12 412.88L393.19 410.9L393.97 413.17ZM230.58 431.22L232.28 429.29L233.14 431.53ZM240.86 433.15L242.47 430.78L243.71 432.84ZM253.15 435.47L254.05 432.75L255.81 434.39ZM266 435.49L266.55 432.68L268.49 434.09ZM276.19 432.48L277.88 430.17L279.05 432.27ZM287.16 430.1L289.57 428.55L289.91 430.93ZM299.37 429.59L301.64 428.23L301.81 430.62ZM311.56 431.86L313.12 429.72L314.21 431.86ZM322.68 434.5L323.76 431.85L325.4 433.6ZM334.7 436.13L335.31 433.33L337.23 434.77ZM346.93 436.22L347.33 433.39L349.35 434.7ZM357.15 433.8L358.46 431.25L359.94 433.14ZM368.05 430.94L370.25 429.11L370.87 431.43ZM378.97 430.84L381.23 429.09L381.77 431.43ZM391.12 431.46L393.19 429.48L393.97 431.75ZM230.58 449.8L232.28 447.87L233.14 450.11ZM240.86 451.73L242.47 449.36L243.71 451.42ZM253.15 454.05L254.05 451.33L255.81 452.97ZM266 454.07L266.55 451.26L268.49 452.67ZM276.19 451.06L277.88 448.75L279.05 450.85ZM287.16 448.68L289.57 447.13L289.91 449.51ZM299.37 448.17L301.64 446.81L301.81 449.2ZM311.56 450.44L313.12 448.3L314.21 450.44ZM322.68 453.08L323.76 450.43L325.4 452.18ZM334.7 454.71L335.31 451.91L337.23 453.35ZM346.93 454.8L347.33 451.97L349.35 453.28ZM357.15 452.38L358.46 449.83L359.94 451.72ZM368.05 449.52L370.25 447.69L370.87 450.01ZM378.97 449.42L381.23 447.67L381.77 450.01ZM391.12 450.04L393.19 448.06L393.97 450.33ZM230.58 468.38L232.28 466.45L233.14 468.69ZM240.86 470.31L242.47 467.94L243.71 470ZM253.15 472.63L254.05 469.91L255.81 471.55ZM266 472.65L266.55 469.84L268.49 471.25ZM276.19 469.64L277.88 467.33L279.05 469.43ZM287.16 467.26L289.57 465.71L289.91 468.09ZM299.37 466.75L301.64 465.39L301.81 467.78ZM311.56 469.02L313.12 466.88L314.21 469.02ZM322.68 471.66L323.76 469.01L325.4 470.76ZM334.7 473.29L335.31 470.49L337.23 471.93ZM346.93 473.38L347.33 470.55L349.35 471.86ZM357.15 470.96L358.46 468.41L359.94 470.3ZM368.05 468.1L370.25 466.27L370.87 468.59ZM378.97 468L381.23 466.25L381.77 468.59ZM391.12 468.62L393.19 466.64L393.97 468.91Z" fill="#1a1a1a"/></g>
<rect x="229.8" y="219" width="174.2" height="254.2" fill="none" stroke="#151515" stroke-width="1.7"/><line x1="258.8" y1="219" x2="258.8" y2="220.8" stroke="#333" stroke-width="0.8"/><line x1="258.8" y1="473.2" x2="258.8" y2="471.4" stroke="#333" stroke-width="0.8"/><line x1="287.8" y1="219" x2="287.8" y2="220.8" stroke="#333" stroke-width="0.8"/><line x1="287.8" y1="473.2" x2="287.8" y2="471.4" stroke="#333" stroke-width="0.8"/><line x1="316.8" y1="219" x2="316.8" y2="220.8" stroke="#333" stroke-width="0.8"/><line x1="316.8" y1="473.2" x2="316.8" y2="471.4" stroke="#333" stroke-width="0.8"/><line x1="345.8" y1="219" x2="345.8" y2="220.8" stroke="#333" stroke-width="0.8"/><line x1="345.8" y1="473.2" x2="345.8" y2="471.4" stroke="#333" stroke-width="0.8"/><line x1="374.8" y1="219" x2="374.8" y2="220.8" stroke="#333" stroke-width="0.8"/><line x1="374.8" y1="473.2" x2="374.8" y2="471.4" stroke="#333" stroke-width="0.8"/>
<g clip-path="url(#c164)"><g filter="url(#fb)"><rect x="461.5" y="214.5" width="225.5" height="4.1" fill="url(#g165)"/><rect x="461.5" y="218" width="225.5" height="4.1" fill="url(#g166)"/><rect x="461.5" y="221.5" width="225.5" height="4.1" fill="url(#g167)"/><rect x="461.5" y="225" width="225.5" height="4.1" fill="url(#g168)"/><rect x="461.5" y="228.5" width="225.5" height="4.1" fill="url(#g169)"/><rect x="461.5" y="232" width="225.5" height="4.1" fill="url(#g170)"/><rect x="461.5" y="235.5" width="225.5" height="4.1" fill="url(#g171)"/><rect x="461.5" y="239" width="225.5" height="4.1" fill="url(#g172)"/><rect x="461.5" y="242.5" width="225.5" height="4.1" fill="url(#g173)"/><rect x="461.5" y="246" width="225.5" height="4.1" fill="url(#g174)"/><rect x="461.5" y="249.5" width="225.5" height="4.1" fill="url(#g175)"/><rect x="461.5" y="253" width="225.5" height="4.1" fill="url(#g176)"/><rect x="461.5" y="256.5" width="225.5" height="4.1" fill="url(#g177)"/><rect x="461.5" y="260" width="225.5" height="4.1" fill="url(#g178)"/><rect x="461.5" y="263.5" width="225.5" height="4.1" fill="url(#g179)"/><rect x="461.5" y="267" width="225.5" height="4.1" fill="url(#g180)"/><rect x="461.5" y="270.5" width="225.5" height="4.1" fill="url(#g181)"/><rect x="461.5" y="274" width="225.5" height="4.1" fill="url(#g182)"/><rect x="461.5" y="277.5" width="225.5" height="4.1" fill="url(#g183)"/><rect x="461.5" y="281" width="225.5" height="4.1" fill="url(#g184)"/><rect x="461.5" y="284.5" width="225.5" height="4.1" fill="url(#g185)"/><rect x="461.5" y="288" width="225.5" height="4.1" fill="url(#g186)"/><rect x="461.5" y="291.5" width="225.5" height="4.1" fill="url(#g187)"/><rect x="461.5" y="295" width="225.5" height="4.1" fill="url(#g188)"/><rect x="461.5" y="298.5" width="225.5" height="4.1" fill="url(#g189)"/><rect x="461.5" y="302" width="225.5" height="4.1" fill="url(#g190)"/><rect x="461.5" y="305.5" width="225.5" height="4.1" fill="url(#g191)"/><rect x="461.5" y="309" width="225.5" height="4.1" fill="url(#g192)"/><rect x="461.5" y="312.5" width="225.5" height="4.1" fill="url(#g193)"/><rect x="461.5" y="316" width="225.5" height="4.1" fill="url(#g194)"/><rect x="461.5" y="319.5" width="225.5" height="4.1" fill="url(#g195)"/><rect x="461.5" y="323" width="225.5" height="4.1" fill="url(#g196)"/><rect x="461.5" y="326.5" width="225.5" height="4.1" fill="url(#g197)"/><rect x="461.5" y="330" width="225.5" height="4.1" fill="url(#g198)"/><rect x="461.5" y="333.5" width="225.5" height="4.1" fill="url(#g199)"/><rect x="461.5" y="337" width="225.5" height="4.1" fill="url(#g200)"/><rect x="461.5" y="340.5" width="225.5" height="4.1" fill="url(#g201)"/><rect x="461.5" y="344" width="225.5" height="4.1" fill="url(#g202)"/><rect x="461.5" y="347.5" width="225.5" height="4.1" fill="url(#g203)"/></g><ellipse cx="490" cy="338" rx="9" ry="7" fill="url(#hotR)" opacity="0.8"/><ellipse cx="615" cy="337" rx="9" ry="7" fill="url(#hotB)" opacity="0.8"/></g>
<g clip-path="url(#c204)"><g filter="url(#fb)"><rect x="461.5" y="341.4" width="225.5" height="4.1" fill="url(#g205)"/><rect x="461.5" y="344.9" width="225.5" height="4.1" fill="url(#g206)"/><rect x="461.5" y="348.4" width="225.5" height="4.1" fill="url(#g207)"/><rect x="461.5" y="351.9" width="225.5" height="4.1" fill="url(#g208)"/><rect x="461.5" y="355.4" width="225.5" height="4.1" fill="url(#g209)"/><rect x="461.5" y="358.9" width="225.5" height="4.1" fill="url(#g210)"/><rect x="461.5" y="362.4" width="225.5" height="4.1" fill="url(#g211)"/><rect x="461.5" y="365.9" width="225.5" height="4.1" fill="url(#g212)"/><rect x="461.5" y="369.4" width="225.5" height="4.1" fill="url(#g213)"/><rect x="461.5" y="372.9" width="225.5" height="4.1" fill="url(#g214)"/></g><ellipse cx="508" cy="361" rx="8" ry="6" fill="url(#hotR)" opacity="0.7"/><ellipse cx="486" cy="348" rx="4" ry="3" fill="url(#hotB)" opacity="0.5"/><ellipse cx="617" cy="348" rx="4" ry="3" fill="url(#hotR)" opacity="0.5"/><ellipse cx="597" cy="370" rx="5" ry="4" fill="url(#hotB)" opacity="0.6"/></g>
<g clip-path="url(#c215)"><g filter="url(#fb)"><rect x="461.5" y="367.4" width="225.5" height="4.1" fill="url(#g216)"/><rect x="461.5" y="370.9" width="225.5" height="4.1" fill="url(#g217)"/><rect x="461.5" y="374.4" width="225.5" height="4.1" fill="url(#g218)"/><rect x="461.5" y="377.9" width="225.5" height="4.1" fill="url(#g219)"/><rect x="461.5" y="381.4" width="225.5" height="4.1" fill="url(#g220)"/><rect x="461.5" y="384.9" width="225.5" height="4.1" fill="url(#g221)"/><rect x="461.5" y="388.4" width="225.5" height="4.1" fill="url(#g222)"/><rect x="461.5" y="391.9" width="225.5" height="4.1" fill="url(#g223)"/><rect x="461.5" y="395.4" width="225.5" height="4.1" fill="url(#g224)"/><rect x="461.5" y="398.9" width="225.5" height="4.1" fill="url(#g225)"/><rect x="461.5" y="402.4" width="225.5" height="4.1" fill="url(#g226)"/><rect x="461.5" y="405.9" width="225.5" height="4.1" fill="url(#g227)"/><rect x="461.5" y="409.4" width="225.5" height="4.1" fill="url(#g228)"/><rect x="461.5" y="412.9" width="225.5" height="4.1" fill="url(#g229)"/><rect x="461.5" y="416.4" width="225.5" height="4.1" fill="url(#g230)"/><rect x="461.5" y="419.9" width="225.5" height="4.1" fill="url(#g231)"/><rect x="461.5" y="423.4" width="225.5" height="4.1" fill="url(#g232)"/><rect x="461.5" y="426.9" width="225.5" height="4.1" fill="url(#g233)"/><rect x="461.5" y="430.4" width="225.5" height="4.1" fill="url(#g234)"/><rect x="461.5" y="433.9" width="225.5" height="4.1" fill="url(#g235)"/><rect x="461.5" y="437.4" width="225.5" height="4.1" fill="url(#g236)"/><rect x="461.5" y="440.9" width="225.5" height="4.1" fill="url(#g236)"/><rect x="461.5" y="444.4" width="225.5" height="4.1" fill="url(#g237)"/><rect x="461.5" y="447.9" width="225.5" height="4.1" fill="url(#g238)"/><rect x="461.5" y="451.4" width="225.5" height="4.1" fill="url(#g239)"/><rect x="461.5" y="454.9" width="225.5" height="4.1" fill="url(#g240)"/><rect x="461.5" y="458.4" width="225.5" height="4.1" fill="url(#g241)"/><rect x="461.5" y="461.9" width="225.5" height="4.1" fill="url(#g242)"/><rect x="461.5" y="465.4" width="225.5" height="4.1" fill="url(#g243)"/><rect x="461.5" y="468.9" width="225.5" height="4.1" fill="url(#g244)"/><rect x="461.5" y="472.4" width="225.5" height="4.1" fill="url(#g245)"/><rect x="461.5" y="475.9" width="225.5" height="4.1" fill="url(#g245)"/></g><ellipse cx="572" cy="379" rx="6" ry="5" fill="url(#hotB)" opacity="0.6"/><ellipse cx="597" cy="374" rx="6" ry="4" fill="url(#hotB)" opacity="0.5"/></g>
<rect x="487.3" y="339.2" width="65.3" height="6.2" fill="#fff" fill-opacity="0.7" stroke="#222" stroke-width="0.9"/><rect x="509.3" y="345.4" width="43.3" height="6" fill="#fff" fill-opacity="0.7" stroke="#222" stroke-width="0.9"/><rect x="574.3" y="339.2" width="43.4" height="6.2" fill="#fff" fill-opacity="0.7" stroke="#222" stroke-width="0.9"/><rect x="487.3" y="365.5" width="22" height="5.9" fill="#fff" fill-opacity="0.7" stroke="#222" stroke-width="0.9"/><rect x="465.5" y="371.4" width="43.8" height="6.2" fill="#fff" fill-opacity="0.7" stroke="#222" stroke-width="0.9"/><rect x="552.6" y="371.4" width="21.7" height="6.2" fill="#fff" fill-opacity="0.7" stroke="#222" stroke-width="0.9"/><rect x="596.3" y="371.4" width="86.7" height="6.2" fill="#fff" fill-opacity="0.7" stroke="#222" stroke-width="0.9"/><line x1="465.5" y1="345.4" x2="683" y2="345.4" stroke="#222" stroke-width="0.9"/>
<g><path d="M477 223.5L476.24 227.83M498.7 223.5L498.32 227.88M520.4 223.5L520.4 227.9M542.1 223.5L542.1 227.9M563.8 223.5L563.8 227.9M585.5 223.5L585.65 227.9M607.2 223.5L607.58 227.88M628.9 223.5L629.28 227.88M650.6 223.5L650.75 227.9M672.3 223.5L672.3 227.9M477 242.2L476.39 246.56M498.7 242.2L498.32 246.58M520.4 242.2L520.25 246.6M542.1 242.2L541.95 246.6M563.8 242.2L563.8 246.6M585.5 242.2L585.65 246.6M607.2 242.2L607.58 246.58M628.9 242.2L629.28 246.58M650.6 242.2L650.75 246.6M672.3 242.2L672.3 246.6M477 260.9L476.62 265.28M498.7 260.9L498.55 265.3M520.4 260.9L520.02 265.28M542.1 260.9L541.72 265.28M563.8 260.9L563.8 265.3M585.5 260.9L585.65 265.3M607.2 260.9L607.58 265.28M628.9 260.9L629.51 265.26M650.6 260.9L650.75 265.3M672.3 260.9L672.3 265.3M477 279.6L475.86 283.85M498.7 279.6L497.94 283.93M520.4 279.6L519.64 283.93M542.1 279.6L541.49 283.96M563.8 279.6L563.8 284M585.5 279.6L586.11 283.96M607.2 279.6L608.11 283.9M628.9 279.6L630.04 283.85M650.6 279.6L650.6 284M672.3 279.6L671.92 283.98M477 298.3L475.14 302.29M498.7 298.3L497.2 302.43M520.4 298.3L518.9 302.43M542.1 298.3L540.96 302.55M563.8 298.3L563.8 302.7M585.5 298.3L586.64 302.55M607.2 298.3L609.06 302.29M628.9 298.3L630.76 302.29M650.6 298.3L650.22 302.68M672.3 298.3L671.54 302.63M477 317L473.63 319.83M498.7 317L494.89 319.2M520.4 317L516.8 319.52M542.1 317L539.27 320.37M563.8 317L566 320.81M585.5 317L588.61 320.11M607.2 317L610.57 319.83M628.9 317L632.27 319.83M650.6 317L649.84 321.33M672.3 317L671.16 321.25M477 335.7L476.24 340.03M498.7 335.7L494.3 335.7M520.4 335.7L516.02 336.08M542.1 335.7L537.77 336.46M563.8 335.7L564.22 338.06M585.5 335.7L589.9 335.7M607.2 335.7L611.6 335.7M628.9 335.7L630.4 339.83M650.6 335.7L650.22 340.08M672.3 335.7L671.92 340.08M477 354.4L480.37 357.23M498.7 354.4L503.03 355.16M520.4 354.4L524.65 355.54M542.1 354.4L546.23 355.9M563.8 354.4L563.8 358.8M585.5 354.4L581.1 354.4M607.2 354.4L602.8 354.4M628.9 354.4L627.4 358.53M650.6 354.4L650.6 358.8M672.3 354.4L674.5 358.21M477 373.1L477 375.5M498.7 373.1L500.5 373.1M520.4 373.1L521.54 377.35M542.1 373.1L543.6 377.23M563.8 373.1L565.6 373.1M585.5 373.1L583.64 377.09M607.2 373.1L609 373.1M628.9 373.1L627.1 373.1M650.6 373.1L652.4 373.1M672.3 373.1L674.1 373.1M477 391.8L472.98 393.59M498.7 391.8L494.87 392.07M520.4 391.8L517.91 396.48M542.1 391.8L542.1 396.6M563.8 391.8L561.57 395.36M585.5 391.8L580.92 394.66M607.2 391.8L603.36 391.8M628.9 391.8L624.98 393M650.6 391.8L646.71 394.95M672.3 391.8L668.35 395.48M477 410.5L472.98 412.29M498.7 410.5L494.87 410.77M520.4 410.5L517.91 415.18M542.1 410.5L540.38 414.98M563.8 410.5L561.57 414.06M585.5 410.5L580.92 413.36M607.2 410.5L603.36 410.5M628.9 410.5L624.98 411.7M650.6 410.5L646.71 413.65M672.3 410.5L668.35 414.18M477 429.2L472.98 430.99M498.7 429.2L494.87 429.47M520.4 429.2L517.91 433.88M542.1 429.2L540.38 433.68M563.8 429.2L561.57 432.76M585.5 429.2L580.92 432.06M607.2 429.2L603.36 429.2M628.9 429.2L624.98 430.4M650.6 429.2L646.71 432.35M672.3 429.2L668.35 432.88M477 447.9L472.98 449.69M498.7 447.9L494.87 448.17M520.4 447.9L517.91 452.58M542.1 447.9L540.38 452.38M563.8 447.9L561.57 451.46M585.5 447.9L580.92 450.76M607.2 447.9L603.36 447.9M628.9 447.9L624.98 449.1M650.6 447.9L646.71 451.05M672.3 447.9L668.35 451.58M477 466.6L472.98 468.39M498.7 466.6L494.87 466.87M520.4 466.6L517.91 471.28M542.1 466.6L540.38 471.08M563.8 466.6L561.57 470.16M585.5 466.6L580.92 469.46M607.2 466.6L603.36 466.6M628.9 466.6L624.98 467.8M650.6 466.6L646.71 469.75M672.3 466.6L668.35 470.28" stroke="#1a1a1a" stroke-width="1" fill="none"/><path d="M475.78 230.39L475.05 227.62L477.42 228.04ZM498.09 230.47L497.12 227.78L499.51 227.99ZM520.4 230.5L519.2 227.9L521.6 227.9ZM542.1 230.5L540.9 227.9L543.3 227.9ZM563.8 230.5L562.6 227.9L565 227.9ZM585.74 230.5L584.45 227.94L586.85 227.86ZM607.81 230.47L606.39 227.99L608.78 227.78ZM629.51 230.47L628.09 227.99L630.48 227.78ZM650.84 230.5L649.55 227.94L651.95 227.86ZM672.3 230.5L671.1 227.9L673.5 227.9ZM476.03 249.13L475.2 246.39L477.58 246.72ZM498.09 249.17L497.12 246.48L499.51 246.69ZM520.16 249.2L519.05 246.56L521.45 246.64ZM541.86 249.2L540.75 246.56L543.15 246.64ZM563.8 249.2L562.6 246.6L565 246.6ZM585.74 249.2L584.45 246.64L586.85 246.56ZM607.81 249.17L606.39 246.69L608.78 246.48ZM629.51 249.17L628.09 246.69L630.48 246.48ZM650.84 249.2L649.55 246.64L651.95 246.56ZM672.3 249.2L671.1 246.6L673.5 246.6ZM476.39 267.87L475.42 265.18L477.81 265.39ZM498.46 267.9L497.35 265.26L499.75 265.34ZM519.79 267.87L518.82 265.18L521.21 265.39ZM541.49 267.87L540.52 265.18L542.91 265.39ZM563.8 267.9L562.6 265.3L565 265.3ZM585.74 267.9L584.45 265.34L586.85 265.26ZM607.81 267.87L606.39 265.39L608.78 265.18ZM629.87 267.83L628.32 265.42L630.7 265.09ZM650.84 267.9L649.55 265.34L651.95 265.26ZM672.3 267.9L671.1 265.3L673.5 265.3ZM475.19 286.36L474.7 283.54L477.02 284.16ZM497.48 286.49L496.75 283.72L499.12 284.14ZM519.18 286.49L518.45 283.72L520.82 284.14ZM541.13 286.53L540.3 283.79L542.68 284.12ZM563.8 286.6L562.6 284L565 284ZM586.47 286.53L584.92 284.12L587.3 283.79ZM608.66 286.45L606.94 284.15L609.29 283.65ZM630.71 286.36L628.88 284.16L631.2 283.54ZM650.6 286.6L649.4 284L651.8 284ZM671.69 286.57L670.72 283.88L673.11 284.09ZM474.04 304.64L474.05 301.78L476.23 302.79ZM496.31 304.88L496.07 302.02L498.32 302.85ZM518.01 304.88L517.77 302.02L520.02 302.85ZM540.29 305.06L539.8 302.24L542.12 302.86ZM563.8 305.3L562.6 302.7L565 302.7ZM587.31 305.06L585.48 302.86L587.8 302.24ZM610.16 304.64L607.97 302.79L610.15 301.78ZM631.86 304.64L629.67 302.79L631.85 301.78ZM649.99 305.27L649.02 302.58L651.41 302.79ZM671.08 305.19L670.35 302.42L672.72 302.84ZM471.64 321.5L472.86 318.91L474.4 320.75ZM492.64 320.5L494.29 318.16L495.49 320.24ZM514.67 321.02L516.11 318.54L517.48 320.51ZM537.6 322.36L538.35 319.6L540.19 321.14ZM567.3 323.06L564.96 321.41L567.04 320.21ZM590.45 321.95L587.76 320.96L589.46 319.26ZM612.56 321.5L609.8 320.75L611.34 318.91ZM634.26 321.5L631.5 320.75L633.04 318.91ZM649.38 323.89L648.65 321.12L651.02 321.54ZM670.49 323.76L670 320.94L672.32 321.56ZM475.78 342.59L475.05 339.82L477.42 340.24ZM491.7 335.7L494.3 334.5L494.3 336.9ZM513.43 336.31L515.91 334.89L516.12 337.28ZM535.21 336.92L537.56 335.28L537.98 337.65ZM564.49 339.64L563.03 338.27L565.4 337.86ZM592.5 335.7L589.9 336.9L589.9 334.5ZM614.2 335.7L611.6 336.9L611.6 334.5ZM631.29 342.28L629.28 340.25L631.53 339.42ZM649.99 342.67L649.02 339.98L651.41 340.19ZM671.69 342.67L670.72 339.98L673.11 340.19ZM482.36 358.9L479.6 358.15L481.14 356.31ZM505.59 355.62L502.82 356.35L503.24 353.98ZM527.16 356.21L524.34 356.7L524.96 354.38ZM548.68 356.79L545.82 357.03L546.65 354.78ZM563.8 361.4L562.6 358.8L565 358.8ZM578.5 354.4L581.1 353.2L581.1 355.6ZM600.2 354.4L602.8 353.2L602.8 355.6ZM626.51 360.98L626.27 358.12L628.52 358.95ZM650.6 361.4L649.4 358.8L651.8 358.8ZM675.8 360.46L673.46 358.81L675.54 357.61ZM477 377.1L475.8 375.5L478.2 375.5ZM501.7 373.1L500.5 374.3L500.5 371.9ZM522.21 379.86L520.38 377.66L522.7 377.04ZM544.49 379.68L542.48 377.65L544.73 376.82ZM566.8 373.1L565.6 374.3L565.6 371.9ZM582.54 379.44L582.55 376.58L584.73 377.59ZM610.2 373.1L609 374.3L609 371.9ZM625.9 373.1L627.1 371.9L627.1 374.3ZM653.6 373.1L652.4 374.3L652.4 371.9ZM675.3 373.1L674.1 374.3L674.1 371.9ZM470.61 394.65L472.49 392.49L473.47 394.69ZM492.32 392.25L494.79 390.87L494.95 393.26ZM516.69 398.78L516.85 395.92L518.97 397.04ZM542.1 399.2L540.9 396.6L543.3 396.6ZM560.2 397.57L560.56 394.73L562.59 396ZM578.72 396.04L580.28 393.64L581.56 395.68ZM600.8 391.8L603.36 390.6L603.36 393ZM622.49 393.76L624.63 391.85L625.33 394.15ZM644.69 396.58L645.96 394.01L647.47 395.88ZM666.45 397.26L667.53 394.61L669.17 396.36ZM470.61 413.35L472.49 411.19L473.47 413.39ZM492.32 410.95L494.79 409.57L494.95 411.96ZM516.69 417.48L516.85 414.62L518.97 415.74ZM539.45 417.41L539.26 414.55L541.5 415.41ZM560.2 416.27L560.56 413.43L562.59 414.7ZM578.72 414.74L580.28 412.34L581.56 414.38ZM600.8 410.5L603.36 409.3L603.36 411.7ZM622.49 412.46L624.63 410.55L625.33 412.85ZM644.69 415.28L645.96 412.71L647.47 414.58ZM666.45 415.96L667.53 413.31L669.17 415.06ZM470.61 432.05L472.49 429.89L473.47 432.09ZM492.32 429.65L494.79 428.27L494.95 430.66ZM516.69 436.18L516.85 433.32L518.97 434.44ZM539.45 436.11L539.26 433.25L541.5 434.11ZM560.2 434.97L560.56 432.13L562.59 433.4ZM578.72 433.44L580.28 431.04L581.56 433.08ZM600.8 429.2L603.36 428L603.36 430.4ZM622.49 431.16L624.63 429.25L625.33 431.55ZM644.69 433.98L645.96 431.41L647.47 433.28ZM666.45 434.66L667.53 432.01L669.17 433.76ZM470.61 450.75L472.49 448.59L473.47 450.79ZM492.32 448.35L494.79 446.97L494.95 449.36ZM516.69 454.88L516.85 452.02L518.97 453.14ZM539.45 454.81L539.26 451.95L541.5 452.81ZM560.2 453.67L560.56 450.83L562.59 452.1ZM578.72 452.14L580.28 449.74L581.56 451.78ZM600.8 447.9L603.36 446.7L603.36 449.1ZM622.49 449.86L624.63 447.95L625.33 450.25ZM644.69 452.68L645.96 450.11L647.47 451.98ZM666.45 453.36L667.53 450.71L669.17 452.46ZM470.61 469.45L472.49 467.29L473.47 469.49ZM492.32 467.05L494.79 465.67L494.95 468.06ZM516.69 473.58L516.85 470.72L518.97 471.84ZM539.45 473.51L539.26 470.65L541.5 471.51ZM560.2 472.37L560.56 469.53L562.59 470.8ZM578.72 470.84L580.28 468.44L581.56 470.48ZM600.8 466.6L603.36 465.4L603.36 467.8ZM622.49 468.56L624.63 466.65L625.33 468.95ZM644.69 471.38L645.96 468.81L647.47 470.68ZM666.45 472.06L667.53 469.41L669.17 471.16Z" fill="#1a1a1a"/></g>
<rect x="465.5" y="218.5" width="217.5" height="253.5" fill="none" stroke="#151515" stroke-width="1.7"/><line x1="494.5" y1="218.5" x2="494.5" y2="220.3" stroke="#333" stroke-width="0.8"/><line x1="494.5" y1="472" x2="494.5" y2="470.2" stroke="#333" stroke-width="0.8"/><line x1="523.5" y1="218.5" x2="523.5" y2="220.3" stroke="#333" stroke-width="0.8"/><line x1="523.5" y1="472" x2="523.5" y2="470.2" stroke="#333" stroke-width="0.8"/><line x1="552.5" y1="218.5" x2="552.5" y2="220.3" stroke="#333" stroke-width="0.8"/><line x1="552.5" y1="472" x2="552.5" y2="470.2" stroke="#333" stroke-width="0.8"/><line x1="581.5" y1="218.5" x2="581.5" y2="220.3" stroke="#333" stroke-width="0.8"/><line x1="581.5" y1="472" x2="581.5" y2="470.2" stroke="#333" stroke-width="0.8"/><line x1="610.5" y1="218.5" x2="610.5" y2="220.3" stroke="#333" stroke-width="0.8"/><line x1="610.5" y1="472" x2="610.5" y2="470.2" stroke="#333" stroke-width="0.8"/><line x1="639.5" y1="218.5" x2="639.5" y2="220.3" stroke="#333" stroke-width="0.8"/><line x1="639.5" y1="472" x2="639.5" y2="470.2" stroke="#333" stroke-width="0.8"/><line x1="668.5" y1="218.5" x2="668.5" y2="220.3" stroke="#333" stroke-width="0.8"/><line x1="668.5" y1="472" x2="668.5" y2="470.2" stroke="#333" stroke-width="0.8"/>
<g clip-path="url(#c246)"><g filter="url(#fb)"><rect x="28.3" y="542.5" width="138.3" height="6.6" fill="url(#g247)"/><rect x="28.3" y="548.5" width="138.3" height="6.6" fill="url(#g248)"/><rect x="28.3" y="554.5" width="138.3" height="6.6" fill="url(#g249)"/><rect x="28.3" y="560.5" width="138.3" height="6.6" fill="url(#g250)"/><rect x="28.3" y="566.5" width="138.3" height="6.6" fill="url(#g251)"/><rect x="28.3" y="572.5" width="138.3" height="6.6" fill="url(#g252)"/><rect x="28.3" y="578.5" width="138.3" height="6.6" fill="url(#g253)"/><rect x="28.3" y="584.5" width="138.3" height="6.6" fill="url(#g254)"/><rect x="28.3" y="590.5" width="138.3" height="6.6" fill="url(#g255)"/><rect x="28.3" y="596.5" width="138.3" height="6.6" fill="url(#g256)"/><rect x="28.3" y="602.5" width="138.3" height="6.6" fill="url(#g257)"/><rect x="28.3" y="608.5" width="138.3" height="6.6" fill="url(#g258)"/><rect x="28.3" y="614.5" width="138.3" height="6.6" fill="url(#g259)"/><rect x="28.3" y="620.5" width="138.3" height="6.6" fill="url(#g260)"/><rect x="28.3" y="626.5" width="138.3" height="6.6" fill="url(#g261)"/><rect x="28.3" y="632.5" width="138.3" height="6.6" fill="url(#g262)"/><rect x="28.3" y="638.5" width="138.3" height="6.6" fill="url(#g263)"/><rect x="28.3" y="644.5" width="138.3" height="6.6" fill="url(#g264)"/><rect x="28.3" y="650.5" width="138.3" height="6.6" fill="url(#g265)"/><rect x="28.3" y="656.5" width="138.3" height="6.6" fill="url(#g266)"/><rect x="28.3" y="662.5" width="138.3" height="6.6" fill="url(#g267)"/><rect x="28.3" y="668.5" width="138.3" height="6.6" fill="url(#g268)"/><rect x="28.3" y="674.5" width="138.3" height="6.6" fill="url(#g269)"/></g></g>
<g clip-path="url(#c270)"><g filter="url(#fb)"><rect x="28.3" y="669.4" width="138.3" height="4.1" fill="url(#g271)"/><rect x="28.3" y="672.9" width="138.3" height="4.1" fill="url(#g272)"/><rect x="28.3" y="676.4" width="138.3" height="4.1" fill="url(#g273)"/><rect x="28.3" y="679.9" width="138.3" height="4.1" fill="url(#g274)"/><rect x="28.3" y="683.4" width="138.3" height="4.1" fill="url(#g275)"/><rect x="28.3" y="686.9" width="138.3" height="4.1" fill="url(#g276)"/><rect x="28.3" y="690.4" width="138.3" height="4.1" fill="url(#g277)"/><rect x="28.3" y="693.9" width="138.3" height="4.1" fill="url(#g278)"/><rect x="28.3" y="697.4" width="138.3" height="4.1" fill="url(#g279)"/><rect x="28.3" y="700.9" width="138.3" height="4.1" fill="url(#g279)"/></g><ellipse cx="75" cy="695" rx="6" ry="6" fill="url(#hotB)" opacity="0.55"/><ellipse cx="148" cy="691" rx="6" ry="6" fill="url(#hotB)" opacity="0.6"/><ellipse cx="142" cy="701" rx="7" ry="4" fill="url(#hotR)" opacity="0.55"/><ellipse cx="124" cy="688" rx="6" ry="5" fill="url(#hotR)" opacity="0.2"/></g>
<g clip-path="url(#c280)"><g filter="url(#fb)"><rect x="28.3" y="695.4" width="138.3" height="5.6" fill="url(#g281)"/><rect x="28.3" y="700.4" width="138.3" height="5.6" fill="url(#g282)"/><rect x="28.3" y="705.4" width="138.3" height="5.6" fill="url(#g283)"/><rect x="28.3" y="710.4" width="138.3" height="5.6" fill="url(#g284)"/><rect x="28.3" y="715.4" width="138.3" height="5.6" fill="url(#g285)"/><rect x="28.3" y="720.4" width="138.3" height="5.6" fill="url(#g286)"/><rect x="28.3" y="725.4" width="138.3" height="5.6" fill="url(#g287)"/><rect x="28.3" y="730.4" width="138.3" height="5.6" fill="url(#g288)"/><rect x="28.3" y="735.4" width="138.3" height="5.6" fill="url(#g289)"/><rect x="28.3" y="740.4" width="138.3" height="5.6" fill="url(#g290)"/><rect x="28.3" y="745.4" width="138.3" height="5.6" fill="url(#g291)"/><rect x="28.3" y="750.4" width="138.3" height="5.6" fill="url(#g292)"/><rect x="28.3" y="755.4" width="138.3" height="5.6" fill="url(#g293)"/><rect x="28.3" y="760.4" width="138.3" height="5.6" fill="url(#g294)"/><rect x="28.3" y="765.4" width="138.3" height="5.6" fill="url(#g295)"/><rect x="28.3" y="770.4" width="138.3" height="5.6" fill="url(#g296)"/><rect x="28.3" y="775.4" width="138.3" height="5.6" fill="url(#g297)"/><rect x="28.3" y="780.4" width="138.3" height="5.6" fill="url(#g298)"/><rect x="28.3" y="785.4" width="138.3" height="5.6" fill="url(#g299)"/><rect x="28.3" y="790.4" width="138.3" height="5.6" fill="url(#g300)"/><rect x="28.3" y="795.4" width="138.3" height="5.6" fill="url(#g301)"/><rect x="28.3" y="800.4" width="138.3" height="5.6" fill="url(#g302)"/></g><ellipse cx="136" cy="706" rx="6" ry="4" fill="url(#hotB)" opacity="0.35"/><ellipse cx="82" cy="706" rx="5" ry="3" fill="url(#hotR)" opacity="0.2"/></g>
<rect x="84.2" y="667.3" width="52.2" height="11.6" fill="#fff" fill-opacity="0.7" stroke="#222" stroke-width="0.9"/><rect x="149.2" y="673.4" width="13.8" height="5.5" fill="#fff" fill-opacity="0.7" stroke="#222" stroke-width="0.9"/><rect x="32.3" y="693.5" width="39.1" height="5.9" fill="#fff" fill-opacity="0.7" stroke="#222" stroke-width="0.9"/><rect x="32.3" y="699.4" width="13.1" height="5.9" fill="#fff" fill-opacity="0.7" stroke="#222" stroke-width="0.9"/><rect x="58.6" y="699.4" width="25.6" height="5.9" fill="#fff" fill-opacity="0.7" stroke="#222" stroke-width="0.9"/><rect x="123.2" y="693.5" width="26.4" height="5.9" fill="#fff" fill-opacity="0.7" stroke="#222" stroke-width="0.9"/><rect x="123.2" y="699.4" width="13.2" height="5.9" fill="#fff" fill-opacity="0.7" stroke="#222" stroke-width="0.9"/><line x1="32.3" y1="673.4" x2="162.6" y2="673.4" stroke="#222" stroke-width="0.9"/>
<g opacity="0.85"><path d="M38.5 682.94L36.43 683.3M51.45 682.94L51.45 681.14M64.4 682.94L66.2 682.94M77.35 682.94L76.3 684.76M90.3 682.94L88.2 682.94M103.25 682.94L103.25 681.14M116.2 682.94L118.3 682.94M129.15 682.94L131.23 684.14M142.1 682.94L140.02 684.14M155.05 682.94L156.85 682.94M38.5 701.36L36.1 701.36M51.45 701.36L52.65 703.44M90.3 701.36L90.3 698.66M103.25 701.36L104.17 698.82M116.2 701.36L117.12 698.82M142.1 701.36L139.7 701.36M155.05 701.36L156.25 703.44M38.5 719.78L38.15 715.8M51.45 719.78L49.45 716.32M64.4 719.78L64.4 715.78M77.35 719.78L77.35 715.78M90.3 719.78L90.3 715.78M103.25 719.78L104.62 716.02M116.2 719.78L118.2 716.32M129.15 719.78L131.72 716.72M142.1 719.78L139.53 716.72M155.05 719.78L153.05 716.32M38.5 738.2L42.5 738.2M51.45 738.2L55.21 736.83M64.4 738.2L66.97 735.14M77.35 738.2L79.35 734.74M90.3 738.2L90.3 734.2M103.25 738.2L101.25 734.74M116.2 738.2L113.91 734.92M129.15 738.2L126.09 735.63M142.1 738.2L138.34 736.83M155.05 738.2L153.05 734.74M38.5 756.62L41.56 754.05M51.45 756.62L54.28 753.79M64.4 756.62L66.97 753.56M77.35 756.62L80.41 754.05M103.25 756.62L100.68 753.56M116.2 756.62L114.2 753.16M129.15 756.62L128.46 752.68M142.1 756.62L142.1 752.62M155.05 756.62L158.11 754.05M38.5 775.04L37.13 771.28M51.45 775.04L49.45 771.58M64.4 775.04L62.11 771.76M77.35 775.04L74.52 772.21M90.3 775.04L93.36 772.47M103.25 775.04L105.82 771.98M116.2 775.04L118.77 771.98M129.15 775.04L131.72 771.98M142.1 775.04L145.16 772.47M155.05 775.04L158.11 772.47M38.5 793.46L42.26 792.09M51.45 793.46L49.45 790M64.4 793.46L63.03 789.7M77.35 793.46L77.35 789.46M90.3 793.46L91.67 789.7M103.25 793.46L105.25 790M116.2 793.46L118.77 790.4M129.15 793.46L132.21 790.89M142.1 793.46L138.64 791.46M155.05 793.46L155.05 789.46" stroke="#2a2a2a" stroke-width="0.8" fill="none"/><path d="M35.05 683.55L36.26 682.32L36.61 684.29ZM51.45 679.94L52.45 681.14L50.45 681.14ZM67.4 682.94L66.2 683.94L66.2 681.94ZM75.6 685.97L75.43 684.26L77.17 685.26ZM86.8 682.94L88.2 681.94L88.2 683.94ZM103.25 679.94L104.25 681.14L102.25 681.14ZM119.7 682.94L118.3 683.94L118.3 681.94ZM132.61 684.94L130.73 685.01L131.73 683.27ZM138.64 684.94L139.52 683.27L140.52 685.01ZM158.05 682.94L156.85 683.94L156.85 681.94ZM34.5 701.36L36.1 700.36L36.1 702.36ZM53.45 704.82L51.78 703.94L53.52 702.94ZM90.3 696.86L91.3 698.66L89.3 698.66ZM104.79 697.13L105.11 699.16L103.23 698.48ZM117.74 697.13L118.06 699.16L116.18 698.48ZM138.1 701.36L139.7 700.36L139.7 702.36ZM157.05 704.82L155.38 703.94L157.12 702.94ZM37.98 713.8L39.15 715.71L37.16 715.88ZM48.45 714.58L50.32 715.82L48.58 716.82ZM64.4 713.78L65.4 715.78L63.4 715.78ZM77.35 713.78L78.35 715.78L76.35 715.78ZM90.3 713.78L91.3 715.78L89.3 715.78ZM105.3 714.14L105.56 716.36L103.68 715.68ZM119.2 714.58L119.07 716.82L117.33 715.82ZM133.01 715.18L132.49 717.36L130.96 716.07ZM138.24 715.18L140.29 716.07L138.76 717.36ZM152.05 714.58L153.92 715.82L152.18 716.82ZM44.5 738.2L42.5 739.2L42.5 737.2ZM57.09 736.15L55.55 737.77L54.87 735.89ZM68.26 733.6L67.74 735.78L66.21 734.49ZM80.35 733L80.22 735.24L78.48 734.24ZM90.3 732.2L91.3 734.2L89.3 734.2ZM100.25 733L102.12 734.24L100.38 735.24ZM112.76 733.29L114.72 734.35L113.09 735.5ZM124.55 734.34L126.73 734.86L125.44 736.39ZM136.46 736.15L138.68 735.89L138 737.77ZM152.05 733L153.92 734.24L152.18 735.24ZM43.1 752.76L42.21 754.81L40.92 753.28ZM55.69 752.38L54.99 754.5L53.57 753.08ZM68.26 752.02L67.74 754.2L66.21 752.91ZM81.95 752.76L81.06 754.81L79.77 753.28ZM99.39 752.02L101.44 752.91L99.91 754.2ZM113.2 751.42L115.07 752.66L113.33 753.66ZM128.11 750.71L129.44 752.51L127.47 752.85ZM142.1 750.62L143.1 752.62L141.1 752.62ZM159.65 752.76L158.76 754.81L157.47 753.28ZM36.45 769.4L38.07 770.94L36.19 771.62ZM48.45 769.84L50.32 771.08L48.58 772.08ZM60.96 770.13L62.92 771.19L61.29 772.34ZM73.11 770.8L75.23 771.5L73.81 772.92ZM94.9 771.18L94.01 773.23L92.72 771.7ZM107.11 770.44L106.59 772.62L105.06 771.33ZM120.06 770.44L119.54 772.62L118.01 771.33ZM133.01 770.44L132.49 772.62L130.96 771.33ZM146.7 771.18L145.81 773.23L144.52 771.7ZM159.65 771.18L158.76 773.23L157.47 771.7ZM44.14 791.41L42.6 793.03L41.92 791.15ZM48.45 788.26L50.32 789.5L48.58 790.5ZM62.35 787.82L63.97 789.36L62.09 790.04ZM77.35 787.46L78.35 789.46L76.35 789.46ZM92.35 787.82L92.61 790.04L90.73 789.36ZM106.25 788.26L106.12 790.5L104.38 789.5ZM120.06 788.86L119.54 791.04L118.01 789.75ZM133.75 789.6L132.86 791.65L131.57 790.12ZM136.9 790.46L139.14 790.59L138.14 792.33ZM155.05 787.46L156.05 789.46L154.05 789.46Z" fill="#2a2a2a"/></g>
<rect x="32.3" y="546.5" width="130.3" height="253.8" fill="none" stroke="#151515" stroke-width="1.7"/><line x1="61.3" y1="546.5" x2="61.3" y2="548.3" stroke="#333" stroke-width="0.8"/><line x1="61.3" y1="800.3" x2="61.3" y2="798.5" stroke="#333" stroke-width="0.8"/><line x1="90.3" y1="546.5" x2="90.3" y2="548.3" stroke="#333" stroke-width="0.8"/><line x1="90.3" y1="800.3" x2="90.3" y2="798.5" stroke="#333" stroke-width="0.8"/><line x1="119.3" y1="546.5" x2="119.3" y2="548.3" stroke="#333" stroke-width="0.8"/><line x1="119.3" y1="800.3" x2="119.3" y2="798.5" stroke="#333" stroke-width="0.8"/><line x1="148.3" y1="546.5" x2="148.3" y2="548.3" stroke="#333" stroke-width="0.8"/><line x1="148.3" y1="800.3" x2="148.3" y2="798.5" stroke="#333" stroke-width="0.8"/>
<g clip-path="url(#c303)"><g filter="url(#fb)"><rect x="224.3" y="541.7" width="181.3" height="5.6" fill="url(#g304)"/><rect x="224.3" y="546.7" width="181.3" height="5.6" fill="url(#g305)"/><rect x="224.3" y="551.7" width="181.3" height="5.6" fill="url(#g306)"/><rect x="224.3" y="556.7" width="181.3" height="5.6" fill="url(#g307)"/><rect x="224.3" y="561.7" width="181.3" height="5.6" fill="url(#g308)"/><rect x="224.3" y="566.7" width="181.3" height="5.6" fill="url(#g309)"/><rect x="224.3" y="571.7" width="181.3" height="5.6" fill="url(#g310)"/><rect x="224.3" y="576.7" width="181.3" height="5.6" fill="url(#g311)"/><rect x="224.3" y="581.7" width="181.3" height="5.6" fill="url(#g312)"/><rect x="224.3" y="586.7" width="181.3" height="5.6" fill="url(#g313)"/><rect x="224.3" y="591.7" width="181.3" height="5.6" fill="url(#g314)"/><rect x="224.3" y="596.7" width="181.3" height="5.6" fill="url(#g315)"/><rect x="224.3" y="601.7" width="181.3" height="5.6" fill="url(#g316)"/><rect x="224.3" y="606.7" width="181.3" height="5.6" fill="url(#g317)"/><rect x="224.3" y="611.7" width="181.3" height="5.6" fill="url(#g318)"/><rect x="224.3" y="616.7" width="181.3" height="5.6" fill="url(#g319)"/><rect x="224.3" y="621.7" width="181.3" height="5.6" fill="url(#g320)"/><rect x="224.3" y="626.7" width="181.3" height="5.6" fill="url(#g321)"/><rect x="224.3" y="631.7" width="181.3" height="5.6" fill="url(#g322)"/><rect x="224.3" y="636.7" width="181.3" height="5.6" fill="url(#g323)"/><rect x="224.3" y="641.7" width="181.3" height="5.6" fill="url(#g324)"/><rect x="224.3" y="646.7" width="181.3" height="5.6" fill="url(#g325)"/><rect x="224.3" y="651.7" width="181.3" height="5.6" fill="url(#g326)"/><rect x="224.3" y="656.7" width="181.3" height="5.6" fill="url(#g327)"/><rect x="224.3" y="661.7" width="181.3" height="5.6" fill="url(#g328)"/><rect x="224.3" y="666.7" width="181.3" height="5.6" fill="url(#g329)"/><rect x="224.3" y="671.7" width="181.3" height="5.6" fill="url(#g330)"/></g><ellipse cx="401" cy="668" rx="6" ry="5" fill="url(#hotB)" opacity="0.5"/></g>
<g clip-path="url(#c331)"><g filter="url(#fb)"><rect x="224.3" y="666.7" width="181.3" height="4.1" fill="url(#g332)"/><rect x="224.3" y="670.2" width="181.3" height="4.1" fill="url(#g333)"/><rect x="224.3" y="673.7" width="181.3" height="4.1" fill="url(#g334)"/><rect x="224.3" y="677.2" width="181.3" height="4.1" fill="url(#g335)"/><rect x="224.3" y="680.7" width="181.3" height="4.1" fill="url(#g336)"/><rect x="224.3" y="684.2" width="181.3" height="4.1" fill="url(#g337)"/><rect x="224.3" y="687.7" width="181.3" height="4.1" fill="url(#g338)"/><rect x="224.3" y="691.2" width="181.3" height="4.1" fill="url(#g339)"/><rect x="224.3" y="694.7" width="181.3" height="4.1" fill="url(#g340)"/><rect x="224.3" y="698.2" width="181.3" height="4.1" fill="url(#g340)"/></g><ellipse cx="250" cy="689" rx="7" ry="5" fill="url(#hotB)" opacity="0.6"/><ellipse cx="358" cy="693" rx="8" ry="5" fill="url(#hotR)" opacity="0.6"/><ellipse cx="230" cy="677" rx="4" ry="4" fill="url(#hotR)" opacity="0.4"/></g>
<g clip-path="url(#c341)"><g filter="url(#fb)"><rect x="224.3" y="692.3" width="181.3" height="5.6" fill="url(#g342)"/><rect x="224.3" y="697.3" width="181.3" height="5.6" fill="url(#g343)"/><rect x="224.3" y="702.3" width="181.3" height="5.6" fill="url(#g344)"/><rect x="224.3" y="707.3" width="181.3" height="5.6" fill="url(#g345)"/><rect x="224.3" y="712.3" width="181.3" height="5.6" fill="url(#g346)"/><rect x="224.3" y="717.3" width="181.3" height="5.6" fill="url(#g347)"/><rect x="224.3" y="722.3" width="181.3" height="5.6" fill="url(#g348)"/><rect x="224.3" y="727.3" width="181.3" height="5.6" fill="url(#g349)"/><rect x="224.3" y="732.3" width="181.3" height="5.6" fill="url(#g350)"/><rect x="224.3" y="737.3" width="181.3" height="5.6" fill="url(#g351)"/><rect x="224.3" y="742.3" width="181.3" height="5.6" fill="url(#g352)"/><rect x="224.3" y="747.3" width="181.3" height="5.6" fill="url(#g353)"/><rect x="224.3" y="752.3" width="181.3" height="5.6" fill="url(#g354)"/><rect x="224.3" y="757.3" width="181.3" height="5.6" fill="url(#g355)"/><rect x="224.3" y="762.3" width="181.3" height="5.6" fill="url(#g356)"/><rect x="224.3" y="767.3" width="181.3" height="5.6" fill="url(#g357)"/><rect x="224.3" y="772.3" width="181.3" height="5.6" fill="url(#g358)"/><rect x="224.3" y="777.3" width="181.3" height="5.6" fill="url(#g359)"/><rect x="224.3" y="782.3" width="181.3" height="5.6" fill="url(#g360)"/><rect x="224.3" y="787.3" width="181.3" height="5.6" fill="url(#g361)"/><rect x="224.3" y="792.3" width="181.3" height="5.6" fill="url(#g362)"/><rect x="224.3" y="797.3" width="181.3" height="5.6" fill="url(#g363)"/><rect x="224.3" y="802.3" width="181.3" height="5.6" fill="url(#g363)"/></g><ellipse cx="273" cy="704" rx="7" ry="5" fill="url(#hotB)" opacity="0.6"/><ellipse cx="318" cy="703" rx="6" ry="4" fill="url(#hotR)" opacity="0.35"/><ellipse cx="365" cy="710" rx="8" ry="7" fill="url(#hotB)" opacity="0.45"/></g>
<rect x="228.3" y="665.3" width="65" height="5.4" fill="#fff" fill-opacity="0.7" stroke="#222" stroke-width="0.9"/><rect x="228.3" y="670.7" width="65" height="5.3" fill="#fff" fill-opacity="0.7" stroke="#222" stroke-width="0.9"/><rect x="228.3" y="690.9" width="22.4" height="5.4" fill="#fff" fill-opacity="0.7" stroke="#222" stroke-width="0.9"/><rect x="228.3" y="696.3" width="22.4" height="6" fill="#fff" fill-opacity="0.7" stroke="#222" stroke-width="0.9"/><rect x="271.4" y="690.9" width="43.5" height="5.4" fill="#fff" fill-opacity="0.7" stroke="#222" stroke-width="0.9"/><rect x="271.4" y="696.3" width="43.5" height="6" fill="#fff" fill-opacity="0.7" stroke="#222" stroke-width="0.9"/><rect x="358.1" y="696.3" width="43.5" height="6" fill="#fff" fill-opacity="0.7" stroke="#222" stroke-width="0.9"/><rect x="379.5" y="690.9" width="22.1" height="5.4" fill="#fff" fill-opacity="0.7" stroke="#222" stroke-width="0.9"/><line x1="228.3" y1="670.7" x2="401.6" y2="670.7" stroke="#222" stroke-width="0.9"/>
<g opacity="0.7"><path d="M237.55 679.2L235.25 679.2M251.65 679.2L253.95 679.2M269.25 679.2L271.55 679.2M290.35 679.2L288.05 679.2M307.95 679.2L305.65 679.2M322.16 678.6L324.32 679.39M339.65 679.2L341.95 679.2M357.25 679.2L359.55 679.2M374.85 679.2L377.15 679.2M392.45 679.2L394.75 679.2M237.44 716.8L235.28 716.01M251.88 715.33L253.88 716.48M270.12 714.68L271.27 716.68M287.73 717.72L288.88 715.72M304.68 717.08L306.68 715.93M322.16 716.8L324.32 716.01M339.65 716.2L341.95 716.2M357.36 715.6L359.52 716.39M375.26 715.08L377.02 716.55M393.33 714.68L394.48 716.68M237.44 735.3L235.28 734.51M252.53 736.22L253.68 734.22M270.12 736.22L271.27 734.22M287.73 736.22L288.88 734.22M305.33 736.22L306.48 734.22M322.05 734.7L324.35 734.7M340.53 733.18L341.68 735.18M358.12 733.18L359.27 735.18M375.73 733.18L376.88 735.18M393.33 733.18L394.48 735.18M237.44 753.8L235.28 753.01M252.53 754.72L253.68 752.72M270.12 754.72L271.27 752.72M288.6 754.95L288.6 752.65M306.2 754.95L306.2 752.65M323.8 751.45L323.8 753.75M340.53 751.68L341.68 753.68M358.12 751.68L359.27 753.68M375.73 751.68L376.88 753.68M393.33 751.68L394.48 753.68M237.44 772.3L235.28 771.51M252.53 773.22L253.68 771.22M271 773.45L271 771.15M289.48 773.22L288.33 771.22M307.08 773.22L305.93 771.22M322.93 770.18L324.07 772.18M339.88 770.83L341.88 771.98M357.36 771.1L359.52 771.89M375.08 770.83L377.08 771.98M392.68 770.83L394.68 771.98M234.93 788.68L236.08 790.68M251.65 790.2L253.95 790.2M271.88 791.72L270.73 789.72M289.48 791.72L288.33 789.72M306.2 791.95L306.2 789.65M322.93 791.72L324.07 789.72M339.88 791.08L341.88 789.93M357.25 790.2L359.55 790.2M374.85 790.2L377.15 790.2M392.68 789.33L394.68 790.48" stroke="#444" stroke-width="0.7" fill="none"/><path d="M234.05 679.2L235.25 678.6L235.25 679.8ZM255.15 679.2L253.95 679.8L253.95 678.6ZM272.75 679.2L271.55 679.8L271.55 678.6ZM286.85 679.2L288.05 678.6L288.05 679.8ZM304.45 679.2L305.65 678.6L305.65 679.8ZM325.44 679.8L324.11 679.95L324.52 678.82ZM343.15 679.2L341.95 679.8L341.95 678.6ZM360.75 679.2L359.55 679.8L359.55 678.6ZM378.35 679.2L377.15 679.8L377.15 678.6ZM395.95 679.2L394.75 679.8L394.75 678.6ZM234.16 715.6L235.49 715.45L235.08 716.58ZM254.92 717.08L253.58 716.99L254.18 715.96ZM271.88 717.72L270.76 716.98L271.79 716.38ZM289.48 714.68L289.39 716.02L288.36 715.42ZM307.72 715.33L306.98 716.44L306.38 715.41ZM325.44 715.6L324.52 716.58L324.11 715.45ZM343.15 716.2L341.95 716.8L341.95 715.6ZM360.64 716.8L359.31 716.95L359.72 715.82ZM377.94 717.32L376.64 717.01L377.41 716.09ZM395.08 717.72L393.96 716.98L394.99 716.38ZM234.16 734.1L235.49 733.95L235.08 735.08ZM254.28 733.18L254.19 734.52L253.16 733.92ZM271.88 733.18L271.79 734.52L270.76 733.92ZM289.48 733.18L289.39 734.52L288.36 733.92ZM307.08 733.18L306.99 734.52L305.96 733.92ZM325.55 734.7L324.35 735.3L324.35 734.1ZM342.28 736.22L341.16 735.48L342.19 734.88ZM359.88 736.22L358.76 735.48L359.79 734.88ZM377.48 736.22L376.36 735.48L377.39 734.88ZM395.08 736.22L393.96 735.48L394.99 734.88ZM234.16 752.6L235.49 752.45L235.08 753.58ZM254.28 751.68L254.19 753.02L253.16 752.42ZM271.88 751.68L271.79 753.02L270.76 752.42ZM288.6 751.45L289.2 752.65L288 752.65ZM306.2 751.45L306.8 752.65L305.6 752.65ZM323.8 754.95L323.2 753.75L324.4 753.75ZM342.28 754.72L341.16 753.98L342.19 753.38ZM359.88 754.72L358.76 753.98L359.79 753.38ZM377.48 754.72L376.36 753.98L377.39 753.38ZM395.08 754.72L393.96 753.98L394.99 753.38ZM234.16 771.1L235.49 770.95L235.08 772.08ZM254.28 770.18L254.19 771.52L253.16 770.92ZM271 769.95L271.6 771.15L270.4 771.15ZM287.73 770.18L288.84 770.92L287.81 771.52ZM305.33 770.18L306.44 770.92L305.41 771.52ZM324.68 773.22L323.56 772.48L324.59 771.88ZM342.92 772.58L341.58 772.49L342.18 771.46ZM360.64 772.3L359.31 772.45L359.72 771.32ZM378.12 772.58L376.78 772.49L377.38 771.46ZM395.72 772.58L394.38 772.49L394.98 771.46ZM236.68 791.72L235.56 790.98L236.59 790.38ZM255.15 790.2L253.95 790.8L253.95 789.6ZM270.12 788.68L271.24 789.42L270.21 790.02ZM287.73 788.68L288.84 789.42L287.81 790.02ZM306.2 788.45L306.8 789.65L305.6 789.65ZM324.68 788.68L324.59 790.02L323.56 789.42ZM342.92 789.33L342.18 790.44L341.58 789.41ZM360.75 790.2L359.55 790.8L359.55 789.6ZM378.35 790.2L377.15 790.8L377.15 789.6ZM395.72 791.08L394.38 790.99L394.98 789.96Z" fill="#444"/></g>
<g opacity="0.5"><path d="M235.8 623L235.8 623.84M253.4 623L253.4 623.84M271 623L271 623.84M288.6 623L288.6 623.84M306.2 623L306.2 623.84M323.8 623L323.8 623.84M341.4 623L341.4 623.84M359 623L359 623.84M376.6 623L376.6 623.84M394.2 623L394.2 623.84M235.8 641.5L235.8 642.34M253.4 641.5L253.4 642.34M271 641.5L271 642.34M288.6 641.5L288.6 642.34M306.2 641.5L306.2 642.34M323.8 641.5L323.8 642.34M341.4 641.5L341.4 642.34M359 641.5L359 642.34M376.6 641.5L376.6 642.34M394.2 641.5L394.2 642.34M235.8 660L235.8 660.84M253.4 660L253.4 660.84M271 660L271 660.84M288.6 660L288.6 660.84M306.2 660L306.2 660.84M323.8 660L323.8 660.84M341.4 660L341.4 660.84M359 660L359 660.84M376.6 660L376.6 660.84M394.2 660L394.2 660.84" stroke="#666" stroke-width="0.6" fill="none"/><path d="M235.8 624.4L235.4 623.84L236.2 623.84ZM253.4 624.4L253 623.84L253.8 623.84ZM271 624.4L270.6 623.84L271.4 623.84ZM288.6 624.4L288.2 623.84L289 623.84ZM306.2 624.4L305.8 623.84L306.6 623.84ZM323.8 624.4L323.4 623.84L324.2 623.84ZM341.4 624.4L341 623.84L341.8 623.84ZM359 624.4L358.6 623.84L359.4 623.84ZM376.6 624.4L376.2 623.84L377 623.84ZM394.2 624.4L393.8 623.84L394.6 623.84ZM235.8 642.9L235.4 642.34L236.2 642.34ZM253.4 642.9L253 642.34L253.8 642.34ZM271 642.9L270.6 642.34L271.4 642.34ZM288.6 642.9L288.2 642.34L289 642.34ZM306.2 642.9L305.8 642.34L306.6 642.34ZM323.8 642.9L323.4 642.34L324.2 642.34ZM341.4 642.9L341 642.34L341.8 642.34ZM359 642.9L358.6 642.34L359.4 642.34ZM376.6 642.9L376.2 642.34L377 642.34ZM394.2 642.9L393.8 642.34L394.6 642.34ZM235.8 661.4L235.4 660.84L236.2 660.84ZM253.4 661.4L253 660.84L253.8 660.84ZM271 661.4L270.6 660.84L271.4 660.84ZM288.6 661.4L288.2 660.84L289 660.84ZM306.2 661.4L305.8 660.84L306.6 660.84ZM323.8 661.4L323.4 660.84L324.2 660.84ZM341.4 661.4L341 660.84L341.8 660.84ZM359 661.4L358.6 660.84L359.4 660.84ZM376.6 661.4L376.2 660.84L377 660.84ZM394.2 661.4L393.8 660.84L394.6 660.84Z" fill="#666"/></g>
<rect x="228.3" y="545.7" width="173.3" height="253.9" fill="none" stroke="#151515" stroke-width="1.7"/><line x1="257.3" y1="545.7" x2="257.3" y2="547.5" stroke="#333" stroke-width="0.8"/><line x1="257.3" y1="799.6" x2="257.3" y2="797.8" stroke="#333" stroke-width="0.8"/><line x1="286.3" y1="545.7" x2="286.3" y2="547.5" stroke="#333" stroke-width="0.8"/><line x1="286.3" y1="799.6" x2="286.3" y2="797.8" stroke="#333" stroke-width="0.8"/><line x1="315.3" y1="545.7" x2="315.3" y2="547.5" stroke="#333" stroke-width="0.8"/><line x1="315.3" y1="799.6" x2="315.3" y2="797.8" stroke="#333" stroke-width="0.8"/><line x1="344.3" y1="545.7" x2="344.3" y2="547.5" stroke="#333" stroke-width="0.8"/><line x1="344.3" y1="799.6" x2="344.3" y2="797.8" stroke="#333" stroke-width="0.8"/><line x1="373.3" y1="545.7" x2="373.3" y2="547.5" stroke="#333" stroke-width="0.8"/><line x1="373.3" y1="799.6" x2="373.3" y2="797.8" stroke="#333" stroke-width="0.8"/>
<g clip-path="url(#c364)"><g filter="url(#fb)"><rect x="462.6" y="541.5" width="225.1" height="5.6" fill="url(#g365)"/><rect x="462.6" y="546.5" width="225.1" height="5.6" fill="url(#g366)"/><rect x="462.6" y="551.5" width="225.1" height="5.6" fill="url(#g367)"/><rect x="462.6" y="556.5" width="225.1" height="5.6" fill="url(#g368)"/><rect x="462.6" y="561.5" width="225.1" height="5.6" fill="url(#g369)"/><rect x="462.6" y="566.5" width="225.1" height="5.6" fill="url(#g370)"/><rect x="462.6" y="571.5" width="225.1" height="5.6" fill="url(#g371)"/><rect x="462.6" y="576.5" width="225.1" height="5.6" fill="url(#g372)"/><rect x="462.6" y="581.5" width="225.1" height="5.6" fill="url(#g373)"/><rect x="462.6" y="586.5" width="225.1" height="5.6" fill="url(#g374)"/><rect x="462.6" y="591.5" width="225.1" height="5.6" fill="url(#g375)"/><rect x="462.6" y="596.5" width="225.1" height="5.6" fill="url(#g376)"/><rect x="462.6" y="601.5" width="225.1" height="5.6" fill="url(#g377)"/><rect x="462.6" y="606.5" width="225.1" height="5.6" fill="url(#g378)"/><rect x="462.6" y="611.5" width="225.1" height="5.6" fill="url(#g379)"/><rect x="462.6" y="616.5" width="225.1" height="5.6" fill="url(#g380)"/><rect x="462.6" y="621.5" width="225.1" height="5.6" fill="url(#g381)"/><rect x="462.6" y="626.5" width="225.1" height="5.6" fill="url(#g382)"/><rect x="462.6" y="631.5" width="225.1" height="5.6" fill="url(#g383)"/><rect x="462.6" y="636.5" width="225.1" height="5.6" fill="url(#g384)"/><rect x="462.6" y="641.5" width="225.1" height="5.6" fill="url(#g385)"/><rect x="462.6" y="646.5" width="225.1" height="5.6" fill="url(#g386)"/><rect x="462.6" y="651.5" width="225.1" height="5.6" fill="url(#g387)"/><rect x="462.6" y="656.5" width="225.1" height="5.6" fill="url(#g388)"/><rect x="462.6" y="661.5" width="225.1" height="5.6" fill="url(#g389)"/><rect x="462.6" y="666.5" width="225.1" height="5.6" fill="url(#g390)"/><rect x="462.6" y="671.5" width="225.1" height="5.6" fill="url(#g391)"/></g><ellipse cx="490" cy="664" rx="4" ry="4" fill="url(#hotB)" opacity="0.35"/><ellipse cx="550" cy="664" rx="11" ry="8" fill="url(#hotR)" opacity="0.5"/><ellipse cx="578" cy="664" rx="10" ry="8" fill="url(#hotB)" opacity="0.55"/><ellipse cx="619" cy="671" rx="6" ry="4" fill="url(#hotB)" opacity="0.35"/></g>
<g clip-path="url(#c392)"><g filter="url(#fb)"><rect x="462.6" y="668.1" width="225.1" height="4.1" fill="url(#g393)"/><rect x="462.6" y="671.6" width="225.1" height="4.1" fill="url(#g393)"/><rect x="462.6" y="675.1" width="225.1" height="4.1" fill="url(#g394)"/><rect x="462.6" y="678.6" width="225.1" height="4.1" fill="url(#g395)"/><rect x="462.6" y="682.1" width="225.1" height="4.1" fill="url(#g396)"/><rect x="462.6" y="685.6" width="225.1" height="4.1" fill="url(#g397)"/><rect x="462.6" y="689.1" width="225.1" height="4.1" fill="url(#g398)"/><rect x="462.6" y="692.6" width="225.1" height="4.1" fill="url(#g399)"/><rect x="462.6" y="696.1" width="225.1" height="4.1" fill="url(#g400)"/><rect x="462.6" y="699.6" width="225.1" height="4.1" fill="url(#g401)"/></g><ellipse cx="489" cy="677" rx="10" ry="8" fill="url(#hotR)" opacity="0.55"/><ellipse cx="489" cy="692" rx="6" ry="4" fill="url(#hotR)" opacity="0.4"/><ellipse cx="553" cy="679" rx="5" ry="5" fill="url(#hotB)" opacity="0.5"/><ellipse cx="575" cy="678" rx="5" ry="5" fill="url(#hotR)" opacity="0.45"/><ellipse cx="568" cy="694" rx="8" ry="5" fill="url(#hotB)" opacity="0"/></g>
<g clip-path="url(#c402)"><g filter="url(#fb)"><rect x="462.6" y="694.4" width="225.1" height="5.6" fill="url(#g403)"/><rect x="462.6" y="699.4" width="225.1" height="5.6" fill="url(#g404)"/><rect x="462.6" y="704.4" width="225.1" height="5.6" fill="url(#g405)"/><rect x="462.6" y="709.4" width="225.1" height="5.6" fill="url(#g406)"/><rect x="462.6" y="714.4" width="225.1" height="5.6" fill="url(#g407)"/><rect x="462.6" y="719.4" width="225.1" height="5.6" fill="url(#g408)"/><rect x="462.6" y="724.4" width="225.1" height="5.6" fill="url(#g409)"/><rect x="462.6" y="729.4" width="225.1" height="5.6" fill="url(#g410)"/><rect x="462.6" y="734.4" width="225.1" height="5.6" fill="url(#g411)"/><rect x="462.6" y="739.4" width="225.1" height="5.6" fill="url(#g412)"/><rect x="462.6" y="744.4" width="225.1" height="5.6" fill="url(#g413)"/><rect x="462.6" y="749.4" width="225.1" height="5.6" fill="url(#g414)"/><rect x="462.6" y="754.4" width="225.1" height="5.6" fill="url(#g415)"/><rect x="462.6" y="759.4" width="225.1" height="5.6" fill="url(#g416)"/><rect x="462.6" y="764.4" width="225.1" height="5.6" fill="url(#g417)"/><rect x="462.6" y="769.4" width="225.1" height="5.6" fill="url(#g418)"/><rect x="462.6" y="774.4" width="225.1" height="5.6" fill="url(#g419)"/><rect x="462.6" y="779.4" width="225.1" height="5.6" fill="url(#g420)"/><rect x="462.6" y="784.4" width="225.1" height="5.6" fill="url(#g421)"/><rect x="462.6" y="789.4" width="225.1" height="5.6" fill="url(#g422)"/><rect x="462.6" y="794.4" width="225.1" height="5.6" fill="url(#g423)"/><rect x="462.6" y="799.4" width="225.1" height="5.6" fill="url(#g424)"/></g><ellipse cx="510" cy="705" rx="5" ry="3" fill="url(#hotR)" opacity="0.3"/><ellipse cx="553" cy="707" rx="5" ry="4" fill="url(#hotB)" opacity="0.3"/></g>
<rect x="488.6" y="666.5" width="65" height="5.6" fill="#fff" fill-opacity="0.7" stroke="#222" stroke-width="0.9"/><rect x="510.3" y="672.1" width="43.3" height="5.9" fill="#fff" fill-opacity="0.7" stroke="#222" stroke-width="0.9"/><rect x="575" y="666.5" width="44.3" height="5.6" fill="#fff" fill-opacity="0.7" stroke="#222" stroke-width="0.9"/><rect x="488.6" y="692.8" width="21.7" height="5.6" fill="#fff" fill-opacity="0.7" stroke="#222" stroke-width="0.9"/><rect x="466.6" y="698.4" width="43.7" height="5.9" fill="#fff" fill-opacity="0.7" stroke="#222" stroke-width="0.9"/><rect x="553.6" y="698.4" width="22" height="5.9" fill="#fff" fill-opacity="0.7" stroke="#222" stroke-width="0.9"/><rect x="597.3" y="698.4" width="86.4" height="5.9" fill="#fff" fill-opacity="0.7" stroke="#222" stroke-width="0.9"/><line x1="466.6" y1="672.1" x2="683.7" y2="672.1" stroke="#222" stroke-width="0.9"/>
<g opacity="0.55"><path d="M478.55 678.65L477.85 679.86M498.55 680.15L499.76 679.45M520.45 680.55L521.15 679.34M541.95 678.65L542.65 679.86M565.1 679.6L563.7 679.6M584.55 680.15L585.76 679.45M607.55 680.55L606.85 679.34M627.55 680.15L628.76 679.45M649.05 679.05L650.26 679.75M670.55 680.15L671.76 679.45M476.9 698.2L478.3 698.2M500.05 699.15L499.35 697.94M521.95 697.65L520.74 698.35M541.95 699.15L542.65 697.94M564.55 697.25L563.85 698.46M586.05 697.25L585.35 698.46M607.55 699.15L606.85 697.94M627.95 699.15L628.65 697.94M649.45 699.15L650.15 697.94M672.05 699.15L671.35 697.94M478.95 717.35L477.74 716.65M498.95 715.85L499.65 717.06M521.55 715.85L520.85 717.06M541.95 715.85L542.65 717.06M563.45 717.75L564.15 716.54M586.45 717.35L585.24 716.65M605.9 716.8L607.3 716.8M627.55 716.25L628.76 716.95M649.45 715.85L650.15 717.06M670.55 717.35L671.76 716.65M476.9 735.4L478.3 735.4M500.45 734.85L499.24 735.55M519.9 735.4L521.3 735.4M543.45 734.85L542.24 735.55M564.55 736.35L563.85 735.14M584.55 735.95L585.76 735.25M607.95 735.95L606.74 735.25M629.45 735.95L628.24 735.25M650.95 735.95L649.74 735.25M670.55 735.95L671.76 735.25M478.55 754.95L477.85 753.74M498.95 753.05L499.65 754.26M522.1 754L520.7 754M541.55 753.45L542.76 754.15M562.9 754L564.3 754M584.95 753.05L585.65 754.26M607.55 754.95L606.85 753.74M629.05 753.05L628.35 754.26M650.95 753.45L649.74 754.15M672.45 754.55L671.24 753.85M478.95 772.05L477.74 772.75M500.45 773.15L499.24 772.45M520.45 773.55L521.15 772.34M543.45 773.15L542.24 772.45M563.05 773.15L564.26 772.45M586.6 772.6L585.2 772.6M606.45 773.55L607.15 772.34M627.55 773.15L628.76 772.45M650.95 773.15L649.74 772.45M670.55 773.15L671.76 772.45M478.55 790.25L477.85 791.46M500.6 791.2L499.2 791.2M519.9 791.2L521.3 791.2M543.45 790.65L542.24 791.35M563.05 791.75L564.26 791.05M584.95 790.25L585.65 791.46M608.1 791.2L606.7 791.2M627.95 792.15L628.65 790.94M649.05 791.75L650.26 791.05M670.55 791.75L671.76 791.05" stroke="#555" stroke-width="0.6" fill="none"/><path d="M477.45 680.55L477.42 679.61L478.28 680.11ZM500.45 679.05L500.01 679.88L499.51 679.02ZM521.55 678.65L521.58 679.59L520.72 679.09ZM543.05 680.55L542.22 680.11L543.08 679.61ZM562.9 679.6L563.7 679.1L563.7 680.1ZM586.45 679.05L586.01 679.88L585.51 679.02ZM606.45 678.65L607.28 679.09L606.42 679.59ZM629.45 679.05L629.01 679.88L628.51 679.02ZM650.95 680.15L650.01 680.18L650.51 679.32ZM672.45 679.05L672.01 679.88L671.51 679.02ZM479.1 698.2L478.3 698.7L478.3 697.7ZM498.95 697.25L499.78 697.69L498.92 698.19ZM520.05 698.75L520.49 697.92L520.99 698.78ZM543.05 697.25L543.08 698.19L542.22 697.69ZM563.45 699.15L563.42 698.21L564.28 698.71ZM584.95 699.15L584.92 698.21L585.78 698.71ZM606.45 697.25L607.28 697.69L606.42 698.19ZM629.05 697.25L629.08 698.19L628.22 697.69ZM650.55 697.25L650.58 698.19L649.72 697.69ZM670.95 697.25L671.78 697.69L670.92 698.19ZM477.05 716.25L477.99 716.22L477.49 717.08ZM500.05 717.75L499.22 717.31L500.08 716.81ZM520.45 717.75L520.42 716.81L521.28 717.31ZM543.05 717.75L542.22 717.31L543.08 716.81ZM564.55 715.85L564.58 716.79L563.72 716.29ZM584.55 716.25L585.49 716.22L584.99 717.08ZM608.1 716.8L607.3 717.3L607.3 716.3ZM629.45 717.35L628.51 717.38L629.01 716.52ZM650.55 717.75L649.72 717.31L650.58 716.81ZM672.45 716.25L672.01 717.08L671.51 716.22ZM479.1 735.4L478.3 735.9L478.3 734.9ZM498.55 735.95L498.99 735.12L499.49 735.98ZM522.1 735.4L521.3 735.9L521.3 734.9ZM541.55 735.95L541.99 735.12L542.49 735.98ZM563.45 734.45L564.28 734.89L563.42 735.39ZM586.45 734.85L586.01 735.68L585.51 734.82ZM606.05 734.85L606.99 734.82L606.49 735.68ZM627.55 734.85L628.49 734.82L627.99 735.68ZM649.05 734.85L649.99 734.82L649.49 735.68ZM672.45 734.85L672.01 735.68L671.51 734.82ZM477.45 753.05L478.28 753.49L477.42 753.99ZM500.05 754.95L499.22 754.51L500.08 754.01ZM519.9 754L520.7 753.5L520.7 754.5ZM543.45 754.55L542.51 754.58L543.01 753.72ZM565.1 754L564.3 754.5L564.3 753.5ZM586.05 754.95L585.22 754.51L586.08 754.01ZM606.45 753.05L607.28 753.49L606.42 753.99ZM627.95 754.95L627.92 754.01L628.78 754.51ZM649.05 754.55L649.49 753.72L649.99 754.58ZM670.55 753.45L671.49 753.42L670.99 754.28ZM477.05 773.15L477.49 772.32L477.99 773.18ZM498.55 772.05L499.49 772.02L498.99 772.88ZM521.55 771.65L521.58 772.59L520.72 772.09ZM541.55 772.05L542.49 772.02L541.99 772.88ZM564.95 772.05L564.51 772.88L564.01 772.02ZM584.4 772.6L585.2 772.1L585.2 773.1ZM607.55 771.65L607.58 772.59L606.72 772.09ZM629.45 772.05L629.01 772.88L628.51 772.02ZM649.05 772.05L649.99 772.02L649.49 772.88ZM672.45 772.05L672.01 772.88L671.51 772.02ZM477.45 792.15L477.42 791.21L478.28 791.71ZM498.4 791.2L499.2 790.7L499.2 791.7ZM522.1 791.2L521.3 791.7L521.3 790.7ZM541.55 791.75L541.99 790.92L542.49 791.78ZM564.95 790.65L564.51 791.48L564.01 790.62ZM586.05 792.15L585.22 791.71L586.08 791.21ZM605.9 791.2L606.7 790.7L606.7 791.7ZM629.05 790.25L629.08 791.19L628.22 790.69ZM650.95 790.65L650.51 791.48L650.01 790.62ZM672.45 790.65L672.01 791.48L671.51 790.62Z" fill="#555"/></g>
<g opacity="0.35"><path d="M478 586.1L478 586.7M499.5 586.1L499.5 586.7M521 586.1L521 586.7M542.5 586.1L542.5 586.7M564 586.1L564 586.7M585.5 586.1L585.5 586.7M607 586.1L607 586.7M628.5 586.1L628.5 586.7M650 586.1L650 586.7M671.5 586.1L671.5 586.7M478 604.7L478 605.3M499.5 604.7L499.5 605.3M521 604.7L521 605.3M542.5 604.7L542.5 605.3M564 604.7L564 605.3M585.5 604.7L585.5 605.3M607 604.7L607 605.3M628.5 604.7L628.5 605.3M650 604.7L650 605.3M671.5 604.7L671.5 605.3M478 623.3L478 623.9M499.5 623.3L499.5 623.9M521 623.3L521 623.9M542.5 623.3L542.5 623.9M564 623.3L564 623.9M585.5 623.3L585.5 623.9M607 623.3L607 623.9M628.5 623.3L628.5 623.9M650 623.3L650 623.9M671.5 623.3L671.5 623.9M478 641.9L478 642.5M499.5 641.9L499.5 642.5M521 641.9L521 642.5M542.5 641.9L542.5 642.5M564 641.9L564 642.5M585.5 641.9L585.5 642.5M607 641.9L607 642.5M628.5 641.9L628.5 642.5M650 641.9L650 642.5M671.5 641.9L671.5 642.5M478 660.5L478 661.1M499.5 660.5L499.5 661.1M521 660.5L521 661.1M542.5 660.5L542.5 661.1M564 660.5L564 661.1M585.5 660.5L585.5 661.1M607 660.5L607 661.1M628.5 660.5L628.5 661.1M650 660.5L650 661.1M671.5 660.5L671.5 661.1" stroke="#777" stroke-width="0.6" fill="none"/><path d="M478 587.1L477.6 586.7L478.4 586.7ZM499.5 587.1L499.1 586.7L499.9 586.7ZM521 587.1L520.6 586.7L521.4 586.7ZM542.5 587.1L542.1 586.7L542.9 586.7ZM564 587.1L563.6 586.7L564.4 586.7ZM585.5 587.1L585.1 586.7L585.9 586.7ZM607 587.1L606.6 586.7L607.4 586.7ZM628.5 587.1L628.1 586.7L628.9 586.7ZM650 587.1L649.6 586.7L650.4 586.7ZM671.5 587.1L671.1 586.7L671.9 586.7ZM478 605.7L477.6 605.3L478.4 605.3ZM499.5 605.7L499.1 605.3L499.9 605.3ZM521 605.7L520.6 605.3L521.4 605.3ZM542.5 605.7L542.1 605.3L542.9 605.3ZM564 605.7L563.6 605.3L564.4 605.3ZM585.5 605.7L585.1 605.3L585.9 605.3ZM607 605.7L606.6 605.3L607.4 605.3ZM628.5 605.7L628.1 605.3L628.9 605.3ZM650 605.7L649.6 605.3L650.4 605.3ZM671.5 605.7L671.1 605.3L671.9 605.3ZM478 624.3L477.6 623.9L478.4 623.9ZM499.5 624.3L499.1 623.9L499.9 623.9ZM521 624.3L520.6 623.9L521.4 623.9ZM542.5 624.3L542.1 623.9L542.9 623.9ZM564 624.3L563.6 623.9L564.4 623.9ZM585.5 624.3L585.1 623.9L585.9 623.9ZM607 624.3L606.6 623.9L607.4 623.9ZM628.5 624.3L628.1 623.9L628.9 623.9ZM650 624.3L649.6 623.9L650.4 623.9ZM671.5 624.3L671.1 623.9L671.9 623.9ZM478 642.9L477.6 642.5L478.4 642.5ZM499.5 642.9L499.1 642.5L499.9 642.5ZM521 642.9L520.6 642.5L521.4 642.5ZM542.5 642.9L542.1 642.5L542.9 642.5ZM564 642.9L563.6 642.5L564.4 642.5ZM585.5 642.9L585.1 642.5L585.9 642.5ZM607 642.9L606.6 642.5L607.4 642.5ZM628.5 642.9L628.1 642.5L628.9 642.5ZM650 642.9L649.6 642.5L650.4 642.5ZM671.5 642.9L671.1 642.5L671.9 642.5ZM478 661.5L477.6 661.1L478.4 661.1ZM499.5 661.5L499.1 661.1L499.9 661.1ZM521 661.5L520.6 661.1L521.4 661.1ZM542.5 661.5L542.1 661.1L542.9 661.1ZM564 661.5L563.6 661.1L564.4 661.1ZM585.5 661.5L585.1 661.1L585.9 661.1ZM607 661.5L606.6 661.1L607.4 661.1ZM628.5 661.5L628.1 661.1L628.9 661.1ZM650 661.5L649.6 661.1L650.4 661.1ZM671.5 661.5L671.1 661.1L671.9 661.1Z" fill="#777"/></g>
<rect x="466.6" y="545.5" width="217.1" height="253.1" fill="none" stroke="#151515" stroke-width="1.7"/><line x1="495.6" y1="545.5" x2="495.6" y2="547.3" stroke="#333" stroke-width="0.8"/><line x1="495.6" y1="798.6" x2="495.6" y2="796.8" stroke="#333" stroke-width="0.8"/><line x1="524.6" y1="545.5" x2="524.6" y2="547.3" stroke="#333" stroke-width="0.8"/><line x1="524.6" y1="798.6" x2="524.6" y2="796.8" stroke="#333" stroke-width="0.8"/><line x1="553.6" y1="545.5" x2="553.6" y2="547.3" stroke="#333" stroke-width="0.8"/><line x1="553.6" y1="798.6" x2="553.6" y2="796.8" stroke="#333" stroke-width="0.8"/><line x1="582.6" y1="545.5" x2="582.6" y2="547.3" stroke="#333" stroke-width="0.8"/><line x1="582.6" y1="798.6" x2="582.6" y2="796.8" stroke="#333" stroke-width="0.8"/><line x1="611.6" y1="545.5" x2="611.6" y2="547.3" stroke="#333" stroke-width="0.8"/><line x1="611.6" y1="798.6" x2="611.6" y2="796.8" stroke="#333" stroke-width="0.8"/><line x1="640.6" y1="545.5" x2="640.6" y2="547.3" stroke="#333" stroke-width="0.8"/><line x1="640.6" y1="798.6" x2="640.6" y2="796.8" stroke="#333" stroke-width="0.8"/><line x1="669.6" y1="545.5" x2="669.6" y2="547.3" stroke="#333" stroke-width="0.8"/><line x1="669.6" y1="798.6" x2="669.6" y2="796.8" stroke="#333" stroke-width="0.8"/>
<rect x="32.3" y="196" width="129.3" height="11.6" fill="url(#cbar)" stroke="#111" stroke-width="1.1"/><line x1="32.3" y1="193.8" x2="32.3" y2="197.5" stroke="#111" stroke-width="1"/><line x1="96.95" y1="193.8" x2="96.95" y2="197.5" stroke="#111" stroke-width="1"/><line x1="161.6" y1="193.8" x2="161.6" y2="197.5" stroke="#111" stroke-width="1"/><text x="33.7" y="193" font-size="8.2" stroke="#111" stroke-width="0.15" text-anchor="end" fill="#111" font-family="Liberation Serif, serif">-1</text><text x="96.95" y="193" font-size="8.2" stroke="#111" stroke-width="0.15" text-anchor="middle" fill="#111" font-family="Liberation Serif, serif">0</text><text x="161.9" y="193" font-size="8.2" stroke="#111" stroke-width="0.15" text-anchor="middle" fill="#111" font-family="Liberation Serif, serif">1</text><text x="70.5" y="181.5" font-size="8.6" stroke="#111" stroke-width="0.3" textLength="53.6" lengthAdjust="spacingAndGlyphs" fill="#111" >Normalized E<tspan font-size="5.5" dy="1.2">z</tspan></text>
<rect x="251.3" y="195.3" width="130" height="11.4" fill="url(#cbar)" stroke="#111" stroke-width="1.1"/><line x1="251.3" y1="193.1" x2="251.3" y2="196.8" stroke="#111" stroke-width="1"/><line x1="316.3" y1="193.1" x2="316.3" y2="196.8" stroke="#111" stroke-width="1"/><line x1="381.3" y1="193.1" x2="381.3" y2="196.8" stroke="#111" stroke-width="1"/><text x="252.7" y="192.3" font-size="8.2" stroke="#111" stroke-width="0.15" text-anchor="end" fill="#111" font-family="Liberation Serif, serif">-1</text><text x="316.3" y="192.3" font-size="8.2" stroke="#111" stroke-width="0.15" text-anchor="middle" fill="#111" font-family="Liberation Serif, serif">0</text><text x="381.6" y="192.3" font-size="8.2" stroke="#111" stroke-width="0.15" text-anchor="middle" fill="#111" font-family="Liberation Serif, serif">1</text><text x="290.1" y="181.9" font-size="8.6" stroke="#111" stroke-width="0.3" textLength="53.6" lengthAdjust="spacingAndGlyphs" fill="#111" >Normalized E<tspan font-size="5.5" dy="1.2">z</tspan></text>
<rect x="511.3" y="195" width="129.5" height="11.7" fill="url(#cbar)" stroke="#111" stroke-width="1.1"/><line x1="511.3" y1="192.8" x2="511.3" y2="196.5" stroke="#111" stroke-width="1"/><line x1="576.05" y1="192.8" x2="576.05" y2="196.5" stroke="#111" stroke-width="1"/><line x1="640.8" y1="192.8" x2="640.8" y2="196.5" stroke="#111" stroke-width="1"/><text x="512.7" y="192" font-size="8.2" stroke="#111" stroke-width="0.15" text-anchor="end" fill="#111" font-family="Liberation Serif, serif">-1</text><text x="576.05" y="192" font-size="8.2" stroke="#111" stroke-width="0.15" text-anchor="middle" fill="#111" font-family="Liberation Serif, serif">0</text><text x="641.1" y="192" font-size="8.2" stroke="#111" stroke-width="0.15" text-anchor="middle" fill="#111" font-family="Liberation Serif, serif">1</text><text x="549.7" y="181.5" font-size="8.6" stroke="#111" stroke-width="0.3" textLength="53.6" lengthAdjust="spacingAndGlyphs" fill="#111" >Normalized E<tspan font-size="5.5" dy="1.2">z</tspan></text>
<rect x="32.3" y="523.4" width="129.3" height="12" fill="url(#cbar)" stroke="#111" stroke-width="1.1"/><line x1="32.3" y1="521.2" x2="32.3" y2="524.9" stroke="#111" stroke-width="1"/><line x1="96.95" y1="521.2" x2="96.95" y2="524.9" stroke="#111" stroke-width="1"/><line x1="161.6" y1="521.2" x2="161.6" y2="524.9" stroke="#111" stroke-width="1"/><text x="33.7" y="520.4" font-size="8.2" stroke="#111" stroke-width="0.15" text-anchor="end" fill="#111" font-family="Liberation Serif, serif">-1</text><text x="96.95" y="520.4" font-size="8.2" stroke="#111" stroke-width="0.15" text-anchor="middle" fill="#111" font-family="Liberation Serif, serif">0</text><text x="161.9" y="520.4" font-size="8.2" stroke="#111" stroke-width="0.15" text-anchor="middle" fill="#111" font-family="Liberation Serif, serif">1</text><text x="70.5" y="509.8" font-size="8.6" stroke="#111" stroke-width="0.3" textLength="53.6" lengthAdjust="spacingAndGlyphs" fill="#111" >Normalized E<tspan font-size="5.5" dy="1.2">z</tspan></text>
<rect x="250.2" y="524.3" width="129.5" height="11.3" fill="url(#cbar)" stroke="#111" stroke-width="1.1"/><line x1="250.2" y1="522.1" x2="250.2" y2="525.8" stroke="#111" stroke-width="1"/><line x1="314.95" y1="522.1" x2="314.95" y2="525.8" stroke="#111" stroke-width="1"/><line x1="379.7" y1="522.1" x2="379.7" y2="525.8" stroke="#111" stroke-width="1"/><text x="251.6" y="521.3" font-size="8.2" stroke="#111" stroke-width="0.15" text-anchor="end" fill="#111" font-family="Liberation Serif, serif">-1</text><text x="314.95" y="521.3" font-size="8.2" stroke="#111" stroke-width="0.15" text-anchor="middle" fill="#111" font-family="Liberation Serif, serif">0</text><text x="380" y="521.3" font-size="8.2" stroke="#111" stroke-width="0.15" text-anchor="middle" fill="#111" font-family="Liberation Serif, serif">1</text><text x="289" y="509.9" font-size="8.6" stroke="#111" stroke-width="0.3" textLength="53.6" lengthAdjust="spacingAndGlyphs" fill="#111" >Normalized E<tspan font-size="5.5" dy="1.2">z</tspan></text>
<rect x="512.4" y="522" width="129.4" height="11.9" fill="url(#cbar)" stroke="#111" stroke-width="1.1"/><line x1="512.4" y1="519.8" x2="512.4" y2="523.5" stroke="#111" stroke-width="1"/><line x1="577.1" y1="519.8" x2="577.1" y2="523.5" stroke="#111" stroke-width="1"/><line x1="641.8" y1="519.8" x2="641.8" y2="523.5" stroke="#111" stroke-width="1"/><text x="513.8" y="519" font-size="8.2" stroke="#111" stroke-width="0.15" text-anchor="end" fill="#111" font-family="Liberation Serif, serif">-1</text><text x="577.1" y="519" font-size="8.2" stroke="#111" stroke-width="0.15" text-anchor="middle" fill="#111" font-family="Liberation Serif, serif">0</text><text x="642.1" y="519" font-size="8.2" stroke="#111" stroke-width="0.15" text-anchor="middle" fill="#111" font-family="Liberation Serif, serif">1</text><text x="550.4" y="509.2" font-size="8.6" stroke="#111" stroke-width="0.3" textLength="53.6" lengthAdjust="spacingAndGlyphs" fill="#111" >Normalized E<tspan font-size="5.5" dy="1.2">z</tspan></text>
<text x="47.3" y="240.8" font-size="8.9" stroke="#111" stroke-width="0.3" textLength="101.9" lengthAdjust="spacingAndGlyphs" fill="#111" >Wavelength (<tspan font-style="italic">λ</tspan><tspan font-size="5.5" dy="1.2">0</tspan><tspan dy="-1.2">) = 600 nm</tspan></text>
<text x="265" y="241" font-size="8.9" stroke="#111" stroke-width="0.3" textLength="101.8" lengthAdjust="spacingAndGlyphs" fill="#111" >Wavelength (<tspan font-style="italic">λ</tspan><tspan font-size="5.5" dy="1.2">0</tspan><tspan dy="-1.2">) = 800 nm</tspan></text>
<text x="522.4" y="240.8" font-size="8.9" stroke="#111" stroke-width="0.3" textLength="107.8" lengthAdjust="spacingAndGlyphs" fill="#111" >Wavelength (<tspan font-style="italic">λ</tspan><tspan font-size="5.5" dy="1.2">0</tspan><tspan dy="-1.2">) = 1000 nm</tspan></text>
<text x="48.5" y="569.8" font-size="8.9" stroke="#111" stroke-width="0.3" textLength="101.5" lengthAdjust="spacingAndGlyphs" fill="#111" >Wavelength (<tspan font-style="italic">λ</tspan><tspan font-size="5.5" dy="1.2">0</tspan><tspan dy="-1.2">) = 600 nm</tspan></text>
<text x="265.5" y="570" font-size="8.9" stroke="#111" stroke-width="0.3" textLength="101.8" lengthAdjust="spacingAndGlyphs" fill="#111" >Wavelength (<tspan font-style="italic">λ</tspan><tspan font-size="5.5" dy="1.2">0</tspan><tspan dy="-1.2">) = 800 nm</tspan></text>
<text x="523" y="570" font-size="8.9" stroke="#111" stroke-width="0.3" textLength="107.8" lengthAdjust="spacingAndGlyphs" fill="#111" >Wavelength (<tspan font-style="italic">λ</tspan><tspan font-size="5.5" dy="1.2">0</tspan><tspan dy="-1.2">) = 1000 nm</tspan></text>
<line x1="19.7" y1="267.3" x2="19.7" y2="420.5" stroke="#111" stroke-width="1"/><path d="M19.7,424.5L17.5,419.5L21.9,419.5Z" fill="#111"/><text transform="translate(10.9,344.6) rotate(-90)" x="0" y="0" font-size="9" text-anchor="middle" textLength="68.8" lengthAdjust="spacingAndGlyphs" fill="#111" stroke="#111" stroke-width="0.3">Forward direction</text>
<line x1="218.7" y1="267.3" x2="218.7" y2="421.1" stroke="#111" stroke-width="1"/><path d="M218.7,425.1L216.5,420.1L220.9,420.1Z" fill="#111"/><text transform="translate(210.2,345) rotate(-90)" x="0" y="0" font-size="9" text-anchor="middle" textLength="70" lengthAdjust="spacingAndGlyphs" fill="#111" stroke="#111" stroke-width="0.3">Forward direction</text>
<line x1="454.2" y1="264" x2="454.2" y2="417" stroke="#111" stroke-width="1"/><path d="M454.2,421L452,416L456.4,416Z" fill="#111"/><text transform="translate(445.9,342) rotate(-90)" x="0" y="0" font-size="9" text-anchor="middle" textLength="70.3" lengthAdjust="spacingAndGlyphs" fill="#111" stroke="#111" stroke-width="0.3">Forward direction</text>
<line x1="19.6" y1="752.8" x2="19.6" y2="598.7" stroke="#111" stroke-width="1"/><path d="M19.6,594.7L17.4,599.7L21.8,599.7Z" fill="#111"/><text transform="translate(10.9,673.5) rotate(-90)" x="0" y="0" font-size="9" text-anchor="middle" textLength="75.6" lengthAdjust="spacingAndGlyphs" fill="#111" stroke="#111" stroke-width="0.3">Backward direction</text>
<line x1="216.6" y1="752.7" x2="216.6" y2="598.7" stroke="#111" stroke-width="1"/><path d="M216.6,594.7L214.4,599.7L218.8,599.7Z" fill="#111"/><text transform="translate(207.7,673.1) rotate(-90)" x="0" y="0" font-size="9" text-anchor="middle" textLength="74.8" lengthAdjust="spacingAndGlyphs" fill="#111" stroke="#111" stroke-width="0.3">Backward direction</text>
<line x1="455.5" y1="749" x2="455.5" y2="594.4" stroke="#111" stroke-width="1"/><path d="M455.5,590.4L453.3,595.4L457.7,595.4Z" fill="#111"/><text transform="translate(447.3,668.9) rotate(-90)" x="0" y="0" font-size="9" text-anchor="middle" textLength="75.7" lengthAdjust="spacingAndGlyphs" fill="#111" stroke="#111" stroke-width="0.3">Backward direction</text>
<line x1="35.3" y1="478.5" x2="159.6" y2="478.5" stroke="#111" stroke-width="1"/><path d="M32.3,478.5L37.3,476.3L37.3,480.7Z" fill="#111"/><path d="M162.6,478.5L157.6,476.3L157.6,480.7Z" fill="#111"/><text x="39.6" y="495.2" font-size="8.6" stroke="#111" stroke-width="0.3" textLength="115.5" lengthAdjust="spacingAndGlyphs" fill="#111" >Periodic length (Λ<tspan font-size="5.5" dy="1.2">G</tspan><tspan dy="-1.2">) = 450 nm</tspan></text>
<line x1="232.8" y1="479" x2="401" y2="479" stroke="#111" stroke-width="1"/><path d="M229.8,479L234.8,476.8L234.8,481.2Z" fill="#111"/><path d="M404,479L399,476.8L399,481.2Z" fill="#111"/><text x="259.2" y="495.2" font-size="8.6" stroke="#111" stroke-width="0.3" textLength="115" lengthAdjust="spacingAndGlyphs" fill="#111" >Periodic length (Λ<tspan font-size="5.5" dy="1.2">G</tspan><tspan dy="-1.2">) = 600 nm</tspan></text>
<line x1="468.5" y1="479" x2="680" y2="479" stroke="#111" stroke-width="1"/><path d="M465.5,479L470.5,476.8L470.5,481.2Z" fill="#111"/><path d="M683,479L678,476.8L678,481.2Z" fill="#111"/><text x="516.5" y="495.2" font-size="8.6" stroke="#111" stroke-width="0.3" textLength="115.8" lengthAdjust="spacingAndGlyphs" fill="#111" >Periodic length (Λ<tspan font-size="5.5" dy="1.2">G</tspan><tspan dy="-1.2">) = 750 nm</tspan></text>
<line x1="35.3" y1="806.3" x2="159.6" y2="806.3" stroke="#111" stroke-width="1"/><path d="M32.3,806.3L37.3,804.1L37.3,808.5Z" fill="#111"/><path d="M162.6,806.3L157.6,804.1L157.6,808.5Z" fill="#111"/><text x="39.6" y="822.6" font-size="8.6" stroke="#111" stroke-width="0.3" textLength="115.5" lengthAdjust="spacingAndGlyphs" fill="#111" >Periodic length (Λ<tspan font-size="5.5" dy="1.2">G</tspan><tspan dy="-1.2">) = 450 nm</tspan></text>
<line x1="231.3" y1="806" x2="398.6" y2="806" stroke="#111" stroke-width="1"/><path d="M228.3,806L233.3,803.8L233.3,808.2Z" fill="#111"/><path d="M401.6,806L396.6,803.8L396.6,808.2Z" fill="#111"/><text x="256.8" y="822.6" font-size="8.6" stroke="#111" stroke-width="0.3" textLength="116" lengthAdjust="spacingAndGlyphs" fill="#111" >Periodic length (Λ<tspan font-size="5.5" dy="1.2">G</tspan><tspan dy="-1.2">) = 600 nm</tspan></text>
<line x1="469.6" y1="805.3" x2="680.7" y2="805.3" stroke="#111" stroke-width="1"/><path d="M466.6,805.3L471.6,803.1L471.6,807.5Z" fill="#111"/><path d="M683.7,805.3L678.7,803.1L678.7,807.5Z" fill="#111"/><text x="517.1" y="822.6" font-size="8.6" stroke="#111" stroke-width="0.3" textLength="115.2" lengthAdjust="spacingAndGlyphs" fill="#111" >Periodic length (Λ<tspan font-size="5.5" dy="1.2">G</tspan><tspan dy="-1.2">) = 750 nm</tspan></text>
<path d="M30.5,118.51H30.83V70.92H31.11V55.06H31.32V45.54H31.52V45.54" fill="none" stroke="#4a4a4a" stroke-width="1.25"/>
<path d="M30.5,118.51H30.91V70.92H31.32V60.45H35.29V53.15H35.82V48.71H36.64V45.86H42.98V45.06H54.35V43.32H60.82V43.32" fill="none" stroke="#f23c3c" stroke-width="1.25"/>
<path d="M30.5,118.51H31.73V78.85H32.38V66.16H35.98V62.99H38.68V48.55H49.2V47.44H55.74V46.33H70.31V46.33" fill="none" stroke="#1f5fe6" stroke-width="1.25"/>
<path d="M30.5,118.51H31.73V70.92H32.38V67.11H33.12V61.4H36.39V52.52H38.48V51.57H58.73V49.66H60.16V46.65H65.6V39.83H120.42V39.83" fill="none" stroke="#2fad5e" stroke-width="1.25"/>
<path d="M30.5,118.51H31.32V86.78H32.38V64.1H32.95V63.46H46.21V62.67H52.8V61.08H63.02V57.75H64.05V55.37H70.31V46.97H77.71V45.54H83.6V41.57H138.83V39.67H139.32V39.67" fill="none" stroke="#b374f0" stroke-width="1.25"/>
<path d="M30.5,126.44H32.14V116.92H34.18V91.54H36.39V64.26H51.41V59.5H61.59V53.95H87.61V48.71H98.82V47.28H101.28V46.01H109.87V45.38H117.52V38.08H212.27V38.08" fill="none" stroke="#d9941e" stroke-width="1.25"/>
<rect x="30.5" y="15.4" width="184.1" height="126.9" fill="none" stroke="#333" stroke-width="1.2"/>
<line x1="30.5" y1="134.37" x2="32.7" y2="134.37" stroke="#333" stroke-width="1"/>
<text x="28.3" y="136.17" font-size="9" text-anchor="end" fill="#111" >0.2</text>
<line x1="30.5" y1="118.51" x2="32.7" y2="118.51" stroke="#333" stroke-width="1"/>
<text x="28.3" y="120.31" font-size="9" text-anchor="end" fill="#111" >0.3</text>
<line x1="30.5" y1="102.64" x2="32.7" y2="102.64" stroke="#333" stroke-width="1"/>
<text x="28.3" y="104.44" font-size="9" text-anchor="end" fill="#111" >0.4</text>
<line x1="30.5" y1="86.78" x2="32.7" y2="86.78" stroke="#333" stroke-width="1"/>
<text x="28.3" y="88.58" font-size="9" text-anchor="end" fill="#111" >0.5</text>
<line x1="30.5" y1="70.92" x2="32.7" y2="70.92" stroke="#333" stroke-width="1"/>
<text x="28.3" y="72.72" font-size="9" text-anchor="end" fill="#111" >0.6</text>
<line x1="30.5" y1="55.06" x2="32.7" y2="55.06" stroke="#333" stroke-width="1"/>
<text x="28.3" y="56.86" font-size="9" text-anchor="end" fill="#111" >0.7</text>
<line x1="30.5" y1="39.19" x2="32.7" y2="39.19" stroke="#333" stroke-width="1"/>
<text x="28.3" y="40.99" font-size="9" text-anchor="end" fill="#111" >0.8</text>
<line x1="30.5" y1="23.33" x2="32.7" y2="23.33" stroke="#333" stroke-width="1"/>
<text x="28.3" y="25.13" font-size="9" text-anchor="end" fill="#111" >0.9</text>
<line x1="30.5" y1="142.3" x2="30.5" y2="140.1" stroke="#333" stroke-width="1"/>
<text x="30.5" y="151.8" font-size="9" text-anchor="middle" fill="#111" >0</text>
<line x1="50.96" y1="142.3" x2="50.96" y2="141" stroke="#333" stroke-width="1"/>
<line x1="71.41" y1="142.3" x2="71.41" y2="140.1" stroke="#333" stroke-width="1"/>
<text x="71.41" y="151.8" font-size="9" text-anchor="middle" fill="#111" >1000</text>
<line x1="91.87" y1="142.3" x2="91.87" y2="141" stroke="#333" stroke-width="1"/>
<line x1="112.32" y1="142.3" x2="112.32" y2="140.1" stroke="#333" stroke-width="1"/>
<text x="112.32" y="151.8" font-size="9" text-anchor="middle" fill="#111" >2000</text>
<line x1="132.78" y1="142.3" x2="132.78" y2="141" stroke="#333" stroke-width="1"/>
<line x1="153.23" y1="142.3" x2="153.23" y2="140.1" stroke="#333" stroke-width="1"/>
<text x="153.23" y="151.8" font-size="9" text-anchor="middle" fill="#111" >3000</text>
<line x1="173.69" y1="142.3" x2="173.69" y2="141" stroke="#333" stroke-width="1"/>
<line x1="194.14" y1="142.3" x2="194.14" y2="140.1" stroke="#333" stroke-width="1"/>
<text x="194.14" y="151.8" font-size="9" text-anchor="middle" fill="#111" >4000</text>
<line x1="214.6" y1="142.3" x2="214.6" y2="141" stroke="#333" stroke-width="1"/>
<text x="71.4" y="9.3" font-size="8.6" stroke="#111" stroke-width="0.3" textLength="101.6" lengthAdjust="spacingAndGlyphs" fill="#111" >Wavelength (<tspan font-style="italic">λ</tspan><tspan font-size="5.5" dy="1.2">0</tspan><tspan dy="-1.2">) = 600 nm</tspan></text>
<text x="90" y="165.6" font-size="8.8" stroke="#111" stroke-width="0.3" textLength="73" lengthAdjust="spacingAndGlyphs" fill="#111" >Optimization cycle</text>
<text transform="translate(11,79.2) rotate(-90)" x="0" y="0" font-size="9.4" text-anchor="middle" textLength="62.2" lengthAdjust="spacingAndGlyphs" fill="#111">Maximum <tspan font-style="italic">FoM</tspan></text>
<line x1="151.9" y1="61.6" x2="172.5" y2="61.6" stroke="#4a4a4a" stroke-width="1.25"/>
<text x="174.7" y="64.9" font-size="9.2" textLength="26.3" lengthAdjust="spacingAndGlyphs" fill="#111"><tspan font-style="italic">N</tspan> = 12</text>
<line x1="151.9" y1="71.92" x2="172.5" y2="71.92" stroke="#f23c3c" stroke-width="1.25"/>
<text x="174.7" y="75.22" font-size="9.2" textLength="26.3" lengthAdjust="spacingAndGlyphs" fill="#111"><tspan font-style="italic">N</tspan> = 16</text>
<line x1="151.9" y1="82.24" x2="172.5" y2="82.24" stroke="#1f5fe6" stroke-width="1.25"/>
<text x="174.7" y="85.54" font-size="9.2" textLength="26.3" lengthAdjust="spacingAndGlyphs" fill="#111"><tspan font-style="italic">N</tspan> = 20</text>
<line x1="151.9" y1="92.56" x2="172.5" y2="92.56" stroke="#2fad5e" stroke-width="1.25"/>
<text x="174.7" y="95.86" font-size="9.2" textLength="26.3" lengthAdjust="spacingAndGlyphs" fill="#111"><tspan font-style="italic">N</tspan> = 24</text>
<line x1="151.9" y1="102.88" x2="172.5" y2="102.88" stroke="#b374f0" stroke-width="1.25"/>
<text x="174.7" y="106.18" font-size="9.2" textLength="26.3" lengthAdjust="spacingAndGlyphs" fill="#111"><tspan font-style="italic">N</tspan> = 32</text>
<line x1="151.9" y1="113.2" x2="172.5" y2="113.2" stroke="#d9941e" stroke-width="1.25"/>
<text x="174.7" y="116.5" font-size="9.2" textLength="26.3" lengthAdjust="spacingAndGlyphs" fill="#111"><tspan font-style="italic">N</tspan> = 40</text>
<path d="M264.6,94.71H265.19V82.02H265.7V59.81H267.02V55.06H267.9V51.88H269.88V38.24H281.69V38.24" fill="none" stroke="#4a4a4a" stroke-width="1.25"/>
<path d="M264.6,93.13H265.33V83.61H274.5V82.02H276.19V29.2H279.13V28.41H292.84V28.41" fill="none" stroke="#f23c3c" stroke-width="1.25"/>
<path d="M264.6,86.78H265.19V61.4H268.63V53.47H292.26V51.57H301.43V39.19H347.72V39.19" fill="none" stroke="#1f5fe6" stroke-width="1.25"/>
<path d="M264.6,86.78H265.33V79.64H275.6V62.99H279.71V55.06H301.43V51.57H308.03V42.37H333.56V34.91H398.12V34.91" fill="none" stroke="#2fad5e" stroke-width="1.25"/>
<path d="M264.6,86.78H265.19V70.92H266.8V68.54H282.43V62.67H289.62V60.13H299.45V58.23H318.52V57.28H330.33V51.88H333.56V49.82H341.48V43H345.37V38.24H368.55V33.64H383.08V32.37H395.4V31.26H397.9V27.77" fill="none" stroke="#b374f0" stroke-width="1.25"/>
<path d="M264.6,94.71H267.9V75.68H270.91V65.37H282.43V61.4H284.99V60.61H295.48V51.88H325.71V48.71H341.48V45.54H344.78V43.64H379.34V40.46H417.92V34.91H435.6V32.37H446.83V32.37" fill="none" stroke="#d9941e" stroke-width="1.25"/>
<rect x="264.6" y="15.4" width="183.4" height="126.9" fill="none" stroke="#333" stroke-width="1.2"/>
<line x1="264.6" y1="134.37" x2="266.8" y2="134.37" stroke="#333" stroke-width="1"/>
<text x="262" y="136.17" font-size="9" text-anchor="end" fill="#111" >0.2</text>
<line x1="264.6" y1="118.51" x2="266.8" y2="118.51" stroke="#333" stroke-width="1"/>
<text x="262" y="120.31" font-size="9" text-anchor="end" fill="#111" >0.3</text>
<line x1="264.6" y1="102.64" x2="266.8" y2="102.64" stroke="#333" stroke-width="1"/>
<text x="262" y="104.44" font-size="9" text-anchor="end" fill="#111" >0.4</text>
<line x1="264.6" y1="86.78" x2="266.8" y2="86.78" stroke="#333" stroke-width="1"/>
<text x="262" y="88.58" font-size="9" text-anchor="end" fill="#111" >0.5</text>
<line x1="264.6" y1="70.92" x2="266.8" y2="70.92" stroke="#333" stroke-width="1"/>
<text x="262" y="72.72" font-size="9" text-anchor="end" fill="#111" >0.6</text>
<line x1="264.6" y1="55.06" x2="266.8" y2="55.06" stroke="#333" stroke-width="1"/>
<text x="262" y="56.86" font-size="9" text-anchor="end" fill="#111" >0.7</text>
<line x1="264.6" y1="39.19" x2="266.8" y2="39.19" stroke="#333" stroke-width="1"/>
<text x="262" y="40.99" font-size="9" text-anchor="end" fill="#111" >0.8</text>
<line x1="264.6" y1="23.33" x2="266.8" y2="23.33" stroke="#333" stroke-width="1"/>
<text x="262" y="25.13" font-size="9" text-anchor="end" fill="#111" >0.9</text>
<line x1="264.6" y1="142.3" x2="264.6" y2="140.1" stroke="#333" stroke-width="1"/>
<text x="264.6" y="151.8" font-size="9" text-anchor="middle" fill="#111" >0</text>
<line x1="282.94" y1="142.3" x2="282.94" y2="141" stroke="#333" stroke-width="1"/>
<line x1="301.28" y1="142.3" x2="301.28" y2="140.1" stroke="#333" stroke-width="1"/>
<text x="301.28" y="151.8" font-size="9" text-anchor="middle" fill="#111" >500</text>
<line x1="319.62" y1="142.3" x2="319.62" y2="141" stroke="#333" stroke-width="1"/>
<line x1="337.96" y1="142.3" x2="337.96" y2="140.1" stroke="#333" stroke-width="1"/>
<text x="337.96" y="151.8" font-size="9" text-anchor="middle" fill="#111" >1000</text>
<line x1="356.3" y1="142.3" x2="356.3" y2="141" stroke="#333" stroke-width="1"/>
<line x1="374.64" y1="142.3" x2="374.64" y2="140.1" stroke="#333" stroke-width="1"/>
<text x="374.64" y="151.8" font-size="9" text-anchor="middle" fill="#111" >1500</text>
<line x1="392.98" y1="142.3" x2="392.98" y2="141" stroke="#333" stroke-width="1"/>
<line x1="411.32" y1="142.3" x2="411.32" y2="140.1" stroke="#333" stroke-width="1"/>
<text x="411.32" y="151.8" font-size="9" text-anchor="middle" fill="#111" >2000</text>
<line x1="429.66" y1="142.3" x2="429.66" y2="141" stroke="#333" stroke-width="1"/>
<line x1="448" y1="142.3" x2="448" y2="140.1" stroke="#333" stroke-width="1"/>
<text x="448" y="151.8" font-size="9" text-anchor="middle" fill="#111" >2500</text>
<text x="302.5" y="9.3" font-size="8.6" stroke="#111" stroke-width="0.3" textLength="101.8" lengthAdjust="spacingAndGlyphs" fill="#111" >Wavelength (<tspan font-style="italic">λ</tspan><tspan font-size="5.5" dy="1.2">0</tspan><tspan dy="-1.2">) = 800 nm</tspan></text>
<text x="324.4" y="165.6" font-size="8.8" stroke="#111" stroke-width="0.3" textLength="71.5" lengthAdjust="spacingAndGlyphs" fill="#111" >Optimization cycle</text>
<text transform="translate(245,79.2) rotate(-90)" x="0" y="0" font-size="9.4" text-anchor="middle" textLength="62.2" lengthAdjust="spacingAndGlyphs" fill="#111">Maximum <tspan font-style="italic">FoM</tspan></text>
<line x1="385.8" y1="61.6" x2="406.4" y2="61.6" stroke="#4a4a4a" stroke-width="1.25"/>
<text x="408.6" y="64.9" font-size="9.2" textLength="26.3" lengthAdjust="spacingAndGlyphs" fill="#111"><tspan font-style="italic">N</tspan> = 12</text>
<line x1="385.8" y1="71.92" x2="406.4" y2="71.92" stroke="#f23c3c" stroke-width="1.25"/>
<text x="408.6" y="75.22" font-size="9.2" textLength="26.3" lengthAdjust="spacingAndGlyphs" fill="#111"><tspan font-style="italic">N</tspan> = 16</text>
<line x1="385.8" y1="82.24" x2="406.4" y2="82.24" stroke="#1f5fe6" stroke-width="1.25"/>
<text x="408.6" y="85.54" font-size="9.2" textLength="26.3" lengthAdjust="spacingAndGlyphs" fill="#111"><tspan font-style="italic">N</tspan> = 20</text>
<line x1="385.8" y1="92.56" x2="406.4" y2="92.56" stroke="#2fad5e" stroke-width="1.25"/>
<text x="408.6" y="95.86" font-size="9.2" textLength="26.3" lengthAdjust="spacingAndGlyphs" fill="#111"><tspan font-style="italic">N</tspan> = 24</text>
<line x1="385.8" y1="102.88" x2="406.4" y2="102.88" stroke="#b374f0" stroke-width="1.25"/>
<text x="408.6" y="106.18" font-size="9.2" textLength="26.3" lengthAdjust="spacingAndGlyphs" fill="#111"><tspan font-style="italic">N</tspan> = 32</text>
<line x1="385.8" y1="113.2" x2="406.4" y2="113.2" stroke="#d9941e" stroke-width="1.25"/>
<text x="408.6" y="116.5" font-size="9.2" textLength="26.3" lengthAdjust="spacingAndGlyphs" fill="#111"><tspan font-style="italic">N</tspan> = 40</text>
<path d="M497.5,102.64H497.92V85.83H499.38V54.26H500.64V53.15H513.19V52.36H513.97V52.36" fill="none" stroke="#4a4a4a" stroke-width="1.25"/>
<path d="M497.5,86.78H497.92V74.73H502.31V68.86H511.09V61.56H521.29V58.23H562.86V43.64H609.91V43H614.88V43" fill="none" stroke="#f23c3c" stroke-width="1.25"/>
<path d="M497.5,86.78H497.92V80.59H502.99V71.08H515.38V58.23H527.77V54.58H530.75V50.61H625.6V50.46" fill="none" stroke="#1f5fe6" stroke-width="1.25"/>
<path d="M497.5,99.47H500.11V82.82H503.77V51.57H524.17V44.59H537.97V38.56H632.14V38.24" fill="none" stroke="#2fad5e" stroke-width="1.25"/>
<path d="M497.5,78.85H497.92V67.43H502.31V46.33H530.75V40.46H538.75V38.24H541.68V36.5H570.86V33.48H583.25V32.37" fill="none" stroke="#b374f0" stroke-width="1.25"/>
<path d="M497.5,78.85H497.92V71.08H509.58V63.78H523.49V55.06H524.48V47.92H552.66V43.64H628.32V40.78H645.47V38.24H649.13V36.02H651.38V31.26H661.05V30.47H663.56V30.47" fill="none" stroke="#d9941e" stroke-width="1.25"/>
<rect x="497.5" y="15.4" width="183" height="126.9" fill="none" stroke="#333" stroke-width="1.2"/>
<line x1="497.5" y1="134.37" x2="499.7" y2="134.37" stroke="#333" stroke-width="1"/>
<text x="495.8" y="136.17" font-size="9" text-anchor="end" fill="#111" >0.2</text>
<line x1="497.5" y1="118.51" x2="499.7" y2="118.51" stroke="#333" stroke-width="1"/>
<text x="495.8" y="120.31" font-size="9" text-anchor="end" fill="#111" >0.3</text>
<line x1="497.5" y1="102.64" x2="499.7" y2="102.64" stroke="#333" stroke-width="1"/>
<text x="495.8" y="104.44" font-size="9" text-anchor="end" fill="#111" >0.4</text>
<line x1="497.5" y1="86.78" x2="499.7" y2="86.78" stroke="#333" stroke-width="1"/>
<text x="495.8" y="88.58" font-size="9" text-anchor="end" fill="#111" >0.5</text>
<line x1="497.5" y1="70.92" x2="499.7" y2="70.92" stroke="#333" stroke-width="1"/>
<text x="495.8" y="72.72" font-size="9" text-anchor="end" fill="#111" >0.6</text>
<line x1="497.5" y1="55.06" x2="499.7" y2="55.06" stroke="#333" stroke-width="1"/>
<text x="495.8" y="56.86" font-size="9" text-anchor="end" fill="#111" >0.7</text>
<line x1="497.5" y1="39.19" x2="499.7" y2="39.19" stroke="#333" stroke-width="1"/>
<text x="495.8" y="40.99" font-size="9" text-anchor="end" fill="#111" >0.8</text>
<line x1="497.5" y1="23.33" x2="499.7" y2="23.33" stroke="#333" stroke-width="1"/>
<text x="495.8" y="25.13" font-size="9" text-anchor="end" fill="#111" >0.9</text>
<line x1="497.5" y1="142.3" x2="497.5" y2="140.1" stroke="#333" stroke-width="1"/>
<text x="497.5" y="151.8" font-size="9" text-anchor="middle" fill="#111" >0</text>
<line x1="523.64" y1="142.3" x2="523.64" y2="141" stroke="#333" stroke-width="1"/>
<line x1="549.79" y1="142.3" x2="549.79" y2="140.1" stroke="#333" stroke-width="1"/>
<text x="549.79" y="151.8" font-size="9" text-anchor="middle" fill="#111" >1000</text>
<line x1="575.93" y1="142.3" x2="575.93" y2="141" stroke="#333" stroke-width="1"/>
<line x1="602.07" y1="142.3" x2="602.07" y2="140.1" stroke="#333" stroke-width="1"/>
<text x="602.07" y="151.8" font-size="9" text-anchor="middle" fill="#111" >2000</text>
<line x1="628.21" y1="142.3" x2="628.21" y2="141" stroke="#333" stroke-width="1"/>
<line x1="654.36" y1="142.3" x2="654.36" y2="140.1" stroke="#333" stroke-width="1"/>
<text x="654.36" y="151.8" font-size="9" text-anchor="middle" fill="#111" >3000</text>
<line x1="680.5" y1="142.3" x2="680.5" y2="141" stroke="#333" stroke-width="1"/>
<text x="534.6" y="9.3" font-size="8.6" stroke="#111" stroke-width="0.3" textLength="106.1" lengthAdjust="spacingAndGlyphs" fill="#111" >Wavelength (<tspan font-style="italic">λ</tspan><tspan font-size="5.5" dy="1.2">0</tspan><tspan dy="-1.2">) = 1000 nm</tspan></text>
<text x="556.4" y="165.6" font-size="8.8" stroke="#111" stroke-width="0.3" textLength="72.6" lengthAdjust="spacingAndGlyphs" fill="#111" >Optimization cycle</text>
<text transform="translate(477,79.2) rotate(-90)" x="0" y="0" font-size="9.4" text-anchor="middle" textLength="62.2" lengthAdjust="spacingAndGlyphs" fill="#111">Maximum <tspan font-style="italic">FoM</tspan></text>
<line x1="618.4" y1="61.6" x2="639" y2="61.6" stroke="#4a4a4a" stroke-width="1.25"/>
<text x="641.2" y="64.9" font-size="9.2" textLength="26.3" lengthAdjust="spacingAndGlyphs" fill="#111"><tspan font-style="italic">N</tspan> = 12</text>
<line x1="618.4" y1="71.92" x2="639" y2="71.92" stroke="#f23c3c" stroke-width="1.25"/>
<text x="641.2" y="75.22" font-size="9.2" textLength="26.3" lengthAdjust="spacingAndGlyphs" fill="#111"><tspan font-style="italic">N</tspan> = 16</text>
<line x1="618.4" y1="82.24" x2="639" y2="82.24" stroke="#1f5fe6" stroke-width="1.25"/>
<text x="641.2" y="85.54" font-size="9.2" textLength="26.3" lengthAdjust="spacingAndGlyphs" fill="#111"><tspan font-style="italic">N</tspan> = 20</text>
<line x1="618.4" y1="92.56" x2="639" y2="92.56" stroke="#2fad5e" stroke-width="1.25"/>
<text x="641.2" y="95.86" font-size="9.2" textLength="26.3" lengthAdjust="spacingAndGlyphs" fill="#111"><tspan font-style="italic">N</tspan> = 24</text>
<line x1="618.4" y1="102.88" x2="639" y2="102.88" stroke="#b374f0" stroke-width="1.25"/>
<text x="641.2" y="106.18" font-size="9.2" textLength="26.3" lengthAdjust="spacingAndGlyphs" fill="#111"><tspan font-style="italic">N</tspan> = 32</text>
<line x1="618.4" y1="113.2" x2="639" y2="113.2" stroke="#d9941e" stroke-width="1.25"/>
<text x="641.2" y="116.5" font-size="9.2" textLength="26.3" lengthAdjust="spacingAndGlyphs" fill="#111"><tspan font-style="italic">N</tspan> = 40</text>
<line x1="497.5" y1="16" x2="497.5" y2="141.7" stroke="#fff" stroke-width="1.3"/><line x1="497.4" y1="16" x2="497.4" y2="141.7" stroke="#999" stroke-width="1.1"/>
<text x="3.7" y="10.7" font-size="12.2" font-weight="bold" fill="#000" >A</text>
<text x="237.2" y="10.7" font-size="12.2" font-weight="bold" fill="#000" >B</text>
<text x="471" y="10.7" font-size="12.2" font-weight="bold" fill="#000" >C</text>
<text x="12.6" y="191.9" font-size="12.2" font-weight="bold" fill="#000" >D</text>
<text x="211.4" y="191.9" font-size="12.2" font-weight="bold" fill="#000" >E</text>
<text x="447.5" y="191.9" font-size="12.2" font-weight="bold" fill="#000" >F</text>
<text x="11.8" y="519.6" font-size="12.2" font-weight="bold" fill="#000" >G</text>
<text x="209.8" y="519.6" font-size="12.2" font-weight="bold" fill="#000" >H</text>
<text x="449.3" y="519.6" font-size="12.2" font-weight="bold" fill="#000" >I</text>
</svg>
</body></html>
